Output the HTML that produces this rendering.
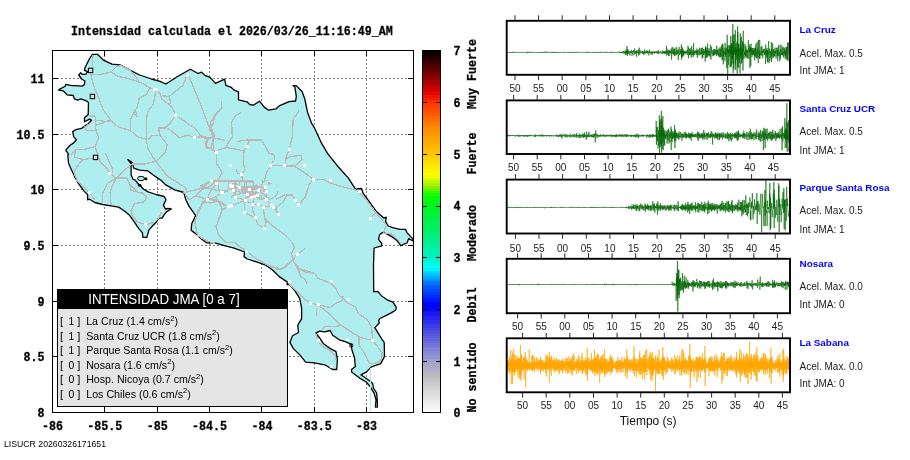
<!DOCTYPE html>
<html><head><meta charset="utf-8"><title>Intensidad</title>
<style>
html,body{margin:0;padding:0;background:#fff;}
body{width:910px;height:460px;position:relative;overflow:hidden;}
svg{display:block;will-change:transform;}
</style></head><body>
<svg width="910" height="460" viewBox="0 0 910 460" style="position:absolute;left:0;top:0">
<rect width="910" height="460" fill="#fff"/>
<g stroke="#808080" stroke-width="1" stroke-dasharray="2 2" shape-rendering="crispEdges">
<line x1="104.5" y1="51" x2="104.5" y2="412"/>
<line x1="157.5" y1="51" x2="157.5" y2="412"/>
<line x1="209.5" y1="51" x2="209.5" y2="412"/>
<line x1="261.5" y1="51" x2="261.5" y2="412"/>
<line x1="314.5" y1="51" x2="314.5" y2="412"/>
<line x1="366.5" y1="51" x2="366.5" y2="412"/>
<line x1="53" y1="78.5" x2="414" y2="78.5"/>
<line x1="53" y1="134.5" x2="414" y2="134.5"/>
<line x1="53" y1="189.5" x2="414" y2="189.5"/>
<line x1="53" y1="245.5" x2="414" y2="245.5"/>
<line x1="53" y1="301.5" x2="414" y2="301.5"/>
<line x1="53" y1="356.5" x2="414" y2="356.5"/>
</g>
<polygon points="92.5,54.3 97.5,54.3 103.4,60.1 112,64.1 119.9,64.9 130.4,70.4 139.7,75 151.5,79 160,81.4 165.9,84 177.1,76.8 190.3,69.2 198.2,73.5 201.5,72.1 204.8,75.4 210.1,77.4 215.4,83.4 224.6,79.1 225.9,85.3 231.2,87.3 233.8,89.9 238.5,91.9 238.5,99.8 247,101.8 249.7,104.5 253.6,105.1 259.6,101.2 264.2,107.1 268.6,110.2 275.8,108.9 279.8,105.6 289,101.6 295.6,101 296.3,96.4 294.9,87.1 293,85.6 296.3,85.6 302.2,91.8 304.8,99 307.5,112.2 311.4,122.8 314.5,127.9 321.8,143.7 327.7,153.6 338.2,166.8 348.2,177.9 355.5,189.1 361.4,188.5 363.4,193.7 369.3,201.6 375.9,210.9 383.8,218.1 386.2,217.2 385.6,221.6 388.4,226 392.7,227.6 399.9,229.3 405.4,229.3 407,232.6 412.5,238.6 413.4,240.8 412.5,240.8 408.7,238.6 407,243 402.6,244.7 401,245.8 397.1,240.8 393.8,238.1 390.5,235.9 386.2,233.7 382.3,232.6 379.6,234.8 378.5,239.2 381.8,243.6 381.8,245.8 374.1,248 373.5,265 373.7,291.7 378,291.7 381.3,295.7 387.8,300.2 393,302.2 396.3,307.4 395.7,310 391.7,312.6 387.8,314.6 380,318.5 378.7,320.4 379.3,323 374.8,327.6 378,332.8 382,339.3 384.2,342.4 384.5,355.6 384,357.6 380.7,363.6 371.4,366.9 366.2,372.1 360.9,374.8 369.5,380.7 372.7,383.4 373.4,388 376.7,393.2 377.4,403.1 377.4,407.1 375.4,407.1 376,399.8 374.1,393.2 370.1,386.6 366.2,382 359.6,378.1 351.6,372.1 351.6,369.5 355.6,366.2 355.2,365.5 354.5,357.6 351.9,349.7 351.2,344.4 345.9,341.8 339.3,339.8 332.7,335.2 330.1,330.5 324.8,331.9 319.6,331.2 315.6,333.2 319.6,337.8 323.5,343.7 330.1,348.4 336,351.6 337.4,359.6 336.7,369.5 332.7,369.5 324.8,364.8 314.3,362.9 305.7,362.2 299.8,354.9 293.2,348.4 289.9,342.4 292.5,335.8 298.5,332.5 297.8,325.3 298.4,324.1 301.6,318.8 301.6,308.2 299.7,298.4 295.1,291.1 289.8,284.5 287.1,284.5 287.1,281.9 279.2,276.6 272.6,270 265.7,265.2 256.5,261.9 247.3,259 244,256.6 244.6,252 234.1,248.1 223.5,245.4 214.9,242.8 206.4,242.8 201.1,238.8 196.5,234.2 191.9,230.9 191.1,230.1 191.8,223.5 195.7,215.6 189.1,206.4 185.8,199.8 183.8,192.5 174.6,189.9 165.4,184.6 160.8,180 159.5,179.4 152.9,174.8 147.6,170.8 139.7,170.2 133.7,168.2 132.4,162.9 127.8,159.6 131.1,163.6 131.1,174.8 133.1,179.4 135.1,180 138.4,184 143.6,189.2 148.2,191.9 156.2,194.5 164.1,196.5 166,199.8 163.4,205.1 165.4,209 168,208.4 171.3,209 166.7,211.6 164.1,214.9 162.1,218.2 158.8,218.2 156.2,222.2 152.2,226.2 148.9,230.1 146.9,237.4 143,237.4 142.3,232.7 139,228.8 134.4,222.2 129.8,215.6 124.5,211 118.6,207.1 110.7,205.8 102.7,204.5 94.8,202.5 89.6,199.2 87.6,199.8 87.6,194.6 83.6,190.6 78.4,183.4 74.4,176.1 70.4,167.5 68.5,162.9 67.8,155 68.5,154.1 65.8,150.1 69.8,145.5 73.7,142.9 76.4,139.6 73.7,136.9 72.7,131.6 75.7,129.7 81.6,128.4 85,125.7 88.2,123.7 91.5,120.4 89.6,119.1 84.5,121.8 84.5,117.8 88.2,114.5 88.5,102.6 86.3,100.8 81,98.8 77.7,100.1 74.4,98.8 73.1,95.5 67.1,94.8 63.2,90.9 58.6,90.2 59.9,89.1 65.2,86.2 65.8,84.3 71.8,85.6 75,85.6 82.3,86.2 84.5,84.3 84.9,81 81.6,79 78.7,75 80.6,72.8 82.3,74.4 85.6,74.4 87.6,71.7 84.5,70.4 84.9,67.8 89.6,58.5" fill="#afeeee" stroke="#000" stroke-width="1.3" stroke-linejoin="round"/>
<line x1="370.5" y1="368" x2="370.5" y2="412" stroke="#afeeee" stroke-width="1"/>
<ellipse cx="141" cy="178.5" rx="3.4" ry="2.2" fill="#afeeee" stroke="#000" stroke-width="1"/>
<ellipse cx="145.8" cy="178.8" rx="1.6" ry="1.5" fill="#000"/>
<ellipse cx="139.7" cy="185.3" rx="1.8" ry="1.2" fill="#000"/>
<ellipse cx="351.3" cy="345.5" rx="1.6" ry="1.8" fill="none" stroke="#000" stroke-width="1"/>
<g fill="none" stroke="#bcb8b8" stroke-width="1.3" stroke-linejoin="round" shape-rendering="crispEdges">
<polyline points="92.9,55.3 92.5,69.3 90.8,74.6 93.4,85.2 97.8,95.7 103.1,109.8 111,120.3 118,127 130.3,130.5 137.4,136.7 146.2,139.3 147.9,148.1 153.2,157.8 155.8,161.3 162,169.2 167.3,176.3 176,181.5 185.7,187.7 186.6,192.1 193.6,190.3 200.7,188.6 211.2,180.7 216.5,183.3"/>
<polyline points="90.8,74.6 100.4,74.6 111,72 116.3,66.7 120.7,65.8"/>
<polyline points="111,72 118,76.4 126.8,78.1 135.6,80.8 142.6,83.4 149.7,87.8 155.5,89.6"/>
<polyline points="120.7,65.8 130.3,70.2 135.6,76.4 139.1,81.6"/>
<polyline points="155.5,89.6 155,95.7 153.2,104.5 147.9,111.5 146.2,120.3 146.2,130 146.2,139.3"/>
<polyline points="149.7,87.8 147,94 139.1,98.4 137.4,106.3 133.8,113.3 130.3,120.3 130.3,130.5"/>
<polyline points="137.4,106.3 135.5,110 137,116.8 133.8,113.3"/>
<polyline points="155.5,89.6 160.2,94 162,99.2 169,104.5 172.5,108 175.5,115.4"/>
<polyline points="162,95.7 169,96.6 170.8,102.7 169,104.5"/>
<polyline points="169,96.6 183.1,85.2 187,75.1"/>
<polyline points="189.2,76.4 195.4,92.2 200.7,104.5 205.9,118.6 210.3,130 213.2,137"/>
<polyline points="175.5,115.4 170.8,122.1 165.5,128.2 158.5,127.4 160.2,135.8"/>
<polyline points="175.5,115.4 183.1,120.3 193.6,127.4 197.1,130.5 200.7,136.7"/>
<polyline points="220,109.8 214.7,116.8 213,123.8 209.5,130 209.5,125.3"/>
<polyline points="95.2,115.9 95.2,125.6 109.2,120.3"/>
<polyline points="89.9,115.9 95.2,115.9"/>
<polyline points="221.1,100.8 222,107.8 215.8,114 210.5,122.7 213.2,135 213.2,150"/>
<polyline points="241.3,112.7 235.2,115.7 231.6,122.7 232.5,136.8 227.3,144.1 226.4,147.6"/>
<polyline points="299.3,110.4 293.2,119.2 292.3,136.8 291.4,140.5 289.3,149.3 286.2,156.4 284.9,166"/>
<polyline points="247.5,146.5 249.2,140.3 261.5,140.3 265,145.6 268.6,152.9 273.8,154.6 274.7,159 270.3,165.7"/>
<polyline points="200,135 207,137.7 213.2,137.7 224.6,140.3"/>
<polyline points="147.9,139.3 151.4,135.8 160.2,135.8 167.3,144.6 165.5,151.6 158.5,159.6 155.8,161.3"/>
<polyline points="160.2,135.8 158.5,128.8 165.5,127 170.8,123.5"/>
<polyline points="165.5,127 170.8,130.5 179.6,137.6 188.4,135 194.5,137.6 200.7,136.7 207.7,139.3 205.9,146.4 211.2,149 216.5,152.5 216.5,163.4 222,172.2 219.3,177.5 217.6,182.7"/>
<polyline points="207.7,139.3 214.7,135.8 209.5,125.3"/>
<polyline points="95.2,120 96,130.5 98.7,137.6 95.2,146.4 97.8,155.2 100.4,162.2 107.5,169.2 109.8,173.3 116.3,178 121.5,172.7 128.6,166.6 132.1,164 144.4,164 155.8,161.3"/>
<polyline points="116.3,178 107.5,183.3 102.2,193.8 102.2,204"/>
<polyline points="116.3,178 112.7,185 110.1,192.1 111,205"/>
<polyline points="116.3,178 121.5,178 126.8,178 130.3,185 137.4,192.1 144.4,193.8"/>
<polyline points="105.7,153.4 108.4,160.4 111.9,167.5 112.7,172.7"/>
<polyline points="95.2,146.4 86.4,149 75.8,149.9 70.5,155.2"/>
<polyline points="75.8,149.9 74.1,156.9 82.9,159.6 95.2,157.8"/>
<polyline points="82.9,159.6 77.6,165.7 74.1,172.7 77.6,181.5 89,192.1 95,200"/>
<polyline points="96,130.5 86.4,130.5 84.6,127 89.9,123.5"/>
<polyline points="95.2,120 107.5,121.8 111,120.3"/>
<polyline points="284.9,166 286.2,158.5 291.4,156.4 301.1,155.5 302,159.9 295.8,165.2 284.9,166"/>
<polyline points="284.9,166 295.8,166.9 303.7,172.2 313.4,179.2 323.1,179.2 330.1,182.7 340.7,186.3 354.7,189.8 358.5,191.8 365.5,198.8 376,212.9 386.6,225.2 383.1,233.1 391.9,234 400.7,242.7"/>
<polyline points="376,212.9 370.8,218.1"/>
<polyline points="313.4,179.2 309,184.5 306.4,195.1 300.2,203 298.1,204.7"/>
<polyline points="284.9,166 273.8,165.2 270.3,165.7 266.8,172.2 264.2,181 259.8,188"/>
<polyline points="261.5,139.7 249.2,139.7 247.5,145.8 244,151.1 243.1,161.6 244.8,170.4 241.3,174.3"/>
<polyline points="249.2,139.7 236.9,141.4"/>
<polyline points="231.6,130 232.5,137"/>
<polyline points="226.4,147.6 236.9,149.3 244,151.1"/>
<polyline points="226.4,147.6 217.6,150.2 216.5,152.5"/>
<polyline points="213.2,137 211.4,147.6 207,148.5 205.3,142.3 208.8,138.8 200,135.3"/>
<polyline points="236,169.6 237.8,173.1 241.3,174.3 243,181"/>
<polyline points="200,186.3 210.5,181 252.7,181"/>
<polyline points="200,186.3 208.8,188 221.1,191.5 228.1,189.8 235.2,188 244,190.7 252.7,192.4 259.8,191.5 270.3,199.5 275.6,195.9 278.2,191.5"/>
<polyline points="200,196.8 207,199.5 217.6,200.3 228.1,206.5"/>
<polyline points="275.6,199.5 286.2,194.2 292.3,195.1 295.8,200.3 298.1,204.7"/>
<polyline points="217.6,182.7 219,190 221.1,191.5"/>
<polyline points="228,181 229,189.8"/>
<polyline points="235,181 235.2,188 233.4,190.3 235.2,197.2"/>
<polyline points="240,181 239,188"/>
<polyline points="246,181 247.1,194.2"/>
<polyline points="252.7,181 254,186 258.9,190.7"/>
<polyline points="233.4,190.3 247.1,194.2 254.5,196.5 266.5,199.1"/>
<polyline points="235.2,197.2 245.4,200.3 252.4,204.2 258.4,204.2 263.3,207.4 271.2,205.6 273.5,207.4"/>
<polyline points="247.1,194.2 245.4,200.3"/>
<polyline points="258.9,190.7 265.4,187.1 266.5,191.2 266.5,199.1 271.2,205.6"/>
<polyline points="254.5,196.5 252.4,204.2"/>
<polyline points="228.1,206.5 229,206.5 231.6,205.6 236.3,203.8 245.1,200.3"/>
<polyline points="216.5,183.3 210,192 207.3,199.4 202.9,202 197.6,212.6 194.9,223.1 197.6,235.4 206.4,240.7 215.2,243.4"/>
<polyline points="230.1,206.4 222.2,209.1 219.6,217.9 216,226.6 218.7,235.4 225.7,242.5 234.5,242.5 239.8,246.9 246.8,251.3 255.6,258.3 267.9,265.3 280.2,268.8"/>
<polyline points="202.9,202 210,203 218,201 222.2,209.1"/>
<polyline points="264.4,217.9 271.4,224.9 278.5,230.2 285.5,235.4 292.5,242.5 294.3,247.7 291.6,253 292.5,260.1 285.5,267.1 280.2,268.8 271.4,267.1"/>
<polyline points="292.5,260.1 296.9,254.8 304.8,248.6"/>
<polyline points="292.5,260.1 299.6,268.8 299.6,275"/>
<polyline points="299.6,268.8 306.6,270.6 314.5,273.2"/>
<polyline points="255.6,217.9 257.4,224 264.4,228.4 266.2,221.4 264.4,217.9 263.5,207.3"/>
<polyline points="255.6,217.9 252.4,210 252.4,204.1"/>
<polyline points="245.1,200.3 244.2,212.2 255.6,217.9"/>
<polyline points="263.5,207.3 271.4,205.5 273.5,207.3 278.5,214.3"/>
<polyline points="306.6,190 305.7,197 298.7,204.9 295.2,200.5 292.5,195.3 286.4,195.3 282.9,202.3 275.8,207.6 277.6,212.9"/>
<polyline points="292.5,260 296.9,267 305.7,272.3 314.5,273.2 318,278.5 330.3,282.9 335.6,288.1 339.1,295.2 347.9,303.1 354.9,306.6 358.5,313.6 367.3,319.8 371.6,326.8 372.5,337.4 372.3,340.4"/>
<polyline points="292.5,260 286.4,265.3 281.1,269.7 276,269.7"/>
<polyline points="296.9,267 300.4,275.8 305.7,280.2 306.6,283.7"/>
<polyline points="288.1,282 295.2,289.9 304,298.7 310.1,303.1 318,304.8 330.3,307.5 337.4,302.2 341.8,301.3 343,296"/>
<polyline points="318,304.8 330.3,314.5 340.9,325.1 351.4,332.1 360.2,337.4 372.3,340.4"/>
<polyline points="340.9,325.1 335.6,326.8 325.1,326.8 322.4,329.5"/>
<polyline points="316.3,307.5 316.3,316.3"/>
<polyline points="359.1,337.1 359.1,345.1 364.4,353 369.7,363.5"/>
<polyline points="372.3,340.4 377.6,346.4 382.2,353 381.5,359.6 374.9,363.5 369.7,363.5"/>
<polyline points="315.6,333.2 318.2,340.4 322.2,346.4 330.1,350.3 335.4,355.6 336,360"/>
<polyline points="129.8,184 131.1,190.5 143,193.2 146.9,197.1 144.3,201.8 134.4,203.7 131.1,210.3 132.4,215.6 137.7,222.2 145.6,224.8 154.8,222.2 158.8,218.2 162.8,210.3"/>
<polyline points="183.8,191.9 189.1,199.8 195.7,195.8 202.3,189.2 207.6,187.9 212.9,184 216.8,182.6"/>
<polyline points="195.7,195.8 207.6,199.8 215.5,197.1 222.1,192.5 228,191"/>
<polyline points="207.6,199.8 202.3,203.7 199.7,210.3 195.7,218.2 194.4,223.5"/>
<polyline points="215.5,197.1 219.5,203.7 228.7,206.4 222.1,210.3 218.1,219.6"/>
<polyline points="250.9,196.6 249.6,197.2 250.3,194.6"/>
<polyline points="267.1,191.7 264.7,190.1 267.7,189.9"/>
<polyline points="255.3,186.6 256.7,184.5 257.5,186.7"/>
<polyline points="235.4,189.9 237.1,187.3 238.6,187.9"/>
<polyline points="249.3,192.1 252.9,191.9 254.3,194.2"/>
<polyline points="245.5,181.1 244.4,182.9 244.1,185.5"/>
<polyline points="253.0,189.6 249.3,187.9 252.1,187.5"/>
<polyline points="244.7,188.3 244.7,187.6 243.8,188.1"/>
<polyline points="233.2,186.1 235.0,188.7 237.1,191.6"/>
<polyline points="247.5,188.6 251.1,191.4 253.5,191.8"/>
<polyline points="248.6,188.0 251.9,188.4 250.6,185.8"/>
<polyline points="266.6,180.2 262.4,182.0 261.9,179.9"/>
<polyline points="245.8,198.4 249.5,195.7 250.2,192.9"/>
<polyline points="248.4,187.0 252.2,189.9 252.3,192.9"/>
<polyline points="248.7,192.7 249.7,189.9 247.9,189.3"/>
<polyline points="246.0,189.3 241.4,191.5 240.3,194.3"/>
<polyline points="257.0,188.3 256.6,188.5 257.5,189.0"/>
<polyline points="238.3,188.7 242.7,188.8 242.3,190.1"/>
<polyline points="250.6,194.8 255.4,194.9 255.7,192.0"/>
<polyline points="239.8,194.0 235.0,194.7 235.8,192.1"/>
<polyline points="243.0,187.4 244.8,186.5 246.0,187.9"/>
<polyline points="253.2,191.2 254.9,194.0 253.4,193.7"/>
<polyline points="243.4,188.8 242.0,187.7 241.3,188.3"/>
<polyline points="247.3,195.2 250.0,192.3 250.4,193.7"/>
<polyline points="247.6,194.0 250.7,192.4 248.8,192.0"/>
<polyline points="248.7,189.0 246.9,188.0 248.9,187.7"/>
<polyline points="253.4,188.8 251.7,189.7 254.1,189.4"/>
<polyline points="250.7,193.3 251.0,191.4 252.9,193.4"/>
<polyline points="252.9,194.3 256.0,195.2 257.9,194.2"/>
<polyline points="255.1,193.7 258.1,192.3 257.1,191.8"/>
<polyline points="241.9,193.2 246.1,191.2 243.1,193.8"/>
<polyline points="269.3,181.9 268.7,184.6 271.2,183.0"/>
<polyline points="249.5,182.4 251.1,182.6 249.9,181.6"/>
<polyline points="250.5,192.7 251.4,191.4 253.2,188.7"/>
<polyline points="261.4,187.1 265.6,189.4 268.0,189.9"/>
<polyline points="264.8,191.6 261.6,190.4 262.5,190.6"/>
<polyline points="231.8,196.5 232.9,195.5 231.4,197.7"/>
<polyline points="234.4,192.1 233.0,190.3 233.2,192.2"/>
<polyline points="257.6,198.0 261.8,199.9 263.7,196.9"/>
<polyline points="237.6,184.5 233.1,183.1 231.7,183.3"/>
<polyline points="239,187 262,187"/>
<polyline points="242,189 258,189"/>
<polyline points="243,193 262,196"/>
</g>
<g fill="#fff" shape-rendering="crispEdges">
<rect x="154" y="88" width="3" height="3"/>
<rect x="186" y="74" width="3" height="3"/>
<rect x="174" y="114" width="3" height="3"/>
<rect x="193" y="136" width="3" height="3"/>
<rect x="215" y="151" width="3" height="3"/>
<rect x="108" y="172" width="3" height="3"/>
<rect x="88" y="191" width="3" height="3"/>
<rect x="210" y="179" width="3" height="3"/>
<rect x="215" y="182" width="3" height="3"/>
<rect x="246" y="145" width="3" height="3"/>
<rect x="288" y="148" width="3" height="3"/>
<rect x="229" y="164" width="3" height="3"/>
<rect x="269" y="164" width="3" height="3"/>
<rect x="283" y="164" width="3" height="3"/>
<rect x="303" y="164" width="3" height="3"/>
<rect x="240" y="173" width="3" height="3"/>
<rect x="312" y="178" width="3" height="3"/>
<rect x="329" y="179" width="3" height="3"/>
<rect x="210" y="179" width="3" height="3"/>
<rect x="215" y="182" width="3" height="3"/>
<rect x="229" y="184" width="3" height="3"/>
<rect x="231" y="185" width="3" height="3"/>
<rect x="238" y="186" width="3" height="3"/>
<rect x="232" y="189" width="3" height="3"/>
<rect x="220" y="191" width="3" height="3"/>
<rect x="248" y="188" width="3" height="3"/>
<rect x="246" y="193" width="3" height="3"/>
<rect x="257" y="189" width="3" height="3"/>
<rect x="264" y="186" width="3" height="3"/>
<rect x="265" y="190" width="3" height="3"/>
<rect x="234" y="196" width="3" height="3"/>
<rect x="250" y="196" width="3" height="3"/>
<rect x="253" y="195" width="3" height="3"/>
<rect x="256" y="194" width="3" height="3"/>
<rect x="265" y="198" width="3" height="3"/>
<rect x="244" y="199" width="3" height="3"/>
<rect x="206" y="198" width="3" height="3"/>
<rect x="251" y="203" width="3" height="3"/>
<rect x="257" y="203" width="3" height="3"/>
<rect x="262" y="206" width="3" height="3"/>
<rect x="270" y="204" width="3" height="3"/>
<rect x="272" y="206" width="3" height="3"/>
<rect x="228" y="205" width="3" height="3"/>
<rect x="230" y="204" width="3" height="3"/>
<rect x="294" y="199" width="3" height="3"/>
<rect x="297" y="203" width="3" height="3"/>
<rect x="358" y="190" width="3" height="3"/>
<rect x="262" y="206" width="3" height="3"/>
<rect x="277" y="213" width="3" height="3"/>
<rect x="243" y="211" width="3" height="3"/>
<rect x="254" y="216" width="3" height="3"/>
<rect x="263" y="227" width="3" height="3"/>
<rect x="245" y="250" width="3" height="3"/>
<rect x="296" y="253" width="3" height="3"/>
<rect x="369" y="217" width="3" height="3"/>
<rect x="288" y="280" width="3" height="3"/>
<rect x="330" y="280" width="3" height="3"/>
<rect x="347" y="298" width="3" height="3"/>
<rect x="309" y="302" width="3" height="3"/>
<rect x="317" y="303" width="3" height="3"/>
<rect x="317" y="339" width="3" height="3"/>
<rect x="346" y="338" width="3" height="3"/>
<rect x="371" y="339" width="3" height="3"/>
<rect x="330" y="365" width="3" height="3"/>
<rect x="144" y="223" width="3" height="3"/>
<rect x="161" y="209" width="3" height="3"/>
<rect x="206" y="198" width="3" height="3"/>
<rect x="221" y="191" width="3" height="3"/>
<rect x="227" y="205" width="3" height="3"/>
<rect x="153" y="88" width="5" height="3"/>
</g>
<rect x="88.39999999999999" y="68.2" width="4.4" height="4.4" fill="#ddd" stroke="#000" stroke-width="1"/>
<rect x="90.2" y="94.3" width="4.4" height="4.4" fill="#ddd" stroke="#000" stroke-width="1"/>
<rect x="93.3" y="155.20000000000002" width="4.4" height="4.4" fill="#ddd" stroke="#000" stroke-width="1"/>
<g stroke="#000" stroke-width="1" shape-rendering="crispEdges" fill="none">
<rect x="52.5" y="50.5" width="361" height="362"/>
<line x1="104.5" y1="51" x2="104.5" y2="56"/><line x1="104.5" y1="407" x2="104.5" y2="412"/>
<line x1="157.5" y1="51" x2="157.5" y2="56"/><line x1="157.5" y1="407" x2="157.5" y2="412"/>
<line x1="209.5" y1="51" x2="209.5" y2="56"/><line x1="209.5" y1="407" x2="209.5" y2="412"/>
<line x1="261.5" y1="51" x2="261.5" y2="56"/><line x1="261.5" y1="407" x2="261.5" y2="412"/>
<line x1="314.5" y1="51" x2="314.5" y2="56"/><line x1="314.5" y1="407" x2="314.5" y2="412"/>
<line x1="366.5" y1="51" x2="366.5" y2="56"/><line x1="366.5" y1="407" x2="366.5" y2="412"/>
<line x1="53" y1="78.5" x2="58" y2="78.5"/><line x1="408" y1="78.5" x2="413" y2="78.5"/>
<line x1="53" y1="134.5" x2="58" y2="134.5"/><line x1="408" y1="134.5" x2="413" y2="134.5"/>
<line x1="53" y1="189.5" x2="58" y2="189.5"/><line x1="408" y1="189.5" x2="413" y2="189.5"/>
<line x1="53" y1="245.5" x2="58" y2="245.5"/><line x1="408" y1="245.5" x2="413" y2="245.5"/>
<line x1="53" y1="301.5" x2="58" y2="301.5"/><line x1="408" y1="301.5" x2="413" y2="301.5"/>
<line x1="53" y1="356.5" x2="58" y2="356.5"/><line x1="408" y1="356.5" x2="413" y2="356.5"/>
</g>
<rect x="57" y="289" width="231" height="20" fill="#000"/>
<rect x="57.5" y="308.500" width="230" height="98" fill="#e5e5e5" stroke="#000" stroke-width="1" shape-rendering="crispEdges"/>
<defs><linearGradient id="cb" x1="0" y1="0" x2="0" y2="1">
<stop offset="0.00%" stop-color="rgb(0,0,0)"/>
<stop offset="7.14%" stop-color="rgb(139,0,0)"/>
<stop offset="11.43%" stop-color="rgb(225,0,0)"/>
<stop offset="14.29%" stop-color="rgb(255,50,0)"/>
<stop offset="21.43%" stop-color="rgb(255,140,0)"/>
<stop offset="28.57%" stop-color="rgb(255,200,0)"/>
<stop offset="34.29%" stop-color="rgb(255,255,0)"/>
<stop offset="37.14%" stop-color="rgb(160,240,0)"/>
<stop offset="40.00%" stop-color="rgb(0,255,0)"/>
<stop offset="42.86%" stop-color="rgb(0,245,30)"/>
<stop offset="50.00%" stop-color="rgb(0,240,110)"/>
<stop offset="57.14%" stop-color="rgb(0,240,200)"/>
<stop offset="60.00%" stop-color="rgb(0,255,255)"/>
<stop offset="64.29%" stop-color="rgb(0,110,255)"/>
<stop offset="70.00%" stop-color="rgb(0,0,255)"/>
<stop offset="71.43%" stop-color="rgb(10,10,250)"/>
<stop offset="78.57%" stop-color="rgb(90,90,225)"/>
<stop offset="85.71%" stop-color="rgb(160,160,205)"/>
<stop offset="90.00%" stop-color="rgb(190,190,190)"/>
<stop offset="100.00%" stop-color="rgb(255,255,255)"/>
</linearGradient></defs>
<g shape-rendering="crispEdges">
<rect x="422.5" y="409.91" width="18" height="3.19" fill="rgb(253,253,253)"/>
<rect x="422.5" y="407.33" width="18" height="3.19" fill="rgb(248,248,248)"/>
<rect x="422.5" y="404.74" width="18" height="3.19" fill="rgb(243,243,243)"/>
<rect x="422.5" y="402.16" width="18" height="3.19" fill="rgb(239,239,239)"/>
<rect x="422.5" y="399.57" width="18" height="3.19" fill="rgb(234,234,234)"/>
<rect x="422.5" y="396.99" width="18" height="3.19" fill="rgb(229,229,229)"/>
<rect x="422.5" y="394.40" width="18" height="3.19" fill="rgb(225,225,225)"/>
<rect x="422.5" y="391.81" width="18" height="3.19" fill="rgb(220,220,220)"/>
<rect x="422.5" y="389.23" width="18" height="3.19" fill="rgb(216,216,216)"/>
<rect x="422.5" y="386.64" width="18" height="3.19" fill="rgb(211,211,211)"/>
<rect x="422.5" y="384.06" width="18" height="3.19" fill="rgb(206,206,206)"/>
<rect x="422.5" y="381.47" width="18" height="3.19" fill="rgb(202,202,202)"/>
<rect x="422.5" y="378.89" width="18" height="3.19" fill="rgb(197,197,197)"/>
<rect x="422.5" y="376.30" width="18" height="3.19" fill="rgb(192,192,192)"/>
<rect x="422.5" y="373.71" width="18" height="3.19" fill="rgb(188,188,191)"/>
<rect x="422.5" y="371.13" width="18" height="3.19" fill="rgb(182,182,194)"/>
<rect x="422.5" y="368.54" width="18" height="3.19" fill="rgb(178,178,196)"/>
<rect x="422.5" y="365.96" width="18" height="3.19" fill="rgb(172,172,199)"/>
<rect x="422.5" y="363.37" width="18" height="3.19" fill="rgb(168,168,201)"/>
<rect x="422.5" y="360.79" width="18" height="3.19" fill="rgb(162,162,204)"/>
<rect x="422.5" y="358.20" width="18" height="3.19" fill="rgb(156,156,206)"/>
<rect x="422.5" y="355.61" width="18" height="3.19" fill="rgb(149,149,208)"/>
<rect x="422.5" y="353.03" width="18" height="3.19" fill="rgb(142,142,210)"/>
<rect x="422.5" y="350.44" width="18" height="3.19" fill="rgb(136,136,212)"/>
<rect x="422.5" y="347.86" width="18" height="3.19" fill="rgb(129,129,214)"/>
<rect x="422.5" y="345.27" width="18" height="3.19" fill="rgb(122,122,216)"/>
<rect x="422.5" y="342.69" width="18" height="3.19" fill="rgb(114,114,218)"/>
<rect x="422.5" y="340.10" width="18" height="3.19" fill="rgb(108,108,220)"/>
<rect x="422.5" y="337.51" width="18" height="3.19" fill="rgb(100,100,222)"/>
<rect x="422.5" y="334.93" width="18" height="3.19" fill="rgb(93,93,224)"/>
<rect x="422.5" y="332.34" width="18" height="3.19" fill="rgb(86,86,226)"/>
<rect x="422.5" y="329.76" width="18" height="3.19" fill="rgb(78,78,229)"/>
<rect x="422.5" y="327.17" width="18" height="3.19" fill="rgb(70,70,231)"/>
<rect x="422.5" y="324.59" width="18" height="3.19" fill="rgb(62,62,234)"/>
<rect x="422.5" y="322.00" width="18" height="3.19" fill="rgb(54,54,236)"/>
<rect x="422.5" y="319.41" width="18" height="3.19" fill="rgb(46,46,239)"/>
<rect x="422.5" y="316.83" width="18" height="3.19" fill="rgb(38,38,241)"/>
<rect x="422.5" y="314.24" width="18" height="3.19" fill="rgb(30,30,244)"/>
<rect x="422.5" y="311.66" width="18" height="3.19" fill="rgb(22,22,246)"/>
<rect x="422.5" y="309.07" width="18" height="3.19" fill="rgb(14,14,249)"/>
<rect x="422.5" y="306.49" width="18" height="3.19" fill="rgb(7,7,251)"/>
<rect x="422.5" y="303.90" width="18" height="3.19" fill="rgb(2,2,254)"/>
<rect x="422.5" y="301.31" width="18" height="3.19" fill="rgb(0,7,255)"/>
<rect x="422.5" y="298.73" width="18" height="3.19" fill="rgb(0,21,255)"/>
<rect x="422.5" y="296.14" width="18" height="3.19" fill="rgb(0,34,255)"/>
<rect x="422.5" y="293.56" width="18" height="3.19" fill="rgb(0,48,255)"/>
<rect x="422.5" y="290.97" width="18" height="3.19" fill="rgb(0,62,255)"/>
<rect x="422.5" y="288.39" width="18" height="3.19" fill="rgb(0,76,255)"/>
<rect x="422.5" y="285.80" width="18" height="3.19" fill="rgb(0,89,255)"/>
<rect x="422.5" y="283.21" width="18" height="3.19" fill="rgb(0,103,255)"/>
<rect x="422.5" y="280.63" width="18" height="3.19" fill="rgb(0,122,255)"/>
<rect x="422.5" y="278.04" width="18" height="3.19" fill="rgb(0,146,255)"/>
<rect x="422.5" y="275.46" width="18" height="3.19" fill="rgb(0,170,255)"/>
<rect x="422.5" y="272.87" width="18" height="3.19" fill="rgb(0,195,255)"/>
<rect x="422.5" y="270.29" width="18" height="3.19" fill="rgb(0,219,255)"/>
<rect x="422.5" y="267.70" width="18" height="3.19" fill="rgb(0,243,255)"/>
<rect x="422.5" y="265.11" width="18" height="3.19" fill="rgb(0,253,248)"/>
<rect x="422.5" y="262.53" width="18" height="3.19" fill="rgb(0,249,234)"/>
<rect x="422.5" y="259.94" width="18" height="3.19" fill="rgb(0,246,221)"/>
<rect x="422.5" y="257.36" width="18" height="3.19" fill="rgb(0,242,207)"/>
<rect x="422.5" y="254.77" width="18" height="3.19" fill="rgb(0,240,195)"/>
<rect x="422.5" y="252.19" width="18" height="3.19" fill="rgb(0,240,186)"/>
<rect x="422.5" y="249.60" width="18" height="3.19" fill="rgb(0,240,178)"/>
<rect x="422.5" y="247.01" width="18" height="3.19" fill="rgb(0,240,169)"/>
<rect x="422.5" y="244.43" width="18" height="3.19" fill="rgb(0,240,160)"/>
<rect x="422.5" y="241.84" width="18" height="3.19" fill="rgb(0,240,150)"/>
<rect x="422.5" y="239.26" width="18" height="3.19" fill="rgb(0,240,142)"/>
<rect x="422.5" y="236.67" width="18" height="3.19" fill="rgb(0,240,132)"/>
<rect x="422.5" y="234.09" width="18" height="3.19" fill="rgb(0,240,124)"/>
<rect x="422.5" y="231.50" width="18" height="3.19" fill="rgb(0,240,114)"/>
<rect x="422.5" y="228.91" width="18" height="3.19" fill="rgb(0,240,106)"/>
<rect x="422.5" y="226.33" width="18" height="3.19" fill="rgb(0,241,98)"/>
<rect x="422.5" y="223.74" width="18" height="3.19" fill="rgb(0,241,90)"/>
<rect x="422.5" y="221.16" width="18" height="3.19" fill="rgb(0,242,82)"/>
<rect x="422.5" y="218.57" width="18" height="3.19" fill="rgb(0,242,74)"/>
<rect x="422.5" y="215.99" width="18" height="3.19" fill="rgb(0,243,66)"/>
<rect x="422.5" y="213.40" width="18" height="3.19" fill="rgb(0,243,58)"/>
<rect x="422.5" y="210.81" width="18" height="3.19" fill="rgb(0,244,50)"/>
<rect x="422.5" y="208.23" width="18" height="3.19" fill="rgb(0,244,42)"/>
<rect x="422.5" y="205.64" width="18" height="3.19" fill="rgb(0,245,34)"/>
<rect x="422.5" y="203.06" width="18" height="3.19" fill="rgb(0,246,26)"/>
<rect x="422.5" y="200.47" width="18" height="3.19" fill="rgb(0,249,19)"/>
<rect x="422.5" y="197.89" width="18" height="3.19" fill="rgb(0,251,11)"/>
<rect x="422.5" y="195.30" width="18" height="3.19" fill="rgb(0,254,4)"/>
<rect x="422.5" y="192.71" width="18" height="3.19" fill="rgb(20,253,0)"/>
<rect x="422.5" y="190.13" width="18" height="3.19" fill="rgb(60,249,0)"/>
<rect x="422.5" y="187.54" width="18" height="3.19" fill="rgb(100,246,0)"/>
<rect x="422.5" y="184.96" width="18" height="3.19" fill="rgb(140,242,0)"/>
<rect x="422.5" y="182.37" width="18" height="3.19" fill="rgb(172,242,0)"/>
<rect x="422.5" y="179.79" width="18" height="3.19" fill="rgb(196,246,0)"/>
<rect x="422.5" y="177.20" width="18" height="3.19" fill="rgb(219,249,0)"/>
<rect x="422.5" y="174.61" width="18" height="3.19" fill="rgb(243,253,0)"/>
<rect x="422.5" y="172.03" width="18" height="3.19" fill="rgb(255,252,0)"/>
<rect x="422.5" y="169.44" width="18" height="3.19" fill="rgb(255,245,0)"/>
<rect x="422.5" y="166.86" width="18" height="3.19" fill="rgb(255,238,0)"/>
<rect x="422.5" y="164.27" width="18" height="3.19" fill="rgb(255,231,0)"/>
<rect x="422.5" y="161.69" width="18" height="3.19" fill="rgb(255,224,0)"/>
<rect x="422.5" y="159.10" width="18" height="3.19" fill="rgb(255,217,0)"/>
<rect x="422.5" y="156.51" width="18" height="3.19" fill="rgb(255,210,0)"/>
<rect x="422.5" y="153.93" width="18" height="3.19" fill="rgb(255,203,0)"/>
<rect x="422.5" y="151.34" width="18" height="3.19" fill="rgb(255,197,0)"/>
<rect x="422.5" y="148.76" width="18" height="3.19" fill="rgb(255,191,0)"/>
<rect x="422.5" y="146.17" width="18" height="3.19" fill="rgb(255,185,0)"/>
<rect x="422.5" y="143.59" width="18" height="3.19" fill="rgb(255,179,0)"/>
<rect x="422.5" y="141.00" width="18" height="3.19" fill="rgb(255,173,0)"/>
<rect x="422.5" y="138.41" width="18" height="3.19" fill="rgb(255,167,0)"/>
<rect x="422.5" y="135.83" width="18" height="3.19" fill="rgb(255,161,0)"/>
<rect x="422.5" y="133.24" width="18" height="3.19" fill="rgb(255,155,0)"/>
<rect x="422.5" y="130.66" width="18" height="3.19" fill="rgb(255,149,0)"/>
<rect x="422.5" y="128.07" width="18" height="3.19" fill="rgb(255,143,0)"/>
<rect x="422.5" y="125.49" width="18" height="3.19" fill="rgb(255,136,0)"/>
<rect x="422.5" y="122.90" width="18" height="3.19" fill="rgb(255,127,0)"/>
<rect x="422.5" y="120.31" width="18" height="3.19" fill="rgb(255,118,0)"/>
<rect x="422.5" y="117.73" width="18" height="3.19" fill="rgb(255,109,0)"/>
<rect x="422.5" y="115.14" width="18" height="3.19" fill="rgb(255,100,0)"/>
<rect x="422.5" y="112.56" width="18" height="3.19" fill="rgb(255,91,0)"/>
<rect x="422.5" y="109.97" width="18" height="3.19" fill="rgb(255,81,0)"/>
<rect x="422.5" y="107.39" width="18" height="3.19" fill="rgb(255,72,0)"/>
<rect x="422.5" y="104.80" width="18" height="3.19" fill="rgb(255,64,0)"/>
<rect x="422.5" y="102.21" width="18" height="3.19" fill="rgb(255,55,0)"/>
<rect x="422.5" y="99.63" width="18" height="3.19" fill="rgb(251,44,0)"/>
<rect x="422.5" y="97.04" width="18" height="3.19" fill="rgb(244,31,0)"/>
<rect x="422.5" y="94.46" width="18" height="3.19" fill="rgb(236,19,0)"/>
<rect x="422.5" y="91.87" width="18" height="3.19" fill="rgb(229,6,0)"/>
<rect x="422.5" y="89.29" width="18" height="3.19" fill="rgb(218,0,0)"/>
<rect x="422.5" y="86.70" width="18" height="3.19" fill="rgb(203,0,0)"/>
<rect x="422.5" y="84.11" width="18" height="3.19" fill="rgb(189,0,0)"/>
<rect x="422.5" y="81.53" width="18" height="3.19" fill="rgb(175,0,0)"/>
<rect x="422.5" y="78.94" width="18" height="3.19" fill="rgb(161,0,0)"/>
<rect x="422.5" y="76.36" width="18" height="3.19" fill="rgb(146,0,0)"/>
<rect x="422.5" y="73.77" width="18" height="3.19" fill="rgb(132,0,0)"/>
<rect x="422.5" y="71.19" width="18" height="3.19" fill="rgb(118,0,0)"/>
<rect x="422.5" y="68.60" width="18" height="3.19" fill="rgb(104,0,0)"/>
<rect x="422.5" y="66.01" width="18" height="3.19" fill="rgb(90,0,0)"/>
<rect x="422.5" y="63.43" width="18" height="3.19" fill="rgb(76,0,0)"/>
<rect x="422.5" y="60.84" width="18" height="3.19" fill="rgb(63,0,0)"/>
<rect x="422.5" y="58.26" width="18" height="3.19" fill="rgb(49,0,0)"/>
<rect x="422.5" y="55.67" width="18" height="3.19" fill="rgb(35,0,0)"/>
<rect x="422.5" y="53.09" width="18" height="3.19" fill="rgb(21,0,0)"/>
<rect x="422.5" y="50.50" width="18" height="3.19" fill="rgb(7,0,0)"/>
</g>
<rect x="422.5" y="50.5" width="18" height="362" fill="none" stroke="#000" stroke-width="1" shape-rendering="crispEdges"/>
<g stroke="#000" stroke-width="1" shape-rendering="crispEdges">
<line x1="423" y1="361.5" x2="427" y2="361.5"/><line x1="436" y1="361.5" x2="440" y2="361.5"/>
<line x1="423" y1="309.5" x2="427" y2="309.5"/><line x1="436" y1="309.5" x2="440" y2="309.5"/>
<line x1="423" y1="257.5" x2="427" y2="257.5"/><line x1="436" y1="257.5" x2="440" y2="257.5"/>
<line x1="423" y1="206.5" x2="427" y2="206.5"/><line x1="436" y1="206.5" x2="440" y2="206.5"/>
<line x1="423" y1="154.5" x2="427" y2="154.5"/><line x1="436" y1="154.5" x2="440" y2="154.5"/>
<line x1="423" y1="102.5" x2="427" y2="102.5"/><line x1="436" y1="102.5" x2="440" y2="102.5"/>
</g>
<polyline points="507.70,52.4 507.77,52.5 507.84,52.3 507.91,52.2 507.99,52.3 508.06,52.4 508.13,52.6 508.20,52.5 508.27,52.3 508.34,52.3 508.41,52.2 508.49,52.1 508.56,52.2 508.63,52.4 508.70,52.5 508.77,52.5 508.84,52.3 508.91,52.1 508.99,52.0 509.06,52.0 509.13,52.2 509.20,52.3 509.27,52.4 509.34,52.4 509.41,52.4 509.49,52.3 509.56,52.2 509.63,52.3 509.70,52.3 509.77,52.4 509.84,52.3 509.91,52.2 509.99,52.2 510.06,52.2 510.13,52.3 510.20,52.4 510.27,52.4 510.34,52.5 510.41,52.4 510.49,52.2 510.56,52.2 510.63,52.3 510.70,52.3 510.77,52.3 510.84,52.1 510.91,52.2 510.99,52.4 511.06,52.6 511.13,52.4 511.20,52.1 511.27,52.0 511.34,52.2 511.41,52.3 511.49,52.4 511.56,52.5 511.63,52.4 511.70,52.3 511.77,52.2 511.84,52.2 511.91,52.3 511.99,52.3 512.06,52.3 512.13,52.3 512.20,52.4 512.27,52.5 512.34,52.5 512.41,52.3 512.49,52.3 512.56,52.0 512.63,51.9 512.70,52.0 512.77,52.3 512.84,52.7 512.91,52.8 512.99,52.8 513.06,52.6 513.13,52.5 513.20,52.3 513.27,52.2 513.34,51.9 513.41,51.7 513.49,51.7 513.56,51.9 513.63,52.2 513.70,52.4 513.77,52.5 513.84,52.5 513.91,52.5 513.99,52.4 514.06,52.3 514.13,52.2 514.20,52.3 514.27,52.3 514.34,52.2 514.41,52.2 514.49,52.3 514.56,52.5 514.63,52.4 514.70,52.3 514.77,52.2 514.84,52.3 514.91,52.4 514.99,52.3 515.06,52.1 515.13,52.1 515.20,52.2 515.27,52.4 515.34,52.5 515.41,52.5 515.49,52.4 515.56,52.2 515.63,52.2 515.70,52.4 515.77,52.4 515.84,52.3 515.91,52.1 515.99,52.1 516.06,52.3 516.13,52.4 516.20,52.3 516.27,52.2 516.34,52.2 516.41,52.3 516.49,52.4 516.56,52.5 516.63,52.3 516.70,52.3 516.77,52.3 516.84,52.3 516.91,52.4 516.99,52.5 517.06,52.4 517.13,52.3 517.20,52.3 517.27,52.2 517.34,52.2 517.41,52.3 517.49,52.4 517.56,52.4 517.63,52.3 517.70,52.3 517.77,52.3 517.84,52.3 517.91,52.3 517.99,52.3 518.06,52.3 518.13,52.3 518.20,52.3 518.27,52.2 518.34,52.2 518.41,52.2 518.49,52.2 518.56,52.2 518.63,52.3 518.70,52.5 518.77,52.7 518.84,52.6 518.91,52.4 518.99,52.2 519.06,52.0 519.13,52.1 519.20,52.2 519.27,52.3 519.34,52.3 519.41,52.3 519.49,52.2 519.56,52.1 519.63,52.1 519.70,52.3 519.77,52.4 519.84,52.5 519.91,52.6 519.99,52.6 520.06,52.5 520.13,52.3 520.20,52.2 520.27,52.2 520.34,52.3 520.41,52.3 520.49,52.4 520.56,52.3 520.63,52.2 520.70,52.2 520.77,52.3 520.84,52.4 520.91,52.5 520.99,52.4 521.06,52.2 521.13,52.2 521.20,52.3 521.27,52.3 521.34,52.3 521.41,52.2 521.49,52.1 521.56,52.1 521.63,52.2 521.70,52.2 521.77,52.3 521.84,52.5 521.91,52.6 521.99,52.7 522.06,52.8 522.13,52.6 522.20,52.3 522.27,52.1 522.34,52.0 522.41,52.1 522.49,52.3 522.56,52.3 522.63,52.2 522.70,52.2 522.77,52.2 522.84,52.2 522.91,52.2 522.99,52.3 523.06,52.4 523.13,52.5 523.20,52.3 523.27,52.1 523.34,52.1 523.41,52.3 523.49,52.3 523.56,52.3 523.63,52.3 523.70,52.5 523.77,52.5 523.84,52.3 523.91,52.3 523.99,52.3 524.06,52.2 524.13,52.2 524.20,52.3 524.27,52.4 524.34,52.3 524.41,52.3 524.49,52.4 524.56,52.4 524.63,52.3 524.70,52.4 524.77,52.5 524.84,52.3 524.91,52.2 524.99,52.2 525.06,52.2 525.13,52.1 525.20,52.2 525.27,52.2 525.34,52.2 525.41,52.2 525.49,52.3 525.56,52.4 525.63,52.5 525.70,52.4 525.77,52.3 525.84,52.3 525.91,52.2 525.99,52.0 526.06,52.0 526.13,52.2 526.20,52.3 526.27,52.6 526.34,53.0 526.41,52.9 526.49,52.5 526.56,52.2 526.63,52.0 526.70,52.1 526.77,52.2 526.84,52.3 526.91,52.3 526.99,52.3 527.06,52.3 527.13,52.3 527.20,52.2 527.27,52.2 527.34,52.2 527.41,52.1 527.49,51.9 527.56,51.7 527.63,51.9 527.70,52.1 527.77,52.5 527.84,53.1 527.91,53.4 527.99,53.0 528.06,52.6 528.13,52.4 528.20,52.2 528.27,52.0 528.34,51.9 528.41,52.0 528.49,52.2 528.56,52.3 528.63,52.5 528.70,52.4 528.77,52.3 528.84,52.3 528.91,52.4 528.99,52.4 529.06,52.4 529.13,52.4 529.20,52.2 529.27,52.2 529.34,52.3 529.41,52.3 529.49,52.3 529.56,52.2 529.63,52.3 529.70,52.3 529.77,52.3 529.84,52.2 529.91,52.2 529.99,52.1 530.06,52.1 530.13,51.9 530.20,52.0 530.27,52.4 530.34,52.8 530.41,52.7 530.49,52.3 530.56,52.3 530.63,52.4 530.70,52.6 530.77,52.5 530.84,52.3 530.91,52.3 530.99,52.3 531.06,52.2 531.13,52.0 531.20,51.9 531.27,52.1 531.34,52.2 531.41,52.3 531.49,52.4 531.56,52.4 531.63,52.5 531.70,52.4 531.77,52.3 531.84,52.3 531.91,52.2 531.99,52.3 532.06,52.3 532.13,52.3 532.20,52.4 532.27,52.5 532.34,52.5 532.41,52.4 532.49,52.2 532.56,52.1 532.63,52.1 532.70,52.2 532.77,52.2 532.84,52.2 532.91,52.1 532.99,52.2 533.06,52.3 533.13,52.6 533.20,52.8 533.27,52.6 533.34,52.3 533.41,52.3 533.49,52.1 533.56,52.0 533.63,52.0 533.70,52.1 533.77,52.3 533.84,52.4 533.91,52.5 533.99,52.5 534.06,52.4 534.13,52.4 534.20,52.3 534.27,52.3 534.34,52.3 534.41,52.3 534.49,52.3 534.56,52.2 534.63,52.3 534.70,52.3 534.77,52.3 534.84,52.2 534.91,52.3 534.99,52.3 535.06,52.3 535.13,52.3 535.20,52.3 535.27,52.3 535.34,52.2 535.41,52.1 535.49,52.1 535.56,52.2 535.63,52.3 535.70,52.4 535.77,52.4 535.84,52.5 535.91,52.6 535.99,52.5 536.06,52.3 536.13,52.2 536.20,52.1 536.27,52.1 536.34,52.2 536.41,52.3 536.49,52.4 536.56,52.6 536.63,52.6 536.70,52.4 536.77,52.3 536.84,52.2 536.91,52.3 536.99,52.3 537.06,52.2 537.13,52.3 537.20,52.4 537.27,52.4 537.34,52.3 537.41,52.4 537.49,52.3 537.56,52.2 537.63,52.2 537.70,52.2 537.77,52.4 537.84,52.4 537.91,52.3 537.99,52.1 538.06,52.0 538.13,52.1 538.20,52.2 538.27,52.4 538.34,52.5 538.41,52.6 538.49,52.5 538.56,52.3 538.63,52.2 538.70,52.0 538.77,52.1 538.84,52.3 538.91,52.4 538.99,52.5 539.06,52.4 539.13,52.3 539.20,52.2 539.27,52.3 539.34,52.4 539.41,52.4 539.49,52.4 539.56,52.3 539.63,52.2 539.70,52.1 539.77,52.1 539.84,52.3 539.91,52.6 539.99,52.6 540.06,52.4 540.13,52.4 540.20,52.3 540.27,52.3 540.34,52.1 540.41,52.0 540.49,51.9 540.56,52.0 540.63,52.1 540.70,52.3 540.77,52.4 540.84,52.4 540.91,52.4 540.99,52.4 541.06,52.4 541.13,52.4 541.20,52.3 541.27,52.4 541.34,52.5 541.41,52.4 541.49,52.3 541.56,52.2 541.63,52.2 541.70,52.1 541.77,51.9 541.84,51.9 541.91,52.2 541.99,52.4 542.06,52.6 542.13,52.5 542.20,52.3 542.27,52.3 542.34,52.4 542.41,52.9 542.49,53.0 542.56,52.4 542.63,52.1 542.70,52.1 542.77,52.2 542.84,52.3 542.91,52.3 542.99,52.3 543.06,52.3 543.13,52.2 543.20,52.3 543.27,52.3 543.34,52.3 543.41,52.2 543.49,52.3 543.56,52.5 543.63,52.3 543.70,52.2 543.77,52.2 543.84,52.2 543.91,52.1 543.99,51.9 544.06,52.0 544.13,52.3 544.20,52.5 544.27,52.5 544.34,52.5 544.41,52.6 544.49,52.7 544.56,52.4 544.63,52.2 544.70,51.8 544.77,51.7 544.84,52.1 544.91,52.3 544.99,52.3 545.06,52.3 545.13,52.3 545.20,52.4 545.27,52.5 545.34,52.6 545.41,52.6 545.49,52.6 545.56,52.5 545.63,52.3 545.70,52.1 545.77,51.8 545.84,51.9 545.91,52.1 545.99,52.2 546.06,52.3 546.13,52.3 546.20,52.3 546.27,52.5 546.34,52.7 546.41,52.5 546.49,52.3 546.56,52.2 546.63,51.9 546.70,51.6 546.77,51.9 546.84,52.3 546.91,52.7 546.99,52.7 547.06,52.6 547.13,52.4 547.20,52.3 547.27,52.3 547.34,52.3 547.41,52.3 547.49,52.3 547.56,52.3 547.63,52.2 547.70,52.2 547.77,52.3 547.84,52.3 547.91,52.3 547.99,52.3 548.06,52.3 548.13,52.3 548.20,52.2 548.27,52.0 548.34,52.1 548.41,52.3 548.49,52.5 548.56,52.6 548.63,52.4 548.70,52.3 548.77,52.3 548.84,52.3 548.91,52.3 548.99,52.4 549.06,52.3 549.13,52.3 549.20,52.1 549.27,52.0 549.34,52.1 549.41,52.3 549.49,52.6 549.56,52.6 549.63,52.6 549.70,52.4 549.77,52.3 549.84,52.1 549.91,52.2 549.99,52.3 550.06,52.4 550.13,52.3 550.20,52.2 550.27,52.1 550.34,52.1 550.41,52.1 550.49,52.1 550.56,52.1 550.63,52.3 550.70,52.8 550.77,53.1 550.84,52.8 550.91,52.4 550.99,52.4 551.06,52.4 551.13,52.3 551.20,52.0 551.27,51.9 551.34,52.2 551.41,52.4 551.49,52.3 551.56,52.2 551.63,52.2 551.70,52.4 551.77,52.5 551.84,52.4 551.91,52.4 551.99,52.3 552.06,52.2 552.13,52.0 552.20,52.0 552.27,52.1 552.34,52.2 552.41,52.3 552.49,52.5 552.56,52.7 552.63,52.7 552.70,52.4 552.77,52.2 552.84,51.9 552.91,51.8 552.99,52.0 553.06,52.3 553.13,52.4 553.20,52.6 553.27,52.6 553.34,52.6 553.41,52.4 553.49,52.2 553.56,52.1 553.63,52.0 553.70,52.2 553.77,52.3 553.84,52.3 553.91,52.3 553.99,52.4 554.06,52.5 554.13,52.7 554.20,52.6 554.27,52.3 554.34,52.1 554.41,52.1 554.49,52.3 554.56,52.3 554.63,52.3 554.70,52.2 554.77,52.1 554.84,52.2 554.91,52.4 554.99,52.6 555.06,52.6 555.13,52.4 555.20,52.1 555.27,52.0 555.34,52.2 555.41,52.3 555.49,52.3 555.56,52.3 555.63,52.3 555.70,52.3 555.77,52.3 555.84,52.3 555.91,52.3 555.99,52.3 556.06,52.3 556.13,52.4 556.20,52.5 556.27,52.4 556.34,52.3 556.41,52.1 556.49,52.1 556.56,52.3 556.63,52.4 556.70,52.7 556.77,52.7 556.84,52.5 556.91,52.3 556.99,52.2 557.06,52.2 557.13,52.2 557.20,52.3 557.27,52.3 557.34,52.4 557.41,52.3 557.49,52.1 557.56,51.9 557.63,52.1 557.70,52.2 557.77,52.1 557.84,52.0 557.91,52.0 557.99,52.2 558.06,52.3 558.13,52.3 558.20,52.3 558.27,52.3 558.34,52.5 558.41,52.8 558.49,53.0 558.56,52.9 558.63,52.5 558.70,52.3 558.77,52.1 558.84,52.1 558.91,52.3 558.99,52.3 559.06,52.2 559.13,52.1 559.20,52.1 559.27,52.3 559.34,52.4 559.41,52.5 559.49,52.4 559.56,52.3 559.63,52.2 559.70,52.3 559.77,52.3 559.84,52.4 559.91,52.5 559.99,52.4 560.06,52.3 560.13,52.2 560.20,52.2 560.27,52.1 560.34,52.1 560.41,52.0 560.49,52.1 560.56,52.3 560.63,52.6 560.70,52.7 560.77,52.5 560.84,52.4 560.91,52.3 560.99,52.3 561.06,52.3 561.13,52.3 561.20,52.4 561.27,52.3 561.34,52.2 561.41,52.1 561.49,52.2 561.56,52.3 561.63,52.3 561.70,52.3 561.77,52.4 561.84,52.4 561.91,52.3 561.99,52.3 562.06,52.3 562.13,52.3 562.20,52.3 562.27,52.3 562.34,52.3 562.41,52.3 562.49,52.1 562.56,52.1 562.63,52.3 562.70,52.3 562.77,52.4 562.84,52.5 562.91,52.5 562.99,52.3 563.06,52.2 563.13,52.1 563.20,51.9 563.27,52.0 563.34,52.2 563.41,52.4 563.49,52.5 563.56,52.5 563.63,52.4 563.70,52.3 563.77,52.4 563.84,52.6 563.91,52.6 563.99,52.4 564.06,52.2 564.13,52.0 564.20,52.0 564.27,52.2 564.34,52.3 564.41,52.3 564.49,52.3 564.56,52.4 564.63,52.3 564.70,52.2 564.77,52.2 564.84,52.3 564.91,52.3 564.99,52.3 565.06,52.4 565.13,52.3 565.20,52.2 565.27,52.2 565.34,52.3 565.41,52.4 565.49,52.5 565.56,52.4 565.63,52.3 565.70,52.3 565.77,52.3 565.84,52.3 565.91,52.2 565.99,52.2 566.06,52.3 566.13,52.4 566.20,52.4 566.27,52.3 566.34,52.2 566.41,52.2 566.49,52.1 566.56,52.1 566.63,52.2 566.70,52.3 566.77,52.4 566.84,52.4 566.91,52.3 566.99,52.2 567.06,52.2 567.13,52.3 567.20,52.3 567.27,52.3 567.34,52.3 567.41,52.3 567.49,52.5 567.56,52.7 567.63,52.5 567.70,52.4 567.77,52.4 567.84,52.3 567.91,52.2 567.99,51.9 568.06,52.0 568.13,52.1 568.20,52.2 568.27,52.3 568.34,52.4 568.41,52.5 568.49,52.4 568.56,52.4 568.63,52.3 568.70,52.2 568.77,52.2 568.84,52.2 568.91,52.3 568.99,52.4 569.06,52.6 569.13,52.4 569.20,52.2 569.27,52.1 569.34,52.2 569.41,52.2 569.49,52.3 569.56,52.2 569.63,52.2 569.70,52.2 569.77,52.3 569.84,52.6 569.91,53.0 569.99,52.8 570.06,52.3 570.13,52.0 570.20,52.1 570.27,52.3 570.34,52.4 570.41,52.5 570.49,52.4 570.56,52.2 570.63,52.1 570.70,52.2 570.77,52.3 570.84,52.3 570.91,52.3 570.99,52.5 571.06,52.5 571.13,52.4 571.20,52.3 571.27,52.3 571.34,52.3 571.41,52.3 571.49,52.3 571.56,52.3 571.63,52.2 571.70,52.2 571.77,52.1 571.84,52.0 571.91,51.9 571.99,52.0 572.06,52.3 572.13,52.5 572.20,52.4 572.27,52.4 572.34,52.4 572.41,52.4 572.49,52.5 572.56,52.5 572.63,52.4 572.70,52.3 572.77,52.3 572.84,52.2 572.91,52.1 572.99,52.0 573.06,51.9 573.13,52.0 573.20,52.3 573.27,52.6 573.34,52.8 573.41,52.6 573.49,52.2 573.56,51.9 573.63,52.0 573.70,52.2 573.77,52.3 573.84,52.5 573.91,52.6 573.99,52.5 574.06,52.3 574.13,52.3 574.20,52.3 574.27,52.3 574.34,52.3 574.41,52.3 574.49,52.4 574.56,52.4 574.63,52.3 574.70,52.0 574.77,52.0 574.84,52.2 574.91,52.3 574.99,52.2 575.06,52.1 575.13,52.1 575.20,52.2 575.27,52.3 575.34,52.3 575.41,52.4 575.49,52.5 575.56,52.4 575.63,52.4 575.70,52.4 575.77,52.4 575.84,52.3 575.91,52.2 575.99,52.2 576.06,52.2 576.13,52.3 576.20,52.5 576.27,52.7 576.34,52.7 576.41,52.4 576.49,52.1 576.56,51.8 576.63,51.8 576.70,51.9 576.77,52.0 576.84,52.2 576.91,52.4 576.99,52.6 577.06,52.4 577.13,52.3 577.20,52.3 577.27,52.3 577.34,52.3 577.41,52.4 577.49,52.5 577.56,52.4 577.63,52.4 577.70,52.2 577.77,52.1 577.84,52.1 577.91,52.2 577.99,52.3 578.06,52.3 578.13,52.3 578.20,52.3 578.27,52.5 578.34,52.6 578.41,52.4 578.49,52.3 578.56,52.3 578.63,52.2 578.70,52.2 578.77,52.3 578.84,52.3 578.91,52.3 578.99,52.2 579.06,52.2 579.13,52.3 579.20,52.3 579.27,52.3 579.34,52.3 579.41,52.4 579.49,52.5 579.56,52.5 579.63,52.4 579.70,52.3 579.77,52.3 579.84,52.2 579.91,52.1 579.99,52.1 580.06,52.0 580.13,52.0 580.20,52.2 580.27,52.4 580.34,52.4 580.41,52.3 580.49,52.3 580.56,52.2 580.63,52.2 580.70,52.3 580.77,52.4 580.84,52.4 580.91,52.3 580.99,52.4 581.06,52.5 581.13,52.6 581.20,52.5 581.27,52.3 581.34,52.2 581.41,52.3 581.49,52.3 581.56,52.3 581.63,52.2 581.70,52.2 581.77,52.3 581.84,52.2 581.91,52.2 581.99,52.3 582.06,52.3 582.13,52.5 582.20,52.4 582.27,52.3 582.34,52.3 582.41,52.2 582.49,52.3 582.56,52.3 582.63,52.4 582.70,52.4 582.77,52.3 582.84,52.3 582.91,52.3 582.99,52.3 583.06,52.2 583.13,52.0 583.20,52.1 583.27,52.3 583.34,52.3 583.41,52.3 583.49,52.3 583.56,52.3 583.63,52.3 583.70,52.3 583.77,52.3 583.84,52.4 583.91,52.5 583.99,52.5 584.06,52.4 584.13,52.3 584.20,52.3 584.27,52.1 584.34,52.1 584.41,52.2 584.49,52.3 584.56,52.3 584.63,52.2 584.70,52.2 584.77,52.3 584.84,52.5 584.91,52.5 584.99,52.4 585.06,52.4 585.13,52.4 585.20,52.4 585.27,52.2 585.34,52.0 585.41,52.1 585.49,52.3 585.56,52.3 585.63,52.3 585.70,52.4 585.77,52.3 585.84,52.3 585.91,52.1 585.99,51.9 586.06,52.0 586.13,52.3 586.20,52.6 586.27,52.6 586.34,52.5 586.41,52.5 586.49,52.5 586.56,52.3 586.63,52.2 586.70,52.0 586.77,51.9 586.84,51.9 586.91,52.2 586.99,52.4 587.06,52.5 587.13,52.5 587.20,52.5 587.27,52.4 587.34,52.3 587.41,52.1 587.49,51.9 587.56,52.1 587.63,52.3 587.70,52.3 587.77,52.3 587.84,52.4 587.91,52.5 587.99,52.5 588.06,52.6 588.13,52.7 588.20,52.5 588.27,52.3 588.34,52.3 588.41,52.2 588.49,52.0 588.56,51.8 588.63,51.8 588.70,52.1 588.77,52.3 588.84,52.5 588.91,52.4 588.99,52.3 589.06,52.2 589.13,52.2 589.20,52.3 589.27,52.3 589.34,52.4 589.41,52.4 589.49,52.4 589.56,52.3 589.63,52.1 589.70,52.1 589.77,52.2 589.84,52.3 589.91,52.4 589.99,52.3 590.06,52.3 590.13,52.4 590.20,52.5 590.27,52.4 590.34,52.4 590.41,52.3 590.49,52.2 590.56,52.3 590.63,52.3 590.70,52.3 590.77,52.2 590.84,52.1 590.91,52.0 590.99,52.1 591.06,52.3 591.13,52.4 591.20,52.4 591.27,52.3 591.34,52.2 591.41,52.3 591.49,52.4 591.56,52.6 591.63,52.5 591.70,52.4 591.77,52.4 591.84,52.4 591.91,52.4 591.99,52.3 592.06,52.3 592.13,52.2 592.20,52.1 592.27,52.0 592.34,52.0 592.41,52.2 592.49,52.2 592.56,52.2 592.63,52.3 592.70,52.5 592.77,52.6 592.84,52.3 592.91,52.1 592.99,52.1 593.06,52.3 593.13,52.5 593.20,52.7 593.27,52.7 593.34,52.5 593.41,52.3 593.49,52.3 593.56,52.3 593.63,52.3 593.70,52.2 593.77,52.2 593.84,52.3 593.91,52.6 593.99,52.6 594.06,52.5 594.13,52.4 594.20,52.3 594.27,52.3 594.34,52.1 594.41,52.0 594.49,51.9 594.56,51.9 594.63,52.2 594.70,52.3 594.77,52.3 594.84,52.2 594.91,52.2 594.99,52.3 595.06,52.5 595.13,52.8 595.20,52.9 595.27,52.7 595.34,52.4 595.41,52.2 595.49,52.1 595.56,52.1 595.63,52.2 595.70,52.2 595.77,52.3 595.84,52.3 595.91,52.3 595.99,52.3 596.06,52.4 596.13,52.4 596.20,52.3 596.27,52.3 596.34,52.3 596.41,52.4 596.49,52.3 596.56,52.1 596.63,52.0 596.70,52.3 596.77,52.5 596.84,52.5 596.91,52.3 596.99,52.3 597.06,52.2 597.13,52.1 597.20,52.0 597.27,52.0 597.34,52.2 597.41,52.5 597.49,52.6 597.56,52.3 597.63,52.3 597.70,52.4 597.77,52.4 597.84,52.3 597.91,52.3 597.99,52.3 598.06,52.3 598.13,52.4 598.20,52.5 598.27,52.4 598.34,52.3 598.41,52.2 598.49,52.1 598.56,52.1 598.63,52.3 598.70,52.3 598.77,52.3 598.84,52.3 598.91,52.2 598.99,52.1 599.06,52.1 599.13,52.3 599.20,52.5 599.27,52.5 599.34,52.4 599.41,52.4 599.49,52.3 599.56,52.2 599.63,52.3 599.70,52.4 599.77,52.5 599.84,52.3 599.91,51.8 599.99,51.7 600.06,52.2 600.13,52.6 600.20,52.6 600.27,52.5 600.34,52.5 600.41,52.3 600.49,52.0 600.56,51.9 600.63,52.0 600.70,52.3 600.77,52.6 600.84,52.6 600.91,52.4 600.99,52.3 601.06,52.2 601.13,52.3 601.20,52.3 601.27,52.3 601.34,52.3 601.41,52.2 601.49,52.3 601.56,52.5 601.63,52.4 601.70,52.3 601.77,52.2 601.84,52.2 601.91,52.3 601.99,52.3 602.06,52.3 602.13,52.3 602.20,52.3 602.27,52.3 602.34,52.4 602.41,52.5 602.49,52.2 602.56,51.9 602.63,52.1 602.70,52.4 602.77,52.4 602.84,52.3 602.91,52.2 602.99,52.3 603.06,52.4 603.13,52.3 603.20,52.3 603.27,52.3 603.34,52.3 603.41,52.4 603.49,52.5 603.56,52.4 603.63,52.3 603.70,52.3 603.77,52.3 603.84,52.2 603.91,52.2 603.99,52.2 604.06,52.3 604.13,52.4 604.20,52.4 604.27,52.4 604.34,52.5 604.41,52.5 604.49,52.3 604.56,52.2 604.63,52.3 604.70,52.3 604.77,52.2 604.84,52.1 604.91,52.1 604.99,52.3 605.06,52.3 605.13,52.3 605.20,52.3 605.27,52.2 605.34,52.1 605.41,52.1 605.49,52.3 605.56,52.4 605.63,52.4 605.70,52.5 605.77,52.7 605.84,52.7 605.91,52.4 605.99,52.2 606.06,52.1 606.13,52.0 606.20,51.8 606.27,52.0 606.34,52.4 606.41,52.8 606.49,52.8 606.56,52.5 606.63,52.2 606.70,52.1 606.77,52.2 606.84,52.3 606.91,52.3 606.99,52.3 607.06,52.3 607.13,52.3 607.20,52.3 607.27,52.3 607.34,52.3 607.41,52.3 607.49,52.4 607.56,52.6 607.63,52.5 607.70,52.2 607.77,52.1 607.84,52.1 607.91,52.2 607.99,52.3 608.06,52.4 608.13,52.4 608.20,52.3 608.27,52.3 608.34,52.2 608.41,52.3 608.49,52.3 608.56,52.3 608.63,52.3 608.70,52.3 608.77,52.3 608.84,52.4 608.91,52.5 608.99,52.4 609.06,52.1 609.13,52.0 609.20,52.1 609.27,52.2 609.34,52.3 609.41,52.4 609.49,52.3 609.56,52.3 609.63,52.4 609.70,52.5 609.77,52.3 609.84,52.2 609.91,52.2 609.99,52.3 610.06,52.4 610.13,52.4 610.20,52.3 610.27,52.2 610.34,52.2 610.41,52.3 610.49,52.4 610.56,52.5 610.63,52.4 610.70,52.2 610.77,51.9 610.84,51.9 610.91,52.0 610.99,52.2 611.06,52.3 611.13,52.3 611.20,52.4 611.27,52.8 611.34,53.1 611.41,52.8 611.49,52.4 611.56,52.3 611.63,52.3 611.70,52.3 611.77,52.1 611.84,51.9 611.91,52.0 611.99,52.1 612.06,52.2 612.13,52.2 612.20,52.3 612.27,52.4 612.34,52.6 612.41,52.5 612.49,52.3 612.56,52.3 612.63,52.3 612.70,52.3 612.77,52.3 612.84,52.4 612.91,52.4 612.99,52.3 613.06,52.2 613.13,52.3 613.20,52.3 613.27,52.3 613.34,52.1 613.41,52.0 613.49,52.2 613.56,52.3 613.63,52.3 613.70,52.3 613.77,52.2 613.84,52.2 613.91,52.3 613.99,52.4 614.06,52.5 614.13,52.7 614.20,52.6 614.27,52.3 614.34,52.1 614.41,52.1 614.49,52.1 614.56,52.1 614.63,52.2 614.70,52.3 614.77,52.3 614.84,52.2 614.91,52.3 614.99,52.4 615.06,52.5 615.13,52.4 615.20,52.4 615.27,52.5 615.34,52.5 615.41,52.4 615.49,52.3 615.56,52.2 615.63,52.3 615.70,52.3 615.77,52.2 615.84,52.1 615.91,52.2 615.99,52.3 616.06,52.3 616.13,52.2 616.20,52.3 616.27,52.4 616.34,52.3 616.41,52.3 616.49,52.3 616.56,52.3 616.63,52.3 616.70,52.3 616.77,52.3 616.84,52.4 616.91,52.5 616.99,52.3 617.06,52.2 617.13,52.2 617.20,52.1 617.27,52.2 617.34,52.3 617.41,52.3 617.49,52.4 617.56,52.4 617.63,52.4 617.70,52.3 617.77,52.2 617.84,52.3 617.91,52.4 617.99,52.4 618.06,52.3 618.13,52.2 618.20,52.3 618.27,52.4 618.34,52.4 618.41,52.4 618.49,52.3 618.56,52.3 618.63,52.3 618.70,52.4 618.77,52.5 618.84,52.4 618.91,52.2 618.99,51.9 619.06,51.6 619.13,51.7 619.20,52.1 619.27,52.4 619.34,52.8 619.41,53.1 619.49,52.7 619.56,52.3 619.63,52.2 619.70,52.2 619.77,52.3 619.84,52.3 619.91,52.2 619.99,52.0 620.06,51.9 620.13,52.1 620.20,52.4 620.27,52.6 620.34,52.4 620.41,52.2 620.49,52.2 620.56,52.3 620.63,52.4 620.70,52.3 620.77,52.3 620.84,52.6 620.91,53.1 620.99,52.8 621.06,52.4 621.13,52.3 621.20,52.2 621.27,52.2 621.34,52.2 621.41,52.1 621.49,52.1 621.56,52.3 621.63,52.2 621.70,51.6 621.77,51.6 621.84,52.3 621.91,52.8 621.99,53.2 622.06,52.9 622.13,52.3 622.20,52.1 622.27,52.2 622.34,52.3 622.41,52.4 622.49,52.3 622.56,52.0 622.63,51.8 622.70,52.1 622.77,52.2 622.84,52.1 622.91,52.4 622.99,53.1 623.06,53.6 623.13,53.3 623.20,52.4 623.27,51.8 623.34,51.2 623.41,51.0 623.49,51.6 623.56,52.3 623.63,52.6 623.70,52.5 623.77,52.2 623.84,52.2 623.91,52.4 623.99,52.3 624.06,52.0 624.13,52.0 624.20,52.2 624.27,52.4 624.34,53.0 624.41,53.3 624.49,53.3 624.56,53.3 624.63,52.7 624.70,51.9 624.77,51.2 624.84,51.0 624.91,50.9 624.99,51.1 625.06,51.3 625.13,52.5 625.20,53.9 625.27,54.7 625.34,53.6 625.41,52.0 625.49,50.8 625.56,52.0 625.63,53.6 625.70,54.9 625.77,54.7 625.84,53.6 625.91,52.6 625.99,52.1 626.06,51.4 626.13,50.6 626.20,51.6 626.27,52.6 626.34,52.5 626.41,51.7 626.49,50.9 626.56,51.3 626.63,52.3 626.70,53.3 626.77,53.2 626.84,52.1 626.91,50.6 626.99,50.8 627.06,52.1 627.13,53.6 627.20,54.5 627.27,54.3 627.34,54.5 627.41,53.3 627.49,52.3 627.56,52.3 627.63,52.4 627.70,51.5 627.77,49.2 627.84,48.9 627.91,50.1 627.99,51.3 628.06,52.5 628.13,54.1 628.20,53.8 628.27,52.3 628.34,51.4 628.41,51.3 628.49,51.7 628.56,51.9 628.63,52.3 628.70,52.6 628.77,52.5 628.84,52.5 628.91,53.2 628.99,53.7 629.06,53.4 629.13,53.1 629.20,52.7 629.27,52.2 629.34,51.8 629.41,51.4 629.49,51.0 629.56,51.3 629.63,52.0 629.70,52.2 629.77,52.5 629.84,54.0 629.91,55.6 629.99,53.6 630.06,51.8 630.13,51.0 630.20,51.2 630.27,51.4 630.34,51.7 630.41,51.6 630.49,51.3 630.56,51.7 630.63,52.3 630.70,52.5 630.77,52.3 630.84,52.1 630.91,52.4 630.99,52.8 631.06,53.0 631.13,53.0 631.20,52.7 631.27,52.6 631.34,52.9 631.41,52.9 631.49,51.9 631.56,50.1 631.63,50.6 631.70,52.1 631.77,52.3 631.84,52.1 631.91,52.5 631.99,54.3 632.06,55.8 632.13,54.5 632.20,52.4 632.27,51.5 632.34,51.5 632.41,51.9 632.49,52.0 632.56,51.7 632.63,51.8 632.70,52.5 632.77,53.4 632.84,53.2 632.91,52.7 632.99,52.7 633.06,52.7 633.13,52.1 633.20,50.8 633.27,50.4 633.34,51.0 633.41,51.2 633.49,50.8 633.56,51.4 633.63,52.3 633.70,52.4 633.77,52.4 633.84,52.7 633.91,54.1 633.99,55.2 634.06,55.0 634.13,54.0 634.20,52.8 634.27,52.3 634.34,52.0 634.41,50.9 634.49,49.2 634.56,48.4 634.63,49.5 634.70,51.7 634.77,52.9 634.84,53.6 634.91,53.5 634.99,53.4 635.06,53.8 635.13,53.7 635.20,52.9 635.27,52.3 635.34,51.7 635.41,50.8 635.49,50.9 635.56,52.3 635.63,53.3 635.70,52.8 635.77,52.1 635.84,51.4 635.91,51.7 635.99,52.4 636.06,52.8 636.13,52.3 636.20,51.6 636.27,51.2 636.34,51.4 636.41,52.2 636.49,53.8 636.56,56.3 636.63,56.9 636.70,55.2 636.77,52.7 636.84,51.3 636.91,50.3 636.99,50.1 637.06,50.0 637.13,50.4 637.20,51.7 637.27,52.5 637.34,52.9 637.41,52.8 637.49,52.6 637.56,52.3 637.63,52.1 637.70,52.3 637.77,52.4 637.84,53.0 637.91,52.8 637.99,51.9 638.06,51.5 638.13,52.1 638.20,52.8 638.27,53.8 638.34,52.7 638.41,51.0 638.49,49.7 638.56,50.4 638.63,51.9 638.70,53.5 638.77,55.5 638.84,55.4 638.91,54.2 638.99,53.5 639.06,52.4 639.13,50.5 639.20,47.7 639.27,47.6 639.34,50.0 639.41,52.2 639.49,53.3 639.56,54.2 639.63,54.6 639.70,54.4 639.77,53.3 639.84,52.6 639.91,52.7 639.99,52.5 640.06,51.8 640.13,50.9 640.20,50.3 640.27,50.2 640.34,51.1 640.41,52.3 640.49,53.1 640.56,53.0 640.63,52.5 640.70,52.5 640.77,53.1 640.84,52.9 640.91,52.4 640.99,52.5 641.06,52.7 641.13,52.3 641.20,52.0 641.27,52.2 641.34,52.3 641.41,52.2 641.49,52.0 641.56,51.7 641.63,51.5 641.70,51.3 641.77,51.8 641.84,52.4 641.91,52.5 641.99,52.3 642.06,52.3 642.13,52.3 642.20,52.5 642.27,52.7 642.34,52.8 642.41,52.2 642.49,51.0 642.56,51.0 642.63,52.4 642.70,53.8 642.77,53.7 642.84,52.6 642.91,51.9 642.99,51.4 643.06,51.5 643.13,51.8 643.20,52.3 643.27,53.7 643.34,54.6 643.41,53.0 643.49,52.0 643.56,52.2 643.63,52.4 643.70,52.2 643.77,51.9 643.84,52.3 643.91,52.1 643.99,51.5 644.06,51.7 644.13,52.1 644.20,52.3 644.27,53.3 644.34,54.5 644.41,54.1 644.49,53.2 644.56,52.4 644.63,51.2 644.70,49.3 644.77,49.8 644.84,51.8 644.91,52.5 644.99,52.9 645.06,53.1 645.13,52.5 645.20,52.1 645.27,51.8 645.34,51.7 645.41,52.0 645.49,52.8 645.56,53.4 645.63,52.9 645.70,52.4 645.77,52.3 645.84,52.2 645.91,52.3 645.99,52.5 646.06,52.5 646.13,52.5 646.20,52.5 646.27,51.8 646.34,50.7 646.41,51.3 646.49,52.4 646.56,52.9 646.63,52.4 646.70,52.4 646.77,52.7 646.84,52.3 646.91,51.4 646.99,50.7 647.06,51.4 647.13,52.3 647.20,53.3 647.27,53.7 647.34,53.4 647.41,53.3 647.49,53.1 647.56,52.3 647.63,51.4 647.70,50.7 647.77,51.5 647.84,52.5 647.91,53.1 647.99,52.7 648.06,52.4 648.13,52.3 648.20,51.8 648.27,51.4 648.34,51.4 648.41,51.9 648.49,52.3 648.56,52.4 648.63,52.3 648.70,52.3 648.77,52.4 648.84,53.9 648.91,55.4 648.99,54.1 649.06,52.2 649.13,51.6 649.20,51.9 649.27,51.4 649.34,49.9 649.41,49.5 649.49,51.4 649.56,52.7 649.63,52.9 649.70,52.2 649.77,52.0 649.84,52.3 649.91,52.4 649.99,52.5 650.06,52.9 650.13,53.4 650.20,52.9 650.27,52.3 650.34,52.2 650.41,52.4 650.49,52.8 650.56,52.8 650.63,52.6 650.70,52.6 650.77,52.2 650.84,51.4 650.91,51.2 650.99,51.3 651.06,51.2 651.13,51.3 651.20,51.9 651.27,53.1 651.34,54.7 651.41,53.8 651.49,52.4 651.56,52.2 651.63,52.2 651.70,52.3 651.77,52.7 651.84,52.5 651.91,51.9 651.99,51.7 652.06,51.6 652.13,51.8 652.20,52.3 652.27,52.4 652.34,51.9 652.41,52.0 652.49,53.0 652.56,54.5 652.63,54.0 652.70,52.5 652.77,52.0 652.84,52.2 652.91,52.6 652.99,52.4 653.06,51.7 653.13,51.3 653.20,51.5 653.27,51.9 653.34,52.3 653.41,52.4 653.49,52.3 653.56,52.2 653.63,52.2 653.70,52.3 653.77,52.2 653.84,52.3 653.91,52.7 653.99,52.6 654.06,52.3 654.13,52.3 654.20,52.3 654.27,52.9 654.34,53.7 654.41,53.0 654.49,52.1 654.56,51.3 654.63,51.3 654.70,51.6 654.77,51.9 654.84,52.3 654.91,52.6 654.99,52.7 655.06,52.3 655.13,51.7 655.20,51.6 655.27,52.3 655.34,52.9 655.41,52.8 655.49,52.3 655.56,51.9 655.63,52.2 655.70,52.5 655.77,52.7 655.84,52.9 655.91,52.8 655.99,52.4 656.06,52.3 656.13,52.4 656.20,52.7 656.27,52.4 656.34,51.8 656.41,51.1 656.49,51.1 656.56,51.5 656.63,52.2 656.70,52.5 656.77,52.7 656.84,52.7 656.91,53.1 656.99,53.5 657.06,52.7 657.13,51.9 657.20,52.0 657.27,52.3 657.34,51.9 657.41,51.3 657.49,51.8 657.56,52.3 657.63,52.6 657.70,52.6 657.77,52.3 657.84,52.1 657.91,52.4 657.99,53.4 658.06,53.3 658.13,52.1 658.20,50.7 658.27,50.1 658.34,50.5 658.41,51.4 658.49,52.1 658.56,52.9 658.63,53.9 658.70,54.0 658.77,53.8 658.84,54.0 658.91,53.3 658.99,52.4 659.06,52.2 659.13,52.1 659.20,51.9 659.27,51.9 659.34,52.1 659.41,52.2 659.49,52.4 659.56,52.8 659.63,52.6 659.70,52.2 659.77,52.0 659.84,51.9 659.91,51.9 659.99,52.1 660.06,52.2 660.13,52.1 660.20,51.9 660.27,52.1 660.34,52.6 660.41,52.4 660.49,51.6 660.56,51.1 660.63,51.6 660.70,51.7 660.77,52.0 660.84,52.5 660.91,53.1 660.99,53.1 661.06,53.2 661.13,53.4 661.20,53.4 661.27,53.2 661.34,52.7 661.41,52.3 661.49,52.3 661.56,52.4 661.63,52.4 661.70,52.1 661.77,51.9 661.84,51.8 661.91,51.5 661.99,51.6 662.06,52.0 662.13,52.2 662.20,52.6 662.27,53.7 662.34,54.0 662.41,53.1 662.49,52.3 662.56,52.0 662.63,52.0 662.70,52.1 662.77,52.0 662.84,51.4 662.91,50.4 662.99,50.5 663.06,51.7 663.13,52.5 663.20,53.3 663.27,53.0 663.34,52.3 663.41,52.0 663.49,52.5 663.56,53.2 663.63,53.0 663.70,52.4 663.77,52.5 663.84,52.8 663.91,52.3 663.99,51.5 664.06,51.2 664.13,51.2 664.20,51.9 664.27,52.7 664.34,53.6 664.41,53.8 664.49,53.4 664.56,52.4 664.63,51.8 664.70,51.8 664.77,51.7 664.84,51.4 664.91,52.0 664.99,52.7 665.06,53.3 665.13,51.8 665.20,51.1 665.27,52.2 665.34,53.1 665.41,53.3 665.49,52.7 665.56,52.4 665.63,52.3 665.70,52.2 665.77,52.4 665.84,53.5 665.91,53.9 665.99,52.6 666.06,51.6 666.13,51.1 666.20,52.0 666.27,52.9 666.34,52.3 666.41,48.9 666.49,45.7 666.56,49.2 666.63,53.1 666.70,55.5 666.77,55.0 666.84,54.2 666.91,54.1 666.99,52.8 667.06,50.6 667.13,48.9 667.20,50.3 667.27,51.6 667.34,52.3 667.41,52.9 667.49,53.9 667.56,54.4 667.63,53.8 667.70,52.5 667.77,51.9 667.84,51.7 667.91,51.6 667.99,51.4 668.06,51.8 668.13,52.2 668.20,52.8 668.27,54.6 668.34,55.8 668.41,54.4 668.49,52.3 668.56,50.6 668.63,50.0 668.70,51.3 668.77,52.3 668.84,51.7 668.91,50.1 668.99,50.4 669.06,52.4 669.13,55.3 669.20,56.1 669.27,53.7 669.34,51.7 669.41,50.4 669.49,51.1 669.56,52.4 669.63,52.9 669.70,52.6 669.77,52.6 669.84,52.6 669.91,52.2 669.99,51.9 670.06,52.1 670.13,52.3 670.20,52.6 670.27,52.2 670.34,50.9 670.41,51.0 670.49,51.8 670.56,51.9 670.63,52.1 670.70,52.8 670.77,53.7 670.84,53.1 670.91,52.5 670.99,52.7 671.06,53.1 671.13,52.2 671.20,49.7 671.27,49.0 671.34,51.4 671.41,53.6 671.49,57.0 671.56,59.6 671.63,58.3 671.70,53.8 671.77,51.0 671.84,48.1 671.91,47.5 671.99,49.0 672.06,50.7 672.13,52.2 672.20,52.6 672.27,52.8 672.34,53.4 672.41,53.5 672.49,52.7 672.56,52.3 672.63,52.7 672.70,53.1 672.77,51.8 672.84,48.4 672.91,47.2 672.99,50.5 673.06,52.9 673.13,53.5 673.20,52.4 673.27,52.4 673.34,54.2 673.41,55.0 673.49,54.0 673.56,53.5 673.63,52.8 673.70,51.1 673.77,49.3 673.84,51.5 673.91,53.4 673.99,53.1 674.06,52.3 674.13,52.6 674.20,52.4 674.27,51.5 674.34,50.0 674.41,49.1 674.49,50.4 674.56,53.1 674.63,56.2 674.70,54.0 674.77,50.8 674.84,48.3 674.91,50.5 674.99,53.1 675.06,55.7 675.13,55.5 675.20,53.0 675.27,51.9 675.34,52.0 675.41,52.4 675.49,52.6 675.56,52.6 675.63,52.4 675.70,52.2 675.77,52.1 675.84,52.5 675.91,53.4 675.99,53.7 676.06,52.9 676.13,51.3 676.20,47.8 676.27,46.9 676.34,50.4 676.41,52.7 676.49,54.3 676.56,55.1 676.63,54.8 676.70,53.2 676.77,51.6 676.84,50.1 676.91,51.1 676.99,52.3 677.06,52.4 677.13,52.0 677.20,52.0 677.27,52.3 677.34,51.8 677.41,51.8 677.49,52.7 677.56,54.1 677.63,53.8 677.70,52.3 677.77,50.8 677.84,49.2 677.91,49.6 677.99,51.6 678.06,52.7 678.13,54.7 678.20,58.1 678.27,60.0 678.34,57.3 678.41,52.8 678.49,50.9 678.56,50.6 678.63,51.2 678.70,51.6 678.77,51.4 678.84,51.3 678.91,51.8 678.99,51.7 679.06,49.2 679.13,46.9 679.20,49.5 679.27,52.2 679.34,52.8 679.41,53.2 679.49,54.0 679.56,55.0 679.63,55.2 679.70,54.2 679.77,52.7 679.84,52.2 679.91,52.3 679.99,53.2 680.06,53.8 680.13,52.6 680.20,50.4 680.27,49.3 680.34,51.3 680.41,51.8 680.49,51.1 680.56,51.6 680.63,52.7 680.70,53.7 680.77,53.4 680.84,52.6 680.91,52.0 680.99,51.3 681.06,51.6 681.13,51.9 681.20,51.9 681.27,52.9 681.34,55.5 681.41,56.9 681.49,54.9 681.56,52.1 681.63,50.1 681.70,49.9 681.77,50.5 681.84,51.1 681.91,51.8 681.99,51.9 682.06,51.4 682.13,52.0 682.20,54.3 682.27,56.7 682.34,54.9 682.41,52.3 682.49,49.5 682.56,47.3 682.63,48.3 682.70,51.1 682.77,52.8 682.84,54.4 682.91,54.8 682.99,53.4 683.06,51.5 683.13,49.4 683.20,51.0 683.27,53.2 683.34,55.5 683.41,56.4 683.49,54.8 683.56,52.3 683.63,51.1 683.70,51.9 683.77,52.8 683.84,53.4 683.91,52.9 683.99,52.1 684.06,51.0 684.13,51.1 684.20,52.3 684.27,52.8 684.34,52.3 684.41,51.5 684.49,51.4 684.56,52.0 684.63,52.3 684.70,52.2 684.77,51.4 684.84,51.5 684.91,53.3 684.99,54.7 685.06,52.7 685.13,51.9 685.20,52.2 685.27,52.3 685.34,51.7 685.41,51.3 685.49,51.9 685.56,52.4 685.63,52.7 685.70,52.9 685.77,53.0 685.84,52.4 685.91,51.9 685.99,51.8 686.06,52.4 686.13,53.3 686.20,52.8 686.27,51.9 686.34,51.4 686.41,52.1 686.49,52.5 686.56,52.4 686.63,52.6 686.70,53.5 686.77,53.6 686.84,53.2 686.91,52.9 686.99,51.9 687.06,49.9 687.13,49.7 687.20,50.3 687.27,49.8 687.34,51.3 687.41,53.5 687.49,54.8 687.56,54.3 687.63,54.3 687.70,54.7 687.77,53.8 687.84,52.2 687.91,49.3 687.99,45.7 688.06,45.8 688.13,49.7 688.20,52.3 688.27,53.6 688.34,55.2 688.41,57.0 688.49,58.3 688.56,56.9 688.63,53.4 688.70,50.7 688.77,47.8 688.84,47.6 688.91,49.0 688.99,50.6 689.06,51.7 689.13,52.4 689.20,53.8 689.27,55.1 689.34,54.9 689.41,53.4 689.49,52.3 689.56,52.2 689.63,53.8 689.70,54.8 689.77,52.6 689.84,50.0 689.91,48.6 689.99,50.4 690.06,52.3 690.13,53.4 690.20,52.9 690.27,51.5 690.34,51.4 690.41,52.9 690.49,54.5 690.56,53.9 690.63,52.5 690.70,51.5 690.77,49.8 690.84,48.4 690.91,49.0 690.99,51.4 691.06,53.7 691.13,57.1 691.20,57.8 691.27,56.3 691.34,53.9 691.41,52.3 691.49,51.6 691.56,50.4 691.63,47.4 691.70,46.1 691.77,48.3 691.84,51.1 691.91,52.8 691.99,54.8 692.06,55.1 692.13,53.9 692.20,52.6 692.27,52.3 692.34,52.8 692.41,54.1 692.49,53.3 692.56,52.4 692.63,52.3 692.70,52.0 692.77,51.0 692.84,49.8 692.91,50.1 692.99,52.2 693.06,55.3 693.13,57.2 693.20,55.6 693.27,53.9 693.34,52.5 693.41,50.3 693.49,45.9 693.56,43.1 693.63,46.5 693.70,52.3 693.77,55.6 693.84,55.7 693.91,54.4 693.99,53.4 694.06,52.7 694.13,52.1 694.20,51.8 694.27,53.0 694.34,54.8 694.41,53.2 694.49,51.2 694.56,51.1 694.63,52.4 694.70,52.9 694.77,52.6 694.84,52.7 694.91,52.6 694.99,51.8 695.06,50.3 695.13,50.4 695.20,51.9 695.27,52.5 695.34,52.8 695.41,53.4 695.49,53.6 695.56,52.6 695.63,52.1 695.70,52.4 695.77,52.6 695.84,51.6 695.91,50.2 695.99,50.8 696.06,51.6 696.13,52.2 696.20,52.8 696.27,52.9 696.34,52.1 696.41,51.2 696.49,51.4 696.56,52.3 696.63,54.0 696.70,54.8 696.77,52.3 696.84,49.3 696.91,48.5 696.99,50.4 697.06,52.3 697.13,54.0 697.20,55.7 697.27,57.6 697.34,57.5 697.41,54.2 697.49,51.6 697.56,50.1 697.63,51.0 697.70,52.3 697.77,52.4 697.84,51.5 697.91,51.5 697.99,53.1 698.06,55.1 698.13,53.9 698.20,52.1 698.27,51.0 698.34,50.8 698.41,50.4 698.49,49.5 698.56,49.7 698.63,51.6 698.70,52.4 698.77,52.3 698.84,52.3 698.91,52.8 698.99,53.1 699.06,53.0 699.13,53.0 699.20,53.5 699.27,54.3 699.34,55.4 699.41,54.8 699.49,52.3 699.56,49.6 699.63,47.7 699.70,47.7 699.77,49.3 699.84,51.2 699.91,52.4 699.99,53.4 700.06,53.8 700.13,52.7 700.20,52.3 700.27,52.8 700.34,53.8 700.41,54.6 700.49,54.5 700.56,53.9 700.63,54.1 700.70,54.1 700.77,52.8 700.84,51.1 700.91,48.7 700.99,48.4 701.06,49.3 701.13,50.7 701.20,52.5 701.27,54.3 701.34,53.6 701.41,51.8 701.49,49.3 701.56,48.2 701.63,50.7 701.70,53.0 701.77,53.9 701.84,53.3 701.91,52.3 701.99,51.7 702.06,53.6 702.13,58.5 702.20,57.2 702.27,52.3 702.34,48.2 702.41,47.4 702.49,49.7 702.56,50.3 702.63,50.1 702.70,52.0 702.77,54.6 702.84,57.0 702.91,57.7 702.99,56.6 703.06,54.3 703.13,52.4 703.20,51.4 703.27,50.8 703.34,50.0 703.41,48.8 703.49,50.4 703.56,52.8 703.63,54.8 703.70,53.8 703.77,52.2 703.84,51.1 703.91,51.6 703.99,52.5 704.06,53.8 704.13,54.5 704.20,53.0 704.27,51.8 704.34,51.8 704.41,52.4 704.49,52.4 704.56,52.0 704.63,51.0 704.70,51.0 704.77,51.9 704.84,51.6 704.91,49.4 704.99,50.3 705.06,53.9 705.13,59.4 705.20,61.6 705.27,57.7 705.34,51.6 705.41,46.0 705.49,46.6 705.56,50.1 705.63,51.5 705.70,50.3 705.77,48.7 705.84,51.2 705.91,55.3 705.99,57.8 706.06,54.0 706.13,51.4 706.20,50.8 706.27,52.1 706.34,54.6 706.41,57.7 706.49,56.0 706.56,51.9 706.63,47.6 706.70,48.8 706.77,52.3 706.84,52.9 706.91,51.5 706.99,50.2 707.06,51.3 707.13,52.4 707.20,54.1 707.27,56.5 707.34,57.3 707.41,55.8 707.49,52.3 707.56,46.3 707.63,43.6 707.70,48.9 707.77,53.3 707.84,55.0 707.91,52.8 707.99,51.5 708.06,50.5 708.13,51.1 708.20,52.7 708.27,55.2 708.34,56.2 708.41,55.1 708.49,53.5 708.56,52.3 708.63,51.6 708.70,51.3 708.77,52.1 708.84,52.2 708.91,50.9 708.99,49.0 709.06,48.3 709.13,50.3 709.20,52.4 709.27,53.2 709.34,53.1 709.41,54.0 709.49,55.5 709.56,55.0 709.63,52.6 709.70,51.3 709.77,51.9 709.84,53.6 709.91,55.6 709.99,56.7 710.06,55.7 710.13,52.6 710.20,50.4 710.27,48.5 710.34,47.1 710.41,45.0 710.49,44.8 710.56,47.8 710.63,49.9 710.70,50.8 710.77,52.7 710.84,56.8 710.91,59.6 710.99,59.7 711.06,57.5 711.13,55.6 711.20,54.8 711.27,53.4 711.34,51.7 711.41,48.1 711.49,46.7 711.56,49.7 711.63,51.8 711.70,52.3 711.77,52.5 711.84,52.5 711.91,52.3 711.99,52.6 712.06,53.7 712.13,53.1 712.20,51.9 712.27,51.1 712.34,50.8 712.41,50.7 712.49,50.6 712.56,50.6 712.63,51.6 712.70,52.8 712.77,54.7 712.84,56.2 712.91,54.8 712.99,52.3 713.06,51.7 713.13,51.4 713.20,49.9 713.27,49.6 713.34,51.4 713.41,52.8 713.49,55.3 713.56,55.6 713.63,53.4 713.70,52.4 713.77,53.1 713.84,54.2 713.91,53.7 713.99,52.0 714.06,49.5 714.13,48.9 714.20,51.6 714.27,54.2 714.34,55.2 714.41,53.2 714.49,52.4 714.56,52.4 714.63,52.3 714.70,52.1 714.77,50.9 714.84,49.0 714.91,49.5 714.99,52.2 715.06,53.9 715.13,53.3 715.20,51.5 715.27,49.9 715.34,50.7 715.41,51.7 715.49,51.9 715.56,52.5 715.63,54.0 715.70,54.5 715.77,54.4 715.84,54.1 715.91,52.6 715.99,50.5 716.06,50.1 716.13,52.2 716.20,53.4 716.27,53.7 716.34,54.0 716.41,55.0 716.49,55.9 716.56,54.4 716.63,51.5 716.70,46.5 716.77,45.6 716.84,49.6 716.91,52.6 716.99,53.7 717.06,52.7 717.13,52.1 717.20,51.9 717.27,52.2 717.34,52.3 717.41,51.2 717.49,49.8 717.56,51.2 717.63,52.9 717.70,54.9 717.77,55.3 717.84,53.5 717.91,52.1 717.99,51.3 718.06,51.8 718.13,51.9 718.20,50.3 718.27,49.3 718.34,50.8 718.41,52.0 718.49,53.3 718.56,55.5 718.63,54.6 718.70,52.5 718.77,52.8 718.84,55.6 718.91,56.8 718.99,54.4 719.06,52.4 719.13,51.1 719.20,48.8 719.27,47.6 719.34,49.2 719.41,50.6 719.49,50.0 719.56,50.5 719.63,53.3 719.70,57.3 719.77,57.3 719.84,55.0 719.91,53.7 719.99,53.9 720.06,53.7 720.13,52.2 720.20,49.7 720.27,47.7 720.34,47.3 720.41,48.7 720.49,51.3 720.56,53.9 720.63,57.2 720.70,55.4 720.77,52.0 720.84,49.4 720.91,50.8 720.99,53.2 721.06,55.7 721.13,56.6 721.20,55.4 721.27,52.8 721.34,51.8 721.41,50.8 721.49,48.5 721.56,45.7 721.63,48.0 721.70,52.2 721.77,54.2 721.84,54.7 721.91,54.5 721.99,55.5 722.06,60.1 722.13,52.9 722.20,46.1 722.27,43.6 722.34,45.4 722.41,47.4 722.49,49.9 722.56,52.7 722.63,57.4 722.70,59.4 722.77,57.2 722.84,53.3 722.91,50.0 722.99,45.3 723.06,44.4 723.13,50.6 723.20,57.7 723.27,64.4 723.34,59.1 723.41,52.1 723.49,50.7 723.56,51.9 723.63,51.4 723.70,52.2 723.77,55.6 723.84,56.1 723.91,51.7 723.99,47.8 724.06,47.8 724.13,47.9 724.20,48.7 724.27,52.0 724.34,53.6 724.41,52.9 724.49,52.1 724.56,52.3 724.63,53.6 724.70,54.0 724.77,53.0 724.84,55.3 724.91,61.3 724.99,59.0 725.06,51.4 725.13,43.4 725.20,42.9 725.27,47.5 725.34,49.8 725.41,50.2 725.49,52.3 725.56,55.2 725.63,56.7 725.70,55.3 725.77,52.5 725.84,50.2 725.91,49.7 725.99,51.8 726.06,53.2 726.13,54.4 726.20,53.5 726.27,51.2 726.34,47.8 726.41,48.4 726.49,51.5 726.56,55.8 726.63,65.9 726.70,68.0 726.77,59.9 726.84,53.6 726.91,51.6 726.99,50.3 727.06,45.0 727.13,36.1 727.20,34.9 727.27,40.9 727.34,48.7 727.41,51.9 727.49,47.1 727.56,45.5 727.63,57.6 727.70,73.8 727.77,71.0 727.84,54.8 727.91,49.4 727.99,51.2 728.06,52.9 728.13,51.7 728.20,50.0 728.27,54.5 728.34,64.9 728.41,61.4 728.49,52.6 728.56,51.4 728.63,51.0 728.70,50.6 728.77,52.3 728.84,51.5 728.91,45.0 728.99,45.6 729.06,51.8 729.13,52.6 729.20,51.5 729.27,48.6 729.34,45.5 729.41,47.2 729.49,52.3 729.56,55.9 729.63,56.5 729.70,53.4 729.77,50.8 729.84,48.9 729.91,51.7 729.99,58.2 730.06,67.3 730.13,64.6 730.20,54.3 730.27,50.2 730.34,48.3 730.41,46.9 730.49,49.1 730.56,53.5 730.63,53.5 730.70,48.2 730.77,44.8 730.84,49.0 730.91,54.5 730.99,63.6 731.06,67.3 731.13,59.1 731.20,50.1 731.27,44.3 731.34,49.6 731.41,53.4 731.49,52.1 731.56,45.0 731.63,43.0 731.70,51.3 731.77,58.2 731.84,58.4 731.91,52.7 731.99,51.8 732.06,53.2 732.13,54.7 732.20,53.3 732.27,49.8 732.34,45.8 732.41,51.7 732.49,59.2 732.56,57.7 732.63,51.7 732.70,51.5 732.77,56.9 732.84,63.6 732.91,58.7 732.99,47.6 733.06,34.8 733.13,42.5 733.20,52.1 733.27,52.7 733.34,50.8 733.41,46.4 733.49,43.5 733.56,48.0 733.63,52.7 733.70,55.6 733.77,59.7 733.84,66.2 733.91,69.3 733.99,65.2 734.06,55.4 734.13,48.5 734.20,39.0 734.27,34.4 734.34,43.6 734.41,53.5 734.49,55.0 734.56,50.3 734.63,48.0 734.70,50.7 734.77,51.8 734.84,51.9 734.91,53.0 734.99,53.0 735.06,50.6 735.13,49.6 735.20,52.3 735.27,56.4 735.34,62.9 735.41,64.7 735.49,56.5 735.56,50.9 735.63,47.3 735.70,46.9 735.77,49.3 735.84,52.7 735.91,55.4 735.99,54.3 736.06,51.9 736.13,49.3 736.20,51.3 736.27,53.4 736.34,52.5 736.41,50.0 736.49,48.7 736.56,50.9 736.63,53.8 736.70,58.6 736.77,59.8 736.84,53.6 736.91,46.1 736.99,41.4 737.06,49.6 737.13,62.2 737.20,73.8 737.27,66.4 737.34,55.0 737.41,52.3 737.49,48.4 737.56,35.4 737.63,26.3 737.70,36.6 737.77,51.6 737.84,58.5 737.91,57.5 737.99,53.0 738.06,56.8 738.13,67.0 738.20,64.3 738.27,53.5 738.34,49.1 738.41,49.9 738.49,52.9 738.56,56.4 738.63,54.5 738.70,49.2 738.77,44.2 738.84,43.7 738.91,43.6 738.99,44.9 739.06,48.1 739.13,50.5 739.20,52.3 739.27,56.2 739.34,62.6 739.41,63.0 739.49,54.8 739.56,49.3 739.63,49.5 739.70,51.3 739.77,49.2 739.84,47.9 739.91,54.1 739.99,70.3 740.06,73.2 740.13,60.5 740.20,52.3 740.27,42.7 740.34,33.5 740.41,42.4 740.49,52.9 740.56,57.7 740.63,56.0 740.70,53.0 740.77,53.2 740.84,55.0 740.91,53.8 740.99,50.9 741.06,43.2 741.13,36.7 741.20,36.4 741.27,43.0 741.34,51.6 741.41,55.1 741.49,55.5 741.56,56.2 741.63,56.9 741.70,52.9 741.77,49.1 741.84,52.2 741.91,62.8 741.99,62.7 742.06,52.6 742.13,49.9 742.20,52.2 742.27,56.1 742.34,60.0 742.41,58.2 742.49,52.0 742.56,43.8 742.63,41.3 742.70,50.4 742.77,56.1 742.84,55.5 742.91,58.8 742.99,70.6 743.06,65.2 743.13,50.4 743.20,35.3 743.27,30.8 743.34,41.4 743.41,51.8 743.49,51.9 743.56,46.0 743.63,43.6 743.70,48.4 743.77,52.4 743.84,56.0 743.91,59.1 743.99,57.0 744.06,53.6 744.13,52.6 744.20,52.5 744.27,52.9 744.34,53.8 744.41,54.1 744.49,53.0 744.56,52.3 744.63,52.0 744.70,52.6 744.77,55.0 744.84,53.5 744.91,48.5 744.99,43.9 745.06,51.2 745.13,54.9 745.20,57.3 745.27,54.1 745.34,51.9 745.41,50.8 745.49,50.7 745.56,52.0 745.63,53.8 745.70,55.9 745.77,53.4 745.84,49.2 745.91,46.2 745.99,48.9 746.06,51.8 746.13,52.2 746.20,50.9 746.27,51.6 746.34,55.0 746.41,57.9 746.49,56.2 746.56,53.2 746.63,50.7 746.70,49.4 746.77,51.7 746.84,53.0 746.91,52.3 746.99,50.6 747.06,51.2 747.13,52.2 747.20,51.5 747.27,49.8 747.34,50.7 747.41,53.4 747.49,57.4 747.56,58.6 747.63,56.7 747.70,54.7 747.77,54.4 747.84,55.2 747.91,54.4 747.99,52.7 748.06,52.4 748.13,52.0 748.20,47.4 748.27,40.5 748.34,40.2 748.41,46.7 748.49,51.2 748.56,52.3 748.63,54.2 748.70,58.4 748.77,58.7 748.84,56.3 748.91,55.9 748.99,55.3 749.06,52.3 749.13,49.1 749.20,47.8 749.27,49.9 749.34,52.3 749.41,52.5 749.49,50.1 749.56,46.0 749.63,44.4 749.70,46.4 749.77,52.3 749.84,61.5 749.91,68.1 749.99,61.8 750.06,52.4 750.13,47.3 750.20,47.7 750.27,50.4 750.34,51.9 750.41,51.7 750.49,48.3 750.56,47.3 750.63,52.4 750.70,59.9 750.77,66.1 750.84,64.8 750.91,56.1 750.99,49.2 751.06,43.7 751.13,48.4 751.20,53.4 751.27,54.3 751.34,52.2 751.41,50.4 751.49,49.6 751.56,50.7 751.63,51.8 751.70,50.7 751.77,48.0 751.84,49.8 751.91,53.3 751.99,56.9 752.06,56.9 752.13,54.3 752.20,52.5 752.27,52.3 752.34,53.3 752.41,54.6 752.49,53.1 752.56,50.0 752.63,48.0 752.70,51.5 752.77,53.6 752.84,54.1 752.91,52.8 752.99,51.3 753.06,50.3 753.13,51.3 753.20,52.3 753.27,52.8 753.34,52.1 753.41,51.0 753.49,52.0 753.56,53.0 753.63,54.8 753.70,53.6 753.77,49.8 753.84,47.8 753.91,51.9 753.99,55.3 754.06,55.7 754.13,52.6 754.20,50.4 754.27,48.9 754.34,49.2 754.41,51.0 754.49,52.3 754.56,54.5 754.63,59.1 754.70,60.3 754.77,56.4 754.84,52.5 754.91,50.0 754.99,48.2 755.06,49.9 755.13,52.9 755.20,56.6 755.27,57.3 755.34,55.2 755.41,52.4 755.49,49.0 755.56,46.9 755.63,50.2 755.70,53.6 755.77,56.1 755.84,53.5 755.91,48.3 755.99,43.6 756.06,46.4 756.13,49.6 756.20,50.5 756.27,50.1 756.34,51.6 756.41,53.9 756.49,54.0 756.56,52.3 756.63,53.1 756.70,56.9 756.77,58.1 756.84,56.8 756.91,57.0 756.99,58.2 757.06,53.8 757.13,46.4 757.20,41.9 757.27,48.6 757.34,54.4 757.41,57.3 757.49,53.6 757.56,50.6 757.63,48.6 757.70,48.4 757.77,48.9 757.84,50.3 757.91,52.0 757.99,53.1 758.06,54.4 758.13,56.2 758.20,60.7 758.27,63.1 758.34,55.1 758.41,46.2 758.49,40.0 758.56,43.4 758.63,47.8 758.70,50.7 758.77,52.4 758.84,53.7 758.91,55.1 758.99,55.3 759.06,52.7 759.13,50.7 759.20,51.4 759.27,52.3 759.34,52.9 759.41,55.8 759.49,58.6 759.56,55.1 759.63,48.7 759.70,39.8 759.77,44.0 759.84,52.7 759.91,58.5 759.99,58.0 760.06,55.3 760.13,53.9 760.20,52.9 760.27,52.2 760.34,51.8 760.41,51.7 760.49,51.7 760.56,52.2 760.63,53.5 760.70,54.9 760.77,54.7 760.84,53.1 760.91,50.5 760.99,47.0 761.06,47.5 761.13,48.9 761.20,50.0 761.27,51.7 761.34,53.2 761.41,54.5 761.49,54.3 761.56,54.4 761.63,55.4 761.70,55.9 761.77,53.4 761.84,49.8 761.91,45.8 761.99,48.4 762.06,52.3 762.13,53.0 762.20,52.1 762.27,50.7 762.34,50.6 762.41,51.7 762.49,52.2 762.56,52.9 762.63,55.6 762.70,58.2 762.77,57.5 762.84,54.3 762.91,52.6 762.99,52.4 763.06,52.1 763.13,51.1 763.20,49.4 763.27,48.9 763.34,51.4 763.41,52.9 763.49,52.4 763.56,50.5 763.63,49.9 763.70,51.3 763.77,52.0 763.84,52.0 763.91,52.2 763.99,52.4 764.06,52.9 764.13,53.7 764.20,54.7 764.27,55.1 764.34,53.6 764.41,52.3 764.49,51.4 764.56,49.9 764.63,48.7 764.70,50.1 764.77,52.4 764.84,54.4 764.91,54.5 764.99,52.4 765.06,50.9 765.13,51.3 765.20,52.1 765.27,52.1 765.34,52.9 765.41,58.6 765.49,64.1 765.56,58.9 765.63,51.2 765.70,44.4 765.77,44.6 765.84,49.5 765.91,52.3 765.99,54.0 766.06,53.8 766.13,52.2 766.20,51.0 766.27,50.7 766.34,49.6 766.41,50.9 766.49,54.9 766.56,57.4 766.63,53.7 766.70,51.4 766.77,49.3 766.84,48.0 766.91,48.4 766.99,48.5 767.06,49.3 767.13,52.3 767.20,56.8 767.27,61.4 767.34,60.5 767.41,54.1 767.49,50.1 767.56,50.0 767.63,55.4 767.70,62.6 767.77,58.4 767.84,52.3 767.91,50.0 767.99,50.6 768.06,52.3 768.13,54.4 768.20,54.0 768.27,52.0 768.34,49.7 768.41,47.1 768.49,45.4 768.56,43.3 768.63,41.1 768.70,44.4 768.77,52.2 768.84,60.5 768.91,63.0 768.99,58.0 769.06,55.4 769.13,54.0 769.20,52.1 769.27,49.6 769.34,48.6 769.41,49.7 769.49,49.7 769.56,49.1 769.63,50.1 769.70,52.2 769.77,56.2 769.84,60.9 769.91,58.1 769.99,52.8 770.06,51.6 770.13,51.9 770.20,52.2 770.27,52.4 770.34,52.6 770.41,51.3 770.49,50.8 770.56,53.7 770.63,58.0 770.70,57.4 770.77,55.0 770.84,53.4 770.91,52.2 770.99,51.5 771.06,51.5 771.13,51.7 771.20,50.4 771.27,46.3 771.34,42.0 771.41,44.7 771.49,52.9 771.56,61.9 771.63,58.9 771.70,51.8 771.77,48.9 771.84,51.2 771.91,53.4 771.99,55.7 772.06,54.6 772.13,52.4 772.20,52.3 772.27,52.6 772.34,53.3 772.41,53.8 772.49,52.1 772.56,48.8 772.63,45.8 772.70,43.3 772.77,47.3 772.84,53.4 772.91,58.3 772.99,56.7 773.06,52.6 773.13,51.8 773.20,53.7 773.27,57.4 773.34,56.9 773.41,53.5 773.49,51.3 773.56,50.5 773.63,51.7 773.70,51.3 773.77,49.2 773.84,48.9 773.91,50.7 773.99,51.7 774.06,52.1 774.13,51.8 774.20,51.9 774.27,53.2 774.34,52.9 774.41,51.3 774.49,52.1 774.56,55.1 774.63,55.9 774.70,54.1 774.77,54.7 774.84,56.6 774.91,54.5 774.99,50.6 775.06,47.6 775.13,49.4 775.20,51.2 775.27,52.1 775.34,52.8 775.41,52.7 775.49,51.7 775.56,50.5 775.63,50.6 775.70,52.3 775.77,53.9 775.84,52.8 775.91,52.0 775.99,53.3 776.06,57.7 776.13,58.5 776.20,55.2 776.27,52.3 776.34,49.4 776.41,47.8 776.49,49.5 776.56,50.6 776.63,50.5 776.70,50.8 776.77,52.1 776.84,52.2 776.91,51.2 776.99,50.4 777.06,51.7 777.13,53.4 777.20,55.6 777.27,54.3 777.34,51.4 777.41,47.6 777.49,47.9 777.56,52.6 777.63,58.7 777.70,61.0 777.77,60.8 777.84,56.4 777.91,51.8 777.99,50.0 778.06,52.5 778.13,55.9 778.20,54.5 778.27,52.4 778.34,51.6 778.41,48.9 778.49,45.5 778.56,45.4 778.63,46.8 778.70,48.2 778.77,49.4 778.84,50.5 778.91,52.2 778.99,54.2 779.06,56.0 779.13,56.4 779.20,54.8 779.27,52.5 779.34,51.6 779.41,51.6 779.49,52.1 779.56,52.3 779.63,52.8 779.70,56.0 779.77,61.2 779.84,59.0 779.91,52.7 779.99,50.1 780.06,47.3 780.13,44.6 780.20,45.9 780.27,49.3 780.34,52.3 780.41,55.6 780.49,58.5 780.56,57.9 780.63,54.8 780.70,52.1 780.77,49.5 780.84,49.2 780.91,51.0 780.99,50.7 781.06,49.8 781.13,51.8 781.20,52.9 781.27,52.8 781.34,52.9 781.41,53.6 781.49,53.2 781.56,53.3 781.63,55.1 781.70,54.3 781.77,50.5 781.84,45.4 781.91,46.2 781.99,50.5 782.06,53.2 782.13,55.2 782.20,54.4 782.27,52.9 782.34,52.8 782.41,53.3 782.49,53.7 782.56,54.8 782.63,55.2 782.70,52.5 782.77,48.9 782.84,47.3 782.91,49.0 782.99,50.2 783.06,52.0 783.13,53.4 783.20,53.1 783.27,52.0 783.34,52.1 783.41,53.5 783.49,55.5 783.56,57.2 783.63,57.4 783.70,54.8 783.77,51.5 783.84,47.3 783.91,47.4 783.99,51.4 784.06,54.2 784.13,55.6 784.20,53.8 784.27,51.4 784.34,48.7 784.41,48.4 784.49,49.2 784.56,49.2 784.63,50.7 784.70,53.2 784.77,53.7 784.84,51.9 784.91,49.7 784.99,49.9 785.06,52.3 785.13,56.0 785.20,58.9 785.27,57.2 785.34,53.6 785.41,52.4 785.49,51.9 785.56,51.1 785.63,52.3 785.70,55.8 785.77,57.0 785.84,52.6 785.91,48.6 785.99,47.2 786.06,49.4 786.13,52.3 786.20,54.8 786.27,54.7 786.34,52.3 786.41,49.1 786.49,47.4 786.56,51.1 786.63,55.4 786.70,59.6 786.77,58.2 786.84,52.3 786.91,47.0 786.99,46.9 787.06,49.8 787.13,50.0 787.20,50.2 787.27,53.7 787.34,59.7 787.41,56.7 787.49,49.6 787.56,42.8 787.63,46.3 787.70,51.9 787.77,55.1 787.84,58.0 787.91,57.6 787.99,57.9 788.06,61.2 788.13,61.1 788.20,54.1 788.27,47.2 788.34,42.4 788.41,46.1 788.49,49.7 788.56,50.3 788.63,49.9 788.70,50.3 788.77,52.1 788.84,53.9 788.91,54.2 788.99,52.4" fill="none" stroke="#006400" stroke-width="0.6"/>
<polyline points="732.5,52.3 732.85,24 733.20,73 733.55,41.0 733.9,52.3" fill="none" stroke="#006400" stroke-width="0.6"/>
<polyline points="735.0,52.3 735.35,30 735.70,70 736.05,43.4 736.4,52.3" fill="none" stroke="#006400" stroke-width="0.6"/>
<polyline points="737.5,52.3 737.85,32 738.20,68 738.55,44.2 738.9,52.3" fill="none" stroke="#006400" stroke-width="0.6"/>
<polyline points="730.5,52.3 730.85,36 731.20,66 731.55,45.8 731.9,52.3" fill="none" stroke="#006400" stroke-width="0.6"/>
<polyline points="740.5,52.3 740.85,38 741.20,64 741.55,46.6 741.9,52.3" fill="none" stroke="#006400" stroke-width="0.6"/>
<polyline points="626.6,52.3 626.95,46 627.30,56 627.65,49.8 628.0,52.3" fill="none" stroke="#006400" stroke-width="0.6"/>
<polyline points="681.0,52.3 681.35,44.7 681.70,59.7 682.05,49.3 682.4,52.3" fill="none" stroke="#006400" stroke-width="0.6"/>
<rect x="506.7" y="20.8" width="283.3" height="54.0" fill="none" stroke="#000" stroke-width="1.9"/>
<polyline points="507.70,136.0 507.77,135.6 507.84,135.0 507.91,134.7 507.99,135.2 508.06,135.6 508.13,135.7 508.20,135.8 508.27,135.9 508.34,135.9 508.41,135.8 508.49,135.7 508.56,135.4 508.63,135.1 508.70,135.2 508.77,135.6 508.84,135.9 508.91,136.3 508.99,136.4 509.06,136.1 509.13,135.7 509.20,135.3 509.27,135.2 509.34,135.5 509.41,135.7 509.49,135.7 509.56,135.8 509.63,136.1 509.70,136.1 509.77,135.7 509.84,135.3 509.91,135.3 509.99,135.4 510.06,135.6 510.13,135.7 510.20,135.8 510.27,135.7 510.34,135.7 510.41,135.6 510.49,135.7 510.56,135.9 510.63,136.0 510.70,135.8 510.77,135.7 510.84,135.8 510.91,136.0 510.99,136.0 511.06,135.9 511.13,135.6 511.20,135.3 511.27,135.3 511.34,135.3 511.41,135.5 511.49,135.8 511.56,135.8 511.63,135.7 511.70,135.8 511.77,135.9 511.84,135.8 511.91,135.7 511.99,135.4 512.06,135.3 512.13,135.6 512.20,135.7 512.27,135.8 512.34,135.7 512.41,135.8 512.49,136.0 512.56,135.9 512.63,135.7 512.70,135.7 512.77,136.0 512.84,135.9 512.91,135.7 512.99,135.7 513.06,135.6 513.13,135.4 513.20,135.5 513.27,135.7 513.34,135.9 513.41,135.9 513.49,135.6 513.56,135.2 513.63,135.3 513.70,135.5 513.77,135.6 513.84,135.6 513.91,135.6 513.99,135.7 514.06,135.8 514.13,135.9 514.20,135.7 514.27,135.7 514.34,135.8 514.41,136.0 514.49,136.1 514.56,136.0 514.63,135.8 514.70,135.7 514.77,135.6 514.84,135.5 514.91,135.4 514.99,135.5 515.06,135.3 515.13,135.2 515.20,135.4 515.27,135.8 515.34,136.3 515.41,136.6 515.49,136.6 515.56,136.0 515.63,135.7 515.70,135.6 515.77,135.7 515.84,135.6 515.91,135.3 515.99,135.2 516.06,135.4 516.13,135.7 516.20,135.8 516.27,135.9 516.34,135.9 516.41,135.8 516.49,135.7 516.56,135.7 516.63,135.6 516.70,135.7 516.77,135.7 516.84,135.8 516.91,135.8 516.99,135.6 517.06,135.6 517.13,135.8 517.20,136.0 517.27,135.8 517.34,135.5 517.41,135.3 517.49,135.6 517.56,135.8 517.63,136.0 517.70,136.2 517.77,136.0 517.84,135.6 517.91,135.1 517.99,134.8 518.06,134.6 518.13,135.0 518.20,135.7 518.27,135.8 518.34,135.8 518.41,136.0 518.49,136.5 518.56,136.8 518.63,136.4 518.70,135.8 518.77,135.5 518.84,135.5 518.91,135.7 518.99,135.8 519.06,135.5 519.13,135.0 519.20,135.0 519.27,135.4 519.34,135.6 519.41,135.7 519.49,136.0 519.56,136.3 519.63,136.5 519.70,136.1 519.77,135.7 519.84,135.4 519.91,135.4 519.99,135.6 520.06,135.7 520.13,135.7 520.20,135.8 520.27,135.7 520.34,135.6 520.41,135.2 520.49,135.0 520.56,135.5 520.63,136.1 520.70,136.5 520.77,136.3 520.84,135.8 520.91,135.7 520.99,135.7 521.06,135.8 521.13,135.7 521.20,135.4 521.27,135.2 521.34,135.6 521.41,135.8 521.49,135.8 521.56,135.8 521.63,135.9 521.70,136.0 521.77,135.8 521.84,135.7 521.91,135.7 521.99,135.7 522.06,135.7 522.13,135.7 522.20,135.5 522.27,135.5 522.34,135.6 522.41,135.8 522.49,136.2 522.56,136.1 522.63,135.7 522.70,135.1 522.77,135.1 522.84,135.6 522.91,136.0 522.99,135.9 523.06,135.6 523.13,135.4 523.20,135.3 523.27,135.5 523.34,135.6 523.41,135.7 523.49,136.0 523.56,136.4 523.63,136.2 523.70,135.8 523.77,135.6 523.84,135.5 523.91,135.5 523.99,135.7 524.06,135.4 524.13,135.2 524.20,135.4 524.27,135.8 524.34,136.2 524.41,136.5 524.49,136.4 524.56,136.0 524.63,135.6 524.70,135.2 524.77,135.1 524.84,135.1 524.91,135.3 524.99,135.7 525.06,136.4 525.13,136.5 525.20,135.9 525.27,135.6 525.34,135.4 525.41,135.6 525.49,135.8 525.56,135.9 525.63,135.9 525.70,136.0 525.77,136.2 525.84,136.1 525.91,135.7 525.99,135.2 526.06,135.1 526.13,135.4 526.20,135.3 526.27,135.0 526.34,135.1 526.41,135.5 526.49,135.7 526.56,135.9 526.63,136.1 526.70,136.1 526.77,136.0 526.84,135.8 526.91,135.5 526.99,135.0 527.06,135.0 527.13,135.6 527.20,136.3 527.27,137.1 527.34,137.0 527.41,136.0 527.49,135.5 527.56,135.1 527.63,135.0 527.70,135.1 527.77,135.5 527.84,135.8 527.91,136.0 527.99,136.1 528.06,136.1 528.13,136.0 528.20,135.8 528.27,135.6 528.34,135.4 528.41,135.2 528.49,135.1 528.56,135.4 528.63,135.9 528.70,136.4 528.77,136.2 528.84,135.8 528.91,135.8 528.99,135.9 529.06,135.9 529.13,135.7 529.20,135.2 529.27,135.1 529.34,135.7 529.41,136.1 529.49,135.9 529.56,135.5 529.63,135.0 529.70,134.9 529.77,135.4 529.84,135.9 529.91,136.0 529.99,135.7 530.06,135.5 530.13,135.7 530.20,136.0 530.27,135.8 530.34,135.5 530.41,135.4 530.49,135.7 530.56,135.8 530.63,135.8 530.70,136.0 530.77,136.2 530.84,136.1 530.91,136.0 530.99,136.0 531.06,135.9 531.13,135.6 531.20,135.2 531.27,134.9 531.34,135.4 531.41,135.8 531.49,135.7 531.56,135.7 531.63,136.0 531.70,136.2 531.77,135.8 531.84,135.7 531.91,135.6 531.99,135.5 532.06,135.4 532.13,135.4 532.20,135.7 532.27,135.8 532.34,135.9 532.41,136.0 532.49,135.9 532.56,135.7 532.63,135.6 532.70,135.5 532.77,135.6 532.84,135.5 532.91,135.4 532.99,135.6 533.06,135.7 533.13,135.7 533.20,135.6 533.27,135.7 533.34,136.0 533.41,136.3 533.49,136.1 533.56,135.9 533.63,135.7 533.70,135.6 533.77,135.6 533.84,135.7 533.91,135.7 533.99,135.9 534.06,135.9 534.13,135.7 534.20,135.5 534.27,135.2 534.34,134.8 534.41,134.9 534.49,135.2 534.56,135.6 534.63,136.0 534.70,136.8 534.77,137.1 534.84,136.8 534.91,136.2 534.99,135.9 535.06,135.6 535.13,135.0 535.20,134.7 535.27,134.6 535.34,134.8 535.41,135.4 535.49,136.1 535.56,136.8 535.63,136.8 535.70,136.3 535.77,135.8 535.84,135.4 535.91,135.0 535.99,135.2 536.06,135.7 536.13,136.1 536.20,136.1 536.27,135.8 536.34,135.5 536.41,135.4 536.49,135.5 536.56,135.6 536.63,135.6 536.70,135.6 536.77,135.7 536.84,135.8 536.91,135.8 536.99,135.7 537.06,135.5 537.13,135.3 537.20,135.6 537.27,136.0 537.34,136.2 537.41,136.0 537.49,135.9 537.56,136.0 537.63,136.0 537.70,135.8 537.77,135.7 537.84,135.5 537.91,135.2 537.99,135.1 538.06,135.5 538.13,135.8 538.20,136.0 538.27,135.8 538.34,135.6 538.41,135.1 538.49,135.0 538.56,135.5 538.63,136.0 538.70,136.4 538.77,136.2 538.84,136.1 538.91,136.0 538.99,135.8 539.06,135.7 539.13,135.7 539.20,135.7 539.27,135.7 539.34,135.8 539.41,135.8 539.49,135.7 539.56,135.3 539.63,135.0 539.70,134.7 539.77,134.6 539.84,135.3 539.91,135.8 539.99,136.0 540.06,135.9 540.13,135.9 540.20,135.8 540.27,135.7 540.34,136.0 540.41,136.2 540.49,136.1 540.56,136.0 540.63,135.9 540.70,135.7 540.77,135.1 540.84,134.9 540.91,135.2 540.99,135.6 541.06,135.8 541.13,136.2 541.20,136.5 541.27,136.0 541.34,135.3 541.41,134.8 541.49,135.3 541.56,135.8 541.63,135.8 541.70,135.6 541.77,135.6 541.84,135.8 541.91,135.9 541.99,135.8 542.06,135.8 542.13,136.0 542.20,136.2 542.27,135.8 542.34,135.1 542.41,134.4 542.49,135.0 542.56,135.7 542.63,135.9 542.70,136.2 542.77,136.3 542.84,136.0 542.91,135.5 542.99,135.0 543.06,135.2 543.13,135.6 543.20,135.8 543.27,136.0 543.34,136.4 543.41,136.2 543.49,135.7 543.56,135.4 543.63,135.7 543.70,135.8 543.77,135.8 543.84,135.8 543.91,135.6 543.99,135.3 544.06,135.5 544.13,135.7 544.20,135.9 544.27,135.8 544.34,135.5 544.41,135.2 544.49,135.6 544.56,136.2 544.63,136.3 544.70,135.7 544.77,135.2 544.84,135.3 544.91,135.8 544.99,136.1 545.06,136.1 545.13,136.0 545.20,136.0 545.27,135.7 545.34,135.5 545.41,135.4 545.49,135.5 545.56,135.6 545.63,135.7 545.70,135.7 545.77,135.7 545.84,135.7 545.91,135.8 545.99,135.7 546.06,135.5 546.13,135.2 546.20,135.1 546.27,135.2 546.34,135.5 546.41,135.7 546.49,136.2 546.56,136.3 546.63,136.1 546.70,135.8 546.77,135.6 546.84,135.5 546.91,135.7 546.99,136.1 547.06,136.2 547.13,136.1 547.20,136.1 547.27,136.0 547.34,135.7 547.41,135.2 547.49,135.0 547.56,135.1 547.63,135.6 547.70,135.8 547.77,135.8 547.84,135.8 547.91,135.7 547.99,135.5 548.06,135.4 548.13,135.6 548.20,135.7 548.27,135.6 548.34,135.6 548.41,135.8 548.49,136.1 548.56,136.1 548.63,135.9 548.70,135.8 548.77,135.8 548.84,135.8 548.91,135.9 548.99,135.7 549.06,135.4 549.13,135.1 549.20,135.1 549.27,135.3 549.34,135.5 549.41,135.7 549.49,136.0 549.56,136.4 549.63,136.7 549.70,136.3 549.77,135.7 549.84,135.3 549.91,135.2 549.99,135.7 550.06,136.0 550.13,136.0 550.20,135.8 550.27,135.7 550.34,135.8 550.41,135.7 550.49,135.6 550.56,135.4 550.63,135.2 550.70,135.2 550.77,135.5 550.84,135.7 550.91,135.6 550.99,135.6 551.06,135.7 551.13,136.0 551.20,136.3 551.27,136.4 551.34,136.0 551.41,135.6 551.49,135.4 551.56,135.5 551.63,135.7 551.70,135.7 551.77,135.7 551.84,135.7 551.91,135.7 551.99,135.5 552.06,135.5 552.13,135.7 552.20,135.9 552.27,136.0 552.34,136.1 552.41,135.9 552.49,135.7 552.56,135.6 552.63,135.5 552.70,135.2 552.77,135.3 552.84,135.6 552.91,135.7 552.99,135.7 553.06,135.6 553.13,135.6 553.20,135.5 553.27,135.5 553.34,135.6 553.41,135.7 553.49,136.1 553.56,136.5 553.63,136.3 553.70,135.8 553.77,135.6 553.84,135.7 553.91,135.7 553.99,135.8 554.06,135.9 554.13,135.8 554.20,135.6 554.27,135.5 554.34,135.7 554.41,135.7 554.49,135.6 554.56,135.5 554.63,135.5 554.70,135.6 554.77,135.7 554.84,136.1 554.91,136.1 554.99,135.8 555.06,135.7 555.13,135.8 555.20,135.8 555.27,135.7 555.34,135.6 555.41,135.4 555.49,135.3 555.56,135.4 555.63,135.6 555.70,135.7 555.77,135.7 555.84,135.7 555.91,135.7 555.99,135.7 556.06,135.7 556.13,136.2 556.20,136.7 556.27,136.2 556.34,135.5 556.41,134.8 556.49,134.6 556.56,135.0 556.63,135.5 556.70,135.7 556.77,135.9 556.84,135.8 556.91,135.8 556.99,135.8 557.06,135.9 557.13,135.9 557.20,135.9 557.27,136.1 557.34,136.2 557.41,135.8 557.49,135.4 557.56,134.9 557.63,134.8 557.70,135.0 557.77,135.6 557.84,136.4 557.91,136.9 557.99,136.3 558.06,135.7 558.13,135.2 558.20,134.9 558.27,135.1 558.34,135.6 558.41,135.7 558.49,135.7 558.56,135.6 558.63,135.7 558.70,135.7 558.77,136.1 558.84,136.8 558.91,136.7 558.99,136.0 559.06,135.6 559.13,135.6 559.20,135.6 559.27,135.5 559.34,135.2 559.41,135.3 559.49,135.7 559.56,136.0 559.63,135.7 559.70,135.3 559.77,135.5 559.84,136.1 559.91,136.2 559.99,135.6 560.06,134.2 560.13,134.5 560.20,135.7 560.27,136.6 560.34,136.3 560.41,135.7 560.49,135.3 560.56,135.6 560.63,135.7 560.70,135.5 560.77,135.4 560.84,135.9 560.91,136.6 560.99,136.8 561.06,136.6 561.13,136.1 561.20,135.7 561.27,135.4 561.34,135.3 561.41,134.9 561.49,134.5 561.56,134.9 561.63,135.2 561.70,135.0 561.77,135.5 561.84,136.8 561.91,138.4 561.99,137.2 562.06,135.5 562.13,134.4 562.20,134.7 562.27,135.6 562.34,135.9 562.41,136.0 562.49,136.3 562.56,136.4 562.63,136.1 562.70,135.8 562.77,135.5 562.84,135.0 562.91,134.8 562.99,135.5 563.06,136.1 563.13,136.3 563.20,136.1 563.27,135.9 563.34,135.6 563.41,135.0 563.49,135.0 563.56,135.4 563.63,135.6 563.70,135.7 563.77,135.7 563.84,135.8 563.91,135.9 563.99,135.9 564.06,135.9 564.13,135.9 564.20,135.9 564.27,135.9 564.34,136.0 564.41,136.2 564.49,135.9 564.56,135.4 564.63,134.6 564.70,133.9 564.77,134.0 564.84,135.2 564.91,136.0 564.99,136.1 565.06,135.8 565.13,135.8 565.20,136.2 565.27,136.8 565.34,137.4 565.41,137.4 565.49,136.1 565.56,135.4 565.63,135.5 565.70,135.7 565.77,135.4 565.84,134.8 565.91,134.6 565.99,134.2 566.06,134.2 566.13,135.4 566.20,136.3 566.27,136.8 566.34,136.3 566.41,135.7 566.49,135.5 566.56,135.6 566.63,135.4 566.70,135.3 566.77,135.7 566.84,136.1 566.91,135.9 566.99,135.5 567.06,135.6 567.13,136.2 567.20,137.2 567.27,137.4 567.34,136.6 567.41,135.8 567.49,135.7 567.56,135.5 567.63,135.0 567.70,134.8 567.77,134.6 567.84,134.7 567.91,135.4 567.99,135.8 568.06,136.1 568.13,136.3 568.20,136.2 568.27,135.8 568.34,135.6 568.41,135.6 568.49,135.4 568.56,135.1 568.63,135.2 568.70,135.4 568.77,135.3 568.84,135.6 568.91,136.1 568.99,136.8 569.06,136.8 569.13,136.3 569.20,135.8 569.27,135.6 569.34,135.5 569.41,135.3 569.49,135.3 569.56,135.6 569.63,136.0 569.70,136.6 569.77,136.7 569.84,136.5 569.91,136.3 569.99,135.8 570.06,134.7 570.13,133.7 570.20,134.1 570.27,134.4 570.34,134.4 570.41,135.0 570.49,135.7 570.56,135.7 570.63,135.6 570.70,136.2 570.77,137.5 570.84,137.6 570.91,136.4 570.99,135.8 571.06,135.9 571.13,136.1 571.20,135.8 571.27,135.5 571.34,135.3 571.41,135.3 571.49,135.1 571.56,135.1 571.63,135.7 571.70,136.1 571.77,135.9 571.84,135.9 571.91,136.2 571.99,136.5 572.06,136.5 572.13,136.1 572.20,135.6 572.27,135.3 572.34,134.9 572.41,134.4 572.49,134.5 572.56,135.0 572.63,135.1 572.70,135.2 572.77,135.7 572.84,136.4 572.91,136.8 572.99,136.2 573.06,135.6 573.13,135.0 573.20,135.4 573.27,135.9 573.34,136.0 573.41,135.7 573.49,135.8 573.56,136.4 573.63,137.1 573.70,136.9 573.77,136.0 573.84,135.4 573.91,135.3 573.99,135.4 574.06,135.0 574.13,134.0 574.20,133.8 574.27,135.2 574.34,136.1 574.41,136.8 574.49,136.9 574.56,136.9 574.63,137.0 574.70,137.1 574.77,136.9 574.84,135.8 574.91,134.7 574.99,134.5 575.06,134.7 575.13,134.8 575.20,135.1 575.27,135.3 575.34,135.2 575.41,135.2 575.49,135.4 575.56,135.7 575.63,135.8 575.70,135.8 575.77,135.8 575.84,135.9 575.91,136.3 575.99,137.0 576.06,137.7 576.13,136.9 576.20,135.5 576.27,134.6 576.34,135.0 576.41,135.7 576.49,136.1 576.56,136.0 576.63,135.3 576.70,133.9 576.77,133.2 576.84,134.3 576.91,135.8 576.99,137.5 577.06,137.5 577.13,136.2 577.20,135.6 577.27,135.1 577.34,135.1 577.41,135.5 577.49,135.8 577.56,136.0 577.63,136.0 577.70,135.9 577.77,135.7 577.84,135.6 577.91,135.6 577.99,135.5 578.06,135.6 578.13,135.8 578.20,136.0 578.27,135.8 578.34,135.5 578.41,135.3 578.49,135.8 578.56,137.0 578.63,137.6 578.70,136.7 578.77,135.7 578.84,135.2 578.91,135.2 578.99,135.7 579.06,135.8 579.13,135.7 579.20,135.2 579.27,134.8 579.34,134.3 579.41,133.6 579.49,133.9 579.56,135.1 579.63,136.4 579.70,138.0 579.77,137.7 579.84,136.0 579.91,135.2 579.99,135.4 580.06,135.9 580.13,135.8 580.20,135.6 580.27,135.7 580.34,136.1 580.41,135.9 580.49,135.4 580.56,134.7 580.63,134.8 580.70,135.8 580.77,137.5 580.84,137.9 580.91,136.5 580.99,135.4 581.06,134.7 581.13,135.1 581.20,135.6 581.27,135.6 581.34,135.0 581.41,135.2 581.49,135.9 581.56,135.8 581.63,135.4 581.70,135.7 581.77,136.7 581.84,137.1 581.91,136.6 581.99,136.4 582.06,136.1 582.13,136.1 582.20,136.4 582.27,135.9 582.34,135.0 582.41,133.8 582.49,133.5 582.56,133.5 582.63,133.9 582.70,135.2 582.77,135.9 582.84,136.7 582.91,137.2 582.99,137.3 583.06,136.5 583.13,135.7 583.20,135.1 583.27,134.9 583.34,135.7 583.41,136.9 583.49,137.5 583.56,136.3 583.63,135.3 583.70,134.2 583.77,133.9 583.84,134.4 583.91,135.5 583.99,136.4 584.06,137.1 584.13,137.0 584.20,136.8 584.27,136.0 584.34,135.0 584.41,133.0 584.49,132.4 584.56,134.4 584.63,136.4 584.70,137.2 584.77,136.1 584.84,135.6 584.91,135.6 584.99,136.1 585.06,136.4 585.13,135.8 585.20,135.3 585.27,134.7 585.34,135.0 585.41,135.6 585.49,135.6 585.56,135.1 585.63,135.1 585.70,135.8 585.77,136.8 585.84,137.1 585.91,136.9 585.99,136.5 586.06,136.3 586.13,137.5 586.20,139.8 586.27,139.2 586.34,136.0 586.41,133.6 586.49,132.0 586.56,131.7 586.63,131.5 586.70,131.8 586.77,133.6 586.84,135.7 586.91,137.3 586.99,137.8 587.06,137.3 587.13,136.2 587.20,135.5 587.27,135.0 587.34,135.5 587.41,136.0 587.49,136.4 587.56,136.3 587.63,135.8 587.70,135.7 587.77,136.0 587.84,136.6 587.91,136.7 587.99,136.5 588.06,136.1 588.13,135.3 588.20,133.6 588.27,133.6 588.34,134.8 588.41,135.3 588.49,135.7 588.56,136.3 588.63,136.6 588.70,136.8 588.77,137.0 588.84,135.9 588.91,133.5 588.99,131.8 589.06,133.8 589.13,135.8 589.20,136.8 589.27,136.8 589.34,136.5 589.41,136.5 589.49,136.6 589.56,136.0 589.63,135.4 589.70,135.3 589.77,135.6 589.84,135.6 589.91,135.3 589.99,135.4 590.06,135.7 590.13,136.0 590.20,136.4 590.27,136.2 590.34,135.7 590.41,135.6 590.49,135.6 590.56,135.2 590.63,134.9 590.70,135.6 590.77,136.4 590.84,136.5 590.91,135.8 590.99,135.1 591.06,135.3 591.13,135.8 591.20,135.8 591.27,135.3 591.34,134.7 591.41,134.7 591.49,135.1 591.56,135.7 591.63,136.6 591.70,137.3 591.77,136.9 591.84,136.1 591.91,135.6 591.99,135.0 592.06,134.6 592.13,135.0 592.20,135.7 592.27,136.7 592.34,136.8 592.41,136.2 592.49,136.1 592.56,136.6 592.63,136.8 592.70,136.0 592.77,135.4 592.84,134.8 592.91,134.7 592.99,134.9 593.06,135.0 593.13,135.2 593.20,134.8 593.27,134.3 593.34,135.0 593.41,135.7 593.49,136.1 593.56,137.2 593.63,137.9 593.70,136.9 593.77,136.0 593.84,136.2 593.91,137.0 593.99,136.8 594.06,135.3 594.13,133.9 594.20,134.6 594.27,134.7 594.34,134.2 594.41,135.2 594.49,136.3 594.56,136.2 594.63,135.7 594.70,135.6 594.77,135.1 594.84,134.0 594.91,133.4 594.99,133.5 595.06,134.9 595.13,137.1 595.20,141.0 595.27,142.4 595.34,140.5 595.41,137.7 595.49,136.6 595.56,136.2 595.63,135.3 595.70,132.3 595.77,130.4 595.84,132.2 595.91,134.6 595.99,135.6 596.06,135.8 596.13,136.0 596.20,136.2 596.27,136.4 596.34,136.3 596.41,136.0 596.49,135.8 596.56,135.7 596.63,135.2 596.70,134.1 596.77,133.9 596.84,134.5 596.91,135.7 596.99,137.2 597.06,138.2 597.13,138.2 597.20,137.7 597.27,136.6 597.34,135.8 597.41,135.5 597.49,134.7 597.56,134.5 597.63,135.4 597.70,135.7 597.77,135.4 597.84,135.0 597.91,135.2 597.99,135.6 598.06,135.6 598.13,135.6 598.20,135.7 598.27,135.9 598.34,135.7 598.41,135.6 598.49,135.9 598.56,136.7 598.63,137.1 598.70,136.6 598.77,135.7 598.84,134.8 598.91,135.0 598.99,135.6 599.06,135.5 599.13,135.2 599.20,135.6 599.27,135.7 599.34,135.4 599.41,135.7 599.49,136.6 599.56,136.3 599.63,135.7 599.70,135.7 599.77,135.9 599.84,135.8 599.91,135.6 599.99,135.2 600.06,135.5 600.13,135.9 600.20,136.3 600.27,136.0 600.34,135.5 600.41,134.7 600.49,134.4 600.56,135.5 600.63,136.3 600.70,136.5 600.77,136.1 600.84,135.8 600.91,135.6 600.99,135.4 601.06,135.3 601.13,135.5 601.20,135.7 601.27,135.9 601.34,135.8 601.41,135.5 601.49,135.6 601.56,136.0 601.63,136.1 601.70,135.7 601.77,135.6 601.84,135.8 601.91,136.3 601.99,136.4 602.06,135.8 602.13,135.4 602.20,135.6 602.27,136.0 602.34,135.7 602.41,134.8 602.49,134.6 602.56,135.4 602.63,135.6 602.70,135.6 602.77,135.6 602.84,135.7 602.91,135.9 602.99,136.3 603.06,136.7 603.13,136.6 603.20,136.2 603.27,135.7 603.34,135.4 603.41,135.4 603.49,135.6 603.56,135.8 603.63,136.0 603.70,135.7 603.77,134.7 603.84,134.2 603.91,134.7 603.99,135.4 604.06,135.8 604.13,136.0 604.20,136.0 604.27,136.0 604.34,135.8 604.41,135.6 604.49,135.4 604.56,135.4 604.63,135.7 604.70,136.2 604.77,136.6 604.84,136.0 604.91,135.3 604.99,135.0 605.06,135.4 605.13,135.7 605.20,136.3 605.27,136.9 605.34,136.8 605.41,136.1 605.49,135.5 605.56,135.4 605.63,135.9 605.70,136.2 605.77,135.8 605.84,135.7 605.91,135.7 605.99,135.5 606.06,135.0 606.13,135.2 606.20,135.6 606.27,135.7 606.34,135.5 606.41,135.2 606.49,134.8 606.56,135.0 606.63,135.6 606.70,136.0 606.77,136.2 606.84,136.0 606.91,135.8 606.99,135.5 607.06,135.3 607.13,135.6 607.20,136.1 607.27,136.4 607.34,136.2 607.41,136.1 607.49,136.0 607.56,135.5 607.63,134.8 607.70,134.9 607.77,135.6 607.84,135.8 607.91,136.1 607.99,136.3 608.06,136.1 608.13,135.8 608.20,135.7 608.27,135.8 608.34,135.9 608.41,135.9 608.49,135.7 608.56,135.4 608.63,134.9 608.70,135.0 608.77,135.2 608.84,135.4 608.91,135.7 608.99,136.1 609.06,136.5 609.13,136.2 609.20,135.6 609.27,134.8 609.34,134.7 609.41,135.6 609.49,136.0 609.56,135.9 609.63,135.7 609.70,135.6 609.77,135.7 609.84,136.0 609.91,135.9 609.99,135.6 610.06,135.4 610.13,135.6 610.20,135.9 610.27,136.1 610.34,135.9 610.41,135.8 610.49,135.8 610.56,135.8 610.63,135.8 610.70,135.5 610.77,134.8 610.84,134.7 610.91,135.2 610.99,135.7 611.06,136.6 611.13,137.2 611.20,136.8 611.27,136.1 611.34,136.0 611.41,135.9 611.49,135.4 611.56,134.7 611.63,134.9 611.70,135.4 611.77,135.6 611.84,135.4 611.91,135.1 611.99,135.3 612.06,135.7 612.13,136.2 612.20,135.9 612.27,135.6 612.34,135.7 612.41,136.3 612.49,136.5 612.56,136.0 612.63,135.6 612.70,135.1 612.77,135.0 612.84,135.6 612.91,136.0 612.99,136.5 613.06,136.4 613.13,135.8 613.20,135.1 613.27,135.3 613.34,135.9 613.41,136.1 613.49,135.7 613.56,135.4 613.63,135.2 613.70,135.0 613.77,135.3 613.84,135.7 613.91,135.8 613.99,135.7 614.06,135.8 614.13,136.4 614.20,136.8 614.27,136.2 614.34,135.6 614.41,135.2 614.49,135.2 614.56,135.6 614.63,135.6 614.70,135.4 614.77,135.1 614.84,135.1 614.91,135.7 614.99,136.2 615.06,136.6 615.13,136.4 615.20,136.1 615.27,135.7 615.34,134.9 615.41,134.9 615.49,135.7 615.56,136.3 615.63,135.8 615.70,135.3 615.77,135.2 615.84,135.8 615.91,136.8 615.99,137.4 616.06,136.8 616.13,135.7 616.20,134.3 616.27,133.9 616.34,134.8 616.41,135.7 616.49,136.4 616.56,136.6 616.63,136.3 616.70,135.9 616.77,135.7 616.84,135.5 616.91,135.4 616.99,135.4 617.06,135.6 617.13,135.8 617.20,135.8 617.27,135.6 617.34,135.1 617.41,134.9 617.49,135.2 617.56,135.6 617.63,135.9 617.70,136.1 617.77,135.8 617.84,135.7 617.91,135.8 617.99,136.4 618.06,136.7 618.13,136.2 618.20,135.8 618.27,135.7 618.34,135.3 618.41,134.7 618.49,134.8 618.56,135.3 618.63,135.7 618.70,136.1 618.77,136.3 618.84,136.4 618.91,136.1 618.99,135.6 619.06,135.1 619.13,135.3 619.20,135.5 619.27,135.6 619.34,135.8 619.41,135.9 619.49,135.8 619.56,135.6 619.63,134.7 619.70,134.0 619.77,134.8 619.84,135.9 619.91,136.7 619.99,136.5 620.06,136.2 620.13,136.2 620.20,136.2 620.27,136.2 620.34,135.9 620.41,135.6 620.49,134.9 620.56,134.9 620.63,135.6 620.70,136.2 620.77,136.1 620.84,135.6 620.91,135.1 620.99,135.0 621.06,135.3 621.13,135.6 621.20,135.8 621.27,136.1 621.34,136.3 621.41,136.2 621.49,135.9 621.56,135.5 621.63,135.5 621.70,136.1 621.77,136.8 621.84,136.0 621.91,134.9 621.99,134.0 622.06,134.7 622.13,135.7 622.20,136.2 622.27,136.2 622.34,135.7 622.41,135.7 622.49,136.0 622.56,136.0 622.63,135.7 622.70,135.5 622.77,135.3 622.84,135.4 622.91,135.7 622.99,135.8 623.06,135.8 623.13,135.5 623.20,135.3 623.27,135.2 623.34,135.3 623.41,135.8 623.49,136.6 623.56,136.9 623.63,136.6 623.70,136.0 623.77,135.5 623.84,134.9 623.91,134.6 623.99,134.7 624.06,135.3 624.13,135.9 624.20,136.5 624.27,136.7 624.34,136.7 624.41,136.5 624.49,136.0 624.56,135.4 624.63,134.5 624.70,134.6 624.77,135.5 624.84,135.9 624.91,136.0 624.99,135.7 625.06,135.5 625.13,135.6 625.20,135.8 625.27,135.7 625.34,135.7 625.41,136.0 625.49,136.0 625.56,135.7 625.63,135.4 625.70,135.4 625.77,135.7 625.84,136.3 625.91,136.8 625.99,136.6 626.06,136.0 626.13,135.4 626.20,134.4 626.27,134.0 626.34,134.6 626.41,135.3 626.49,135.7 626.56,136.2 626.63,137.0 626.70,136.8 626.77,136.0 626.84,135.6 626.91,135.5 626.99,135.7 627.06,135.8 627.13,135.5 627.20,134.7 627.27,134.3 627.34,134.8 627.41,135.6 627.49,136.0 627.56,135.8 627.63,135.5 627.70,135.8 627.77,136.8 627.84,136.7 627.91,135.9 627.99,135.7 628.06,135.7 628.13,135.8 628.20,135.8 628.27,135.7 628.34,135.5 628.41,135.3 628.49,135.3 628.56,135.6 628.63,135.9 628.70,136.2 628.77,136.0 628.84,135.7 628.91,135.6 628.99,135.6 629.06,135.7 629.13,135.7 629.20,135.6 629.27,135.5 629.34,135.6 629.41,135.8 629.49,135.7 629.56,135.6 629.63,135.7 629.70,135.9 629.77,136.0 629.84,135.9 629.91,135.6 629.99,135.1 630.06,135.0 630.13,135.5 630.20,135.8 630.27,136.3 630.34,136.5 630.41,136.1 630.49,135.6 630.56,135.0 630.63,134.9 630.70,135.3 630.77,136.0 630.84,136.9 630.91,137.0 630.99,136.4 631.06,135.9 631.13,135.8 631.20,135.5 631.27,135.1 631.34,135.1 631.41,135.5 631.49,135.5 631.56,134.9 631.63,134.9 631.70,135.4 631.77,135.8 631.84,136.5 631.91,136.7 631.99,136.0 632.06,135.5 632.13,135.3 632.20,135.6 632.27,135.9 632.34,135.9 632.41,135.8 632.49,135.7 632.56,135.7 632.63,135.8 632.70,135.7 632.77,135.5 632.84,135.1 632.91,135.4 632.99,135.8 633.06,136.2 633.13,136.1 633.20,135.6 633.27,135.0 633.34,135.1 633.41,135.7 633.49,136.2 633.56,135.8 633.63,135.6 633.70,135.6 633.77,135.9 633.84,136.5 633.91,136.7 633.99,136.2 634.06,135.6 634.13,134.9 634.20,134.7 634.27,135.3 634.34,135.7 634.41,135.7 634.49,135.6 634.56,135.4 634.63,135.4 634.70,135.5 634.77,135.6 634.84,135.7 634.91,136.2 634.99,137.0 635.06,136.4 635.13,135.6 635.20,135.0 635.27,135.1 635.34,135.7 635.41,136.5 635.49,137.0 635.56,136.2 635.63,135.4 635.70,135.1 635.77,135.7 635.84,136.7 635.91,136.7 635.99,135.9 636.06,135.7 636.13,135.1 636.20,133.8 636.27,133.6 636.34,134.3 636.41,135.0 636.49,135.5 636.56,135.6 636.63,135.8 636.70,136.2 636.77,136.8 636.84,137.4 636.91,137.5 636.99,136.8 637.06,136.1 637.13,135.6 637.20,134.8 637.27,134.6 637.34,135.1 637.41,135.5 637.49,136.1 637.56,136.5 637.63,136.0 637.70,135.7 637.77,135.7 637.84,135.6 637.91,135.0 637.99,134.2 638.06,134.1 638.13,134.6 638.20,135.6 638.27,136.8 638.34,138.0 638.41,137.6 638.49,136.2 638.56,135.5 638.63,135.0 638.70,134.8 638.77,135.2 638.84,135.5 638.91,135.2 638.99,135.0 639.06,135.4 639.13,136.1 639.20,136.8 639.27,136.3 639.34,135.8 639.41,135.6 639.49,135.5 639.56,135.6 639.63,135.7 639.70,135.8 639.77,135.9 639.84,135.9 639.91,135.8 639.99,135.6 640.06,135.7 640.13,135.6 640.20,135.2 640.27,135.3 640.34,135.8 640.41,136.5 640.49,136.2 640.56,135.7 640.63,135.8 640.70,135.8 640.77,135.7 640.84,135.7 640.91,135.8 640.99,135.7 641.06,135.7 641.13,135.7 641.20,135.8 641.27,135.8 641.34,135.7 641.41,135.8 641.49,135.7 641.56,135.3 641.63,134.8 641.70,135.4 641.77,136.1 641.84,136.6 641.91,136.2 641.99,135.5 642.06,134.7 642.13,134.7 642.20,135.3 642.27,135.9 642.34,136.2 642.41,135.8 642.49,135.4 642.56,135.5 642.63,135.7 642.70,135.7 642.77,135.7 642.84,135.8 642.91,136.0 642.99,135.7 643.06,135.0 643.13,135.0 643.20,135.7 643.27,136.4 643.34,136.7 643.41,136.4 643.49,136.0 643.56,135.7 643.63,135.4 643.70,135.4 643.77,135.7 643.84,135.9 643.91,136.0 643.99,135.7 644.06,135.6 644.13,135.6 644.20,135.4 644.27,134.8 644.34,134.8 644.41,135.3 644.49,135.7 644.56,135.9 644.63,136.0 644.70,135.9 644.77,135.7 644.84,135.6 644.91,135.6 644.99,135.7 645.06,135.8 645.13,135.9 645.20,136.1 645.27,136.2 645.34,136.1 645.41,135.8 645.49,135.7 645.56,135.6 645.63,135.6 645.70,135.5 645.77,135.4 645.84,135.2 645.91,135.3 645.99,135.4 646.06,135.6 646.13,135.7 646.20,135.8 646.27,136.2 646.34,136.4 646.41,135.7 646.49,135.0 646.56,135.1 646.63,135.6 646.70,136.1 646.77,137.1 646.84,137.6 646.91,137.0 646.99,136.0 647.06,135.4 647.13,134.5 647.20,134.4 647.27,135.0 647.34,135.4 647.41,135.8 647.49,136.1 647.56,135.8 647.63,135.2 647.70,135.0 647.77,135.4 647.84,135.7 647.91,135.7 647.99,135.8 648.06,136.0 648.13,136.0 648.20,135.8 648.27,135.7 648.34,135.7 648.41,135.4 648.49,135.3 648.56,135.6 648.63,135.6 648.70,135.6 648.77,136.4 648.84,137.6 648.91,137.1 648.99,135.9 649.06,135.4 649.13,135.1 649.20,135.6 649.27,135.7 649.34,135.5 649.41,135.0 649.49,135.4 649.56,136.3 649.63,137.0 649.70,136.2 649.77,135.4 649.84,134.7 649.91,134.9 649.99,135.3 650.06,134.8 650.13,134.3 650.20,134.9 650.27,136.1 650.34,137.5 650.41,137.1 650.49,136.1 650.56,136.1 650.63,136.2 650.70,135.7 650.77,135.4 650.84,135.5 650.91,135.6 650.99,135.6 651.06,135.7 651.13,136.3 651.20,136.8 651.27,135.8 651.34,135.5 651.41,135.8 651.49,136.0 651.56,135.7 651.63,135.5 651.70,135.4 651.77,135.5 651.84,135.3 651.91,135.0 651.99,135.5 652.06,136.1 652.13,136.6 652.20,136.2 652.27,135.4 652.34,134.1 652.41,134.2 652.49,135.4 652.56,136.4 652.63,137.5 652.70,136.9 652.77,135.6 652.84,135.2 652.91,135.8 652.99,136.2 653.06,135.8 653.13,135.3 653.20,134.4 653.27,134.5 653.34,135.4 653.41,135.8 653.49,136.2 653.56,136.1 653.63,135.6 653.70,134.8 653.77,135.0 653.84,135.8 653.91,136.6 653.99,136.8 654.06,136.4 654.13,135.7 654.20,135.4 654.27,135.9 654.34,136.2 654.41,135.6 654.49,135.3 654.56,135.7 654.63,135.7 654.70,135.5 654.77,135.7 654.84,136.2 654.91,136.2 654.99,136.0 655.06,135.7 655.13,135.3 655.20,135.2 655.27,135.4 655.34,135.5 655.41,135.5 655.49,135.6 655.56,135.8 655.63,136.5 655.70,136.8 655.77,136.0 655.84,135.7 655.91,135.8 655.99,136.0 656.06,136.1 656.13,129.6 656.20,120.8 656.27,125.5 656.34,136.3 656.41,144.8 656.49,138.7 656.56,129.6 656.63,127.7 656.70,135.2 656.77,137.5 656.84,136.0 656.91,134.9 656.99,134.7 657.06,135.9 657.13,139.9 657.20,141.3 657.27,137.2 657.34,136.7 657.41,139.7 657.49,139.6 657.56,135.5 657.63,128.7 657.70,126.7 657.77,130.8 657.84,130.7 657.91,130.2 657.99,136.0 658.06,145.8 658.13,148.5 658.20,141.6 658.27,136.3 658.34,136.0 658.41,135.9 658.49,134.3 658.56,131.5 658.63,130.6 658.70,134.5 658.77,140.1 658.84,145.4 658.91,140.9 658.99,136.2 659.06,136.0 659.13,135.8 659.20,130.6 659.27,119.8 659.34,115.4 659.41,125.5 659.49,137.2 659.56,148.3 659.63,153.0 659.70,151.1 659.77,141.3 659.84,131.3 659.91,120.1 659.99,123.1 660.06,132.7 660.13,137.3 660.20,137.8 660.27,135.2 660.34,134.6 660.41,135.7 660.49,135.4 660.56,135.4 660.63,138.8 660.70,143.8 660.77,142.4 660.84,138.1 660.91,137.1 660.99,136.3 661.06,130.3 661.13,118.4 661.20,123.9 661.27,136.8 661.34,144.5 661.41,142.3 661.49,141.1 661.56,142.2 661.63,138.7 661.70,133.3 661.77,123.5 661.84,119.6 661.91,127.9 661.99,137.2 662.06,147.5 662.13,148.9 662.20,139.8 662.27,135.7 662.34,136.2 662.41,135.8 662.49,134.4 662.56,135.1 662.63,134.7 662.70,132.8 662.77,131.9 662.84,130.5 662.91,129.9 662.99,134.3 663.06,139.3 663.13,141.6 663.20,138.2 663.27,135.5 663.34,135.4 663.41,137.6 663.49,137.0 663.56,133.9 663.63,131.9 663.70,133.4 663.77,132.7 663.84,132.8 663.91,137.9 663.99,145.6 664.06,143.5 664.13,135.7 664.20,129.9 664.27,131.3 664.34,134.9 664.41,135.3 664.49,134.1 664.56,133.7 664.63,136.8 664.70,145.4 664.77,144.2 664.84,135.7 664.91,135.0 664.99,138.0 665.06,135.4 665.13,130.8 665.20,131.6 665.27,135.8 665.34,137.7 665.41,137.6 665.49,137.2 665.56,136.5 665.63,136.3 665.70,136.1 665.77,135.9 665.84,137.7 665.91,139.2 665.99,136.1 666.06,134.1 666.13,135.1 666.20,135.7 666.27,135.3 666.34,135.1 666.41,135.3 666.49,135.1 666.56,133.4 666.63,131.4 666.70,131.5 666.77,132.3 666.84,134.3 666.91,136.7 666.99,140.3 667.06,143.6 667.13,143.2 667.20,136.9 667.27,131.6 667.34,130.0 667.41,135.0 667.49,137.9 667.56,136.9 667.63,134.8 667.70,133.4 667.77,134.2 667.84,136.1 667.91,139.4 667.99,140.6 668.06,138.7 668.13,137.3 668.20,136.8 668.27,135.8 668.34,134.1 668.41,131.1 668.49,128.7 668.56,130.1 668.63,132.9 668.70,132.6 668.77,129.7 668.84,131.0 668.91,136.2 668.99,142.7 669.06,143.6 669.13,140.0 669.20,137.0 669.27,135.8 669.34,135.8 669.41,135.8 669.49,135.9 669.56,135.9 669.63,134.5 669.70,132.4 669.77,135.8 669.84,142.1 669.91,142.0 669.99,136.4 670.06,134.3 670.13,135.5 670.20,138.0 670.27,137.7 670.34,136.1 670.41,135.8 670.49,135.3 670.56,134.2 670.63,133.3 670.70,132.8 670.77,134.1 670.84,135.6 670.91,133.5 670.99,126.5 671.06,127.1 671.13,136.1 671.20,147.1 671.27,150.0 671.34,142.4 671.41,135.7 671.49,131.1 671.56,129.4 671.63,132.0 671.70,134.4 671.77,135.3 671.84,135.1 671.91,135.3 671.99,137.3 672.06,141.4 672.13,142.3 672.20,138.3 672.27,134.7 672.34,132.0 672.41,131.4 672.49,132.9 672.56,135.6 672.63,138.1 672.70,138.8 672.77,136.8 672.84,136.7 672.91,138.3 672.99,136.6 673.06,134.0 673.13,133.1 673.20,134.6 673.27,135.3 673.34,135.8 673.41,137.8 673.49,138.3 673.56,135.6 673.63,133.6 673.70,134.8 673.77,135.5 673.84,133.9 673.91,131.4 673.99,132.2 674.06,135.2 674.13,137.3 674.20,137.1 674.27,135.5 674.34,135.2 674.41,136.1 674.49,136.3 674.56,136.2 674.63,138.1 674.70,141.4 674.77,141.1 674.84,136.5 674.91,133.3 674.99,133.4 675.06,135.6 675.13,136.7 675.20,136.9 675.27,136.1 675.34,135.1 675.41,132.3 675.49,129.5 675.56,130.4 675.63,134.3 675.70,137.9 675.77,141.1 675.84,139.0 675.91,136.1 675.99,135.3 676.06,135.1 676.13,135.5 676.20,136.1 676.27,136.6 676.34,135.7 676.41,134.0 676.49,132.9 676.56,134.4 676.63,136.3 676.70,138.1 676.77,137.7 676.84,136.2 676.91,134.5 676.99,132.6 677.06,133.9 677.13,135.8 677.20,136.4 677.27,135.9 677.34,135.7 677.41,135.8 677.49,136.6 677.56,137.6 677.63,137.2 677.70,135.8 677.77,134.8 677.84,134.6 677.91,135.1 677.99,135.4 678.06,136.4 678.13,138.9 678.20,138.7 678.27,136.0 678.34,134.0 678.41,133.0 678.49,133.2 678.56,133.9 678.63,135.3 678.70,136.7 678.77,138.8 678.84,139.9 678.91,138.3 678.99,135.7 679.06,133.0 679.13,131.4 679.20,132.1 679.27,133.1 679.34,134.8 679.41,135.8 679.49,136.5 679.56,137.1 679.63,136.7 679.70,136.1 679.77,135.9 679.84,135.7 679.91,135.7 679.99,136.5 680.06,137.4 680.13,137.9 680.20,137.2 680.27,135.7 680.34,134.7 680.41,134.6 680.49,134.2 680.56,132.3 680.63,132.0 680.70,134.4 680.77,136.1 680.84,136.9 680.91,136.8 680.99,137.1 681.06,137.0 681.13,136.3 681.20,135.3 681.27,134.2 681.34,134.9 681.41,135.8 681.49,135.8 681.56,135.4 681.63,135.4 681.70,136.0 681.77,138.4 681.84,140.8 681.91,139.7 681.99,136.8 682.06,135.4 682.13,134.2 682.20,133.3 682.27,133.3 682.34,134.2 682.41,134.7 682.49,135.2 682.56,136.0 682.63,137.5 682.70,137.8 682.77,136.1 682.84,134.6 682.91,134.2 682.99,135.1 683.06,135.6 683.13,135.2 683.20,134.0 683.27,134.6 683.34,136.1 683.41,137.0 683.49,136.0 683.56,135.6 683.63,135.7 683.70,136.0 683.77,137.2 683.84,137.9 683.91,137.5 683.99,136.8 684.06,135.4 684.13,132.9 684.20,132.2 684.27,134.0 684.34,135.7 684.41,136.2 684.49,135.9 684.56,135.8 684.63,136.0 684.70,136.3 684.77,136.8 684.84,136.2 684.91,135.2 684.99,134.4 685.06,135.3 685.13,135.8 685.20,136.2 685.27,136.9 685.34,137.4 685.41,136.9 685.49,135.2 685.56,132.1 685.63,131.8 685.70,133.5 685.77,134.9 685.84,136.4 685.91,138.5 685.99,137.9 686.06,136.3 686.13,135.5 686.20,134.1 686.27,133.3 686.34,134.9 686.41,136.2 686.49,137.1 686.56,137.5 686.63,137.9 686.70,137.5 686.77,135.9 686.84,134.6 686.91,133.9 686.99,135.6 687.06,137.4 687.13,137.0 687.20,135.6 687.27,134.7 687.34,135.0 687.41,134.9 687.49,134.3 687.56,134.9 687.63,135.8 687.70,136.0 687.77,136.0 687.84,136.6 687.91,136.8 687.99,136.0 688.06,135.2 688.13,135.3 688.20,136.3 688.27,137.0 688.34,135.9 688.41,134.4 688.49,132.8 688.56,132.6 688.63,134.4 688.70,136.2 688.77,137.5 688.84,136.8 688.91,135.7 688.99,134.6 689.06,134.9 689.13,136.1 689.20,138.1 689.27,138.1 689.34,136.4 689.41,135.7 689.49,135.6 689.56,135.2 689.63,133.8 689.70,133.8 689.77,135.9 689.84,138.6 689.91,137.8 689.99,135.1 690.06,133.1 690.13,134.7 690.20,136.6 690.27,137.9 690.34,136.8 690.41,135.2 690.49,134.3 690.56,135.3 690.63,135.6 690.70,134.7 690.77,133.8 690.84,134.7 690.91,135.4 690.99,135.7 691.06,136.6 691.13,139.1 691.20,140.6 691.27,138.4 691.34,135.7 691.41,135.1 691.49,135.9 691.56,136.1 691.63,135.0 691.70,133.7 691.77,135.4 691.84,136.8 691.91,135.7 691.99,132.4 692.06,132.0 692.13,135.3 692.20,136.9 692.27,136.4 692.34,135.3 692.41,134.5 692.49,134.9 692.56,135.3 692.63,135.7 692.70,136.4 692.77,136.8 692.84,136.7 692.91,137.1 692.99,136.6 693.06,135.6 693.13,134.3 693.20,134.0 693.27,135.6 693.34,136.7 693.41,136.1 693.49,135.4 693.56,135.5 693.63,135.7 693.70,136.1 693.77,136.5 693.84,136.3 693.91,135.6 693.99,134.8 694.06,134.8 694.13,135.5 694.20,136.1 694.27,136.6 694.34,136.6 694.41,136.2 694.49,135.7 694.56,134.6 694.63,134.2 694.70,134.9 694.77,135.5 694.84,136.1 694.91,136.9 694.99,136.7 695.06,136.1 695.13,136.1 695.20,136.5 695.27,136.4 695.34,135.9 695.41,135.5 695.49,134.2 695.56,133.7 695.63,134.2 695.70,134.7 695.77,135.4 695.84,136.3 695.91,137.3 695.99,136.2 696.06,134.7 696.13,134.2 696.20,134.8 696.27,135.7 696.34,136.2 696.41,136.1 696.49,136.0 696.56,136.3 696.63,136.5 696.70,136.5 696.77,136.1 696.84,136.0 696.91,136.2 696.99,135.7 697.06,134.4 697.13,133.2 697.20,134.3 697.27,136.3 697.34,138.8 697.41,138.7 697.49,136.9 697.56,135.5 697.63,133.3 697.70,131.6 697.77,131.6 697.84,133.3 697.91,135.5 697.99,136.9 698.06,139.0 698.13,140.9 698.20,141.1 698.27,138.4 698.34,135.3 698.41,132.3 698.49,133.0 698.56,135.3 698.63,135.9 698.70,135.7 698.77,135.6 698.84,135.4 698.91,134.7 698.99,135.2 699.06,136.5 699.13,138.1 699.20,138.3 699.27,136.7 699.34,134.9 699.41,134.1 699.49,135.4 699.56,135.5 699.63,134.1 699.70,133.3 699.77,133.9 699.84,135.0 699.91,135.5 699.99,135.6 700.06,136.8 700.13,138.3 700.20,137.4 700.27,135.9 700.34,135.2 700.41,135.3 700.49,136.0 700.56,137.5 700.63,137.3 700.70,135.7 700.77,134.9 700.84,135.5 700.91,135.8 700.99,135.9 701.06,135.9 701.13,135.6 701.20,134.0 701.27,133.4 701.34,135.6 701.41,137.6 701.49,136.9 701.56,135.3 701.63,134.2 701.70,134.8 701.77,135.4 701.84,135.7 701.91,136.2 701.99,136.2 702.06,136.7 702.13,137.2 702.20,135.9 702.27,134.1 702.34,133.1 702.41,135.3 702.49,138.0 702.56,139.4 702.63,137.2 702.70,135.0 702.77,134.1 702.84,135.2 702.91,135.3 702.99,135.2 703.06,135.7 703.13,136.0 703.20,135.7 703.27,135.8 703.34,137.0 703.41,137.9 703.49,136.5 703.56,134.5 703.63,131.3 703.70,130.0 703.77,131.9 703.84,134.9 703.91,136.1 703.99,137.2 704.06,138.9 704.13,139.8 704.20,138.7 704.27,136.7 704.34,135.0 704.41,134.3 704.49,135.7 704.56,137.1 704.63,136.7 704.70,134.8 704.77,132.4 704.84,132.6 704.91,133.7 704.99,134.5 705.06,135.0 705.13,135.7 705.20,136.5 705.27,136.6 705.34,136.6 705.41,136.0 705.49,135.3 705.56,135.4 705.63,135.8 705.70,136.3 705.77,137.4 705.84,138.6 705.91,138.8 705.99,138.1 706.06,136.5 706.13,135.2 706.20,133.8 706.27,133.3 706.34,134.0 706.41,135.4 706.49,136.0 706.56,136.0 706.63,135.3 706.70,134.5 706.77,134.8 706.84,134.0 706.91,133.4 706.99,135.5 707.06,137.9 707.13,139.8 707.20,139.5 707.27,137.1 707.34,135.5 707.41,134.1 707.49,133.1 707.56,134.4 707.63,135.9 707.70,136.1 707.77,135.8 707.84,136.0 707.91,136.3 707.99,136.0 708.06,136.2 708.13,136.7 708.20,135.4 708.27,132.2 708.34,132.2 708.41,134.4 708.49,135.3 708.56,136.3 708.63,138.1 708.70,137.9 708.77,136.6 708.84,135.8 708.91,135.8 708.99,135.9 709.06,135.5 709.13,134.1 709.20,133.9 709.27,135.0 709.34,135.5 709.41,135.4 709.49,135.7 709.56,136.7 709.63,137.0 709.70,136.6 709.77,137.1 709.84,137.6 709.91,136.4 709.99,135.2 710.06,134.3 710.13,134.5 710.20,134.7 710.27,135.6 710.34,136.9 710.41,137.3 710.49,136.6 710.56,137.0 710.63,138.1 710.70,136.9 710.77,134.9 710.84,133.2 710.91,134.1 710.99,136.0 711.06,136.3 711.13,133.8 711.20,131.1 711.27,133.1 711.34,135.4 711.41,135.9 711.49,136.2 711.56,136.7 711.63,136.3 711.70,135.9 711.77,136.4 711.84,136.6 711.91,135.7 711.99,134.4 712.06,133.6 712.13,132.8 712.20,132.5 712.27,133.9 712.34,135.5 712.41,137.0 712.49,140.5 712.56,144.5 712.63,142.0 712.70,136.0 712.77,134.0 712.84,134.4 712.91,135.1 712.99,134.9 713.06,135.0 713.13,135.8 713.20,136.8 713.27,136.6 713.34,135.8 713.41,135.2 713.49,134.9 713.56,135.4 713.63,135.5 713.70,134.2 713.77,133.8 713.84,135.7 713.91,137.3 713.99,136.6 714.06,135.6 714.13,135.6 714.20,135.7 714.27,135.5 714.34,135.1 714.41,135.3 714.49,135.1 714.56,135.2 714.63,136.0 714.70,137.6 714.77,138.4 714.84,138.2 714.91,137.3 714.99,136.1 715.06,135.1 715.13,133.1 715.20,132.5 715.27,134.7 715.34,136.0 715.41,135.8 715.49,134.1 715.56,132.9 715.63,135.1 715.70,137.4 715.77,138.5 715.84,137.0 715.91,135.8 715.99,135.6 716.06,135.6 716.13,134.7 716.20,133.3 716.27,134.7 716.34,136.7 716.41,137.9 716.49,137.0 716.56,135.7 716.63,135.0 716.70,135.7 716.77,136.9 716.84,137.4 716.91,136.3 716.99,135.7 717.06,136.0 717.13,136.0 717.20,135.1 717.27,134.4 717.34,134.2 717.41,134.1 717.49,135.5 717.56,137.9 717.63,139.9 717.70,138.3 717.77,135.9 717.84,133.9 717.91,132.5 717.99,133.7 718.06,135.3 718.13,135.4 718.20,134.4 718.27,134.5 718.34,135.7 718.41,136.5 718.49,136.7 718.56,136.3 718.63,135.7 718.70,135.3 718.77,134.6 718.84,134.2 718.91,135.0 718.99,135.7 719.06,137.4 719.13,140.3 719.20,138.9 719.27,135.6 719.34,133.4 719.41,133.3 719.49,134.6 719.56,135.9 719.63,138.1 719.70,139.2 719.77,137.5 719.84,135.6 719.91,134.0 719.99,133.3 720.06,134.7 720.13,135.9 720.20,136.0 720.27,135.7 720.34,136.1 720.41,137.0 720.49,136.5 720.56,135.6 720.63,135.1 720.70,135.5 720.77,135.4 720.84,134.0 720.91,133.4 720.99,135.3 721.06,137.0 721.13,137.8 721.20,136.4 721.27,135.7 721.34,135.8 721.41,136.1 721.49,136.4 721.56,136.5 721.63,135.6 721.70,133.5 721.77,132.7 721.84,134.4 721.91,135.9 721.99,136.8 722.06,136.1 722.13,135.1 722.20,134.3 722.27,134.5 722.34,135.4 722.41,136.6 722.49,138.5 722.56,139.4 722.63,138.7 722.70,136.4 722.77,135.4 722.84,135.1 722.91,134.7 722.99,134.8 723.06,135.5 723.13,134.8 723.20,132.5 723.27,132.4 723.34,134.3 723.41,135.5 723.49,136.2 723.56,136.5 723.63,135.9 723.70,135.7 723.77,135.7 723.84,136.6 723.91,137.2 723.99,136.2 724.06,136.0 724.13,137.0 724.20,137.5 724.27,137.0 724.34,136.5 724.41,136.0 724.49,135.6 724.56,135.4 724.63,135.3 724.70,134.6 724.77,133.4 724.84,133.6 724.91,135.4 724.99,135.8 725.06,135.7 725.13,135.6 725.20,135.7 725.27,135.8 725.34,136.5 725.41,138.1 725.49,138.4 725.56,136.6 725.63,135.2 725.70,133.9 725.77,133.5 725.84,133.5 725.91,134.3 725.99,136.1 726.06,138.3 726.13,138.1 726.20,136.4 726.27,135.3 726.34,134.7 726.41,135.2 726.49,135.0 726.56,135.0 726.63,135.5 726.70,135.6 726.77,135.6 726.84,135.9 726.91,136.7 726.99,138.0 727.06,138.8 727.13,137.6 727.20,135.7 727.27,134.0 727.34,132.4 727.41,132.0 727.49,133.1 727.56,134.8 727.63,136.0 727.70,137.7 727.77,138.8 727.84,138.1 727.91,136.5 727.99,135.2 728.06,133.3 728.13,132.9 728.20,134.0 728.27,135.4 728.34,136.2 728.41,136.2 728.49,135.5 728.56,134.5 728.63,134.7 728.70,135.9 728.77,139.4 728.84,141.2 728.91,138.4 728.99,135.9 729.06,135.4 729.13,134.8 729.20,134.4 729.27,134.7 729.34,134.7 729.41,134.9 729.49,135.9 729.56,137.8 729.63,138.2 729.70,136.2 729.77,134.3 729.84,133.7 729.91,134.4 729.99,134.5 730.06,134.6 730.13,135.7 730.20,138.1 730.27,139.4 730.34,137.7 730.41,135.9 730.49,135.5 730.56,135.0 730.63,134.2 730.70,133.8 730.77,133.2 730.84,132.6 730.91,133.2 730.99,135.2 731.06,137.2 731.13,140.0 731.20,141.5 731.27,139.7 731.34,135.9 731.41,134.9 731.49,135.7 731.56,136.0 731.63,135.4 731.70,135.0 731.77,134.8 731.84,134.7 731.91,134.7 731.99,135.3 732.06,136.9 732.13,139.5 732.20,137.7 732.27,134.7 732.34,133.3 732.41,135.3 732.49,135.7 732.56,135.2 732.63,135.5 732.70,136.1 732.77,135.9 732.84,135.2 732.91,135.3 732.99,135.5 733.06,135.6 733.13,135.9 733.20,135.8 733.27,135.3 733.34,135.3 733.41,135.7 733.49,135.9 733.56,135.8 733.63,135.3 733.70,134.3 733.77,135.4 733.84,137.0 733.91,137.7 733.99,136.4 734.06,135.5 734.13,135.0 734.20,135.5 734.27,136.4 734.34,136.7 734.41,135.7 734.49,134.5 734.56,133.2 734.63,134.9 734.70,137.5 734.77,138.3 734.84,136.0 734.91,134.6 734.99,134.1 735.06,134.9 735.13,135.8 735.20,137.0 735.27,137.5 735.34,136.2 735.41,134.7 735.49,132.6 735.56,133.8 735.63,136.0 735.70,136.6 735.77,135.6 735.84,135.3 735.91,136.0 735.99,136.8 736.06,136.1 736.13,135.7 736.20,136.2 736.27,138.5 736.34,139.4 736.41,136.3 736.49,133.9 736.56,134.1 736.63,135.9 736.70,136.7 736.77,135.5 736.84,132.8 736.91,131.4 736.99,134.0 737.06,136.0 737.13,135.9 737.20,135.1 737.27,135.2 737.34,135.7 737.41,136.9 737.49,140.1 737.56,141.1 737.63,136.4 737.70,132.5 737.77,132.2 737.84,135.4 737.91,136.8 737.99,137.0 738.06,137.0 738.13,136.4 738.20,135.5 738.27,134.4 738.34,132.7 738.41,130.5 738.49,132.2 738.56,136.1 738.63,139.6 738.70,139.2 738.77,137.0 738.84,136.4 738.91,136.6 738.99,136.5 739.06,135.4 739.13,132.8 739.20,132.8 739.27,135.5 739.34,136.5 739.41,136.1 739.49,135.9 739.56,136.3 739.63,136.0 739.70,135.7 739.77,135.4 739.84,134.9 739.91,134.3 739.99,135.1 740.06,136.2 740.13,137.4 740.20,136.6 740.27,135.5 740.34,134.8 740.41,135.5 740.49,136.4 740.56,136.6 740.63,135.8 740.70,135.6 740.77,135.7 740.84,135.3 740.91,135.0 740.99,135.8 741.06,136.7 741.13,136.2 741.20,135.4 741.27,135.4 741.34,136.0 741.41,136.3 741.49,135.7 741.56,134.8 741.63,134.3 741.70,135.3 741.77,135.9 741.84,136.0 741.91,135.7 741.99,135.0 742.06,134.7 742.13,135.4 742.20,135.7 742.27,135.8 742.34,135.8 742.41,135.6 742.49,135.5 742.56,136.1 742.63,137.3 742.70,138.0 742.77,137.7 742.84,135.6 742.91,133.0 742.99,133.6 743.06,135.7 743.13,137.5 743.20,138.2 743.27,136.3 743.34,135.2 743.41,135.5 743.49,136.4 743.56,136.3 743.63,135.5 743.70,133.2 743.77,130.8 743.84,132.5 743.91,135.5 743.99,136.1 744.06,135.4 744.13,134.0 744.20,135.3 744.27,137.5 744.34,138.8 744.41,138.5 744.49,138.9 744.56,138.7 744.63,136.6 744.70,135.1 744.77,133.5 744.84,133.0 744.91,133.7 744.99,135.1 745.06,136.2 745.13,137.2 745.20,137.1 745.27,136.6 745.34,135.8 745.41,135.4 745.49,134.8 745.56,134.2 745.63,134.0 745.70,134.0 745.77,134.9 745.84,135.7 745.91,136.2 745.99,136.4 746.06,136.6 746.13,137.3 746.20,138.5 746.27,139.5 746.34,139.4 746.41,137.7 746.49,135.7 746.56,134.1 746.63,133.3 746.70,133.5 746.77,133.8 746.84,132.9 746.91,131.7 746.99,133.4 747.06,135.8 747.13,136.5 747.20,135.7 747.27,135.1 747.34,135.4 747.41,135.7 747.49,135.9 747.56,135.9 747.63,135.7 747.70,135.3 747.77,135.7 747.84,137.8 747.91,140.3 747.99,139.5 748.06,136.4 748.13,135.5 748.20,134.6 748.27,133.0 748.34,133.9 748.41,135.7 748.49,136.3 748.56,136.2 748.63,136.2 748.70,136.2 748.77,136.0 748.84,135.7 748.91,135.8 748.99,136.4 749.06,136.2 749.13,134.7 749.20,131.7 749.27,131.5 749.34,133.9 749.41,136.0 749.49,138.4 749.56,139.3 749.63,138.7 749.70,137.5 749.77,136.2 749.84,135.6 749.91,135.7 749.99,136.2 750.06,137.2 750.13,136.3 750.20,133.0 750.27,128.6 750.34,129.1 750.41,132.5 750.49,134.8 750.56,135.5 750.63,136.4 750.70,138.3 750.77,139.6 750.84,139.1 750.91,137.8 750.99,136.7 751.06,135.7 751.13,134.3 751.20,132.4 751.27,131.8 751.34,133.5 751.41,136.1 751.49,139.1 751.56,139.1 751.63,136.8 751.70,135.3 751.77,133.9 751.84,134.5 751.91,135.5 751.99,135.7 752.06,135.9 752.13,135.6 752.20,134.1 752.27,134.4 752.34,135.9 752.41,137.7 752.49,138.8 752.56,138.8 752.63,137.0 752.70,135.3 752.77,133.9 752.84,134.9 752.91,136.3 752.99,136.9 753.06,135.7 753.13,134.4 753.20,133.3 753.27,132.7 753.34,133.9 753.41,135.5 753.49,135.9 753.56,135.6 753.63,135.3 753.70,136.1 753.77,137.9 753.84,139.7 753.91,140.2 753.99,138.3 754.06,136.7 754.13,135.8 754.20,134.7 754.27,133.6 754.34,133.7 754.41,134.5 754.49,135.5 754.56,136.0 754.63,136.0 754.70,135.7 754.77,135.8 754.84,136.1 754.91,135.2 754.99,132.9 755.06,131.9 755.13,133.8 755.20,135.8 755.27,137.4 755.34,137.6 755.41,137.2 755.49,138.3 755.56,138.9 755.63,136.6 755.70,135.0 755.77,134.4 755.84,134.4 755.91,134.2 755.99,134.8 756.06,135.4 756.13,135.8 756.20,136.8 756.27,138.2 756.34,139.3 756.41,138.0 756.49,135.5 756.56,132.1 756.63,129.5 756.70,130.6 756.77,134.5 756.84,136.3 756.91,136.6 756.99,136.4 757.06,136.1 757.13,135.7 757.20,136.0 757.27,136.5 757.34,136.3 757.41,136.0 757.49,136.1 757.56,136.2 757.63,136.0 757.70,136.3 757.77,136.8 757.84,136.2 757.91,135.4 757.99,134.9 758.06,134.5 758.13,133.6 758.20,133.0 758.27,133.3 758.34,134.7 758.41,136.2 758.49,138.6 758.56,139.8 758.63,138.3 758.70,135.7 758.77,133.4 758.84,131.5 758.91,131.9 758.99,134.6 759.06,137.1 759.13,140.3 759.20,139.5 759.27,136.3 759.34,134.3 759.41,133.4 759.49,135.5 759.56,137.2 759.63,136.9 759.70,135.7 759.77,135.5 759.84,135.3 759.91,134.4 759.99,134.3 760.06,135.7 760.13,136.7 760.20,136.8 760.27,138.3 760.34,141.4 760.41,141.8 760.49,136.4 760.56,131.1 760.63,130.0 760.70,133.0 760.77,134.3 760.84,135.1 760.91,136.0 760.99,135.7 761.06,134.1 761.13,134.5 761.20,135.6 761.27,136.0 761.34,137.1 761.41,138.1 761.49,136.6 761.56,135.4 761.63,135.2 761.70,135.7 761.77,135.7 761.84,136.9 761.91,140.9 761.99,141.0 762.06,136.1 762.13,132.3 762.20,131.2 762.27,133.8 762.34,134.8 762.41,133.9 762.49,133.5 762.56,134.6 762.63,135.5 762.70,135.4 762.77,135.7 762.84,137.2 762.91,137.5 762.99,135.8 763.06,133.2 763.13,131.1 763.20,133.1 763.27,137.0 763.34,144.7 763.41,150.2 763.49,146.8 763.56,137.7 763.63,132.3 763.70,128.3 763.77,127.8 763.84,130.2 763.91,134.6 763.99,138.1 764.06,139.9 764.13,137.0 764.20,134.7 764.27,132.9 764.34,135.0 764.41,138.0 764.49,139.9 764.56,137.4 764.63,134.8 764.70,132.3 764.77,130.0 764.84,128.5 764.91,130.3 764.99,134.6 765.06,139.9 765.13,148.1 765.20,147.8 765.27,139.4 765.34,134.5 765.41,132.5 765.49,134.2 765.56,135.6 765.63,136.0 765.70,136.0 765.77,135.3 765.84,132.3 765.91,129.3 765.99,130.8 766.06,135.2 766.13,137.5 766.20,137.6 766.27,136.4 766.34,137.1 766.41,138.8 766.49,138.2 766.56,135.9 766.63,134.3 766.70,135.4 766.77,138.1 766.84,139.3 766.91,137.3 766.99,135.3 767.06,131.1 767.13,128.5 767.20,131.4 767.27,134.7 767.34,135.7 767.41,135.9 767.49,136.4 767.56,138.4 767.63,140.3 767.70,140.9 767.77,139.3 767.84,135.9 767.91,134.1 767.99,133.9 768.06,134.0 768.13,134.7 768.20,135.7 768.27,136.0 768.34,135.8 768.41,134.8 768.49,132.9 768.56,133.5 768.63,135.7 768.70,137.5 768.77,138.2 768.84,138.8 768.91,137.8 768.99,135.6 769.06,133.5 769.13,132.4 769.20,133.5 769.27,135.7 769.34,137.9 769.41,138.5 769.49,137.6 769.56,137.1 769.63,136.3 769.70,135.4 769.77,134.3 769.84,133.0 769.91,131.9 769.99,131.6 770.06,132.6 770.13,134.7 770.20,136.2 770.27,138.0 770.34,139.0 770.41,139.5 770.49,138.2 770.56,136.2 770.63,135.6 770.70,135.0 770.77,133.8 770.84,131.9 770.91,132.0 770.99,135.4 771.06,137.7 771.13,137.0 771.20,135.1 771.27,134.2 771.34,135.9 771.41,138.9 771.49,140.7 771.56,138.9 771.63,136.2 771.70,135.7 771.77,135.4 771.84,133.6 771.91,132.0 771.99,131.6 772.06,133.1 772.13,135.1 772.20,135.9 772.27,137.2 772.34,139.3 772.41,139.9 772.49,138.7 772.56,137.1 772.63,135.3 772.70,131.3 772.77,129.7 772.84,133.5 772.91,136.6 772.99,138.7 773.06,138.6 773.13,137.4 773.20,135.7 773.27,134.5 773.34,135.5 773.41,136.3 773.49,135.9 773.56,135.3 773.63,134.7 773.70,134.2 773.77,133.9 773.84,133.6 773.91,134.7 773.99,136.8 774.06,139.0 774.13,137.7 774.20,136.2 774.27,136.8 774.34,137.7 774.41,136.3 774.49,135.4 774.56,135.9 774.63,137.6 774.70,136.8 774.77,135.4 774.84,134.9 774.91,135.5 774.99,135.2 775.06,132.4 775.13,130.9 775.20,133.3 775.27,135.1 775.34,134.0 775.41,132.8 775.49,134.5 775.56,135.6 775.63,135.6 775.70,136.5 775.77,139.8 775.84,140.9 775.91,137.9 775.99,135.8 776.06,135.7 776.13,135.7 776.20,135.6 776.27,134.7 776.34,133.1 776.41,134.3 776.49,136.8 776.56,138.9 776.63,137.5 776.70,136.0 776.77,135.6 776.84,135.7 776.91,136.9 776.99,137.9 777.06,135.8 777.13,133.5 777.20,134.4 777.27,136.5 777.34,137.6 777.41,136.3 777.49,134.6 777.56,132.9 777.63,133.8 777.70,135.4 777.77,135.7 777.84,135.6 777.91,135.7 777.99,135.8 778.06,135.8 778.13,135.3 778.20,135.0 778.27,136.0 778.34,137.9 778.41,136.5 778.49,133.5 778.56,131.9 778.63,133.9 778.70,135.7 778.77,136.8 778.84,137.3 778.91,136.4 778.99,135.6 779.06,135.8 779.13,137.0 779.20,137.8 779.27,138.5 779.34,137.1 779.41,135.1 779.49,134.6 779.56,135.8 779.63,137.6 779.70,138.5 779.77,137.0 779.84,135.7 779.91,134.2 779.99,130.4 780.06,129.0 780.13,133.0 780.20,135.9 780.27,136.9 780.34,135.8 780.41,134.4 780.49,134.6 780.56,135.9 780.63,136.1 780.70,135.0 780.77,134.8 780.84,135.9 780.91,136.5 780.99,136.5 781.06,137.5 781.13,137.6 781.20,136.4 781.27,135.8 781.34,136.4 781.41,139.0 781.49,138.4 781.56,134.5 781.63,130.2 781.70,128.5 781.77,127.7 781.84,130.2 781.91,135.5 781.99,142.8 782.06,150.2 782.13,145.6 782.20,136.5 782.27,134.6 782.34,135.7 782.41,134.8 782.49,129.9 782.56,126.3 782.63,128.8 782.70,134.1 782.77,136.8 782.84,139.5 782.91,141.5 782.99,141.4 783.06,138.3 783.13,136.1 783.20,136.0 783.27,135.4 783.34,133.8 783.41,134.7 783.49,135.0 783.56,133.4 783.63,133.0 783.70,134.9 783.77,136.1 783.84,136.4 783.91,136.7 783.99,138.3 784.06,138.2 784.13,135.8 784.20,133.9 784.27,134.5 784.34,137.0 784.41,138.2 784.49,137.0 784.56,138.1 784.63,137.9 784.70,135.5 784.77,135.5 784.84,137.5 784.91,136.1 784.99,132.3 785.06,131.1 785.13,133.3 785.20,135.2 785.27,135.7 785.34,132.7 785.41,129.8 785.49,135.5 785.56,140.1 785.63,138.3 785.70,135.6 785.77,135.0 785.84,135.7 785.91,137.2 785.99,140.0 786.06,139.0 786.13,135.3 786.20,129.0 786.27,121.6 786.34,122.2 786.41,132.9 786.49,139.2 786.56,144.5 786.63,147.7 786.70,143.4 786.77,135.8 786.84,130.0 786.91,129.9 786.99,135.7 787.06,139.7 787.13,137.3 787.20,135.7 787.27,137.0 787.34,138.3 787.41,135.6 787.49,131.7 787.56,130.4 787.63,131.9 787.70,134.8 787.77,136.7 787.84,138.8 787.91,139.4 787.99,137.1 788.06,135.3 788.13,136.3 788.20,142.4 788.27,142.3 788.34,135.7 788.41,130.2 788.49,124.0 788.56,120.4 788.63,127.2 788.70,136.0 788.77,144.7 788.84,151.0 788.91,151.4 788.99,146.9" fill="none" stroke="#006400" stroke-width="0.6"/>
<polyline points="661.0,135.7 661.35,110.9 661.70,152.6 662.05,125.8 662.4,135.7" fill="none" stroke="#006400" stroke-width="0.6"/>
<polyline points="662.5,135.7 662.85,116 663.20,150 663.55,127.8 663.9,135.7" fill="none" stroke="#006400" stroke-width="0.6"/>
<polyline points="659.5,135.7 659.85,122 660.20,147 660.55,130.2 660.9,135.7" fill="none" stroke="#006400" stroke-width="0.6"/>
<polyline points="674.2,135.7 674.55,125 674.90,148 675.25,131.4 675.6,135.7" fill="none" stroke="#006400" stroke-width="0.6"/>
<polyline points="786.5,135.7 786.85,103.3 787.20,151.7 787.55,122.7 787.9,135.7" fill="none" stroke="#006400" stroke-width="0.6"/>
<polyline points="784.5,135.7 784.85,118 785.20,148 785.55,128.6 785.9,135.7" fill="none" stroke="#006400" stroke-width="0.6"/>
<rect x="506.7" y="100.4" width="283.3" height="53.599999999999994" fill="none" stroke="#000" stroke-width="1.9"/>
<polyline points="507.70,207.7 507.77,207.6 507.84,207.4 507.91,207.4 507.99,207.4 508.06,207.2 508.13,207.1 508.20,207.2 508.27,207.4 508.34,207.4 508.41,207.4 508.49,207.5 508.56,207.9 508.63,208.0 508.70,207.5 508.77,207.2 508.84,207.1 508.91,207.3 508.99,207.4 509.06,207.4 509.13,207.3 509.20,207.2 509.27,207.3 509.34,207.4 509.41,207.6 509.49,207.7 509.56,207.5 509.63,207.4 509.70,207.4 509.77,207.5 509.84,207.5 509.91,207.3 509.99,207.2 510.06,207.3 510.13,207.4 510.20,207.4 510.27,207.4 510.34,207.4 510.41,207.5 510.49,207.6 510.56,207.6 510.63,207.5 510.70,207.3 510.77,206.9 510.84,206.8 510.91,207.0 510.99,207.3 511.06,207.4 511.13,207.4 511.20,207.5 511.27,207.7 511.34,207.8 511.41,207.5 511.49,207.4 511.56,207.4 511.63,207.3 511.70,207.2 511.77,207.2 511.84,207.4 511.91,207.4 511.99,207.4 512.06,207.4 512.13,207.4 512.20,207.3 512.27,207.4 512.34,207.6 512.41,207.7 512.49,207.5 512.56,207.3 512.63,207.3 512.70,207.3 512.77,207.4 512.84,207.6 512.91,207.6 512.99,207.4 513.06,207.3 513.13,207.3 513.20,207.3 513.27,207.3 513.34,207.3 513.41,207.4 513.49,207.5 513.56,207.7 513.63,207.7 513.70,207.5 513.77,207.5 513.84,207.6 513.91,207.4 513.99,207.1 514.06,207.1 514.13,207.3 514.20,207.4 514.27,207.3 514.34,207.1 514.41,207.2 514.49,207.4 514.56,207.6 514.63,207.5 514.70,207.4 514.77,207.3 514.84,207.3 514.91,207.4 514.99,207.4 515.06,207.4 515.13,207.5 515.20,207.6 515.27,207.5 515.34,207.5 515.41,207.4 515.49,207.4 515.56,207.5 515.63,207.7 515.70,207.7 515.77,207.4 515.84,207.2 515.91,207.1 515.99,207.3 516.06,207.4 516.13,207.5 516.20,207.5 516.27,207.2 516.34,206.9 516.41,206.9 516.49,207.1 516.56,207.1 516.63,207.4 516.70,207.6 516.77,207.9 516.84,208.1 516.91,208.0 516.99,207.6 517.06,207.4 517.13,207.4 517.20,207.3 517.27,207.1 517.34,207.2 517.41,207.3 517.49,207.5 517.56,207.6 517.63,207.5 517.70,207.4 517.77,207.1 517.84,207.2 517.91,207.4 517.99,207.5 518.06,207.5 518.13,207.4 518.20,207.4 518.27,207.5 518.34,207.4 518.41,207.4 518.49,207.3 518.56,207.2 518.63,206.9 518.70,206.9 518.77,207.2 518.84,207.4 518.91,207.5 518.99,207.6 519.06,207.6 519.13,207.7 519.20,207.7 519.27,207.4 519.34,207.2 519.41,207.3 519.49,207.5 519.56,207.6 519.63,207.6 519.70,207.7 519.77,207.6 519.84,207.5 519.91,207.5 519.99,207.4 520.06,207.4 520.13,207.1 520.20,206.8 520.27,206.8 520.34,207.2 520.41,207.4 520.49,207.5 520.56,207.5 520.63,207.4 520.70,207.4 520.77,207.4 520.84,207.4 520.91,207.4 520.99,207.4 521.06,207.3 521.13,207.3 521.20,207.2 521.27,207.3 521.34,207.6 521.41,207.8 521.49,207.5 521.56,207.4 521.63,207.4 521.70,207.4 521.77,207.4 521.84,207.3 521.91,207.3 521.99,207.5 522.06,207.5 522.13,207.4 522.20,207.4 522.27,207.3 522.34,207.3 522.41,207.4 522.49,207.6 522.56,207.5 522.63,207.3 522.70,207.1 522.77,207.3 522.84,207.4 522.91,207.5 522.99,207.4 523.06,207.3 523.13,207.3 523.20,207.4 523.27,207.4 523.34,207.5 523.41,207.6 523.49,207.4 523.56,207.3 523.63,207.2 523.70,207.3 523.77,207.5 523.84,207.6 523.91,207.5 523.99,207.5 524.06,207.5 524.13,207.4 524.20,207.4 524.27,207.4 524.34,207.3 524.41,207.2 524.49,207.1 524.56,207.1 524.63,207.2 524.70,207.3 524.77,207.4 524.84,207.5 524.91,207.6 524.99,207.7 525.06,207.7 525.13,207.6 525.20,207.4 525.27,207.2 525.34,207.1 525.41,207.3 525.49,207.4 525.56,207.4 525.63,207.5 525.70,207.5 525.77,207.5 525.84,207.4 525.91,207.1 525.99,207.1 526.06,207.1 526.13,207.3 526.20,207.4 526.27,207.6 526.34,207.8 526.41,207.7 526.49,207.4 526.56,207.3 526.63,207.3 526.70,207.3 526.77,207.2 526.84,207.1 526.91,207.4 526.99,207.5 527.06,207.4 527.13,207.3 527.20,207.4 527.27,207.6 527.34,207.8 527.41,207.8 527.49,207.6 527.56,207.4 527.63,207.2 527.70,207.2 527.77,207.4 527.84,207.4 527.91,207.4 527.99,207.5 528.06,207.4 528.13,207.4 528.20,207.4 528.27,207.3 528.34,207.4 528.41,207.4 528.49,207.3 528.56,207.3 528.63,207.4 528.70,207.4 528.77,207.5 528.84,207.4 528.91,207.4 528.99,207.3 529.06,207.2 529.13,207.3 529.20,207.5 529.27,207.9 529.34,207.9 529.41,207.7 529.49,207.5 529.56,207.4 529.63,207.2 529.70,207.1 529.77,207.2 529.84,207.4 529.91,207.5 529.99,207.5 530.06,207.4 530.13,207.3 530.20,207.3 530.27,207.4 530.34,207.5 530.41,207.6 530.49,207.5 530.56,207.3 530.63,207.2 530.70,207.2 530.77,207.3 530.84,207.3 530.91,207.4 530.99,207.3 531.06,207.3 531.13,207.4 531.20,207.5 531.27,207.6 531.34,207.7 531.41,207.7 531.49,207.5 531.56,207.4 531.63,207.4 531.70,207.4 531.77,207.4 531.84,207.4 531.91,207.3 531.99,207.3 532.06,207.2 532.13,207.4 532.20,207.5 532.27,207.6 532.34,207.5 532.41,207.5 532.49,207.5 532.56,207.6 532.63,207.4 532.70,207.2 532.77,207.1 532.84,207.3 532.91,207.4 532.99,207.5 533.06,207.4 533.13,207.3 533.20,207.4 533.27,207.4 533.34,207.4 533.41,207.5 533.49,207.6 533.56,207.6 533.63,207.4 533.70,207.4 533.77,207.4 533.84,207.6 533.91,207.5 533.99,207.3 534.06,207.0 534.13,206.9 534.20,207.1 534.27,207.3 534.34,207.5 534.41,207.9 534.49,208.0 534.56,207.5 534.63,207.2 534.70,207.0 534.77,207.0 534.84,207.1 534.91,207.4 534.99,207.5 535.06,207.7 535.13,207.7 535.20,207.5 535.27,207.4 535.34,207.4 535.41,207.4 535.49,207.4 535.56,207.5 535.63,207.4 535.70,207.3 535.77,207.3 535.84,207.3 535.91,207.3 535.99,207.3 536.06,207.4 536.13,207.4 536.20,207.4 536.27,207.5 536.34,207.5 536.41,207.4 536.49,207.4 536.56,207.4 536.63,207.6 536.70,207.5 536.77,207.3 536.84,207.2 536.91,207.2 536.99,207.3 537.06,207.3 537.13,207.4 537.20,207.4 537.27,207.5 537.34,207.7 537.41,207.6 537.49,207.3 537.56,207.1 537.63,207.3 537.70,207.5 537.77,207.5 537.84,207.4 537.91,207.4 537.99,207.4 538.06,207.4 538.13,207.3 538.20,207.4 538.27,207.5 538.34,207.5 538.41,207.5 538.49,207.4 538.56,207.4 538.63,207.3 538.70,207.2 538.77,207.2 538.84,207.3 538.91,207.5 538.99,207.6 539.06,207.5 539.13,207.4 539.20,207.4 539.27,207.5 539.34,207.8 539.41,207.8 539.49,207.5 539.56,207.3 539.63,207.1 539.70,207.2 539.77,207.4 539.84,207.4 539.91,207.3 539.99,207.3 540.06,207.4 540.13,207.5 540.20,207.5 540.27,207.4 540.34,207.3 540.41,207.4 540.49,207.5 540.56,207.5 540.63,207.4 540.70,207.3 540.77,207.3 540.84,207.4 540.91,207.4 540.99,207.3 541.06,207.4 541.13,207.4 541.20,207.4 541.27,207.4 541.34,207.4 541.41,207.5 541.49,207.8 541.56,207.8 541.63,207.5 541.70,207.3 541.77,207.2 541.84,207.4 541.91,207.4 541.99,207.4 542.06,207.4 542.13,207.3 542.20,207.3 542.27,207.3 542.34,207.2 542.41,207.2 542.49,207.3 542.56,207.4 542.63,207.6 542.70,207.7 542.77,207.8 542.84,207.6 542.91,207.5 542.99,207.4 543.06,207.3 543.13,207.2 543.20,207.3 543.27,207.5 543.34,207.7 543.41,207.8 543.49,207.7 543.56,207.5 543.63,207.3 543.70,207.2 543.77,207.2 543.84,207.1 543.91,207.0 543.99,207.0 544.06,207.0 544.13,206.9 544.20,207.0 544.27,207.3 544.34,207.5 544.41,207.7 544.49,208.0 544.56,208.3 544.63,208.1 544.70,207.9 544.77,207.7 544.84,207.5 544.91,207.4 544.99,207.4 545.06,207.2 545.13,207.1 545.20,207.2 545.27,207.2 545.34,207.2 545.41,207.4 545.49,207.5 545.56,207.4 545.63,207.3 545.70,207.4 545.77,207.3 545.84,207.1 545.91,207.1 545.99,207.4 546.06,207.6 546.13,207.6 546.20,207.5 546.27,207.4 546.34,207.4 546.41,207.5 546.49,207.5 546.56,207.4 546.63,207.3 546.70,207.2 546.77,207.2 546.84,207.3 546.91,207.3 546.99,207.4 547.06,207.6 547.13,207.6 547.20,207.4 547.27,207.5 547.34,207.6 547.41,207.5 547.49,207.5 547.56,207.5 547.63,207.5 547.70,207.4 547.77,207.4 547.84,207.3 547.91,207.3 547.99,207.3 548.06,207.4 548.13,207.3 548.20,207.3 548.27,207.2 548.34,207.2 548.41,207.3 548.49,207.5 548.56,207.6 548.63,207.6 548.70,207.4 548.77,207.3 548.84,207.3 548.91,207.4 548.99,207.5 549.06,207.5 549.13,207.5 549.20,207.5 549.27,207.4 549.34,207.3 549.41,207.1 549.49,207.1 549.56,207.3 549.63,207.3 549.70,207.3 549.77,207.3 549.84,207.4 549.91,207.6 549.99,207.7 550.06,207.6 550.13,207.5 550.20,207.5 550.27,207.5 550.34,207.4 550.41,207.3 550.49,207.1 550.56,207.3 550.63,207.4 550.70,207.4 550.77,207.4 550.84,207.3 550.91,207.4 550.99,207.5 551.06,207.5 551.13,207.3 551.20,206.9 551.27,207.1 551.34,207.4 551.41,207.8 551.49,207.9 551.56,207.5 551.63,207.2 551.70,207.0 551.77,207.2 551.84,207.3 551.91,207.4 551.99,207.6 552.06,207.7 552.13,207.6 552.20,207.5 552.27,207.5 552.34,207.6 552.41,207.5 552.49,207.4 552.56,207.3 552.63,207.2 552.70,207.3 552.77,207.3 552.84,207.2 552.91,207.3 552.99,207.4 553.06,207.7 553.13,207.7 553.20,207.5 553.27,207.3 553.34,207.4 553.41,207.5 553.49,207.4 553.56,207.4 553.63,207.3 553.70,207.3 553.77,207.4 553.84,207.3 553.91,207.1 553.99,207.2 554.06,207.4 554.13,207.8 554.20,207.7 554.27,207.4 554.34,207.3 554.41,207.3 554.49,207.4 554.56,207.4 554.63,207.5 554.70,207.5 554.77,207.3 554.84,207.3 554.91,207.4 554.99,207.5 555.06,207.4 555.13,207.3 555.20,207.3 555.27,207.3 555.34,207.4 555.41,207.4 555.49,207.2 555.56,207.2 555.63,207.4 555.70,207.5 555.77,207.6 555.84,207.7 555.91,207.5 555.99,207.4 556.06,207.3 556.13,207.2 556.20,207.3 556.27,207.4 556.34,207.4 556.41,207.4 556.49,207.4 556.56,207.4 556.63,207.4 556.70,207.4 556.77,207.4 556.84,207.4 556.91,207.6 556.99,207.6 557.06,207.4 557.13,207.3 557.20,207.3 557.27,207.3 557.34,207.2 557.41,207.2 557.49,207.3 557.56,207.4 557.63,207.6 557.70,207.7 557.77,207.6 557.84,207.5 557.91,207.4 557.99,207.4 558.06,207.4 558.13,207.3 558.20,207.3 558.27,207.3 558.34,207.4 558.41,207.4 558.49,207.4 558.56,207.3 558.63,207.3 558.70,207.4 558.77,207.5 558.84,207.5 558.91,207.4 558.99,207.4 559.06,207.5 559.13,207.5 559.20,207.4 559.27,207.4 559.34,207.4 559.41,207.4 559.49,207.4 559.56,207.4 559.63,207.4 559.70,207.2 559.77,207.3 559.84,207.5 559.91,207.7 559.99,207.6 560.06,207.4 560.13,207.2 560.20,207.1 560.27,207.2 560.34,207.4 560.41,207.7 560.49,207.7 560.56,207.4 560.63,207.4 560.70,207.3 560.77,207.3 560.84,207.4 560.91,207.7 560.99,207.9 561.06,207.7 561.13,207.5 561.20,207.4 561.27,207.4 561.34,207.2 561.41,207.2 561.49,207.4 561.56,207.4 561.63,207.4 561.70,207.3 561.77,207.1 561.84,207.1 561.91,207.2 561.99,207.4 562.06,207.4 562.13,207.4 562.20,207.3 562.27,207.3 562.34,207.5 562.41,207.7 562.49,207.7 562.56,207.6 562.63,207.5 562.70,207.5 562.77,207.5 562.84,207.5 562.91,207.5 562.99,207.5 563.06,207.4 563.13,207.2 563.20,206.9 563.27,206.8 563.34,206.9 563.41,207.1 563.49,207.3 563.56,207.5 563.63,207.6 563.70,207.7 563.77,207.8 563.84,207.7 563.91,207.4 563.99,207.4 564.06,207.3 564.13,207.3 564.20,207.4 564.27,207.3 564.34,207.4 564.41,207.4 564.49,207.4 564.56,207.3 564.63,207.3 564.70,207.4 564.77,207.4 564.84,207.3 564.91,207.3 564.99,207.4 565.06,207.4 565.13,207.4 565.20,207.5 565.27,207.6 565.34,207.5 565.41,207.4 565.49,207.4 565.56,207.4 565.63,207.5 565.70,207.5 565.77,207.5 565.84,207.5 565.91,207.4 565.99,207.4 566.06,207.4 566.13,207.3 566.20,207.2 566.27,207.3 566.34,207.4 566.41,207.3 566.49,207.2 566.56,207.2 566.63,207.3 566.70,207.4 566.77,207.4 566.84,207.4 566.91,207.4 566.99,207.4 567.06,207.5 567.13,207.6 567.20,207.6 567.27,207.6 567.34,207.6 567.41,207.4 567.49,207.3 567.56,207.3 567.63,207.3 567.70,207.2 567.77,207.3 567.84,207.4 567.91,207.4 567.99,207.5 568.06,207.5 568.13,207.4 568.20,207.3 568.27,207.3 568.34,207.4 568.41,207.4 568.49,207.4 568.56,207.4 568.63,207.5 568.70,207.6 568.77,207.6 568.84,207.5 568.91,207.4 568.99,207.3 569.06,207.3 569.13,207.2 569.20,207.0 569.27,207.1 569.34,207.3 569.41,207.5 569.49,207.6 569.56,207.6 569.63,207.7 569.70,207.6 569.77,207.5 569.84,207.4 569.91,207.4 569.99,207.4 570.06,207.3 570.13,207.2 570.20,207.0 570.27,206.9 570.34,207.0 570.41,207.2 570.49,207.4 570.56,207.7 570.63,207.9 570.70,207.7 570.77,207.5 570.84,207.4 570.91,207.4 570.99,207.5 571.06,207.6 571.13,207.6 571.20,207.6 571.27,207.4 571.34,207.3 571.41,207.1 571.49,206.9 571.56,207.0 571.63,207.4 571.70,207.6 571.77,207.6 571.84,207.5 571.91,207.4 571.99,207.4 572.06,207.3 572.13,207.3 572.20,207.4 572.27,207.6 572.34,207.7 572.41,207.7 572.49,207.7 572.56,207.4 572.63,207.2 572.70,207.0 572.77,207.1 572.84,207.4 572.91,207.5 572.99,207.4 573.06,207.4 573.13,207.4 573.20,207.4 573.27,207.4 573.34,207.4 573.41,207.3 573.49,207.1 573.56,207.0 573.63,207.3 573.70,207.6 573.77,207.6 573.84,207.5 573.91,207.5 573.99,207.5 574.06,207.5 574.13,207.4 574.20,207.4 574.27,207.4 574.34,207.4 574.41,207.4 574.49,207.4 574.56,207.4 574.63,207.4 574.70,207.4 574.77,207.4 574.84,207.3 574.91,207.3 574.99,207.4 575.06,207.4 575.13,207.4 575.20,207.4 575.27,207.4 575.34,207.4 575.41,207.3 575.49,207.1 575.56,207.2 575.63,207.4 575.70,207.8 575.77,207.9 575.84,207.7 575.91,207.5 575.99,207.4 576.06,207.4 576.13,207.4 576.20,207.3 576.27,207.2 576.34,207.2 576.41,207.3 576.49,207.4 576.56,207.5 576.63,207.5 576.70,207.4 576.77,207.3 576.84,207.2 576.91,207.2 576.99,207.2 577.06,207.4 577.13,207.5 577.20,207.5 577.27,207.4 577.34,207.3 577.41,207.3 577.49,207.4 577.56,207.4 577.63,207.6 577.70,207.7 577.77,207.6 577.84,207.6 577.91,207.5 577.99,207.4 578.06,207.2 578.13,207.0 578.20,207.1 578.27,207.3 578.34,207.5 578.41,207.6 578.49,207.5 578.56,207.4 578.63,207.3 578.70,207.2 578.77,207.1 578.84,207.4 578.91,207.6 578.99,207.7 579.06,207.4 579.13,207.3 579.20,207.1 579.27,207.2 579.34,207.3 579.41,207.4 579.49,207.6 579.56,207.8 579.63,207.7 579.70,207.5 579.77,207.5 579.84,207.5 579.91,207.4 579.99,207.2 580.06,207.2 580.13,207.3 580.20,207.3 580.27,207.4 580.34,207.3 580.41,207.3 580.49,207.3 580.56,207.4 580.63,207.5 580.70,207.5 580.77,207.4 580.84,207.3 580.91,207.3 580.99,207.5 581.06,207.7 581.13,207.7 581.20,207.6 581.27,207.5 581.34,207.4 581.41,207.4 581.49,207.4 581.56,207.4 581.63,207.2 581.70,207.2 581.77,207.2 581.84,207.3 581.91,207.5 581.99,207.6 582.06,207.5 582.13,207.4 582.20,207.4 582.27,207.4 582.34,207.4 582.41,207.3 582.49,207.2 582.56,207.2 582.63,207.4 582.70,207.5 582.77,207.5 582.84,207.5 582.91,207.5 582.99,207.5 583.06,207.5 583.13,207.5 583.20,207.5 583.27,207.4 583.34,207.4 583.41,207.4 583.49,207.4 583.56,207.2 583.63,206.9 583.70,206.9 583.77,207.2 583.84,207.5 583.91,207.7 583.99,207.6 584.06,207.5 584.13,207.4 584.20,207.4 584.27,207.4 584.34,207.4 584.41,207.4 584.49,207.5 584.56,207.6 584.63,207.4 584.70,207.2 584.77,207.1 584.84,207.3 584.91,207.5 584.99,207.6 585.06,207.5 585.13,207.5 585.20,207.5 585.27,207.4 585.34,207.3 585.41,207.4 585.49,207.4 585.56,207.3 585.63,207.1 585.70,207.3 585.77,207.5 585.84,207.5 585.91,207.4 585.99,207.3 586.06,207.4 586.13,207.4 586.20,207.4 586.27,207.5 586.34,207.8 586.41,207.7 586.49,207.5 586.56,207.4 586.63,207.4 586.70,207.3 586.77,207.2 586.84,207.1 586.91,207.1 586.99,207.3 587.06,207.4 587.13,207.4 587.20,207.4 587.27,207.4 587.34,207.4 587.41,207.4 587.49,207.4 587.56,207.4 587.63,207.4 587.70,207.5 587.77,207.5 587.84,207.4 587.91,207.5 587.99,207.5 588.06,207.4 588.13,207.4 588.20,207.4 588.27,207.5 588.34,207.5 588.41,207.4 588.49,207.3 588.56,207.3 588.63,207.4 588.70,207.4 588.77,207.5 588.84,207.4 588.91,207.5 588.99,207.5 589.06,207.4 589.13,207.4 589.20,207.4 589.27,207.2 589.34,207.2 589.41,207.3 589.49,207.4 589.56,207.3 589.63,207.3 589.70,207.3 589.77,207.3 589.84,207.2 589.91,207.3 589.99,207.4 590.06,207.6 590.13,207.7 590.20,207.7 590.27,207.6 590.34,207.4 590.41,207.2 590.49,207.1 590.56,207.3 590.63,207.5 590.70,207.7 590.77,207.7 590.84,207.6 590.91,207.6 590.99,207.4 591.06,207.1 591.13,207.0 591.20,207.3 591.27,207.7 591.34,207.9 591.41,207.6 591.49,207.4 591.56,207.3 591.63,207.4 591.70,207.4 591.77,207.1 591.84,206.9 591.91,207.1 591.99,207.4 592.06,207.5 592.13,207.5 592.20,207.4 592.27,207.4 592.34,207.3 592.41,207.4 592.49,207.4 592.56,207.6 592.63,207.7 592.70,207.7 592.77,207.6 592.84,207.4 592.91,207.5 592.99,207.4 593.06,207.3 593.13,207.1 593.20,206.9 593.27,207.1 593.34,207.4 593.41,207.8 593.49,207.9 593.56,207.6 593.63,207.4 593.70,207.2 593.77,207.0 593.84,207.1 593.91,207.3 593.99,207.4 594.06,207.4 594.13,207.5 594.20,207.5 594.27,207.4 594.34,207.4 594.41,207.5 594.49,207.7 594.56,207.6 594.63,207.4 594.70,207.2 594.77,207.0 594.84,207.1 594.91,207.4 594.99,207.5 595.06,207.5 595.13,207.7 595.20,207.7 595.27,207.5 595.34,207.3 595.41,207.2 595.49,207.2 595.56,207.2 595.63,207.4 595.70,207.5 595.77,207.6 595.84,207.5 595.91,207.3 595.99,207.1 596.06,207.2 596.13,207.4 596.20,207.6 596.27,207.5 596.34,207.5 596.41,207.5 596.49,207.4 596.56,207.1 596.63,207.1 596.70,207.3 596.77,207.4 596.84,207.6 596.91,207.6 596.99,207.4 597.06,207.3 597.13,207.1 597.20,207.4 597.27,207.6 597.34,207.6 597.41,207.5 597.49,207.5 597.56,207.5 597.63,207.3 597.70,207.2 597.77,207.2 597.84,207.3 597.91,207.4 597.99,207.5 598.06,207.5 598.13,207.5 598.20,207.5 598.27,207.4 598.34,207.4 598.41,207.4 598.49,207.4 598.56,207.4 598.63,207.4 598.70,207.5 598.77,207.6 598.84,207.4 598.91,207.3 598.99,207.3 599.06,207.3 599.13,207.1 599.20,207.1 599.27,207.4 599.34,207.5 599.41,207.5 599.49,207.5 599.56,207.5 599.63,207.4 599.70,207.2 599.77,207.0 599.84,207.1 599.91,207.4 599.99,207.6 600.06,207.6 600.13,207.5 600.20,207.5 600.27,207.5 600.34,207.4 600.41,207.4 600.49,207.4 600.56,207.4 600.63,207.4 600.70,207.4 600.77,207.4 600.84,207.4 600.91,207.5 600.99,207.4 601.06,207.3 601.13,207.4 601.20,207.6 601.27,207.4 601.34,207.1 601.41,207.1 601.49,207.3 601.56,207.4 601.63,207.4 601.70,207.4 601.77,207.6 601.84,207.7 601.91,207.6 601.99,207.5 602.06,207.4 602.13,207.4 602.20,207.4 602.27,207.2 602.34,207.2 602.41,207.4 602.49,207.4 602.56,207.4 602.63,207.4 602.70,207.3 602.77,207.2 602.84,207.3 602.91,207.4 602.99,207.5 603.06,207.5 603.13,207.4 603.20,207.3 603.27,207.4 603.34,207.8 603.41,207.9 603.49,207.5 603.56,207.1 603.63,206.9 603.70,207.0 603.77,207.2 603.84,207.4 603.91,207.6 603.99,207.7 604.06,207.6 604.13,207.5 604.20,207.4 604.27,207.4 604.34,207.3 604.41,207.4 604.49,207.4 604.56,207.3 604.63,207.3 604.70,207.3 604.77,207.4 604.84,207.5 604.91,207.5 604.99,207.5 605.06,207.4 605.13,207.4 605.20,207.3 605.27,207.4 605.34,207.4 605.41,207.4 605.49,207.4 605.56,207.5 605.63,207.6 605.70,207.6 605.77,207.4 605.84,207.3 605.91,206.9 605.99,206.7 606.06,206.9 606.13,207.3 606.20,207.5 606.27,207.7 606.34,207.7 606.41,207.5 606.49,207.5 606.56,207.7 606.63,207.7 606.70,207.7 606.77,207.5 606.84,207.4 606.91,207.2 606.99,207.1 607.06,207.1 607.13,207.1 607.20,207.2 607.27,207.4 607.34,207.4 607.41,207.4 607.49,207.4 607.56,207.4 607.63,207.4 607.70,207.5 607.77,207.5 607.84,207.6 607.91,207.6 607.99,207.5 608.06,207.4 608.13,207.3 608.20,207.3 608.27,207.4 608.34,207.4 608.41,207.4 608.49,207.4 608.56,207.4 608.63,207.4 608.70,207.4 608.77,207.4 608.84,207.4 608.91,207.4 608.99,207.3 609.06,207.4 609.13,207.6 609.20,207.8 609.27,207.6 609.34,207.4 609.41,207.4 609.49,207.5 609.56,207.7 609.63,207.7 609.70,207.4 609.77,207.1 609.84,207.0 609.91,207.3 609.99,207.4 610.06,207.3 610.13,207.2 610.20,207.3 610.27,207.5 610.34,207.5 610.41,207.3 610.49,207.0 610.56,207.2 610.63,207.3 610.70,207.3 610.77,207.5 610.84,207.7 610.91,207.6 610.99,207.5 611.06,207.5 611.13,207.4 611.20,207.3 611.27,207.4 611.34,207.6 611.41,207.5 611.49,207.4 611.56,207.3 611.63,207.2 611.70,207.2 611.77,207.3 611.84,207.3 611.91,207.4 611.99,207.6 612.06,207.9 612.13,207.8 612.20,207.6 612.27,207.4 612.34,207.1 612.41,206.8 612.49,206.8 612.56,207.3 612.63,207.6 612.70,207.7 612.77,207.6 612.84,207.5 612.91,207.5 612.99,207.5 613.06,207.5 613.13,207.4 613.20,207.2 613.27,207.0 613.34,207.1 613.41,207.3 613.49,207.4 613.56,207.4 613.63,207.5 613.70,207.8 613.77,207.7 613.84,207.5 613.91,207.4 613.99,207.4 614.06,207.4 614.13,207.4 614.20,207.4 614.27,207.3 614.34,207.3 614.41,207.4 614.49,207.4 614.56,207.5 614.63,207.4 614.70,207.4 614.77,207.5 614.84,207.5 614.91,207.4 614.99,207.2 615.06,207.2 615.13,207.2 615.20,207.3 615.27,207.3 615.34,207.5 615.41,207.6 615.49,207.6 615.56,207.4 615.63,207.3 615.70,207.4 615.77,207.4 615.84,207.4 615.91,207.4 615.99,207.4 616.06,207.3 616.13,207.3 616.20,207.6 616.27,207.8 616.34,207.5 616.41,207.4 616.49,207.3 616.56,207.2 616.63,207.3 616.70,207.4 616.77,207.4 616.84,207.4 616.91,207.4 616.99,207.4 617.06,207.4 617.13,207.2 617.20,207.3 617.27,207.4 617.34,207.4 617.41,207.4 617.49,207.5 617.56,207.5 617.63,207.5 617.70,207.5 617.77,207.4 617.84,207.3 617.91,207.3 617.99,207.4 618.06,207.5 618.13,207.6 618.20,207.6 618.27,207.5 618.34,207.3 618.41,207.3 618.49,207.5 618.56,207.5 618.63,207.4 618.70,207.3 618.77,207.3 618.84,207.4 618.91,207.4 618.99,207.4 619.06,207.3 619.13,207.3 619.20,207.4 619.27,207.4 619.34,207.4 619.41,207.4 619.49,207.4 619.56,207.3 619.63,207.4 619.70,207.4 619.77,207.4 619.84,207.5 619.91,207.5 619.99,207.5 620.06,207.5 620.13,207.5 620.20,207.4 620.27,207.3 620.34,207.2 620.41,207.2 620.49,207.2 620.56,207.3 620.63,207.4 620.70,207.3 620.77,207.3 620.84,207.4 620.91,207.5 620.99,207.4 621.06,207.4 621.13,207.4 621.20,207.6 621.27,208.0 621.34,208.1 621.41,207.7 621.49,207.3 621.56,207.1 621.63,207.1 621.70,207.1 621.77,207.0 621.84,207.0 621.91,207.2 621.99,207.3 622.06,207.4 622.13,207.6 622.20,207.7 622.27,207.7 622.34,207.5 622.41,207.4 622.49,207.4 622.56,207.5 622.63,207.5 622.70,207.5 622.77,207.4 622.84,207.4 622.91,207.3 622.99,207.2 623.06,207.3 623.13,207.4 623.20,207.4 623.27,207.3 623.34,207.1 623.41,207.2 623.49,207.4 623.56,207.5 623.63,207.5 623.70,207.5 623.77,207.5 623.84,207.6 623.91,207.7 623.99,207.7 624.06,207.5 624.13,207.4 624.20,207.5 624.27,207.4 624.34,207.2 624.41,207.0 624.49,207.2 624.56,207.3 624.63,207.4 624.70,207.4 624.77,207.4 624.84,207.4 624.91,207.4 624.99,207.4 625.06,207.5 625.13,207.4 625.20,207.4 625.27,207.5 625.34,207.6 625.41,207.6 625.49,207.4 625.56,207.0 625.63,207.0 625.70,207.3 625.77,207.4 625.84,207.4 625.91,207.3 625.99,207.3 626.06,207.5 626.13,208.0 626.20,208.3 626.27,208.1 626.34,207.5 626.41,207.1 626.49,206.8 626.56,207.3 626.63,207.5 626.70,207.5 626.77,207.3 626.84,207.2 626.91,207.1 626.99,207.2 627.06,207.3 627.13,207.3 627.20,207.4 627.27,207.7 627.34,207.8 627.41,207.5 627.49,207.3 627.56,207.2 627.63,207.2 627.70,207.3 627.77,207.3 627.84,207.5 627.91,207.7 627.99,207.7 628.06,207.8 628.13,207.9 628.20,207.6 628.27,207.3 628.34,206.9 628.41,206.6 628.49,206.4 628.56,206.6 628.63,207.3 628.70,208.2 628.77,209.1 628.84,208.7 628.91,207.6 628.99,206.7 629.06,206.0 629.13,206.5 629.20,207.3 629.27,208.1 629.34,208.7 629.41,208.9 629.49,208.5 629.56,207.6 629.63,207.0 629.70,206.9 629.77,207.1 629.84,207.0 629.91,206.7 629.99,206.8 630.06,207.2 630.13,207.3 630.20,207.3 630.27,207.5 630.34,207.5 630.41,207.5 630.49,207.9 630.56,208.0 630.63,207.4 630.70,206.6 630.77,206.1 630.84,206.6 630.91,206.9 630.99,207.0 631.06,207.4 631.13,208.2 631.20,208.9 631.27,208.1 631.34,207.4 631.41,207.3 631.49,207.6 631.56,208.7 631.63,209.7 631.70,209.2 631.77,207.6 631.84,206.4 631.91,205.0 631.99,204.5 632.06,205.4 632.13,206.8 632.20,207.4 632.27,207.8 632.34,208.1 632.41,207.8 632.49,207.1 632.56,206.7 632.63,207.4 632.70,208.3 632.77,208.8 632.84,208.8 632.91,207.7 632.99,206.9 633.06,206.8 633.13,207.2 633.20,207.4 633.27,207.9 633.34,207.8 633.41,207.5 633.49,207.4 633.56,206.3 633.63,205.0 633.70,206.6 633.77,208.6 633.84,208.8 633.91,206.4 633.99,204.4 634.06,206.3 634.13,208.0 634.20,208.9 634.27,209.1 634.34,209.1 634.41,208.5 634.49,207.7 634.56,207.6 634.63,207.5 634.70,207.1 634.77,206.6 634.84,207.0 634.91,207.3 634.99,207.4 635.06,207.4 635.13,207.2 635.20,207.3 635.27,207.6 635.34,207.8 635.41,207.8 635.49,207.6 635.56,207.1 635.63,205.8 635.70,204.8 635.77,205.9 635.84,207.9 635.91,210.5 635.99,210.4 636.06,207.8 636.13,206.5 636.20,206.4 636.27,207.3 636.34,207.3 636.41,206.3 636.49,206.1 636.56,207.5 636.63,209.5 636.70,210.7 636.77,210.3 636.84,208.2 636.91,206.0 636.99,204.2 637.06,205.0 637.13,206.7 637.20,207.5 637.27,207.5 637.34,206.6 637.41,206.1 637.49,207.5 637.56,208.5 637.63,207.7 637.70,206.9 637.77,206.2 637.84,206.7 637.91,207.6 637.99,208.1 638.06,208.0 638.13,208.4 638.20,208.9 638.27,208.4 638.34,207.7 638.41,207.4 638.49,207.2 638.56,206.8 638.63,206.4 638.70,206.7 638.77,207.5 638.84,209.5 638.91,211.2 638.99,209.0 639.06,206.8 639.13,205.9 639.20,206.2 639.27,205.6 639.34,204.9 639.41,205.0 639.49,205.6 639.56,206.9 639.63,208.0 639.70,209.9 639.77,210.8 639.84,209.4 639.91,207.9 639.99,207.7 640.06,207.8 640.13,207.6 640.20,207.5 640.27,207.0 640.34,205.4 640.41,203.7 640.49,204.7 640.56,206.9 640.63,207.6 640.70,208.0 640.77,208.2 640.84,208.1 640.91,207.6 640.99,207.2 641.06,207.4 641.13,208.1 641.20,208.5 641.27,209.0 641.34,208.9 641.41,208.1 641.49,207.9 641.56,208.4 641.63,207.4 641.70,205.3 641.77,204.4 641.84,205.5 641.91,206.7 641.99,206.1 642.06,205.0 642.13,205.9 642.20,207.4 642.27,208.4 642.34,209.5 642.41,209.7 642.49,208.8 642.56,207.7 642.63,206.8 642.70,206.1 642.77,206.8 642.84,207.4 642.91,207.8 642.99,207.5 643.06,206.7 643.13,206.3 643.20,207.0 643.27,207.5 643.34,207.9 643.41,207.4 643.49,207.3 643.56,208.2 643.63,210.2 643.70,210.5 643.77,209.1 643.84,208.1 643.91,207.6 643.99,207.3 644.06,206.8 644.13,206.6 644.20,206.4 644.27,205.8 644.34,205.7 644.41,205.9 644.49,206.6 644.56,207.3 644.63,207.5 644.70,207.6 644.77,208.3 644.84,209.7 644.91,208.6 644.99,205.7 645.06,203.4 645.13,205.8 645.20,208.4 645.27,211.2 645.34,211.7 645.41,210.1 645.49,208.0 645.56,206.7 645.63,205.3 645.70,205.0 645.77,205.3 645.84,206.5 645.91,207.5 645.99,207.8 646.06,207.8 646.13,208.4 646.20,208.7 646.27,207.6 646.34,206.3 646.41,205.8 646.49,207.4 646.56,208.6 646.63,209.1 646.70,209.0 646.77,207.9 646.84,207.1 646.91,207.0 646.99,207.3 647.06,207.3 647.13,207.2 647.20,206.4 647.27,205.6 647.34,207.2 647.41,209.1 647.49,208.7 647.56,206.4 647.63,203.8 647.70,204.4 647.77,206.8 647.84,208.3 647.91,209.5 647.99,209.8 648.06,208.6 648.13,207.1 648.20,205.8 648.27,206.6 648.34,207.6 648.41,207.8 648.49,208.5 648.56,210.3 648.63,209.5 648.70,206.9 648.77,205.2 648.84,206.7 648.91,207.4 648.99,206.7 649.06,206.5 649.13,207.0 649.20,206.8 649.27,206.9 649.34,207.3 649.41,207.6 649.49,207.4 649.56,207.2 649.63,207.5 649.70,208.3 649.77,208.6 649.84,207.8 649.91,206.6 649.99,206.2 650.06,207.2 650.13,207.4 650.20,208.1 650.27,210.7 650.34,210.9 650.41,207.7 650.49,205.8 650.56,205.6 650.63,207.0 650.70,207.3 650.77,205.9 650.84,205.8 650.91,207.5 650.99,209.3 651.06,210.5 651.13,210.6 651.20,208.6 651.27,206.6 651.34,205.3 651.41,205.5 651.49,205.6 651.56,205.7 651.63,205.7 651.70,206.9 651.77,208.7 651.84,210.2 651.91,209.5 651.99,208.3 652.06,207.4 652.13,207.3 652.20,207.7 652.27,207.8 652.34,207.4 652.41,207.2 652.49,207.3 652.56,207.1 652.63,206.3 652.70,203.7 652.77,201.2 652.84,202.9 652.91,206.9 652.99,208.9 653.06,209.7 653.13,209.4 653.20,209.2 653.27,208.9 653.34,208.8 653.41,208.9 653.49,207.6 653.56,205.6 653.63,204.4 653.70,206.5 653.77,208.5 653.84,209.9 653.91,210.3 653.99,210.8 654.06,209.4 654.13,207.3 654.20,205.1 654.27,203.4 654.34,204.6 654.41,207.1 654.49,207.7 654.56,207.3 654.63,205.6 654.70,205.9 654.77,208.1 654.84,211.5 654.91,212.6 654.99,209.1 655.06,206.3 655.13,205.9 655.20,207.4 655.27,207.9 655.34,207.1 655.41,206.2 655.49,206.7 655.56,207.4 655.63,207.4 655.70,207.4 655.77,207.3 655.84,207.3 655.91,207.5 655.99,207.5 656.06,207.6 656.13,207.9 656.20,207.7 656.27,207.4 656.34,207.3 656.41,207.4 656.49,207.8 656.56,207.9 656.63,206.4 656.70,204.3 656.77,205.4 656.84,207.5 656.91,209.6 656.99,208.6 657.06,206.6 657.13,204.6 657.20,203.4 657.27,205.4 657.34,209.8 657.41,214.8 657.49,213.4 657.56,210.1 657.63,207.9 657.70,206.8 657.77,204.2 657.84,201.4 657.91,203.1 657.99,206.9 658.06,207.8 658.13,207.7 658.20,208.0 658.27,207.7 658.34,206.9 658.41,207.1 658.49,208.4 658.56,209.9 658.63,210.6 658.70,210.0 658.77,207.7 658.84,205.6 658.91,205.1 658.99,206.1 659.06,206.6 659.13,206.7 659.20,207.6 659.27,208.9 659.34,208.8 659.41,208.0 659.49,207.3 659.56,207.1 659.63,207.4 659.70,207.5 659.77,206.6 659.84,205.0 659.91,205.8 659.99,207.3 660.06,207.6 660.13,208.4 660.20,210.4 660.27,210.8 660.34,208.2 660.41,206.3 660.49,204.2 660.56,203.2 660.63,205.0 660.70,207.3 660.77,208.7 660.84,209.6 660.91,208.8 660.99,207.7 661.06,207.7 661.13,208.3 661.20,208.6 661.27,208.1 661.34,207.2 661.41,206.1 661.49,206.1 661.56,206.0 661.63,205.6 661.70,206.2 661.77,207.5 661.84,207.9 661.91,207.3 661.99,207.2 662.06,208.0 662.13,207.9 662.20,206.5 662.27,205.5 662.34,207.2 662.41,209.2 662.49,210.0 662.56,208.2 662.63,207.1 662.70,207.0 662.77,207.0 662.84,206.4 662.91,206.5 662.99,206.9 663.06,207.0 663.13,207.6 663.20,209.0 663.27,209.5 663.34,209.0 663.41,208.1 663.49,207.1 663.56,205.6 663.63,206.3 663.70,207.8 663.77,209.2 663.84,208.7 663.91,207.8 663.99,207.5 664.06,207.4 664.13,207.2 664.20,206.4 664.27,206.1 664.34,206.7 664.41,207.3 664.49,208.0 664.56,208.6 664.63,207.7 664.70,206.8 664.77,205.6 664.84,205.1 664.91,205.8 664.99,206.7 665.06,207.7 665.13,209.4 665.20,210.5 665.27,210.3 665.34,208.7 665.41,207.3 665.49,206.7 665.56,206.8 665.63,207.2 665.70,207.3 665.77,206.7 665.84,206.3 665.91,206.6 665.99,206.8 666.06,206.6 666.13,206.5 666.20,206.7 666.27,207.4 666.34,209.0 666.41,210.2 666.49,208.9 666.56,207.7 666.63,207.7 666.70,207.6 666.77,207.4 666.84,207.5 666.91,208.4 666.99,208.8 667.06,207.5 667.13,206.0 667.20,205.0 667.27,205.7 667.34,207.0 667.41,207.9 667.49,208.6 667.56,207.9 667.63,207.4 667.70,207.7 667.77,207.9 667.84,207.3 667.91,205.9 667.99,205.3 668.06,205.6 668.13,205.8 668.20,207.0 668.27,208.8 668.34,210.6 668.41,209.4 668.49,207.4 668.56,206.2 668.63,206.1 668.70,206.4 668.77,207.3 668.84,208.4 668.91,208.2 668.99,207.1 669.06,206.9 669.13,207.7 669.20,208.6 669.27,208.1 669.34,207.2 669.41,206.7 669.49,207.3 669.56,208.6 669.63,210.4 669.70,209.5 669.77,207.0 669.84,204.9 669.91,205.3 669.99,206.1 670.06,206.7 670.13,207.8 670.20,209.5 670.27,209.4 670.34,208.5 670.41,208.0 670.49,207.4 670.56,206.4 670.63,205.3 670.70,204.9 670.77,205.4 670.84,207.4 670.91,209.9 670.99,210.8 671.06,208.4 671.13,206.2 671.20,205.0 671.27,206.6 671.34,207.3 671.41,206.7 671.49,207.1 671.56,207.6 671.63,207.4 671.70,207.2 671.77,207.5 671.84,208.3 671.91,208.5 671.99,208.2 672.06,207.9 672.13,207.5 672.20,207.1 672.27,207.1 672.34,207.1 672.41,207.1 672.49,207.5 672.56,208.1 672.63,208.0 672.70,207.7 672.77,207.8 672.84,208.2 672.91,208.0 672.99,207.2 673.06,205.8 673.13,205.2 673.20,205.3 673.27,205.5 673.34,206.0 673.41,206.2 673.49,206.7 673.56,207.8 673.63,209.3 673.70,209.4 673.77,208.5 673.84,208.3 673.91,208.8 673.99,208.8 674.06,208.1 674.13,207.5 674.20,207.4 674.27,206.9 674.34,205.5 674.41,204.5 674.49,205.6 674.56,207.3 674.63,209.1 674.70,211.3 674.77,210.7 674.84,208.3 674.91,207.3 674.99,206.8 675.06,206.3 675.13,205.9 675.20,206.3 675.27,207.0 675.34,207.1 675.41,206.8 675.49,206.7 675.56,207.1 675.63,207.8 675.70,208.7 675.77,208.7 675.84,208.9 675.91,208.9 675.99,207.6 676.06,206.0 676.13,204.8 676.20,205.1 676.27,206.2 676.34,207.3 676.41,207.7 676.49,207.7 676.56,208.0 676.63,209.2 676.70,209.7 676.77,208.9 676.84,208.0 676.91,207.3 676.99,206.4 677.06,205.7 677.13,205.3 677.20,205.6 677.27,206.0 677.34,206.7 677.41,207.4 677.49,207.7 677.56,208.3 677.63,209.6 677.70,210.6 677.77,209.6 677.84,208.3 677.91,208.2 677.99,207.4 678.06,204.2 678.13,201.2 678.20,203.1 678.27,206.6 678.34,208.5 678.41,210.9 678.49,211.1 678.56,208.8 678.63,207.3 678.70,206.9 678.77,206.9 678.84,207.3 678.91,208.0 678.99,207.9 679.06,207.1 679.13,207.1 679.20,207.7 679.27,207.9 679.34,207.3 679.41,206.9 679.49,206.9 679.56,207.0 679.63,207.2 679.70,207.4 679.77,207.4 679.84,207.3 679.91,207.4 679.99,207.7 680.06,207.8 680.13,207.6 680.20,207.1 680.27,206.4 680.34,206.0 680.41,206.0 680.49,207.3 680.56,208.4 680.63,208.4 680.70,207.4 680.77,207.1 680.84,207.3 680.91,208.0 680.99,209.1 681.06,209.4 681.13,208.3 681.20,207.4 681.27,207.0 681.34,206.4 681.41,206.4 681.49,207.7 681.56,209.5 681.63,209.1 681.70,207.4 681.77,205.5 681.84,204.8 681.91,206.3 681.99,207.6 682.06,208.9 682.13,209.1 682.20,208.8 682.27,208.0 682.34,206.4 682.41,204.2 682.49,204.0 682.56,204.4 682.63,206.3 682.70,208.5 682.77,210.5 682.84,209.3 682.91,207.5 682.99,206.2 683.06,205.0 683.13,206.2 683.20,208.1 683.27,209.7 683.34,208.7 683.41,207.1 683.49,206.1 683.56,207.1 683.63,208.2 683.70,208.1 683.77,207.3 683.84,207.0 683.91,207.6 683.99,209.0 684.06,208.7 684.13,207.1 684.20,205.2 684.27,205.4 684.34,207.4 684.41,209.5 684.49,209.7 684.56,208.2 684.63,207.4 684.70,207.2 684.77,207.1 684.84,206.5 684.91,205.4 684.99,205.8 685.06,207.4 685.13,208.6 685.20,207.5 685.27,207.4 685.34,210.0 685.41,211.3 685.49,208.1 685.56,204.5 685.63,202.8 685.70,206.7 685.77,208.6 685.84,207.8 685.91,207.3 685.99,207.6 686.06,208.9 686.13,209.0 686.20,207.4 686.27,205.7 686.34,205.1 686.41,206.1 686.49,207.6 686.56,209.8 686.63,209.6 686.70,208.3 686.77,207.8 686.84,207.4 686.91,207.2 686.99,207.4 687.06,207.1 687.13,206.5 687.20,205.4 687.27,204.3 687.34,205.4 687.41,207.3 687.49,208.6 687.56,209.7 687.63,210.8 687.70,212.6 687.77,210.7 687.84,206.5 687.91,201.7 687.99,202.4 688.06,207.1 688.13,209.2 688.20,207.7 688.27,206.6 688.34,207.3 688.41,209.4 688.49,210.9 688.56,208.7 688.63,206.9 688.70,206.0 688.77,205.6 688.84,204.5 688.91,205.0 688.99,207.3 689.06,209.2 689.13,209.0 689.20,207.4 689.27,206.5 689.34,205.4 689.41,204.9 689.49,206.0 689.56,207.5 689.63,211.3 689.70,213.9 689.77,211.6 689.84,209.2 689.91,207.8 689.99,206.5 690.06,205.3 690.13,204.6 690.20,203.9 690.27,205.3 690.34,207.5 690.41,209.1 690.49,208.2 690.56,206.8 690.63,206.1 690.70,207.4 690.77,209.6 690.84,209.7 690.91,208.3 690.99,207.5 691.06,206.2 691.13,203.5 691.20,204.2 691.27,207.2 691.34,209.3 691.41,211.0 691.49,210.8 691.56,209.4 691.63,207.7 691.70,207.4 691.77,208.0 691.84,207.4 691.91,205.3 691.99,203.0 692.06,202.6 692.13,205.2 692.20,207.8 692.27,209.6 692.34,208.3 692.41,207.3 692.49,207.4 692.56,207.3 692.63,206.3 692.70,206.7 692.77,208.3 692.84,210.5 692.91,210.6 692.99,209.0 693.06,207.5 693.13,206.5 693.20,204.9 693.27,205.1 693.34,207.2 693.41,207.7 693.49,207.2 693.56,206.5 693.63,206.1 693.70,206.7 693.77,207.6 693.84,208.3 693.91,207.7 693.99,206.7 694.06,206.8 694.13,207.8 694.20,209.1 694.27,209.1 694.34,209.2 694.41,209.4 694.49,208.7 694.56,207.8 694.63,207.0 694.70,205.5 694.77,205.9 694.84,207.2 694.91,207.3 694.99,206.8 695.06,207.6 695.13,210.3 695.20,210.0 695.27,206.9 695.34,203.3 695.41,202.1 695.49,202.6 695.56,205.5 695.63,208.9 695.70,212.3 695.77,212.3 695.84,210.7 695.91,208.3 695.99,206.3 696.06,205.2 696.13,206.4 696.20,207.4 696.27,207.6 696.34,207.3 696.41,206.7 696.49,206.3 696.56,206.8 696.63,207.6 696.70,208.9 696.77,208.4 696.84,207.0 696.91,206.9 696.99,208.0 697.06,208.5 697.13,207.4 697.20,207.3 697.27,207.8 697.34,208.4 697.41,207.6 697.49,206.4 697.56,204.9 697.63,203.8 697.70,203.5 697.77,205.9 697.84,208.6 697.91,212.1 697.99,211.8 698.06,209.2 698.13,208.1 698.20,207.7 698.27,206.2 698.34,202.9 698.41,202.9 698.49,205.2 698.56,206.3 698.63,207.0 698.70,208.3 698.77,211.0 698.84,212.5 698.91,211.2 698.99,209.2 699.06,208.4 699.13,207.6 699.20,205.9 699.27,203.7 699.34,205.3 699.41,207.8 699.49,208.7 699.56,207.6 699.63,207.4 699.70,207.9 699.77,207.7 699.84,206.5 699.91,204.3 699.99,204.6 700.06,207.4 700.13,209.8 700.20,210.4 700.27,208.7 700.34,207.4 700.41,207.1 700.49,206.9 700.56,205.8 700.63,204.8 700.70,204.3 700.77,205.0 700.84,206.8 700.91,207.3 700.99,207.6 701.06,209.1 701.13,209.7 701.20,209.1 701.27,209.3 701.34,209.3 701.41,209.9 701.49,210.7 701.56,209.2 701.63,207.4 701.70,205.0 701.77,201.8 701.84,201.8 701.91,204.6 701.99,207.1 702.06,208.4 702.13,208.5 702.20,208.2 702.27,208.8 702.34,207.9 702.41,206.0 702.49,205.2 702.56,206.8 702.63,208.5 702.70,211.4 702.77,211.4 702.84,208.2 702.91,207.3 702.99,208.1 703.06,208.7 703.13,207.3 703.20,205.5 703.27,206.5 703.34,207.3 703.41,206.5 703.49,204.8 703.56,203.9 703.63,204.2 703.70,206.0 703.77,208.1 703.84,210.8 703.91,210.1 703.99,207.3 704.06,205.6 704.13,206.8 704.20,208.2 704.27,208.6 704.34,208.8 704.41,210.9 704.49,212.3 704.56,210.0 704.63,207.2 704.70,204.1 704.77,201.8 704.84,204.0 704.91,207.8 704.99,210.6 705.06,209.4 705.13,207.8 705.20,207.6 705.27,206.6 705.34,204.0 705.41,204.0 705.49,205.5 705.56,206.4 705.63,207.2 705.70,208.1 705.77,208.1 705.84,207.3 705.91,207.4 705.99,208.4 706.06,209.4 706.13,209.0 706.20,208.1 706.27,208.0 706.34,208.2 706.41,207.8 706.49,207.2 706.56,207.5 706.63,208.1 706.70,207.4 706.77,205.8 706.84,204.0 706.91,203.4 706.99,203.7 707.06,203.2 707.13,203.5 707.20,206.8 707.27,210.4 707.34,213.1 707.41,214.2 707.49,214.3 707.56,211.3 707.63,207.8 707.70,207.2 707.77,208.4 707.84,209.7 707.91,208.1 707.99,207.1 708.06,205.7 708.13,202.7 708.20,200.8 708.27,204.0 708.34,207.5 708.41,209.6 708.49,208.5 708.56,206.0 708.63,203.6 708.70,204.9 708.77,206.4 708.84,207.7 708.91,211.0 708.99,213.4 709.06,210.8 709.13,207.3 709.20,204.9 709.27,204.8 709.34,206.6 709.41,207.4 709.49,207.7 709.56,208.2 709.63,209.3 709.70,209.6 709.77,208.6 709.84,206.7 709.91,203.8 709.99,203.7 710.06,205.7 710.13,207.4 710.20,208.7 710.27,209.6 710.34,209.5 710.41,208.9 710.49,207.4 710.56,205.0 710.63,204.6 710.70,207.2 710.77,209.0 710.84,209.5 710.91,208.8 710.99,207.6 711.06,205.8 711.13,203.2 711.20,205.1 711.27,208.6 711.34,211.6 711.41,210.1 711.49,207.5 711.56,206.7 711.63,206.5 711.70,206.2 711.77,207.2 711.84,209.7 711.91,210.8 711.99,207.7 712.06,205.3 712.13,204.7 712.20,204.5 712.27,205.1 712.34,207.4 712.41,209.4 712.49,209.6 712.56,209.2 712.63,208.1 712.70,205.9 712.77,203.1 712.84,205.1 712.91,208.0 712.99,208.9 713.06,207.4 713.13,206.9 713.20,208.5 713.27,209.0 713.34,207.2 713.41,205.7 713.49,206.3 713.56,207.5 713.63,209.4 713.70,210.1 713.77,208.6 713.84,206.8 713.91,205.7 713.99,206.5 714.06,207.2 714.13,207.7 714.20,207.7 714.27,206.3 714.34,204.2 714.41,206.0 714.49,208.6 714.56,210.9 714.63,209.1 714.70,207.1 714.77,207.1 714.84,208.1 714.91,208.3 714.99,207.8 715.06,207.6 715.13,206.8 715.20,205.0 715.27,204.2 715.34,205.5 715.41,207.5 715.49,209.1 715.56,209.1 715.63,208.2 715.70,207.7 715.77,208.0 715.84,209.4 715.91,210.0 715.99,208.5 716.06,207.0 716.13,205.1 716.20,205.2 716.27,206.3 716.34,206.4 716.41,206.7 716.49,207.5 716.56,208.2 716.63,207.5 716.70,207.0 716.77,206.8 716.84,205.5 716.91,203.8 716.99,204.5 717.06,206.8 717.13,209.6 717.20,213.6 717.27,213.0 717.34,210.2 717.41,208.7 717.49,207.9 717.56,207.7 717.63,208.8 717.70,208.8 717.77,207.2 717.84,205.8 717.91,206.4 717.99,206.9 718.06,206.1 718.13,205.1 718.20,206.3 718.27,207.5 718.34,207.2 718.41,205.9 718.49,206.8 718.56,207.9 718.63,207.4 718.70,206.1 718.77,206.8 718.84,208.5 718.91,209.2 718.99,207.4 719.06,205.7 719.13,207.2 719.20,208.9 719.27,208.9 719.34,207.8 719.41,207.2 719.49,207.3 719.56,207.9 719.63,207.5 719.70,205.8 719.77,204.7 719.84,205.5 719.91,207.1 719.99,207.9 720.06,208.6 720.13,210.0 720.20,211.4 720.27,209.3 720.34,206.8 720.41,204.8 720.49,203.9 720.56,205.0 720.63,207.1 720.70,207.9 720.77,208.2 720.84,208.9 720.91,210.0 720.99,209.9 721.06,208.5 721.13,207.7 721.20,207.5 721.27,206.1 721.34,203.4 721.41,205.5 721.49,207.8 721.56,208.6 721.63,207.6 721.70,207.0 721.77,207.8 721.84,210.5 721.91,208.8 721.99,204.7 722.06,200.8 722.13,202.6 722.20,206.6 722.27,208.6 722.34,209.0 722.41,208.0 722.49,207.7 722.56,207.7 722.63,207.7 722.70,208.6 722.77,209.3 722.84,208.5 722.91,208.3 722.99,208.4 723.06,207.1 723.13,203.4 723.20,202.5 723.27,207.0 723.34,210.2 723.41,209.3 723.49,206.8 723.56,205.6 723.63,205.8 723.70,206.4 723.77,207.5 723.84,209.5 723.91,211.4 723.99,210.4 724.06,207.6 724.13,205.7 724.20,205.0 724.27,205.9 724.34,207.3 724.41,208.0 724.49,207.8 724.56,208.1 724.63,209.1 724.70,209.3 724.77,208.4 724.84,207.1 724.91,204.9 724.99,204.2 725.06,204.2 725.13,203.3 725.20,204.8 725.27,207.9 725.34,210.8 725.41,211.5 725.49,212.5 725.56,212.1 725.63,208.0 725.70,205.0 725.77,203.2 725.84,203.8 725.91,205.4 725.99,207.0 726.06,207.6 726.13,207.9 726.20,208.3 726.27,208.1 726.34,207.3 726.41,207.1 726.49,207.6 726.56,208.8 726.63,210.4 726.70,209.7 726.77,207.2 726.84,203.2 726.91,201.4 726.99,203.7 727.06,206.1 727.13,207.4 727.20,208.6 727.27,209.5 727.34,210.2 727.41,210.8 727.49,209.7 727.56,207.9 727.63,207.5 727.70,207.8 727.77,207.6 727.84,207.1 727.91,206.3 727.99,203.6 728.06,201.7 728.13,205.5 728.20,209.1 728.27,211.9 728.34,212.3 728.41,210.3 728.49,207.1 728.56,202.7 728.63,200.9 728.70,204.3 728.77,207.4 728.84,209.4 728.91,209.8 728.99,208.5 729.06,207.7 729.13,208.4 729.20,208.1 729.27,206.1 729.34,204.1 729.41,204.8 729.49,206.5 729.56,207.6 729.63,207.9 729.70,207.8 729.77,209.2 729.84,211.8 729.91,211.8 729.99,207.8 730.06,204.9 730.13,204.4 730.20,206.2 730.27,206.9 730.34,206.1 730.41,206.3 730.49,208.2 730.56,210.0 730.63,208.3 730.70,207.2 730.77,207.4 730.84,208.7 730.91,209.4 730.99,208.4 731.06,207.5 731.13,207.7 731.20,208.1 731.27,206.9 731.34,203.1 731.41,202.0 731.49,204.0 731.56,206.0 731.63,207.5 731.70,208.7 731.77,209.8 731.84,211.4 731.91,211.0 731.99,207.4 732.06,202.5 732.13,199.9 732.20,202.7 732.27,207.0 732.34,209.9 732.41,213.2 732.49,213.1 732.56,210.0 732.63,207.5 732.70,206.1 732.77,206.3 732.84,207.9 732.91,210.8 732.99,210.6 733.06,207.4 733.13,204.9 733.20,205.5 733.27,206.9 733.34,207.2 733.41,206.8 733.49,206.5 733.56,206.6 733.63,206.3 733.70,205.3 733.77,205.2 733.84,206.6 733.91,207.6 733.99,209.0 734.06,210.9 734.13,211.3 734.20,209.4 734.27,207.3 734.34,206.0 734.41,205.5 734.49,206.0 734.56,207.1 734.63,207.4 734.70,207.4 734.77,207.4 734.84,207.2 734.91,206.6 734.99,207.2 735.06,208.4 735.13,210.0 735.20,210.1 735.27,208.2 735.34,207.2 735.41,207.5 735.49,208.9 735.56,208.6 735.63,207.0 735.70,204.4 735.77,204.0 735.84,206.9 735.91,208.8 735.99,208.6 736.06,207.4 736.13,207.7 736.20,208.9 736.27,207.5 736.34,205.0 736.41,204.9 736.49,206.6 736.56,207.0 736.63,206.4 736.70,205.6 736.77,206.4 736.84,207.5 736.91,208.2 736.99,209.3 737.06,210.6 737.13,210.6 737.20,209.2 737.27,207.6 737.34,207.1 737.41,207.3 737.49,207.0 737.56,204.4 737.63,202.4 737.70,205.1 737.77,208.9 737.84,211.6 737.91,209.1 737.99,207.5 738.06,207.2 738.13,206.8 738.20,207.4 738.27,208.1 738.34,207.7 738.41,207.6 738.49,208.3 738.56,209.3 738.63,209.5 738.70,207.4 738.77,203.6 738.84,199.7 738.91,199.7 738.99,204.6 739.06,208.2 739.13,210.4 739.20,209.9 739.27,208.0 739.34,207.2 739.41,207.4 739.49,208.2 739.56,209.3 739.63,209.8 739.70,208.4 739.77,207.3 739.84,207.2 739.91,207.2 739.99,207.4 740.06,208.6 740.13,208.8 740.20,206.4 740.27,202.5 740.34,202.1 740.41,203.7 740.49,206.7 740.56,209.5 740.63,210.8 740.70,208.9 740.77,207.9 740.84,209.0 740.91,209.6 740.99,208.2 741.06,207.5 741.13,207.6 741.20,206.1 741.27,201.9 741.34,203.0 741.41,207.3 741.49,208.5 741.56,207.3 741.63,206.9 741.70,210.7 741.77,216.4 741.84,212.6 741.91,207.2 741.99,203.1 742.06,202.0 742.13,206.3 742.20,210.3 742.27,211.8 742.34,208.3 742.41,206.6 742.49,206.2 742.56,205.1 742.63,203.9 742.70,203.0 742.77,200.6 742.84,199.9 742.91,205.2 742.99,210.3 743.06,214.6 743.13,213.7 743.20,210.1 743.27,207.8 743.34,207.4 743.41,206.8 743.49,205.7 743.56,205.7 743.63,206.9 743.70,208.3 743.77,210.3 743.84,212.7 743.91,213.0 743.99,210.1 744.06,208.2 744.13,207.3 744.20,203.6 744.27,200.1 744.34,201.9 744.41,204.8 744.49,207.1 744.56,208.8 744.63,208.8 744.70,207.0 744.77,205.0 744.84,205.4 744.91,207.4 744.99,209.3 745.06,210.3 745.13,209.3 745.20,209.7 745.27,212.3 745.34,211.8 745.41,209.2 745.49,209.6 745.56,211.6 745.63,208.5 745.70,202.7 745.77,195.4 745.84,195.5 745.91,200.7 745.99,203.9 746.06,207.1 746.13,211.5 746.20,215.2 746.27,213.8 746.34,208.5 746.41,204.9 746.49,203.8 746.56,205.7 746.63,207.2 746.70,207.7 746.77,207.4 746.84,206.5 746.91,205.9 746.99,205.2 747.06,205.0 747.13,206.8 747.20,207.7 747.27,207.0 747.34,204.8 747.41,206.5 747.49,211.3 747.56,216.4 747.63,214.7 747.70,212.5 747.77,214.0 747.84,213.6 747.91,209.2 747.99,205.4 748.06,202.5 748.13,206.3 748.20,211.1 748.27,212.9 748.34,209.9 748.41,207.6 748.49,206.6 748.56,206.9 748.63,207.4 748.70,206.6 748.77,204.6 748.84,204.0 748.91,203.3 748.99,203.1 749.06,205.4 749.13,207.0 749.20,206.7 749.27,206.4 749.34,206.6 749.41,206.2 749.49,205.8 749.56,205.9 749.63,205.7 749.70,204.8 749.77,201.9 749.84,198.4 749.91,197.4 749.99,199.7 750.06,203.8 750.13,207.4 750.20,211.6 750.27,217.2 750.34,219.4 750.41,216.1 750.49,211.8 750.56,210.8 750.63,213.6 750.70,217.8 750.77,219.9 750.84,220.3 750.91,219.4 750.99,214.9 751.06,209.0 751.13,205.9 751.20,203.4 751.27,203.7 751.34,205.8 751.41,207.4 751.49,208.1 751.56,207.0 751.63,203.0 751.70,201.7 751.77,206.0 751.84,208.2 751.91,207.7 751.99,206.7 752.06,205.8 752.13,203.5 752.20,198.8 752.27,194.6 752.34,193.1 752.41,194.3 752.49,197.0 752.56,200.2 752.63,203.2 752.70,206.1 752.77,207.5 752.84,209.0 752.91,212.0 752.99,216.5 753.06,219.2 753.13,217.1 753.20,213.3 753.27,211.8 753.34,211.5 753.41,210.2 753.49,207.9 753.56,206.4 753.63,205.7 753.70,207.4 753.77,210.2 753.84,212.8 753.91,213.9 753.99,214.1 754.06,213.4 754.13,211.6 754.20,209.9 754.27,208.2 754.34,206.4 754.41,202.7 754.49,199.7 754.56,199.2 754.63,201.0 754.70,203.1 754.77,204.3 754.84,204.7 754.91,204.7 754.99,205.5 755.06,207.2 755.13,208.7 755.20,210.4 755.27,210.4 755.34,208.6 755.41,207.3 755.49,206.5 755.56,207.0 755.63,208.0 755.70,209.2 755.77,209.2 755.84,208.2 755.91,207.4 755.99,207.0 756.06,206.5 756.13,205.2 756.20,203.7 756.27,203.6 756.34,204.8 756.41,206.3 756.49,207.3 756.56,207.7 756.63,208.4 756.70,209.6 756.77,210.0 756.84,209.2 756.91,208.5 756.99,208.8 757.06,209.5 757.13,209.9 757.20,210.3 757.27,210.3 757.34,209.5 757.41,208.4 757.49,207.5 757.56,207.2 757.63,207.3 757.70,207.1 757.77,205.5 757.84,203.2 757.91,201.5 757.99,200.9 758.06,202.0 758.13,204.7 758.20,207.2 758.27,208.6 758.34,210.4 758.41,211.7 758.49,211.8 758.56,211.8 758.63,211.8 758.70,211.0 758.77,209.2 758.84,207.5 758.91,205.8 758.99,204.0 759.06,203.9 759.13,204.7 759.20,205.6 759.27,206.6 759.34,207.1 759.41,207.1 759.49,207.2 759.56,207.9 759.63,209.2 759.70,210.6 759.77,212.4 759.84,214.4 759.91,214.8 759.99,213.2 760.06,210.3 760.13,207.4 760.20,205.3 760.27,202.9 760.34,200.0 760.41,197.9 760.49,197.1 760.56,196.4 760.63,195.9 760.70,195.5 760.77,194.4 760.84,193.7 760.91,195.4 760.99,198.9 761.06,203.0 761.13,206.9 761.20,209.5 761.27,212.3 761.34,214.2 761.41,216.9 761.49,222.3 761.56,228.9 761.63,232.0 761.70,229.1 761.77,222.2 761.84,214.0 761.91,208.2 761.99,206.3 762.06,205.7 762.13,205.1 762.20,203.5 762.27,201.1 762.34,198.2 762.41,196.1 762.49,194.8 762.56,193.9 762.63,194.6 762.70,197.4 762.77,200.8 762.84,203.4 762.91,205.1 762.99,206.3 763.06,207.3 763.13,207.7 763.20,207.3 763.27,206.7 763.34,207.3 763.41,208.2 763.49,209.8 763.56,213.8 763.63,219.2 763.70,222.6 763.77,224.4 763.84,226.1 763.91,226.2 763.99,222.1 764.06,216.3 764.13,211.4 764.20,208.0 764.27,206.7 764.34,205.7 764.41,204.3 764.49,202.5 764.56,202.5 764.63,204.7 764.70,207.3 764.77,210.1 764.84,213.0 764.91,214.0 764.99,215.2 765.06,216.0 765.13,214.8 765.20,213.0 765.27,211.4 765.34,209.5 765.41,207.6 765.49,205.7 765.56,202.1 765.63,197.6 765.70,191.2 765.77,183.1 765.84,180.6 765.91,180.6 765.99,180.6 766.06,182.8 766.13,190.9 766.20,200.0 766.27,206.5 766.34,208.4 766.41,209.2 766.49,210.0 766.56,211.9 766.63,213.1 766.70,212.1 766.77,211.4 766.84,212.8 766.91,215.8 766.99,220.3 767.06,224.7 767.13,225.9 767.20,223.2 767.27,217.3 767.34,210.2 767.41,206.2 767.49,202.6 767.56,200.9 767.63,200.6 767.70,201.6 767.77,204.5 767.84,207.3 767.91,208.5 767.99,209.0 768.06,208.8 768.13,208.2 768.20,207.9 768.27,208.3 768.34,208.4 768.41,207.7 768.49,207.2 768.56,207.0 768.63,207.2 768.70,207.4 768.77,208.0 768.84,209.8 768.91,212.2 768.99,213.3 769.06,212.6 769.13,211.2 769.20,209.5 769.27,207.4 769.34,205.0 769.41,203.1 769.49,202.1 769.56,199.8 769.63,195.9 769.70,193.5 769.77,194.9 769.84,198.5 769.91,201.2 769.99,202.1 770.06,203.2 770.13,204.9 770.20,204.4 770.27,201.7 770.34,201.6 770.41,205.4 770.49,208.5 770.56,214.5 770.63,222.2 770.70,227.2 770.77,228.2 770.84,227.0 770.91,223.4 770.99,216.0 771.06,209.6 771.13,207.4 771.20,207.0 771.27,207.4 771.34,208.0 771.41,207.8 771.49,206.1 771.56,203.3 771.63,203.1 771.70,205.9 771.77,207.9 771.84,209.0 771.91,209.0 771.99,210.2 772.06,212.4 772.13,214.6 772.20,216.3 772.27,216.9 772.34,217.1 772.41,217.0 772.49,215.4 772.56,212.7 772.63,210.7 772.70,209.5 772.77,208.3 772.84,207.5 772.91,207.3 772.99,206.7 773.06,204.6 773.13,200.5 773.20,195.7 773.27,193.2 773.34,194.4 773.41,197.3 773.49,200.6 773.56,204.6 773.63,207.4 773.70,208.7 773.77,208.1 773.84,206.8 773.91,204.7 773.99,202.6 774.06,199.2 774.13,194.3 774.20,190.3 774.27,189.7 774.34,191.5 774.41,193.7 774.49,197.4 774.56,202.1 774.63,205.4 774.70,206.8 774.77,207.3 774.84,207.7 774.91,208.8 774.99,209.7 775.06,210.6 775.13,213.2 775.20,216.9 775.27,217.9 775.34,216.2 775.41,214.2 775.49,213.7 775.56,213.7 775.63,211.5 775.70,208.0 775.77,206.8 775.84,206.9 775.91,207.4 775.99,208.2 776.06,210.2 776.13,212.3 776.20,213.9 776.27,215.1 776.34,213.9 776.41,210.5 776.49,208.0 776.56,207.3 776.63,206.1 776.70,202.9 776.77,199.7 776.84,200.5 776.91,203.4 776.99,204.9 777.06,205.0 777.13,204.9 777.20,204.9 777.27,205.8 777.34,207.3 777.41,208.2 777.49,209.8 777.56,212.6 777.63,215.7 777.70,219.0 777.77,221.6 777.84,221.1 777.91,218.0 777.99,215.0 778.06,213.1 778.13,211.5 778.20,208.8 778.27,206.4 778.34,202.5 778.41,197.9 778.49,193.7 778.56,189.9 778.63,186.1 778.70,183.3 778.77,184.3 778.84,189.4 778.91,194.7 778.99,198.4 779.06,201.5 779.13,203.4 779.20,203.9 779.27,204.4 779.34,205.7 779.41,206.8 779.49,207.4 779.56,208.5 779.63,210.6 779.70,212.2 779.77,212.6 779.84,213.5 779.91,214.7 779.99,214.8 780.06,213.6 780.13,211.8 780.20,211.1 780.27,211.1 780.34,210.5 780.41,209.7 780.49,208.5 780.56,207.4 780.63,206.4 780.70,205.1 780.77,204.0 780.84,204.3 780.91,207.0 780.99,211.5 781.06,218.8 781.13,222.3 781.20,221.7 781.27,219.8 781.34,217.8 781.41,215.0 781.49,212.7 781.56,212.3 781.63,213.1 781.70,213.3 781.77,211.9 781.84,210.1 781.91,208.4 781.99,206.6 782.06,202.1 782.13,198.5 782.20,198.9 782.27,201.3 782.34,204.3 782.41,206.8 782.49,207.6 782.56,208.3 782.63,208.1 782.70,206.7 782.77,202.5 782.84,197.3 782.91,193.4 782.99,191.9 783.06,192.0 783.13,192.8 783.20,194.8 783.27,197.4 783.34,200.4 783.41,204.0 783.49,207.3 783.56,210.3 783.63,212.8 783.70,213.1 783.77,212.7 783.84,211.2 783.91,208.9 783.99,208.1 784.06,209.0 784.13,210.9 784.20,211.6 784.27,209.7 784.34,207.4 784.41,206.0 784.49,204.6 784.56,202.6 784.63,200.0 784.70,200.0 784.77,202.6 784.84,204.6 784.91,206.5 784.99,209.3 785.06,216.6 785.13,224.6 785.20,229.2 785.27,230.3 785.34,227.4 785.41,220.1 785.49,211.3 785.56,206.2 785.63,201.2 785.70,199.2 785.77,200.4 785.84,202.2 785.91,204.6 785.99,207.4 786.06,210.3 786.13,214.3 786.20,218.4 786.27,220.9 786.34,218.1 786.41,210.8 786.49,205.5 786.56,197.9 786.63,190.1 786.70,186.7 786.77,191.2 786.84,198.5 786.91,203.2 786.99,205.0 787.06,205.4 787.13,204.1 787.20,200.8 787.27,198.5 787.34,200.8 787.41,204.5 787.49,206.0 787.56,205.9 787.63,204.8 787.70,204.0 787.77,205.6 787.84,208.2 787.91,211.2 787.99,211.6 788.06,211.1 788.13,211.8 788.20,214.2 788.27,216.6 788.34,216.3 788.41,214.7 788.49,213.9 788.56,213.8 788.63,214.1 788.70,214.1 788.77,213.7 788.84,213.8 788.91,214.1 788.99,214.4" fill="none" stroke="#006400" stroke-width="0.6"/>
<polyline points="769.5,207.4 769.85,183 770.20,230 770.55,197.6 770.9,207.4" fill="none" stroke="#006400" stroke-width="0.6"/>
<polyline points="773.5,207.4 773.85,182 774.20,228 774.55,197.2 774.9,207.4" fill="none" stroke="#006400" stroke-width="0.6"/>
<polyline points="778.5,207.4 778.85,186 779.20,232 779.55,198.8 779.9,207.4" fill="none" stroke="#006400" stroke-width="0.6"/>
<polyline points="764.5,207.4 764.85,190 765.20,226 765.55,200.4 765.9,207.4" fill="none" stroke="#006400" stroke-width="0.6"/>
<polyline points="783.5,207.4 783.85,188 784.20,229 784.55,199.6 784.9,207.4" fill="none" stroke="#006400" stroke-width="0.6"/>
<polyline points="756.5,207.4 756.85,193 757.20,224 757.55,201.6 757.9,207.4" fill="none" stroke="#006400" stroke-width="0.6"/>
<rect x="506.7" y="179.6" width="283.3" height="53.900000000000006" fill="none" stroke="#000" stroke-width="1.9"/>
<polyline points="507.70,284.6 507.77,284.5 507.84,284.6 507.91,284.7 507.99,284.5 508.06,284.4 508.13,284.4 508.20,284.5 508.27,284.5 508.34,284.5 508.41,284.4 508.49,284.4 508.56,284.3 508.63,284.3 508.70,284.4 508.77,284.5 508.84,284.4 508.91,284.5 508.99,284.5 509.06,284.6 509.13,284.8 509.20,285.0 509.27,284.8 509.34,284.6 509.41,284.5 509.49,284.5 509.56,284.7 509.63,284.7 509.70,284.5 509.77,284.2 509.84,284.2 509.91,284.2 509.99,284.2 510.06,284.3 510.13,284.5 510.20,284.6 510.27,284.6 510.34,284.5 510.41,284.5 510.49,284.5 510.56,284.5 510.63,284.4 510.70,284.3 510.77,284.4 510.84,284.6 510.91,284.8 510.99,284.8 511.06,284.7 511.13,284.6 511.20,284.5 511.27,284.5 511.34,284.5 511.41,284.5 511.49,284.5 511.56,284.6 511.63,284.7 511.70,284.6 511.77,284.4 511.84,284.3 511.91,284.4 511.99,284.4 512.06,284.5 512.13,284.5 512.20,284.5 512.27,284.6 512.34,284.6 512.41,284.5 512.49,284.3 512.56,284.4 512.63,284.5 512.70,284.6 512.77,284.5 512.84,284.4 512.91,284.3 512.99,284.3 513.06,284.5 513.13,284.7 513.20,284.8 513.27,285.0 513.34,284.8 513.41,284.5 513.49,284.3 513.56,284.3 513.63,284.5 513.70,284.5 513.77,284.4 513.84,284.2 513.91,284.3 513.99,284.5 514.06,284.9 514.13,284.9 514.20,284.6 514.27,284.4 514.34,284.4 514.41,284.5 514.49,284.6 514.56,284.6 514.63,284.5 514.70,284.4 514.77,284.3 514.84,284.3 514.91,284.3 514.99,284.4 515.06,284.5 515.13,284.6 515.20,284.7 515.27,284.6 515.34,284.5 515.41,284.5 515.49,284.4 515.56,284.5 515.63,284.7 515.70,284.6 515.77,284.4 515.84,284.3 515.91,284.4 515.99,284.4 516.06,284.4 516.13,284.5 516.20,284.7 516.27,285.0 516.34,284.9 516.41,284.5 516.49,284.4 516.56,284.2 516.63,284.1 516.70,284.2 516.77,284.4 516.84,284.5 516.91,284.5 516.99,284.6 517.06,284.7 517.13,284.6 517.20,284.5 517.27,284.4 517.34,284.5 517.41,284.5 517.49,284.5 517.56,284.5 517.63,284.6 517.70,284.6 517.77,284.5 517.84,284.5 517.91,284.5 517.99,284.5 518.06,284.5 518.13,284.4 518.20,284.5 518.27,284.5 518.34,284.5 518.41,284.3 518.49,284.1 518.56,284.1 518.63,284.2 518.70,284.4 518.77,284.7 518.84,285.0 518.91,285.2 518.99,285.0 519.06,284.6 519.13,284.3 519.20,284.2 519.27,284.5 519.34,284.9 519.41,285.1 519.49,284.7 519.56,284.4 519.63,284.3 519.70,284.3 519.77,284.3 519.84,284.1 519.91,284.2 519.99,284.3 520.06,284.5 520.13,284.5 520.20,284.5 520.27,284.5 520.34,284.5 520.41,284.6 520.49,284.5 520.56,284.5 520.63,284.5 520.70,284.5 520.77,284.5 520.84,284.5 520.91,284.5 520.99,284.5 521.06,284.6 521.13,284.6 521.20,284.6 521.27,284.5 521.34,284.3 521.41,284.1 521.49,284.3 521.56,284.5 521.63,284.5 521.70,284.6 521.77,284.6 521.84,284.4 521.91,284.4 521.99,284.5 522.06,284.6 522.13,284.5 522.20,284.5 522.27,284.5 522.34,284.6 522.41,284.8 522.49,284.8 522.56,284.7 522.63,284.5 522.70,284.4 522.77,284.3 522.84,284.4 522.91,284.3 522.99,284.3 523.06,284.4 523.13,284.5 523.20,284.5 523.27,284.5 523.34,284.4 523.41,284.5 523.49,284.7 523.56,284.7 523.63,284.6 523.70,284.5 523.77,284.4 523.84,284.4 523.91,284.5 523.99,284.5 524.06,284.5 524.13,284.6 524.20,284.6 524.27,284.5 524.34,284.4 524.41,284.4 524.49,284.4 524.56,284.5 524.63,284.6 524.70,284.6 524.77,284.6 524.84,284.6 524.91,284.7 524.99,284.6 525.06,284.5 525.13,284.6 525.20,284.5 525.27,284.3 525.34,284.1 525.41,284.1 525.49,284.3 525.56,284.5 525.63,284.6 525.70,284.7 525.77,284.7 525.84,284.7 525.91,284.7 525.99,284.7 526.06,284.5 526.13,284.4 526.20,284.2 526.27,284.2 526.34,284.4 526.41,284.5 526.49,284.5 526.56,284.4 526.63,284.4 526.70,284.5 526.77,284.7 526.84,284.8 526.91,284.7 526.99,284.6 527.06,284.5 527.13,284.5 527.20,284.5 527.27,284.6 527.34,284.5 527.41,284.4 527.49,284.4 527.56,284.5 527.63,284.5 527.70,284.5 527.77,284.5 527.84,284.4 527.91,284.4 527.99,284.4 528.06,284.5 528.13,284.6 528.20,284.6 528.27,284.5 528.34,284.4 528.41,284.4 528.49,284.5 528.56,284.6 528.63,284.7 528.70,284.6 528.77,284.6 528.84,284.5 528.91,284.5 528.99,284.4 529.06,284.5 529.13,284.4 529.20,284.3 529.27,284.5 529.34,284.5 529.41,284.5 529.49,284.5 529.56,284.5 529.63,284.5 529.70,284.5 529.77,284.5 529.84,284.5 529.91,284.5 529.99,284.5 530.06,284.5 530.13,284.5 530.20,284.6 530.27,284.6 530.34,284.5 530.41,284.5 530.49,284.5 530.56,284.5 530.63,284.5 530.70,284.5 530.77,284.5 530.84,284.5 530.91,284.5 530.99,284.6 531.06,284.6 531.13,284.4 531.20,284.2 531.27,284.1 531.34,284.2 531.41,284.2 531.49,284.3 531.56,284.4 531.63,284.6 531.70,285.0 531.77,285.0 531.84,284.7 531.91,284.6 531.99,284.6 532.06,284.6 532.13,284.5 532.20,284.4 532.27,284.2 532.34,284.2 532.41,284.5 532.49,284.7 532.56,284.8 532.63,284.5 532.70,284.3 532.77,284.3 532.84,284.5 532.91,284.6 532.99,284.6 533.06,284.7 533.13,284.6 533.20,284.5 533.27,284.4 533.34,284.3 533.41,284.3 533.49,284.4 533.56,284.5 533.63,284.6 533.70,284.7 533.77,284.5 533.84,284.5 533.91,284.5 533.99,284.5 534.06,284.5 534.13,284.5 534.20,284.5 534.27,284.5 534.34,284.5 534.41,284.5 534.49,284.5 534.56,284.5 534.63,284.5 534.70,284.5 534.77,284.4 534.84,284.5 534.91,284.5 534.99,284.4 535.06,284.4 535.13,284.4 535.20,284.5 535.27,284.5 535.34,284.7 535.41,284.7 535.49,284.6 535.56,284.5 535.63,284.6 535.70,284.6 535.77,284.5 535.84,284.5 535.91,284.5 535.99,284.5 536.06,284.3 536.13,284.2 536.20,284.5 536.27,284.7 536.34,284.7 536.41,284.5 536.49,284.4 536.56,284.3 536.63,284.5 536.70,284.6 536.77,284.6 536.84,284.5 536.91,284.5 536.99,284.3 537.06,284.4 537.13,284.6 537.20,284.8 537.27,284.7 537.34,284.5 537.41,284.4 537.49,284.5 537.56,284.5 537.63,284.3 537.70,284.2 537.77,284.2 537.84,284.5 537.91,284.9 537.99,285.0 538.06,284.8 538.13,284.6 538.20,284.5 538.27,284.4 538.34,284.0 538.41,283.8 538.49,284.1 538.56,284.5 538.63,284.8 538.70,285.1 538.77,285.1 538.84,284.6 538.91,284.2 538.99,284.1 539.06,284.3 539.13,284.5 539.20,284.6 539.27,284.7 539.34,284.7 539.41,284.6 539.49,284.5 539.56,284.4 539.63,284.4 539.70,284.5 539.77,284.6 539.84,284.5 539.91,284.4 539.99,284.5 540.06,284.6 540.13,284.6 540.20,284.6 540.27,284.5 540.34,284.5 540.41,284.4 540.49,284.3 540.56,284.2 540.63,284.3 540.70,284.5 540.77,284.6 540.84,284.6 540.91,284.5 540.99,284.4 541.06,284.4 541.13,284.5 541.20,284.5 541.27,284.7 541.34,284.9 541.41,284.8 541.49,284.5 541.56,284.4 541.63,284.4 541.70,284.5 541.77,284.7 541.84,284.6 541.91,284.5 541.99,284.5 542.06,284.5 542.13,284.5 542.20,284.4 542.27,284.1 542.34,284.1 542.41,284.4 542.49,284.5 542.56,284.5 542.63,284.4 542.70,284.5 542.77,284.6 542.84,284.6 542.91,284.6 542.99,284.6 543.06,284.5 543.13,284.3 543.20,284.3 543.27,284.4 543.34,284.6 543.41,284.8 543.49,284.9 543.56,284.7 543.63,284.5 543.70,284.5 543.77,284.5 543.84,284.5 543.91,284.4 543.99,284.3 544.06,284.3 544.13,284.4 544.20,284.6 544.27,284.6 544.34,284.5 544.41,284.4 544.49,284.3 544.56,284.4 544.63,284.5 544.70,284.6 544.77,284.8 544.84,284.7 544.91,284.5 544.99,284.4 545.06,284.5 545.13,284.6 545.20,284.7 545.27,284.6 545.34,284.7 545.41,284.7 545.49,284.5 545.56,284.3 545.63,284.2 545.70,284.2 545.77,284.2 545.84,284.2 545.91,284.4 545.99,284.7 546.06,284.9 546.13,284.7 546.20,284.6 546.27,284.5 546.34,284.5 546.41,284.4 546.49,284.4 546.56,284.5 546.63,284.5 546.70,284.5 546.77,284.6 546.84,284.7 546.91,284.6 546.99,284.5 547.06,284.4 547.13,284.4 547.20,284.5 547.27,284.5 547.34,284.5 547.41,284.5 547.49,284.5 547.56,284.5 547.63,284.5 547.70,284.6 547.77,284.5 547.84,284.5 547.91,284.6 547.99,284.5 548.06,284.4 548.13,284.2 548.20,284.1 548.27,284.0 548.34,284.1 548.41,284.4 548.49,284.7 548.56,285.0 548.63,285.0 548.70,284.8 548.77,284.5 548.84,284.3 548.91,284.4 548.99,284.5 549.06,284.6 549.13,284.7 549.20,284.7 549.27,284.7 549.34,284.5 549.41,284.5 549.49,284.4 549.56,284.4 549.63,284.4 549.70,284.3 549.77,284.2 549.84,284.4 549.91,284.5 549.99,284.6 550.06,284.7 550.13,284.7 550.20,284.5 550.27,284.5 550.34,284.5 550.41,284.6 550.49,284.5 550.56,284.5 550.63,284.3 550.70,284.2 550.77,284.2 550.84,284.3 550.91,284.4 550.99,284.4 551.06,284.5 551.13,284.8 551.20,285.0 551.27,285.0 551.34,284.7 551.41,284.6 551.49,284.5 551.56,284.4 551.63,284.0 551.70,283.9 551.77,284.1 551.84,284.4 551.91,284.6 551.99,284.8 552.06,284.7 552.13,284.6 552.20,284.5 552.27,284.4 552.34,284.4 552.41,284.5 552.49,284.8 552.56,284.9 552.63,284.7 552.70,284.5 552.77,284.3 552.84,284.3 552.91,284.3 552.99,284.4 553.06,284.4 553.13,284.4 553.20,284.4 553.27,284.6 553.34,284.7 553.41,284.6 553.49,284.6 553.56,284.5 553.63,284.5 553.70,284.5 553.77,284.4 553.84,284.3 553.91,284.5 553.99,284.6 554.06,284.6 554.13,284.5 554.20,284.6 554.27,284.8 554.34,284.5 554.41,284.4 554.49,284.4 554.56,284.5 554.63,284.5 554.70,284.5 554.77,284.5 554.84,284.5 554.91,284.5 554.99,284.5 555.06,284.4 555.13,284.4 555.20,284.4 555.27,284.5 555.34,284.7 555.41,284.8 555.49,284.7 555.56,284.5 555.63,284.2 555.70,284.2 555.77,284.4 555.84,284.5 555.91,284.6 555.99,284.5 556.06,284.4 556.13,284.2 556.20,284.2 556.27,284.4 556.34,284.6 556.41,284.8 556.49,284.8 556.56,284.7 556.63,284.6 556.70,284.5 556.77,284.5 556.84,284.6 556.91,284.6 556.99,284.6 557.06,284.6 557.13,284.5 557.20,284.3 557.27,284.2 557.34,284.3 557.41,284.5 557.49,284.5 557.56,284.5 557.63,284.7 557.70,284.8 557.77,284.7 557.84,284.5 557.91,284.3 557.99,284.3 558.06,284.4 558.13,284.5 558.20,284.5 558.27,284.4 558.34,284.4 558.41,284.5 558.49,284.6 558.56,284.6 558.63,284.7 558.70,284.7 558.77,284.7 558.84,284.5 558.91,284.3 558.99,284.4 559.06,284.5 559.13,284.6 559.20,284.7 559.27,284.6 559.34,284.4 559.41,284.1 559.49,284.0 559.56,284.3 559.63,284.5 559.70,284.5 559.77,284.5 559.84,284.6 559.91,284.7 559.99,284.8 560.06,284.6 560.13,284.5 560.20,284.5 560.27,284.5 560.34,284.5 560.41,284.5 560.49,284.5 560.56,284.5 560.63,284.5 560.70,284.5 560.77,284.5 560.84,284.5 560.91,284.6 560.99,284.6 561.06,284.5 561.13,284.4 561.20,284.4 561.27,284.4 561.34,284.5 561.41,284.7 561.49,284.8 561.56,284.8 561.63,284.5 561.70,284.3 561.77,283.9 561.84,283.9 561.91,284.3 561.99,284.5 562.06,284.5 562.13,284.5 562.20,284.5 562.27,284.5 562.34,284.6 562.41,284.6 562.49,284.7 562.56,284.7 562.63,284.6 562.70,284.7 562.77,284.7 562.84,284.6 562.91,284.5 562.99,284.5 563.06,284.5 563.13,284.4 563.20,284.5 563.27,284.5 563.34,284.6 563.41,284.6 563.49,284.7 563.56,284.6 563.63,284.3 563.70,283.9 563.77,283.9 563.84,284.2 563.91,284.4 563.99,284.5 564.06,284.6 564.13,284.6 564.20,284.5 564.27,284.5 564.34,284.5 564.41,284.6 564.49,284.7 564.56,284.7 564.63,284.6 564.70,284.6 564.77,284.5 564.84,284.3 564.91,284.5 564.99,284.7 565.06,284.7 565.13,284.5 565.20,284.4 565.27,284.4 565.34,284.5 565.41,284.6 565.49,284.5 565.56,284.4 565.63,284.2 565.70,284.3 565.77,284.5 565.84,284.6 565.91,284.6 565.99,284.5 566.06,284.5 566.13,284.4 566.20,284.4 566.27,284.5 566.34,284.6 566.41,284.6 566.49,284.6 566.56,284.6 566.63,284.5 566.70,284.5 566.77,284.5 566.84,284.4 566.91,284.3 566.99,284.4 567.06,284.5 567.13,284.4 567.20,284.3 567.27,284.4 567.34,284.5 567.41,284.6 567.49,284.6 567.56,284.6 567.63,284.5 567.70,284.5 567.77,284.5 567.84,284.6 567.91,284.6 567.99,284.6 568.06,284.6 568.13,284.6 568.20,284.7 568.27,284.5 568.34,284.1 568.41,284.2 568.49,284.5 568.56,284.6 568.63,284.5 568.70,284.5 568.77,284.5 568.84,284.6 568.91,284.5 568.99,284.4 569.06,284.5 569.13,284.6 569.20,284.6 569.27,284.6 569.34,284.5 569.41,284.4 569.49,284.4 569.56,284.4 569.63,284.4 569.70,284.5 569.77,284.5 569.84,284.5 569.91,284.3 569.99,284.4 570.06,284.5 570.13,284.6 570.20,284.7 570.27,284.7 570.34,284.6 570.41,284.5 570.49,284.4 570.56,284.4 570.63,284.4 570.70,284.5 570.77,284.5 570.84,284.5 570.91,284.4 570.99,284.4 571.06,284.6 571.13,284.8 571.20,284.8 571.27,284.6 571.34,284.3 571.41,284.2 571.49,284.3 571.56,284.4 571.63,284.5 571.70,284.5 571.77,284.6 571.84,284.7 571.91,284.7 571.99,284.7 572.06,284.6 572.13,284.4 572.20,284.4 572.27,284.5 572.34,284.5 572.41,284.5 572.49,284.5 572.56,284.5 572.63,284.5 572.70,284.5 572.77,284.5 572.84,284.6 572.91,284.5 572.99,284.4 573.06,284.3 573.13,284.3 573.20,284.4 573.27,284.4 573.34,284.4 573.41,284.5 573.49,284.6 573.56,284.6 573.63,284.7 573.70,284.7 573.77,284.6 573.84,284.6 573.91,284.8 573.99,284.6 574.06,284.4 574.13,284.0 574.20,283.9 574.27,284.0 574.34,284.3 574.41,284.6 574.49,284.8 574.56,284.8 574.63,284.7 574.70,284.7 574.77,284.6 574.84,284.5 574.91,284.4 574.99,284.4 575.06,284.3 575.13,284.2 575.20,284.2 575.27,284.5 575.34,284.7 575.41,284.9 575.49,284.7 575.56,284.5 575.63,284.5 575.70,284.5 575.77,284.6 575.84,284.5 575.91,284.5 575.99,284.5 576.06,284.5 576.13,284.5 576.20,284.5 576.27,284.4 576.34,284.3 576.41,284.4 576.49,284.5 576.56,284.5 576.63,284.5 576.70,284.6 576.77,284.6 576.84,284.6 576.91,284.6 576.99,284.5 577.06,284.5 577.13,284.6 577.20,284.6 577.27,284.4 577.34,284.4 577.41,284.5 577.49,284.6 577.56,284.6 577.63,284.5 577.70,284.4 577.77,284.4 577.84,284.4 577.91,284.4 577.99,284.3 578.06,284.4 578.13,284.5 578.20,284.7 578.27,284.6 578.34,284.5 578.41,284.4 578.49,284.4 578.56,284.4 578.63,284.6 578.70,284.9 578.77,284.8 578.84,284.5 578.91,284.4 578.99,284.4 579.06,284.5 579.13,284.5 579.20,284.5 579.27,284.5 579.34,284.5 579.41,284.6 579.49,284.5 579.56,284.4 579.63,284.3 579.70,284.5 579.77,284.6 579.84,284.6 579.91,284.6 579.99,284.5 580.06,284.4 580.13,284.4 580.20,284.5 580.27,284.5 580.34,284.5 580.41,284.5 580.49,284.4 580.56,284.3 580.63,284.4 580.70,284.5 580.77,284.5 580.84,284.5 580.91,284.6 580.99,284.7 581.06,284.6 581.13,284.5 581.20,284.4 581.27,284.4 581.34,284.5 581.41,284.5 581.49,284.6 581.56,284.6 581.63,284.5 581.70,284.4 581.77,284.4 581.84,284.4 581.91,284.5 581.99,284.5 582.06,284.6 582.13,284.6 582.20,284.5 582.27,284.4 582.34,284.3 582.41,284.4 582.49,284.5 582.56,284.6 582.63,284.7 582.70,284.7 582.77,284.5 582.84,284.4 582.91,284.4 582.99,284.5 583.06,284.6 583.13,284.7 583.20,284.6 583.27,284.5 583.34,284.5 583.41,284.5 583.49,284.5 583.56,284.4 583.63,284.3 583.70,284.3 583.77,284.4 583.84,284.5 583.91,284.5 583.99,284.6 584.06,284.6 584.13,284.6 584.20,284.5 584.27,284.6 584.34,284.6 584.41,284.5 584.49,284.4 584.56,284.3 584.63,284.3 584.70,284.4 584.77,284.5 584.84,284.7 584.91,284.6 584.99,284.6 585.06,284.6 585.13,284.6 585.20,284.6 585.27,284.5 585.34,284.5 585.41,284.5 585.49,284.5 585.56,284.5 585.63,284.4 585.70,284.3 585.77,284.3 585.84,284.4 585.91,284.5 585.99,285.0 586.06,285.0 586.13,284.5 586.20,284.1 586.27,284.0 586.34,284.3 586.41,284.5 586.49,284.6 586.56,284.6 586.63,284.5 586.70,284.5 586.77,284.5 586.84,284.4 586.91,284.5 586.99,284.6 587.06,284.8 587.13,284.8 587.20,284.8 587.27,284.7 587.34,284.5 587.41,284.4 587.49,284.4 587.56,284.3 587.63,284.1 587.70,284.2 587.77,284.5 587.84,284.5 587.91,284.4 587.99,284.3 588.06,284.5 588.13,284.6 588.20,284.8 588.27,284.9 588.34,284.6 588.41,284.5 588.49,284.3 588.56,284.3 588.63,284.4 588.70,284.5 588.77,284.6 588.84,284.6 588.91,284.6 588.99,284.5 589.06,284.5 589.13,284.5 589.20,284.5 589.27,284.4 589.34,284.5 589.41,284.5 589.49,284.6 589.56,284.5 589.63,284.5 589.70,284.5 589.77,284.5 589.84,284.5 589.91,284.5 589.99,284.4 590.06,284.4 590.13,284.5 590.20,284.5 590.27,284.5 590.34,284.5 590.41,284.5 590.49,284.5 590.56,284.6 590.63,284.9 590.70,285.0 590.77,284.7 590.84,284.4 590.91,284.2 590.99,284.1 591.06,284.1 591.13,284.2 591.20,284.3 591.27,284.5 591.34,284.7 591.41,284.7 591.49,284.6 591.56,284.5 591.63,284.5 591.70,284.5 591.77,284.4 591.84,284.3 591.91,284.4 591.99,284.6 592.06,284.7 592.13,284.7 592.20,284.6 592.27,284.6 592.34,284.6 592.41,284.5 592.49,284.4 592.56,284.5 592.63,284.5 592.70,284.5 592.77,284.3 592.84,284.0 592.91,284.1 592.99,284.4 593.06,284.5 593.13,284.5 593.20,284.5 593.27,284.7 593.34,285.0 593.41,284.8 593.49,284.6 593.56,284.5 593.63,284.6 593.70,284.6 593.77,284.5 593.84,284.4 593.91,284.0 593.99,283.9 594.06,284.3 594.13,284.6 594.20,284.7 594.27,284.5 594.34,284.5 594.41,284.5 594.49,284.7 594.56,284.7 594.63,284.6 594.70,284.6 594.77,284.6 594.84,284.5 594.91,284.5 594.99,284.5 595.06,284.4 595.13,284.2 595.20,284.2 595.27,284.4 595.34,284.3 595.41,284.4 595.49,284.5 595.56,284.6 595.63,284.7 595.70,284.6 595.77,284.5 595.84,284.4 595.91,284.3 595.99,284.6 596.06,284.9 596.13,284.9 596.20,284.7 596.27,284.5 596.34,284.5 596.41,284.7 596.49,284.7 596.56,284.5 596.63,284.5 596.70,284.5 596.77,284.5 596.84,284.4 596.91,284.2 596.99,284.1 597.06,284.1 597.13,284.3 597.20,284.4 597.27,284.4 597.34,284.5 597.41,284.6 597.49,284.9 597.56,285.0 597.63,284.7 597.70,284.5 597.77,284.4 597.84,284.5 597.91,284.7 597.99,284.7 598.06,284.5 598.13,284.5 598.20,284.5 598.27,284.4 598.34,284.3 598.41,284.2 598.49,284.2 598.56,284.4 598.63,284.5 598.70,284.7 598.77,284.8 598.84,284.8 598.91,284.6 598.99,284.5 599.06,284.5 599.13,284.5 599.20,284.4 599.27,284.4 599.34,284.5 599.41,284.5 599.49,284.5 599.56,284.5 599.63,284.5 599.70,284.4 599.77,284.5 599.84,284.6 599.91,284.6 599.99,284.5 600.06,284.4 600.13,284.5 600.20,284.6 600.27,284.7 600.34,284.6 600.41,284.5 600.49,284.3 600.56,284.3 600.63,284.5 600.70,284.7 600.77,284.7 600.84,284.5 600.91,284.2 600.99,284.1 601.06,284.3 601.13,284.5 601.20,284.6 601.27,284.7 601.34,284.7 601.41,284.5 601.49,284.5 601.56,284.5 601.63,284.6 601.70,284.5 601.77,284.4 601.84,284.3 601.91,284.4 601.99,284.5 602.06,284.6 602.13,284.7 602.20,284.6 602.27,284.5 602.34,284.4 602.41,284.4 602.49,284.4 602.56,284.4 602.63,284.6 602.70,284.8 602.77,284.9 602.84,284.7 602.91,284.5 602.99,284.3 603.06,284.3 603.13,284.3 603.20,284.5 603.27,284.6 603.34,284.6 603.41,284.5 603.49,284.5 603.56,284.5 603.63,284.5 603.70,284.4 603.77,284.3 603.84,284.3 603.91,284.4 603.99,284.4 604.06,284.5 604.13,284.6 604.20,284.9 604.27,285.3 604.34,285.3 604.41,284.8 604.49,284.3 604.56,283.9 604.63,283.8 604.70,283.9 604.77,284.3 604.84,284.7 604.91,285.0 604.99,284.9 605.06,284.7 605.13,284.4 605.20,284.2 605.27,284.3 605.34,284.4 605.41,284.4 605.49,284.4 605.56,284.5 605.63,284.7 605.70,284.8 605.77,284.7 605.84,284.5 605.91,284.4 605.99,284.5 606.06,284.5 606.13,284.5 606.20,284.2 606.27,283.9 606.34,283.9 606.41,284.2 606.49,284.6 606.56,285.0 606.63,285.0 606.70,284.8 606.77,284.8 606.84,284.9 606.91,284.8 606.99,284.5 607.06,284.3 607.13,284.1 607.20,284.3 607.27,284.4 607.34,284.3 607.41,284.3 607.49,284.3 607.56,284.4 607.63,284.4 607.70,284.6 607.77,284.9 607.84,285.0 607.91,284.8 607.99,284.8 608.06,284.7 608.13,284.6 608.20,284.5 608.27,284.2 608.34,284.0 608.41,284.1 608.49,284.2 608.56,284.4 608.63,284.4 608.70,284.5 608.77,284.6 608.84,284.8 608.91,284.8 608.99,284.6 609.06,284.4 609.13,284.2 609.20,284.4 609.27,284.7 609.34,284.8 609.41,284.7 609.49,284.5 609.56,284.4 609.63,284.4 609.70,284.5 609.77,284.7 609.84,284.7 609.91,284.6 609.99,284.5 610.06,284.4 610.13,284.4 610.20,284.3 610.27,284.2 610.34,284.3 610.41,284.2 610.49,284.2 610.56,284.5 610.63,284.8 610.70,285.0 610.77,284.9 610.84,284.8 610.91,284.7 610.99,284.6 611.06,284.6 611.13,284.6 611.20,284.6 611.27,284.4 611.34,284.1 611.41,283.9 611.49,284.2 611.56,284.5 611.63,284.6 611.70,284.6 611.77,284.5 611.84,284.6 611.91,284.7 611.99,284.7 612.06,284.5 612.13,284.4 612.20,284.2 612.27,284.1 612.34,284.3 612.41,284.6 612.49,284.8 612.56,284.7 612.63,284.5 612.70,284.3 612.77,284.4 612.84,284.5 612.91,284.5 612.99,284.4 613.06,284.5 613.13,284.9 613.20,285.1 613.27,285.2 613.34,285.1 613.41,284.8 613.49,284.4 613.56,284.0 613.63,283.8 613.70,283.9 613.77,284.0 613.84,284.0 613.91,284.2 613.99,284.5 614.06,284.9 614.13,285.1 614.20,284.8 614.27,284.5 614.34,284.3 614.41,284.2 614.49,284.3 614.56,284.4 614.63,284.5 614.70,284.6 614.77,284.5 614.84,284.6 614.91,284.8 614.99,284.8 615.06,284.6 615.13,284.4 615.20,284.3 615.27,284.4 615.34,284.6 615.41,284.8 615.49,284.7 615.56,284.6 615.63,284.5 615.70,284.5 615.77,284.5 615.84,284.5 615.91,284.5 615.99,284.4 616.06,284.2 616.13,284.0 616.20,284.2 616.27,284.5 616.34,284.5 616.41,284.5 616.49,284.6 616.56,284.8 616.63,284.6 616.70,284.4 616.77,284.4 616.84,284.5 616.91,284.5 616.99,284.6 617.06,284.6 617.13,284.5 617.20,284.5 617.27,284.5 617.34,284.5 617.41,284.5 617.49,284.4 617.56,284.4 617.63,284.5 617.70,284.7 617.77,284.7 617.84,284.6 617.91,284.6 617.99,284.5 618.06,284.5 618.13,284.4 618.20,284.2 618.27,284.1 618.34,284.2 618.41,284.5 618.49,284.8 618.56,284.8 618.63,284.7 618.70,284.6 618.77,284.5 618.84,284.5 618.91,284.5 618.99,284.5 619.06,284.5 619.13,284.4 619.20,284.3 619.27,284.2 619.34,284.1 619.41,284.3 619.49,284.6 619.56,284.8 619.63,284.6 619.70,284.5 619.77,284.5 619.84,284.6 619.91,284.6 619.99,284.6 620.06,284.5 620.13,284.4 620.20,284.4 620.27,284.5 620.34,284.7 620.41,284.5 620.49,284.3 620.56,284.3 620.63,284.5 620.70,284.6 620.77,284.6 620.84,284.5 620.91,284.4 620.99,284.3 621.06,284.5 621.13,284.6 621.20,284.6 621.27,284.4 621.34,284.4 621.41,284.5 621.49,284.6 621.56,284.7 621.63,284.7 621.70,284.6 621.77,284.5 621.84,284.4 621.91,284.3 621.99,284.3 622.06,284.4 622.13,284.4 622.20,284.5 622.27,284.5 622.34,284.6 622.41,284.7 622.49,284.6 622.56,284.5 622.63,284.5 622.70,284.5 622.77,284.5 622.84,284.5 622.91,284.4 622.99,284.3 623.06,284.3 623.13,284.4 623.20,284.5 623.27,284.6 623.34,284.5 623.41,284.6 623.49,284.6 623.56,284.6 623.63,284.5 623.70,284.3 623.77,284.1 623.84,284.3 623.91,284.5 623.99,284.7 624.06,284.8 624.13,284.8 624.20,284.9 624.27,284.8 624.34,284.5 624.41,284.3 624.49,284.1 624.56,284.1 624.63,284.1 624.70,284.2 624.77,284.3 624.84,284.3 624.91,284.5 624.99,284.5 625.06,284.7 625.13,284.8 625.20,284.9 625.27,284.8 625.34,284.7 625.41,284.6 625.49,284.6 625.56,284.6 625.63,284.5 625.70,284.4 625.77,284.3 625.84,284.1 625.91,284.0 625.99,284.2 626.06,284.5 626.13,284.6 626.20,284.6 626.27,284.6 626.34,284.5 626.41,284.5 626.49,284.5 626.56,284.5 626.63,284.6 626.70,284.5 626.77,284.5 626.84,284.4 626.91,284.5 626.99,284.5 627.06,284.6 627.13,284.7 627.20,284.6 627.27,284.5 627.34,284.3 627.41,284.4 627.49,284.5 627.56,284.6 627.63,284.5 627.70,284.5 627.77,284.2 627.84,284.2 627.91,284.5 627.99,284.7 628.06,284.7 628.13,284.5 628.20,284.4 628.27,284.3 628.34,284.5 628.41,284.5 628.49,284.5 628.56,284.6 628.63,284.9 628.70,285.0 628.77,284.7 628.84,284.4 628.91,284.2 628.99,284.3 629.06,284.4 629.13,284.5 629.20,284.4 629.27,284.3 629.34,284.2 629.41,284.3 629.49,284.5 629.56,284.6 629.63,284.8 629.70,284.9 629.77,284.9 629.84,284.6 629.91,284.5 629.99,284.3 630.06,284.3 630.13,284.4 630.20,284.5 630.27,284.5 630.34,284.5 630.41,284.4 630.49,284.3 630.56,284.5 630.63,284.8 630.70,285.2 630.77,285.0 630.84,284.6 630.91,284.5 630.99,284.5 631.06,284.5 631.13,284.5 631.20,284.5 631.27,284.5 631.34,284.5 631.41,284.4 631.49,284.3 631.56,284.4 631.63,284.5 631.70,284.6 631.77,284.6 631.84,284.4 631.91,284.2 631.99,284.3 632.06,284.5 632.13,284.5 632.20,284.5 632.27,284.4 632.34,284.5 632.41,284.6 632.49,284.7 632.56,284.7 632.63,284.5 632.70,284.3 632.77,284.4 632.84,284.5 632.91,284.6 632.99,284.6 633.06,284.6 633.13,284.5 633.20,284.5 633.27,284.6 633.34,284.7 633.41,284.5 633.49,284.4 633.56,284.4 633.63,284.5 633.70,284.4 633.77,284.3 633.84,284.2 633.91,284.4 633.99,284.5 634.06,284.5 634.13,284.6 634.20,284.7 634.27,284.8 634.34,284.7 634.41,284.5 634.49,284.3 634.56,284.3 634.63,284.5 634.70,284.7 634.77,284.8 634.84,284.7 634.91,284.5 634.99,284.5 635.06,284.4 635.13,284.3 635.20,284.3 635.27,284.3 635.34,284.3 635.41,284.2 635.49,284.5 635.56,284.7 635.63,284.7 635.70,284.5 635.77,284.5 635.84,284.7 635.91,285.1 635.99,285.0 636.06,284.5 636.13,284.2 636.20,284.0 636.27,284.3 636.34,284.4 636.41,284.4 636.49,284.4 636.56,284.5 636.63,284.5 636.70,284.5 636.77,284.5 636.84,284.6 636.91,284.8 636.99,284.9 637.06,284.8 637.13,284.5 637.20,284.4 637.27,284.3 637.34,284.1 637.41,284.0 637.49,284.4 637.56,284.6 637.63,284.8 637.70,284.9 637.77,284.7 637.84,284.5 637.91,284.5 637.99,284.5 638.06,284.3 638.13,284.2 638.20,284.2 638.27,284.3 638.34,284.5 638.41,284.6 638.49,284.6 638.56,284.5 638.63,284.5 638.70,284.6 638.77,284.5 638.84,284.5 638.91,284.6 638.99,284.5 639.06,284.4 639.13,284.3 639.20,284.4 639.27,284.6 639.34,284.7 639.41,284.7 639.49,284.7 639.56,284.6 639.63,284.5 639.70,284.5 639.77,284.5 639.84,284.4 639.91,284.3 639.99,284.2 640.06,284.3 640.13,284.4 640.20,284.5 640.27,284.4 640.34,284.4 640.41,284.3 640.49,284.3 640.56,284.5 640.63,284.5 640.70,284.7 640.77,285.0 640.84,285.0 640.91,284.9 640.99,284.8 641.06,284.6 641.13,284.5 641.20,284.3 641.27,284.2 641.34,284.2 641.41,284.3 641.49,284.5 641.56,284.5 641.63,284.5 641.70,284.5 641.77,284.6 641.84,284.7 641.91,284.6 641.99,284.5 642.06,284.4 642.13,284.4 642.20,284.5 642.27,284.6 642.34,284.5 642.41,284.4 642.49,284.4 642.56,284.4 642.63,284.5 642.70,284.5 642.77,284.6 642.84,284.5 642.91,284.4 642.99,284.5 643.06,284.6 643.13,284.8 643.20,284.6 643.27,284.3 643.34,284.2 643.41,284.4 643.49,284.5 643.56,284.5 643.63,284.5 643.70,284.4 643.77,284.4 643.84,284.5 643.91,284.6 643.99,284.7 644.06,284.7 644.13,284.6 644.20,284.5 644.27,284.5 644.34,284.4 644.41,284.4 644.49,284.5 644.56,284.6 644.63,284.7 644.70,284.5 644.77,284.4 644.84,284.4 644.91,284.5 644.99,284.5 645.06,284.5 645.13,284.5 645.20,284.5 645.27,284.5 645.34,284.4 645.41,284.4 645.49,284.5 645.56,284.6 645.63,284.7 645.70,284.6 645.77,284.4 645.84,284.2 645.91,284.2 645.99,284.5 646.06,284.6 646.13,284.7 646.20,284.8 646.27,284.6 646.34,284.5 646.41,284.4 646.49,284.3 646.56,284.3 646.63,284.4 646.70,284.5 646.77,284.5 646.84,284.5 646.91,284.5 646.99,284.6 647.06,284.7 647.13,284.8 647.20,284.6 647.27,284.4 647.34,284.2 647.41,284.4 647.49,284.5 647.56,284.6 647.63,284.5 647.70,284.4 647.77,284.2 647.84,284.4 647.91,284.5 647.99,284.6 648.06,284.6 648.13,284.7 648.20,284.7 648.27,284.5 648.34,284.3 648.41,284.4 648.49,284.6 648.56,284.7 648.63,284.6 648.70,284.4 648.77,284.3 648.84,284.4 648.91,284.5 648.99,284.6 649.06,284.5 649.13,284.5 649.20,284.5 649.27,284.5 649.34,284.6 649.41,284.6 649.49,284.6 649.56,284.5 649.63,284.5 649.70,284.5 649.77,284.5 649.84,284.5 649.91,284.4 649.99,284.5 650.06,284.6 650.13,284.6 650.20,284.4 650.27,284.3 650.34,284.4 650.41,284.5 650.49,284.5 650.56,284.6 650.63,284.6 650.70,284.5 650.77,284.4 650.84,284.5 650.91,284.5 650.99,284.4 651.06,284.3 651.13,284.4 651.20,284.5 651.27,284.6 651.34,284.7 651.41,284.7 651.49,284.6 651.56,284.6 651.63,284.7 651.70,284.7 651.77,284.6 651.84,284.5 651.91,284.4 651.99,284.2 652.06,284.2 652.13,284.4 652.20,284.5 652.27,284.6 652.34,284.6 652.41,284.6 652.49,284.6 652.56,284.7 652.63,284.6 652.70,284.4 652.77,284.4 652.84,284.5 652.91,284.5 652.99,284.4 653.06,284.0 653.13,284.0 653.20,284.4 653.27,284.6 653.34,284.7 653.41,284.7 653.49,284.6 653.56,284.6 653.63,284.7 653.70,284.5 653.77,284.4 653.84,284.4 653.91,284.5 653.99,284.6 654.06,284.6 654.13,284.5 654.20,284.5 654.27,284.6 654.34,284.5 654.41,284.4 654.49,284.4 654.56,284.4 654.63,284.4 654.70,284.5 654.77,284.5 654.84,284.6 654.91,284.6 654.99,284.7 655.06,284.5 655.13,284.5 655.20,284.6 655.27,284.6 655.34,284.6 655.41,284.5 655.49,284.5 655.56,284.4 655.63,284.2 655.70,284.1 655.77,284.4 655.84,284.6 655.91,284.7 655.99,284.6 656.06,284.5 656.13,284.5 656.20,284.5 656.27,284.5 656.34,284.5 656.41,284.5 656.49,284.2 656.56,284.1 656.63,284.5 656.70,284.7 656.77,284.8 656.84,284.7 656.91,284.6 656.99,284.5 657.06,284.5 657.13,284.5 657.20,284.5 657.27,284.4 657.34,284.2 657.41,284.2 657.49,284.3 657.56,284.5 657.63,284.7 657.70,284.6 657.77,284.6 657.84,284.5 657.91,284.5 657.99,284.5 658.06,284.5 658.13,284.5 658.20,284.5 658.27,284.5 658.34,284.5 658.41,284.4 658.49,284.3 658.56,284.3 658.63,284.5 658.70,284.7 658.77,284.6 658.84,284.5 658.91,284.6 658.99,284.8 659.06,284.8 659.13,284.6 659.20,284.5 659.27,284.4 659.34,284.4 659.41,284.4 659.49,284.4 659.56,284.5 659.63,284.6 659.70,284.5 659.77,284.4 659.84,284.3 659.91,284.3 659.99,284.3 660.06,284.4 660.13,284.4 660.20,284.4 660.27,284.4 660.34,284.5 660.41,284.5 660.49,284.6 660.56,284.6 660.63,284.5 660.70,284.5 660.77,284.7 660.84,284.7 660.91,284.7 660.99,284.8 661.06,284.6 661.13,284.4 661.20,284.3 661.27,284.4 661.34,284.4 661.41,284.4 661.49,284.3 661.56,284.3 661.63,284.4 661.70,284.6 661.77,284.7 661.84,284.7 661.91,284.6 661.99,284.4 662.06,284.4 662.13,284.6 662.20,285.0 662.27,284.8 662.34,284.5 662.41,284.3 662.49,284.4 662.56,284.5 662.63,284.5 662.70,284.4 662.77,284.4 662.84,284.5 662.91,284.5 662.99,284.5 663.06,284.5 663.13,284.6 663.20,284.6 663.27,284.5 663.34,284.5 663.41,284.4 663.49,284.2 663.56,284.2 663.63,284.3 663.70,284.5 663.77,284.5 663.84,284.6 663.91,284.6 663.99,284.6 664.06,284.6 664.13,284.6 664.20,284.7 664.27,284.6 664.34,284.5 664.41,284.5 664.49,284.4 664.56,284.4 664.63,284.4 664.70,284.5 664.77,284.6 664.84,284.6 664.91,284.5 664.99,284.4 665.06,284.2 665.13,284.2 665.20,284.5 665.27,284.6 665.34,284.8 665.41,284.9 665.49,284.8 665.56,284.6 665.63,284.5 665.70,284.5 665.77,284.4 665.84,284.4 665.91,284.4 665.99,284.4 666.06,284.4 666.13,284.6 666.20,284.9 666.27,284.6 666.34,284.3 666.41,284.2 666.49,284.3 666.56,284.5 666.63,284.6 666.70,284.8 666.77,284.9 666.84,284.7 666.91,284.4 666.99,284.2 667.06,284.3 667.13,284.4 667.20,284.5 667.27,284.6 667.34,284.7 667.41,284.6 667.49,284.5 667.56,284.3 667.63,284.2 667.70,284.3 667.77,284.4 667.84,284.5 667.91,284.6 667.99,284.7 668.06,284.7 668.13,284.7 668.20,284.7 668.27,284.5 668.34,284.4 668.41,284.4 668.49,284.4 668.56,284.5 668.63,284.5 668.70,284.5 668.77,284.5 668.84,284.6 668.91,284.7 668.99,284.6 669.06,284.4 669.13,284.1 669.20,284.1 669.27,284.3 669.34,284.4 669.41,284.5 669.49,284.6 669.56,284.7 669.63,284.7 669.70,284.6 669.77,284.5 669.84,284.5 669.91,284.5 669.99,284.7 670.06,284.8 670.13,284.6 670.20,284.4 670.27,284.3 670.34,284.2 670.41,284.1 670.49,284.4 670.56,284.7 670.63,284.9 670.70,284.7 670.77,284.6 670.84,284.5 670.91,284.5 670.99,284.4 671.06,284.2 671.13,284.2 671.20,284.2 671.27,284.4 671.34,284.5 671.41,284.6 671.49,284.6 671.56,284.7 671.63,284.8 671.70,284.9 671.77,284.8 671.84,284.6 671.91,284.5 671.99,284.4 672.06,283.8 672.13,282.7 672.20,281.6 672.27,282.4 672.34,283.8 672.41,284.2 672.49,284.5 672.56,284.6 672.63,284.6 672.70,284.8 672.77,285.4 672.84,285.4 672.91,284.9 672.99,285.2 673.06,285.1 673.13,284.4 673.20,283.9 673.27,284.3 673.34,284.7 673.41,284.7 673.49,284.1 673.56,283.3 673.63,283.2 673.70,284.0 673.77,284.9 673.84,285.9 673.91,285.8 673.99,285.3 674.06,285.2 674.13,284.9 674.20,284.3 674.27,284.0 674.34,283.8 674.41,283.1 674.49,282.9 674.56,283.9 674.63,284.7 674.70,285.3 674.77,285.3 674.84,285.0 674.91,284.8 674.99,284.7 675.06,284.6 675.13,284.5 675.20,284.9 675.27,285.2 675.34,284.7 675.41,284.1 675.49,283.7 675.56,283.8 675.63,284.1 675.70,284.3 675.77,284.2 675.84,284.1 675.91,284.1 675.99,284.4 676.06,291.5 676.13,300.9 676.20,295.2 676.27,284.7 676.34,278.3 676.41,277.8 676.49,284.3 676.56,286.3 676.63,281.1 676.70,273.0 676.77,278.4 676.84,284.4 676.91,284.5 676.99,282.5 677.06,283.7 677.13,288.0 677.20,295.3 677.27,299.0 677.34,295.4 677.41,286.8 677.49,282.3 677.56,279.1 677.63,277.4 677.70,279.8 677.77,284.4 677.84,291.5 677.91,295.7 677.99,288.0 678.06,283.7 678.13,284.4 678.20,283.8 678.27,275.5 678.34,269.3 678.41,278.2 678.49,286.4 678.56,288.2 678.63,284.4 678.70,282.4 678.77,281.2 678.84,280.3 678.91,284.5 678.99,294.6 679.06,291.3 679.13,287.8 679.20,286.0 679.27,286.1 679.34,285.3 679.41,284.4 679.49,282.9 679.56,281.0 679.63,280.5 679.70,282.7 679.77,284.6 679.84,283.2 679.91,279.3 679.99,281.8 680.06,285.3 680.13,288.4 680.20,290.1 680.27,290.6 680.34,288.0 680.41,284.5 680.49,282.9 680.56,281.3 680.63,278.6 680.70,277.6 680.77,280.2 680.84,284.5 680.91,289.4 680.99,290.8 681.06,289.0 681.13,287.1 681.20,285.1 681.27,283.8 681.34,282.6 681.41,282.0 681.49,281.6 681.56,282.3 681.63,284.9 681.70,288.5 681.77,286.9 681.84,284.5 681.91,284.8 681.99,287.3 682.06,289.7 682.13,289.9 682.20,286.9 682.27,284.4 682.34,281.2 682.41,275.7 682.49,273.2 682.56,278.4 682.63,283.6 682.70,284.5 682.77,284.1 682.84,283.1 682.91,284.3 682.99,287.7 683.06,290.2 683.13,286.3 683.20,283.3 683.27,281.5 683.34,282.9 683.41,285.3 683.49,290.2 683.56,292.7 683.63,289.0 683.70,284.9 683.77,284.1 683.84,284.3 683.91,284.6 683.99,285.4 684.06,285.2 684.13,283.0 684.20,277.2 684.27,275.7 684.34,280.4 684.41,284.3 684.49,286.5 684.56,287.2 684.63,284.2 684.70,280.6 684.77,282.0 684.84,284.8 684.91,286.9 684.99,287.8 685.06,286.6 685.13,285.9 685.20,288.1 685.27,289.0 685.34,284.7 685.41,281.9 685.49,282.9 685.56,284.7 685.63,285.3 685.70,284.5 685.77,284.2 685.84,284.4 685.91,283.2 685.99,279.3 686.06,277.4 686.13,280.3 686.20,284.4 686.27,287.6 686.34,286.9 686.41,284.1 686.49,283.9 686.56,286.4 686.63,287.7 686.70,285.2 686.77,284.4 686.84,284.9 686.91,286.3 686.99,287.1 687.06,285.5 687.13,283.6 687.20,282.6 687.27,283.5 687.34,284.6 687.41,285.1 687.49,284.5 687.56,283.1 687.63,282.2 687.70,281.8 687.77,280.2 687.84,279.7 687.91,283.2 687.99,286.2 688.06,288.4 688.13,289.0 688.20,289.0 688.27,287.2 688.34,284.6 688.41,282.9 688.49,283.1 688.56,285.2 688.63,287.3 688.70,285.2 688.77,282.7 688.84,282.5 688.91,284.5 688.99,285.9 689.06,286.3 689.13,284.7 689.20,282.5 689.27,283.3 689.34,285.5 689.41,285.7 689.49,284.5 689.56,284.2 689.63,284.1 689.70,284.1 689.77,284.4 689.84,284.1 689.91,283.5 689.99,283.6 690.06,284.4 690.13,284.6 690.20,284.1 690.27,283.2 690.34,284.2 690.41,285.5 690.49,286.0 690.56,285.5 690.63,285.7 690.70,286.2 690.77,285.6 690.84,284.6 690.91,284.2 690.99,284.5 691.06,285.1 691.13,284.6 691.20,283.7 691.27,283.4 691.34,283.6 691.41,282.6 691.49,282.6 691.56,284.7 691.63,286.8 691.70,286.0 691.77,284.9 691.84,284.8 691.91,284.6 691.99,284.5 692.06,284.6 692.13,284.5 692.20,283.3 692.27,281.8 692.34,281.5 692.41,282.9 692.49,284.5 692.56,285.4 692.63,284.7 692.70,283.7 692.77,283.6 692.84,285.7 692.91,290.9 692.99,291.5 693.06,285.2 693.13,280.7 693.20,280.3 693.27,283.3 693.34,284.5 693.41,284.9 693.49,285.2 693.56,284.3 693.63,283.3 693.70,284.5 693.77,286.3 693.84,286.0 693.91,283.9 693.99,280.9 694.06,281.1 694.13,284.4 694.20,286.7 694.27,287.3 694.34,286.9 694.41,285.8 694.49,284.6 694.56,283.4 694.63,282.4 694.70,283.1 694.77,284.5 694.84,285.2 694.91,285.1 694.99,285.2 695.06,286.0 695.13,285.8 695.20,285.1 695.27,284.9 695.34,284.4 695.41,283.1 695.49,283.3 695.56,284.7 695.63,286.6 695.70,286.1 695.77,284.3 695.84,282.6 695.91,282.0 695.99,283.1 696.06,284.4 696.13,285.0 696.20,284.8 696.27,284.5 696.34,284.9 696.41,284.9 696.49,284.7 696.56,284.8 696.63,284.2 696.70,281.7 696.77,279.3 696.84,278.9 696.91,281.3 696.99,284.1 697.06,285.1 697.13,285.9 697.20,287.0 697.27,288.1 697.34,287.9 697.41,287.9 697.49,287.7 697.56,285.1 697.63,283.4 697.70,282.8 697.77,283.5 697.84,284.5 697.91,285.8 697.99,286.5 698.06,285.5 698.13,284.0 698.20,282.4 698.27,282.3 698.34,283.1 698.41,283.3 698.49,283.4 698.56,284.5 698.63,285.3 698.70,284.9 698.77,284.7 698.84,284.5 698.91,284.4 698.99,284.8 699.06,286.0 699.13,287.5 699.20,288.5 699.27,286.6 699.34,283.8 699.41,281.0 699.49,280.6 699.56,280.5 699.63,281.5 699.70,283.9 699.77,285.3 699.84,286.5 699.91,287.0 699.99,286.7 700.06,285.9 700.13,285.2 700.20,284.5 700.27,283.3 700.34,281.4 700.41,280.9 700.49,283.2 700.56,284.7 700.63,284.8 700.70,284.6 700.77,285.6 700.84,287.5 700.91,288.6 700.99,287.3 701.06,284.4 701.13,281.5 701.20,281.1 701.27,282.8 701.34,283.4 701.41,282.8 701.49,283.1 701.56,284.5 701.63,286.0 701.70,285.7 701.77,285.2 701.84,286.5 701.91,286.5 701.99,284.3 702.06,281.9 702.13,282.8 702.20,284.4 702.27,284.8 702.34,284.9 702.41,284.5 702.49,283.9 702.56,284.1 702.63,284.6 702.70,285.3 702.77,285.2 702.84,284.6 702.91,284.6 702.99,284.9 703.06,285.0 703.13,284.6 703.20,284.2 703.27,284.5 703.34,285.5 703.41,286.4 703.49,286.0 703.56,284.6 703.63,283.1 703.70,281.6 703.77,282.0 703.84,283.7 703.91,284.5 703.99,284.2 704.06,283.8 704.13,284.5 704.20,286.3 704.27,286.5 704.34,284.2 704.41,281.7 704.49,282.2 704.56,284.2 704.63,285.6 704.70,287.8 704.77,289.0 704.84,286.2 704.91,283.7 704.99,282.6 705.06,283.3 705.13,283.4 705.20,283.3 705.27,283.8 705.34,284.4 705.41,284.6 705.49,285.0 705.56,286.2 705.63,287.8 705.70,287.0 705.77,284.5 705.84,282.3 705.91,282.6 705.99,284.6 706.06,285.7 706.13,284.7 706.20,283.0 706.27,282.7 706.34,284.4 706.41,285.6 706.49,286.4 706.56,286.2 706.63,284.9 706.70,283.7 706.77,282.5 706.84,282.4 706.91,283.8 706.99,284.7 707.06,284.6 707.13,284.5 707.20,284.9 707.27,284.6 707.34,282.7 707.41,281.2 707.49,283.1 707.56,284.7 707.63,285.8 707.70,286.3 707.77,285.9 707.84,285.1 707.91,284.6 707.99,284.6 708.06,285.1 708.13,285.9 708.20,287.3 708.27,287.2 708.34,285.2 708.41,283.9 708.49,283.6 708.56,283.4 708.63,281.7 708.70,280.9 708.77,283.8 708.84,285.6 708.91,285.9 708.99,285.2 709.06,284.8 709.13,284.4 709.20,283.1 709.27,281.5 709.34,281.2 709.41,282.6 709.49,284.9 709.56,287.7 709.63,286.3 709.70,284.3 709.77,284.0 709.84,284.5 709.91,284.4 709.99,284.3 710.06,284.5 710.13,284.4 710.20,284.7 710.27,286.0 710.34,286.4 710.41,285.2 710.49,284.5 710.56,284.5 710.63,284.6 710.70,284.7 710.77,284.9 710.84,284.5 710.91,284.5 710.99,284.7 711.06,284.5 711.13,283.7 711.20,283.1 711.27,283.3 711.34,283.9 711.41,284.3 711.49,284.5 711.56,284.7 711.63,285.0 711.70,284.9 711.77,285.6 711.84,287.8 711.91,287.5 711.99,284.9 712.06,284.1 712.13,284.0 712.20,282.8 712.27,280.7 712.34,280.4 712.41,282.4 712.49,285.2 712.56,289.5 712.63,290.1 712.70,286.4 712.77,284.0 712.84,282.8 712.91,283.9 712.99,285.1 713.06,285.7 713.13,285.9 713.20,286.1 713.27,284.5 713.34,280.5 713.41,278.3 713.49,279.0 713.56,279.7 713.63,282.3 713.70,284.9 713.77,287.3 713.84,288.7 713.91,288.3 713.99,287.4 714.06,286.3 714.13,284.6 714.20,283.0 714.27,282.2 714.34,283.2 714.41,284.2 714.49,284.0 714.56,283.0 714.63,283.5 714.70,284.9 714.77,286.4 714.84,286.5 714.91,285.8 714.99,284.9 715.06,283.7 715.13,282.5 715.20,284.3 715.27,286.6 715.34,287.1 715.41,285.5 715.49,284.6 715.56,284.5 715.63,284.7 715.70,284.5 715.77,283.5 715.84,282.9 715.91,283.2 715.99,283.4 716.06,283.1 716.13,283.2 716.20,283.5 716.27,284.0 716.34,284.6 716.41,285.3 716.49,286.0 716.56,287.0 716.63,287.1 716.70,285.9 716.77,284.5 716.84,283.0 716.91,282.0 716.99,283.3 717.06,285.1 717.13,286.9 717.20,286.7 717.27,284.8 717.34,283.3 717.41,282.5 717.49,282.3 717.56,282.7 717.63,284.5 717.70,287.9 717.77,291.3 717.84,289.5 717.91,284.5 717.99,281.1 718.06,281.6 718.13,282.7 718.20,282.5 718.27,283.4 718.34,284.6 718.41,285.6 718.49,286.4 718.56,285.5 718.63,284.5 718.70,284.5 718.77,284.6 718.84,284.4 718.91,283.2 718.99,282.1 719.06,282.1 719.13,283.8 719.20,285.5 719.27,286.5 719.34,285.4 719.41,284.6 719.49,284.3 719.56,283.3 719.63,282.9 719.70,283.6 719.77,284.5 719.84,285.2 719.91,286.6 719.99,287.7 720.06,286.4 720.13,284.9 720.20,284.0 720.27,283.6 720.34,284.1 720.41,284.5 720.49,285.8 720.56,287.9 720.63,287.4 720.70,285.0 720.77,284.1 720.84,283.2 720.91,281.7 720.99,281.0 721.06,282.1 721.13,282.9 721.20,282.5 721.27,282.9 721.34,284.7 721.41,287.6 721.49,288.4 721.56,285.9 721.63,284.4 721.70,283.8 721.77,284.0 721.84,284.3 721.91,284.5 721.99,284.5 722.06,284.4 722.13,283.8 722.20,282.6 722.27,282.3 722.34,284.2 722.41,286.5 722.49,287.8 722.56,285.8 722.63,284.6 722.70,284.8 722.77,285.7 722.84,286.2 722.91,286.0 722.99,285.1 723.06,284.2 723.13,283.0 723.20,282.6 723.27,282.6 723.34,282.2 723.41,282.8 723.49,284.5 723.56,285.7 723.63,286.5 723.70,286.5 723.77,285.1 723.84,284.5 723.91,284.8 723.99,285.4 724.06,284.7 724.13,283.9 724.20,283.0 724.27,283.3 724.34,284.5 724.41,285.4 724.49,285.1 724.56,284.5 724.63,284.5 724.70,285.0 724.77,285.4 724.84,285.0 724.91,283.8 724.99,281.7 725.06,281.8 725.13,283.0 725.20,283.3 725.27,284.1 725.34,285.6 725.41,287.6 725.49,286.8 725.56,284.4 725.63,281.7 725.70,281.1 725.77,283.1 725.84,284.7 725.91,287.1 725.99,288.8 726.06,288.0 726.13,285.7 726.20,284.2 726.27,282.4 726.34,281.2 726.41,282.5 726.49,284.1 726.56,284.4 726.63,284.4 726.70,285.2 726.77,287.3 726.84,287.8 726.91,285.6 726.99,284.3 727.06,283.7 727.13,283.1 727.20,283.0 727.27,284.4 727.34,285.7 727.41,285.6 727.49,284.1 727.56,282.3 727.63,283.4 727.70,284.8 727.77,284.8 727.84,284.1 727.91,284.4 727.99,285.2 728.06,285.7 728.13,285.8 728.20,285.4 728.27,284.4 728.34,283.4 728.41,283.4 728.49,283.7 728.56,283.6 728.63,284.1 728.70,285.3 728.77,286.7 728.84,286.2 728.91,284.7 728.99,283.7 729.06,283.2 729.13,283.6 729.20,284.1 729.27,284.3 729.34,284.3 729.41,284.6 729.49,284.9 729.56,284.9 729.63,284.8 729.70,285.0 729.77,285.6 729.84,285.4 729.91,284.5 729.99,283.5 730.06,283.3 730.13,284.3 730.20,285.1 730.27,285.7 730.34,285.9 730.41,285.6 730.49,284.5 730.56,283.8 730.63,283.1 730.70,282.5 730.77,283.1 730.84,284.0 730.91,284.0 730.99,283.8 731.06,284.2 731.13,284.8 731.20,285.4 731.27,285.8 731.34,286.2 731.41,286.1 731.49,285.3 731.56,284.5 731.63,283.5 731.70,282.2 731.77,282.7 731.84,284.3 731.91,285.0 731.99,285.0 732.06,284.7 732.13,284.8 732.20,285.0 732.27,285.0 732.34,285.3 732.41,285.3 732.49,284.4 732.56,283.0 732.63,282.7 732.70,283.1 732.77,283.8 732.84,284.8 732.91,286.6 732.99,287.0 733.06,285.4 733.13,283.9 733.20,282.8 733.27,283.3 733.34,283.9 733.41,283.4 733.49,282.2 733.56,282.0 733.63,283.6 733.70,285.2 733.77,287.0 733.84,287.6 733.91,287.0 733.99,286.2 734.06,285.2 734.13,284.5 734.20,284.2 734.27,283.8 734.34,283.4 734.41,283.9 734.49,284.5 734.56,285.4 734.63,286.3 734.70,285.9 734.77,284.9 734.84,284.1 734.91,281.8 734.99,280.6 735.06,283.2 735.13,285.9 735.20,288.1 735.27,286.2 735.34,284.2 735.41,283.7 735.49,284.3 735.56,284.4 735.63,283.9 735.70,284.1 735.77,284.7 735.84,284.9 735.91,284.7 735.99,284.9 736.06,285.0 736.13,284.4 736.20,282.6 736.27,281.6 736.34,283.7 736.41,285.4 736.49,285.9 736.56,284.5 736.63,283.4 736.70,283.6 736.77,284.5 736.84,285.3 736.91,285.7 736.99,285.6 737.06,285.8 737.13,285.4 737.20,284.5 737.27,284.3 737.34,284.4 737.41,284.4 737.49,283.6 737.56,283.6 737.63,284.7 737.70,285.6 737.77,285.2 737.84,284.6 737.91,284.4 737.99,283.5 738.06,282.0 738.13,282.1 738.20,284.0 738.27,284.9 738.34,285.0 738.41,284.5 738.49,284.4 738.56,284.5 738.63,285.1 738.70,285.3 738.77,284.8 738.84,284.5 738.91,284.4 738.99,284.2 739.06,284.2 739.13,284.5 739.20,284.7 739.27,284.5 739.34,284.3 739.41,284.4 739.49,285.1 739.56,286.2 739.63,286.5 739.70,285.5 739.77,284.3 739.84,283.4 739.91,283.0 739.99,282.9 740.06,283.9 740.13,284.9 740.20,285.7 740.27,285.9 740.34,286.2 740.41,286.3 740.49,285.3 740.56,284.0 740.63,282.8 740.70,283.3 740.77,284.3 740.84,284.8 740.91,285.2 740.99,284.9 741.06,284.1 741.13,282.6 741.20,282.0 741.27,282.0 741.34,282.3 741.41,283.5 741.49,284.5 741.56,285.3 741.63,286.3 741.70,286.6 741.77,286.1 741.84,285.2 741.91,284.6 741.99,284.4 742.06,284.2 742.13,283.9 742.20,284.1 742.27,284.5 742.34,284.6 742.41,284.4 742.49,284.0 742.56,284.1 742.63,284.5 742.70,284.9 742.77,285.2 742.84,285.8 742.91,286.2 742.99,284.8 743.06,284.1 743.13,283.7 743.20,283.1 743.27,283.0 743.34,283.5 743.41,283.9 743.49,284.0 743.56,284.2 743.63,284.8 743.70,285.9 743.77,285.6 743.84,285.1 743.91,285.5 743.99,286.1 744.06,285.2 744.13,284.4 744.20,284.7 744.27,285.2 744.34,284.5 744.41,283.6 744.49,284.0 744.56,283.8 744.63,282.3 744.70,282.4 744.77,284.3 744.84,285.4 744.91,285.6 744.99,285.0 745.06,284.6 745.13,284.3 745.20,284.3 745.27,284.5 745.34,284.5 745.41,284.4 745.49,284.5 745.56,284.8 745.63,285.2 745.70,285.1 745.77,285.1 745.84,285.8 745.91,285.6 745.99,284.4 746.06,283.2 746.13,282.4 746.20,282.6 746.27,283.7 746.34,284.4 746.41,284.6 746.49,284.9 746.56,284.7 746.63,284.7 746.70,285.0 746.77,284.8 746.84,283.3 746.91,280.8 746.99,282.3 747.06,285.2 747.13,288.5 747.20,288.3 747.27,285.1 747.34,284.0 747.41,284.0 747.49,283.6 747.56,282.8 747.63,283.0 747.70,283.7 747.77,284.5 747.84,285.8 747.91,287.6 747.99,288.6 748.06,287.2 748.13,284.6 748.20,283.4 748.27,283.3 748.34,284.1 748.41,284.6 748.49,284.6 748.56,284.4 748.63,284.0 748.70,283.9 748.77,283.6 748.84,283.5 748.91,284.3 748.99,285.0 749.06,285.1 749.13,284.7 749.20,284.6 749.27,284.9 749.34,284.9 749.41,284.5 749.49,284.5 749.56,284.5 749.63,284.3 749.70,283.2 749.77,282.5 749.84,283.5 749.91,284.5 749.99,285.4 750.06,286.0 750.13,285.5 750.20,284.5 750.27,284.4 750.34,284.6 750.41,284.6 750.49,284.9 750.56,285.8 750.63,285.8 750.70,284.8 750.77,284.1 750.84,283.8 750.91,284.0 750.99,284.2 751.06,283.9 751.13,283.3 751.20,283.3 751.27,283.4 751.34,283.8 751.41,284.9 751.49,287.0 751.56,287.2 751.63,285.3 751.70,284.4 751.77,284.3 751.84,284.9 751.91,285.5 751.99,284.2 752.06,281.1 752.13,280.2 752.20,281.9 752.27,283.3 752.34,283.9 752.41,284.1 752.49,284.3 752.56,285.3 752.63,288.1 752.70,289.4 752.77,287.6 752.84,285.1 752.91,284.3 752.99,284.0 753.06,284.1 753.13,284.5 753.20,284.9 753.27,284.9 753.34,285.1 753.41,285.2 753.49,284.7 753.56,284.1 753.63,283.5 753.70,283.3 753.77,283.5 753.84,283.9 753.91,284.3 753.99,284.7 754.06,285.5 754.13,285.1 754.20,283.8 754.27,282.9 754.34,284.0 754.41,284.5 754.49,284.4 754.56,284.2 754.63,284.4 754.70,284.7 754.77,284.7 754.84,284.7 754.91,284.9 754.99,285.0 755.06,284.7 755.13,284.6 755.20,284.7 755.27,284.6 755.34,284.1 755.41,283.8 755.49,283.9 755.56,284.2 755.63,284.8 755.70,285.8 755.77,285.5 755.84,284.5 755.91,283.5 755.99,282.9 756.06,283.3 756.13,284.4 756.20,285.3 756.27,285.7 756.34,285.3 756.41,284.9 756.49,284.6 756.56,284.1 756.63,283.4 756.70,283.9 756.77,284.5 756.84,284.5 756.91,284.5 756.99,284.6 757.06,284.6 757.13,284.5 757.20,285.1 757.27,286.5 757.34,287.8 757.41,287.7 757.49,286.0 757.56,284.5 757.63,282.5 757.70,279.5 757.77,279.5 757.84,282.4 757.91,284.4 757.99,285.0 758.06,285.0 758.13,284.8 758.20,284.6 758.27,284.4 758.34,284.4 758.41,284.9 758.49,285.4 758.56,285.2 758.63,284.8 758.70,285.1 758.77,285.2 758.84,284.5 758.91,284.1 758.99,283.7 759.06,283.0 759.13,281.8 759.20,281.9 759.27,283.9 759.34,284.9 759.41,285.0 759.49,284.9 759.56,284.8 759.63,284.8 759.70,285.3 759.77,287.3 759.84,289.6 759.91,289.6 759.99,287.6 760.06,285.2 760.13,282.7 760.20,278.4 760.27,276.7 760.34,279.8 760.41,283.8 760.49,285.0 760.56,284.9 760.63,284.5 760.70,284.7 760.77,285.1 760.84,284.6 760.91,284.2 760.99,284.2 761.06,284.4 761.13,284.7 761.20,285.3 761.27,285.1 761.34,284.5 761.41,284.3 761.49,283.9 761.56,283.3 761.63,284.3 761.70,285.7 761.77,287.0 761.84,286.4 761.91,285.1 761.99,285.1 762.06,285.2 762.13,284.3 762.20,283.2 762.27,283.3 762.34,282.9 762.41,282.1 762.49,282.8 762.56,284.4 762.63,285.7 762.70,286.2 762.77,284.9 762.84,284.0 762.91,284.2 762.99,285.3 763.06,287.2 763.13,287.1 763.20,285.3 763.27,284.4 763.34,284.1 763.41,283.9 763.49,283.5 763.56,283.9 763.63,284.1 763.70,283.8 763.77,284.3 763.84,284.8 763.91,284.9 763.99,284.6 764.06,284.3 764.13,284.0 764.20,283.6 764.27,283.0 764.34,283.6 764.41,284.5 764.49,285.0 764.56,284.9 764.63,285.3 764.70,285.9 764.77,286.0 764.84,285.6 764.91,285.6 764.99,285.7 765.06,285.1 765.13,284.0 765.20,283.0 765.27,283.1 765.34,283.2 765.41,283.5 765.49,284.3 765.56,284.3 765.63,283.9 765.70,284.3 765.77,285.0 765.84,285.2 765.91,284.4 765.99,283.2 766.06,283.4 766.13,284.6 766.20,286.2 766.27,286.5 766.34,285.2 766.41,284.1 766.49,283.1 766.56,284.1 766.63,285.4 766.70,286.2 766.77,286.2 766.84,286.3 766.91,285.6 766.99,284.3 767.06,282.8 767.13,282.0 767.20,282.0 767.27,283.0 767.34,284.0 767.41,284.6 767.49,285.1 767.56,284.9 767.63,284.7 767.70,284.9 767.77,285.4 767.84,286.1 767.91,286.6 767.99,285.5 768.06,283.9 768.13,281.7 768.20,281.0 768.27,282.4 768.34,284.2 768.41,284.7 768.49,284.5 768.56,284.4 768.63,284.5 768.70,285.0 768.77,285.9 768.84,286.9 768.91,286.7 768.99,285.3 769.06,283.7 769.13,281.9 769.20,282.7 769.27,283.9 769.34,284.3 769.41,284.2 769.49,284.4 769.56,285.1 769.63,285.5 769.70,284.4 769.77,283.1 769.84,284.0 769.91,285.3 769.99,285.3 770.06,284.5 770.13,284.3 770.20,284.6 770.27,285.0 770.34,284.9 770.41,284.5 770.49,283.9 770.56,284.0 770.63,284.4 770.70,284.7 770.77,285.1 770.84,285.2 770.91,285.0 770.99,284.6 771.06,284.0 771.13,283.6 771.20,283.9 771.27,284.4 771.34,284.5 771.41,284.4 771.49,284.6 771.56,285.2 771.63,285.2 771.70,284.6 771.77,284.4 771.84,284.3 771.91,284.3 771.99,284.4 772.06,284.6 772.13,284.9 772.20,284.5 772.27,283.7 772.34,283.8 772.41,285.6 772.49,287.8 772.56,285.7 772.63,282.5 772.70,279.8 772.77,281.6 772.84,284.6 772.91,286.7 772.99,286.9 773.06,286.6 773.13,285.7 773.20,284.6 773.27,284.1 773.34,283.2 773.41,282.5 773.49,282.7 773.56,283.4 773.63,284.3 773.70,285.0 773.77,286.5 773.84,287.8 773.91,286.9 773.99,284.8 774.06,283.8 774.13,282.5 774.20,281.6 774.27,283.2 774.34,285.0 774.41,285.9 774.49,284.6 774.56,282.5 774.63,280.5 774.70,282.5 774.77,285.5 774.84,287.5 774.91,286.6 774.99,285.3 775.06,284.4 775.13,283.2 775.20,283.4 775.27,284.5 775.34,285.3 775.41,286.0 775.49,286.9 775.56,286.5 775.63,284.9 775.70,283.9 775.77,284.0 775.84,284.6 775.91,284.8 775.99,284.5 776.06,284.5 776.13,284.3 776.20,283.7 776.27,283.8 776.34,284.5 776.41,284.8 776.49,284.4 776.56,283.9 776.63,284.0 776.70,283.6 776.77,282.1 776.84,282.3 776.91,284.2 776.99,285.0 777.06,285.3 777.13,285.4 777.20,285.7 777.27,286.1 777.34,286.4 777.41,286.2 777.49,285.3 777.56,284.5 777.63,284.1 777.70,283.4 777.77,283.0 777.84,283.4 777.91,283.8 777.99,283.9 778.06,283.7 778.13,284.2 778.20,285.0 778.27,285.8 778.34,285.7 778.41,285.3 778.49,285.1 778.56,285.6 778.63,285.7 778.70,284.6 778.77,283.6 778.84,283.1 778.91,282.9 778.99,282.6 779.06,282.5 779.13,283.2 779.20,284.5 779.27,285.7 779.34,285.9 779.41,284.9 779.49,284.5 779.56,284.7 779.63,285.5 779.70,285.9 779.77,285.3 779.84,284.3 779.91,283.1 779.99,283.5 780.06,284.6 780.13,285.5 780.20,285.1 780.27,284.6 780.34,284.6 780.41,284.7 780.49,284.5 780.56,284.0 780.63,283.3 780.70,283.1 780.77,283.7 780.84,283.9 780.91,283.6 780.99,284.1 781.06,285.2 781.13,286.8 781.20,287.2 781.27,286.6 781.34,284.8 781.41,283.0 781.49,281.1 781.56,281.5 781.63,284.0 781.70,285.5 781.77,286.1 781.84,286.0 781.91,286.3 781.99,286.7 782.06,286.7 782.13,284.8 782.20,283.7 782.27,282.8 782.34,282.8 782.41,283.6 782.49,283.4 782.56,282.1 782.63,282.2 782.70,283.9 782.77,284.5 782.84,284.3 782.91,284.6 782.99,286.7 783.06,288.2 783.13,287.2 783.20,284.6 783.27,282.5 783.34,282.0 783.41,283.1 783.49,283.7 783.56,284.0 783.63,284.1 783.70,284.3 783.77,284.9 783.84,285.9 783.91,285.3 783.99,284.3 784.06,283.8 784.13,284.5 784.20,285.7 784.27,286.1 784.34,284.8 784.41,284.4 784.49,284.0 784.56,283.3 784.63,283.9 784.70,285.0 784.77,285.8 784.84,286.0 784.91,284.8 784.99,283.1 785.06,282.5 785.13,284.2 785.20,286.0 785.27,289.1 785.34,289.7 785.41,285.8 785.49,282.6 785.56,282.0 785.63,284.2 785.70,284.5 785.77,282.5 785.84,280.7 785.91,282.7 785.99,284.4 786.06,284.7 786.13,285.0 786.20,285.1 786.27,284.5 786.34,283.8 786.41,283.3 786.49,282.5 786.56,282.4 786.63,284.3 786.70,285.8 786.77,286.2 786.84,286.5 786.91,288.0 786.99,289.6 787.06,289.3 787.13,286.5 787.20,284.0 787.27,283.0 787.34,283.6 787.41,283.0 787.49,281.9 787.56,283.2 787.63,284.7 787.70,285.4 787.77,284.7 787.84,283.3 787.91,282.1 787.99,283.3 788.06,284.6 788.13,285.6 788.20,284.5 788.27,281.9 788.34,281.7 788.41,284.2 788.49,286.1 788.56,287.3 788.63,285.9 788.70,284.5 788.77,284.1 788.84,283.9 788.91,283.6 788.99,284.2" fill="none" stroke="#006400" stroke-width="0.6"/>
<polyline points="677.1,284.5 677.45,261 677.80,311.5 678.15,275.1 678.5,284.5" fill="none" stroke="#006400" stroke-width="0.6"/>
<polyline points="678.5,284.5 678.85,270 679.20,298 679.55,278.7 679.9,284.5" fill="none" stroke="#006400" stroke-width="0.6"/>
<rect x="506.7" y="258.8" width="283.3" height="54.39999999999998" fill="none" stroke="#000" stroke-width="1.9"/>
<polyline points="507.70,370.9 507.75,370.2 507.80,362.1 507.85,361.0 507.90,361.9 507.95,360.5 508.00,360.4 508.05,365.2 508.10,371.5 508.15,371.2 508.20,365.1 508.25,365.3 508.30,370.5 508.35,368.0 508.40,363.2 508.45,363.8 508.50,366.8 508.55,365.7 508.60,361.7 508.65,363.9 508.70,367.3 508.75,365.1 508.80,364.2 508.85,365.3 508.90,365.2 508.95,364.0 509.00,364.7 509.05,365.2 509.10,365.3 509.15,364.9 509.20,360.7 509.25,366.9 509.30,373.8 509.35,366.4 509.40,356.3 509.45,359.9 509.50,366.1 509.55,370.4 509.60,367.6 509.65,365.2 509.70,364.4 509.75,365.4 509.80,364.8 509.85,359.2 509.90,363.4 509.95,366.8 510.00,365.0 510.05,367.7 510.10,372.4 510.15,367.4 510.20,364.9 510.25,365.8 510.30,365.1 510.35,363.2 510.40,361.3 510.45,362.1 510.50,365.2 510.55,365.7 510.60,365.9 510.65,366.0 510.70,365.7 510.75,365.1 510.80,366.2 510.85,364.9 510.90,365.4 510.95,365.2 511.00,364.1 511.05,365.0 511.10,365.3 511.15,363.5 511.20,365.0 511.25,370.1 511.30,368.2 511.35,364.8 511.40,359.0 511.45,361.7 511.50,365.3 511.55,366.1 511.60,369.6 511.65,365.8 511.70,362.4 511.75,365.2 511.80,362.3 511.85,355.2 511.90,365.7 511.95,373.4 512.00,370.0 512.05,365.3 512.10,363.3 512.15,364.8 512.20,365.5 512.25,367.4 512.30,365.8 512.35,364.8 512.40,363.9 512.45,362.5 512.50,367.8 512.55,383.9 512.60,367.6 512.65,352.6 512.70,357.1 512.75,366.4 512.80,366.2 512.85,364.9 512.90,363.1 512.95,359.3 513.00,361.9 513.05,370.2 513.10,369.6 513.15,366.0 513.20,372.3 513.25,370.7 513.30,359.1 513.35,349.1 513.40,357.6 513.45,365.4 513.50,372.2 513.55,370.4 513.60,367.2 513.65,368.8 513.70,367.7 513.75,363.0 513.80,361.9 513.85,363.8 513.90,360.9 513.95,362.4 514.00,367.4 514.05,371.8 514.10,366.2 514.15,363.5 514.20,365.3 514.25,365.6 514.30,361.3 514.35,365.7 514.40,375.5 514.45,366.5 514.50,361.0 514.55,354.3 514.60,363.7 514.65,374.3 514.70,368.0 514.75,364.1 514.80,362.4 514.85,363.1 514.90,367.2 514.95,365.5 515.00,361.9 515.05,359.6 515.10,361.4 515.15,364.4 515.20,369.0 515.25,369.2 515.30,367.2 515.35,366.9 515.40,365.6 515.45,365.0 515.50,365.2 515.55,366.0 515.60,372.0 515.65,371.7 515.70,364.9 515.75,355.6 515.80,359.6 515.85,364.3 515.90,363.2 515.95,366.1 516.00,368.4 516.05,363.1 516.10,360.7 516.15,365.5 516.20,365.3 516.25,364.1 516.30,363.9 516.35,369.9 516.40,369.6 516.45,366.1 516.50,368.3 516.55,366.4 516.60,367.7 516.65,365.4 516.70,359.3 516.75,362.2 516.80,363.6 516.85,362.5 516.90,365.1 516.95,368.9 517.00,366.7 517.05,362.4 517.10,361.3 517.15,365.4 517.20,365.4 517.25,366.0 517.30,369.9 517.35,370.4 517.40,366.4 517.45,363.9 517.50,356.4 517.55,356.3 517.60,366.1 517.65,371.9 517.70,369.3 517.75,365.3 517.80,364.7 517.85,362.1 517.90,358.7 517.95,367.1 518.00,377.1 518.05,365.4 518.10,363.7 518.15,365.7 518.20,365.3 518.25,363.1 518.30,365.1 518.35,365.1 518.40,358.6 518.45,361.0 518.50,368.6 518.55,369.0 518.60,367.2 518.65,366.1 518.70,363.0 518.75,358.4 518.80,363.4 518.85,368.2 518.90,365.6 518.95,364.8 519.00,369.0 519.05,363.3 519.10,359.5 519.15,365.1 519.20,370.2 519.25,378.8 519.30,370.9 519.35,365.1 519.40,359.4 519.45,361.7 519.50,361.5 519.55,358.9 519.60,362.4 519.65,366.3 519.70,375.0 519.75,373.5 519.80,365.9 519.85,364.0 519.90,366.3 519.95,367.9 520.00,362.4 520.05,357.9 520.10,357.1 520.15,365.7 520.20,370.0 520.25,370.4 520.30,366.7 520.35,365.2 520.40,364.2 520.45,363.8 520.50,365.6 520.55,366.0 520.60,359.5 520.65,362.5 520.70,367.1 520.75,366.1 520.80,362.4 520.85,363.4 520.90,364.1 520.95,370.3 521.00,380.6 521.05,365.1 521.10,354.6 521.15,364.0 521.20,365.3 521.25,364.8 521.30,364.7 521.35,358.7 521.40,363.5 521.45,373.0 521.50,370.2 521.55,370.7 521.60,373.3 521.65,368.3 521.70,357.1 521.75,354.9 521.80,363.0 521.85,365.4 521.90,368.4 521.95,367.1 522.00,363.5 522.05,360.3 522.10,365.6 522.15,370.3 522.20,366.1 522.25,360.7 522.30,364.3 522.35,366.5 522.40,362.7 522.45,365.1 522.50,369.3 522.55,365.2 522.60,362.3 522.65,364.9 522.70,364.4 522.75,363.1 522.80,364.9 522.85,367.1 522.90,365.7 522.95,368.3 523.00,366.8 523.05,365.0 523.10,364.0 523.15,363.9 523.20,364.2 523.25,365.2 523.30,365.3 523.35,368.3 523.40,367.9 523.45,365.5 523.50,366.2 523.55,368.4 523.60,365.6 523.65,362.5 523.70,357.3 523.75,364.1 523.80,365.0 523.85,364.5 523.90,370.7 523.95,366.8 524.00,361.0 524.05,357.9 524.10,361.6 524.15,372.8 524.20,379.3 524.25,365.7 524.30,357.5 524.35,361.6 524.40,366.3 524.45,366.8 524.50,366.9 524.55,366.6 524.60,363.0 524.65,364.1 524.70,364.8 524.75,362.9 524.80,364.5 524.85,366.0 524.90,365.9 524.95,366.5 525.00,366.4 525.05,365.2 525.10,365.4 525.15,367.7 525.20,364.7 525.25,362.5 525.30,365.1 525.35,364.4 525.40,360.0 525.45,365.0 525.50,369.3 525.55,368.4 525.60,365.1 525.65,365.5 525.70,366.4 525.75,365.1 525.80,365.5 525.85,359.9 525.90,356.7 525.95,366.1 526.00,366.6 526.05,369.0 526.10,368.2 526.15,365.5 526.20,369.1 526.25,365.4 526.30,359.5 526.35,361.7 526.40,365.0 526.45,365.1 526.50,365.1 526.55,362.6 526.60,361.7 526.65,367.1 526.70,369.1 526.75,370.2 526.80,365.9 526.85,363.2 526.90,365.4 526.95,367.2 527.00,365.0 527.05,365.0 527.10,365.8 527.15,365.3 527.20,361.0 527.25,359.9 527.30,364.7 527.35,365.3 527.40,365.2 527.45,363.5 527.50,365.8 527.55,369.7 527.60,371.5 527.65,368.3 527.70,365.3 527.75,362.3 527.80,362.2 527.85,365.8 527.90,364.8 527.95,361.9 528.00,366.8 528.05,368.3 528.10,363.9 528.15,363.0 528.20,364.4 528.25,365.8 528.30,365.5 528.35,368.6 528.40,366.9 528.45,364.4 528.50,363.3 528.55,364.3 528.60,362.3 528.65,363.3 528.70,364.8 528.75,367.3 528.80,367.9 528.85,365.0 528.90,366.3 528.95,366.9 529.00,365.7 529.05,365.2 529.10,366.5 529.15,370.1 529.20,362.5 529.25,349.3 529.30,362.2 529.35,366.8 529.40,366.7 529.45,365.0 529.50,365.5 529.55,365.3 529.60,367.8 529.65,367.3 529.70,362.0 529.75,364.0 529.80,369.7 529.85,369.9 529.90,364.4 529.95,364.2 530.00,365.3 530.05,362.9 530.10,363.5 530.15,365.5 530.20,366.0 530.25,365.6 530.30,364.3 530.35,365.0 530.40,366.2 530.45,364.7 530.50,364.3 530.55,364.7 530.60,363.6 530.65,363.4 530.70,364.6 530.75,365.7 530.80,365.1 530.85,365.9 530.90,369.9 530.95,370.5 531.00,366.0 531.05,367.0 531.10,366.5 531.15,364.0 531.20,363.4 531.25,362.0 531.30,361.0 531.35,363.7 531.40,369.5 531.45,368.5 531.50,367.0 531.55,366.2 531.60,366.0 531.65,362.4 531.70,355.8 531.75,355.7 531.80,365.1 531.85,369.9 531.90,367.1 531.95,364.6 532.00,364.3 532.05,367.1 532.10,369.7 532.15,367.3 532.20,367.3 532.25,367.6 532.30,362.8 532.35,355.2 532.40,360.9 532.45,365.1 532.50,365.2 532.55,367.5 532.60,371.2 532.65,365.3 532.70,365.2 532.75,366.3 532.80,364.4 532.85,359.8 532.90,354.8 532.95,363.3 533.00,367.2 533.05,369.7 533.10,368.6 533.15,365.8 533.20,365.6 533.25,365.2 533.30,366.4 533.35,365.2 533.40,366.1 533.45,369.3 533.50,365.0 533.55,363.1 533.60,363.8 533.65,363.1 533.70,363.2 533.75,363.2 533.80,365.2 533.85,365.2 533.90,366.9 533.95,367.8 534.00,366.7 534.05,367.8 534.10,365.4 534.15,356.9 534.20,360.4 534.25,367.2 534.30,369.8 534.35,366.0 534.40,372.4 534.45,366.0 534.50,358.8 534.55,359.7 534.60,362.2 534.65,362.5 534.70,363.0 534.75,365.8 534.80,367.6 534.85,369.2 534.90,365.5 534.95,363.9 535.00,364.4 535.05,366.4 535.10,368.4 535.15,365.2 535.20,361.8 535.25,365.5 535.30,365.6 535.35,365.2 535.40,365.3 535.45,366.2 535.50,365.6 535.55,364.8 535.60,361.7 535.65,364.0 535.70,365.5 535.75,367.1 535.80,366.2 535.85,364.9 535.90,365.0 535.95,365.4 536.00,366.6 536.05,366.6 536.10,368.2 536.15,368.0 536.20,361.9 536.25,357.2 536.30,359.3 536.35,365.2 536.40,368.7 536.45,365.8 536.50,363.4 536.55,364.1 536.60,365.3 536.65,366.6 536.70,365.9 536.75,362.7 536.80,364.1 536.85,367.1 536.90,367.5 536.95,365.2 537.00,364.9 537.05,367.6 537.10,369.0 537.15,365.9 537.20,364.9 537.25,364.5 537.30,358.2 537.35,359.9 537.40,366.5 537.45,366.9 537.50,366.0 537.55,365.3 537.60,367.0 537.65,363.8 537.70,359.6 537.75,366.4 537.80,371.4 537.85,366.5 537.90,364.9 537.95,364.1 538.00,363.4 538.05,363.1 538.10,364.3 538.15,365.8 538.20,367.0 538.25,364.9 538.30,361.9 538.35,365.0 538.40,367.8 538.45,368.3 538.50,367.8 538.55,365.6 538.60,364.0 538.65,361.9 538.70,361.6 538.75,363.8 538.80,365.2 538.85,365.2 538.90,368.5 538.95,367.1 539.00,366.2 539.05,364.6 539.10,365.2 539.15,365.8 539.20,366.6 539.25,366.2 539.30,360.2 539.35,360.8 539.40,366.8 539.45,365.6 539.50,365.9 539.55,366.9 539.60,368.8 539.65,365.2 539.70,359.8 539.75,361.8 539.80,364.2 539.85,365.1 539.90,363.3 539.95,365.2 540.00,370.8 540.05,368.4 540.10,365.7 540.15,366.1 540.20,366.1 540.25,364.5 540.30,358.6 540.35,362.6 540.40,365.3 540.45,365.8 540.50,374.3 540.55,371.3 540.60,357.1 540.65,359.7 540.70,363.7 540.75,362.6 540.80,366.2 540.85,369.9 540.90,368.6 540.95,362.5 541.00,359.7 541.05,367.2 541.10,371.6 541.15,365.6 541.20,364.5 541.25,363.2 541.30,365.1 541.35,366.7 541.40,364.8 541.45,360.3 541.50,364.4 541.55,367.6 541.60,366.0 541.65,365.5 541.70,365.1 541.75,365.3 541.80,367.5 541.85,364.0 541.90,365.4 541.95,369.2 542.00,360.7 542.05,360.6 542.10,363.0 542.15,364.2 542.20,365.4 542.25,367.2 542.30,370.2 542.35,369.0 542.40,366.3 542.45,364.8 542.50,360.6 542.55,359.9 542.60,364.0 542.65,366.0 542.70,368.4 542.75,367.4 542.80,365.5 542.85,364.8 542.90,363.3 542.95,365.2 543.00,367.2 543.05,365.2 543.10,364.9 543.15,364.3 543.20,364.5 543.25,366.5 543.30,368.4 543.35,364.9 543.40,362.8 543.45,365.6 543.50,371.3 543.55,368.0 543.60,364.2 543.65,361.6 543.70,360.9 543.75,362.0 543.80,364.7 543.85,364.9 543.90,365.3 543.95,367.8 544.00,368.0 544.05,367.5 544.10,364.8 544.15,363.8 544.20,362.2 544.25,363.5 544.30,366.5 544.35,364.0 544.40,363.5 544.45,367.0 544.50,366.2 544.55,369.5 544.60,366.4 544.65,362.6 544.70,364.4 544.75,366.2 544.80,366.7 544.85,367.2 544.90,364.7 544.95,362.1 545.00,362.6 545.05,363.8 545.10,365.6 545.15,367.2 545.20,366.0 545.25,369.5 545.30,365.4 545.35,360.9 545.40,362.9 545.45,364.7 545.50,365.2 545.55,367.8 545.60,368.1 545.65,365.2 545.70,362.0 545.75,366.5 545.80,373.2 545.85,364.6 545.90,354.5 545.95,360.4 546.00,365.2 546.05,363.4 546.10,366.3 546.15,364.8 546.20,365.1 546.25,375.0 546.30,376.4 546.35,365.4 546.40,356.8 546.45,361.6 546.50,365.9 546.55,365.6 546.60,364.1 546.65,363.2 546.70,365.4 546.75,366.6 546.80,368.6 546.85,364.5 546.90,361.7 546.95,367.2 547.00,365.9 547.05,364.9 547.10,366.9 547.15,368.5 547.20,368.0 547.25,365.8 547.30,363.4 547.35,363.1 547.40,355.2 547.45,360.3 547.50,364.6 547.55,365.4 547.60,368.1 547.65,369.9 547.70,369.1 547.75,365.2 547.80,364.3 547.85,369.2 547.90,364.6 547.95,359.9 548.00,357.7 548.05,360.1 548.10,365.2 548.15,366.9 548.20,367.7 548.25,365.6 548.30,365.8 548.35,368.7 548.40,365.2 548.45,365.4 548.50,368.9 548.55,364.1 548.60,363.7 548.65,367.1 548.70,367.1 548.75,363.1 548.80,359.6 548.85,364.9 548.90,368.2 548.95,366.7 549.00,364.8 549.05,366.1 549.10,365.6 549.15,362.1 549.20,352.3 549.25,354.3 549.30,363.2 549.35,371.4 549.40,382.6 549.45,375.4 549.50,365.6 549.55,364.7 549.60,366.6 549.65,366.1 549.70,360.1 549.75,356.4 549.80,363.2 549.85,364.7 549.90,366.8 549.95,367.2 550.00,369.1 550.05,369.3 550.10,365.6 550.15,364.3 550.20,359.3 550.25,357.4 550.30,364.8 550.35,365.3 550.40,370.9 550.45,371.5 550.50,364.9 550.55,366.6 550.60,367.2 550.65,365.7 550.70,362.7 550.75,358.9 550.80,360.0 550.85,365.5 550.90,366.8 550.95,365.2 551.00,364.0 551.05,359.9 551.10,363.4 551.15,366.2 551.20,367.0 551.25,366.6 551.30,370.0 551.35,375.7 551.40,372.2 551.45,364.6 551.50,360.1 551.55,355.9 551.60,361.6 551.65,365.3 551.70,363.7 551.75,363.4 551.80,365.4 551.85,368.3 551.90,366.2 551.95,365.1 552.00,364.9 552.05,364.1 552.10,366.8 552.15,367.6 552.20,365.3 552.25,364.2 552.30,366.4 552.35,367.5 552.40,365.4 552.45,365.2 552.50,365.5 552.55,365.1 552.60,362.2 552.65,363.4 552.70,367.9 552.75,368.5 552.80,365.2 552.85,360.2 552.90,363.3 552.95,363.6 553.00,365.4 553.05,368.8 553.10,365.1 553.15,359.8 553.20,362.6 553.25,370.5 553.30,370.3 553.35,364.1 553.40,361.7 553.45,364.5 553.50,368.0 553.55,366.6 553.60,366.1 553.65,366.4 553.70,367.3 553.75,367.5 553.80,365.3 553.85,362.6 553.90,357.5 553.95,360.2 554.00,366.2 554.05,367.9 554.10,365.7 554.15,364.6 554.20,361.3 554.25,360.0 554.30,369.7 554.35,371.0 554.40,366.2 554.45,365.2 554.50,365.3 554.55,364.8 554.60,364.1 554.65,363.9 554.70,364.2 554.75,368.7 554.80,372.5 554.85,366.5 554.90,364.3 554.95,359.6 555.00,361.1 555.05,361.9 555.10,365.1 555.15,368.1 555.20,364.4 555.25,365.1 555.30,368.5 555.35,365.6 555.40,364.9 555.45,364.9 555.50,362.8 555.55,366.8 555.60,369.0 555.65,365.2 555.70,365.2 555.75,369.4 555.80,369.0 555.85,361.1 555.90,362.7 555.95,365.1 556.00,361.3 556.05,362.7 556.10,364.5 556.15,368.9 556.20,370.8 556.25,367.6 556.30,366.9 556.35,361.4 556.40,357.2 556.45,361.0 556.50,363.6 556.55,366.0 556.60,369.4 556.65,370.6 556.70,365.6 556.75,363.8 556.80,365.8 556.85,365.4 556.90,361.1 556.95,361.6 557.00,365.2 557.05,367.6 557.10,370.7 557.15,365.2 557.20,359.8 557.25,363.7 557.30,364.8 557.35,366.6 557.40,370.3 557.45,365.2 557.50,363.2 557.55,363.5 557.60,366.0 557.65,367.3 557.70,365.2 557.75,364.7 557.80,364.4 557.85,365.3 557.90,368.5 557.95,365.1 558.00,363.2 558.05,365.2 558.10,367.9 558.15,365.1 558.20,359.0 558.25,361.4 558.30,365.8 558.35,367.6 558.40,368.4 558.45,368.6 558.50,365.8 558.55,363.2 558.60,364.8 558.65,364.3 558.70,364.5 558.75,365.8 558.80,363.0 558.85,359.6 558.90,365.2 558.95,372.0 559.00,374.4 559.05,366.9 559.10,362.2 559.15,360.8 559.20,364.9 559.25,365.3 559.30,364.2 559.35,363.0 559.40,365.2 559.45,367.5 559.50,364.7 559.55,361.5 559.60,365.8 559.65,372.5 559.70,370.2 559.75,363.4 559.80,364.6 559.85,368.2 559.90,364.1 559.95,364.2 560.00,363.5 560.05,366.5 560.10,365.2 560.15,360.6 560.20,365.7 560.25,368.9 560.30,365.7 560.35,365.1 560.40,364.9 560.45,364.7 560.50,365.0 560.55,364.9 560.60,362.4 560.65,361.5 560.70,364.8 560.75,365.1 560.80,365.2 560.85,369.7 560.90,370.5 560.95,365.1 561.00,364.2 561.05,365.1 561.10,368.0 561.15,366.2 561.20,360.9 561.25,360.0 561.30,365.8 561.35,369.4 561.40,366.4 561.45,364.7 561.50,363.5 561.55,364.2 561.60,366.7 561.65,370.1 561.70,370.8 561.75,366.7 561.80,362.4 561.85,361.2 561.90,363.7 561.95,364.5 562.00,364.6 562.05,362.5 562.10,366.0 562.15,370.2 562.20,363.4 562.25,361.1 562.30,365.4 562.35,366.8 562.40,365.6 562.45,366.3 562.50,370.0 562.55,366.0 562.60,362.4 562.65,358.5 562.70,360.7 562.75,368.4 562.80,373.3 562.85,366.2 562.90,360.6 562.95,360.7 563.00,364.6 563.05,366.9 563.10,366.2 563.15,365.2 563.20,366.1 563.25,368.0 563.30,365.2 563.35,365.2 563.40,366.8 563.45,364.7 563.50,361.2 563.55,363.7 563.60,365.4 563.65,364.6 563.70,363.7 563.75,363.8 563.80,370.6 563.85,368.7 563.90,365.3 563.95,365.3 564.00,365.1 564.05,365.5 564.10,364.3 564.15,361.9 564.20,362.8 564.25,365.3 564.30,364.7 564.35,365.2 564.40,367.7 564.45,366.0 564.50,365.6 564.55,366.3 564.60,368.8 564.65,366.9 564.70,364.5 564.75,363.7 564.80,363.4 564.85,363.2 564.90,365.4 564.95,367.7 565.00,365.1 565.05,358.0 565.10,360.2 565.15,365.2 565.20,363.9 565.25,365.5 565.30,369.0 565.35,372.3 565.40,368.6 565.45,365.1 565.50,362.3 565.55,364.7 565.60,366.3 565.65,365.0 565.70,360.9 565.75,363.3 565.80,369.5 565.85,369.7 565.90,365.2 565.95,364.7 566.00,364.0 566.05,362.9 566.10,365.3 566.15,367.3 566.20,365.3 566.25,365.9 566.30,365.9 566.35,364.2 566.40,365.4 566.45,363.6 566.50,362.0 566.55,368.2 566.60,370.8 566.65,365.4 566.70,364.6 566.75,358.8 566.80,362.6 566.85,368.4 566.90,367.2 566.95,367.6 567.00,365.7 567.05,364.1 567.10,365.2 567.15,363.7 567.20,357.9 567.25,360.9 567.30,366.4 567.35,366.1 567.40,368.6 567.45,373.7 567.50,369.1 567.55,364.8 567.60,362.9 567.65,361.9 567.70,362.9 567.75,365.1 567.80,365.6 567.85,365.8 567.90,365.2 567.95,365.2 568.00,363.0 568.05,362.5 568.10,363.3 568.15,365.7 568.20,367.5 568.25,373.0 568.30,370.0 568.35,362.8 568.40,363.4 568.45,361.3 568.50,365.4 568.55,367.9 568.60,365.6 568.65,364.9 568.70,366.7 568.75,365.4 568.80,360.4 568.85,356.4 568.90,364.6 568.95,368.4 569.00,369.4 569.05,372.6 569.10,369.6 569.15,362.5 569.20,362.7 569.25,365.2 569.30,362.2 569.35,362.9 569.40,367.2 569.45,366.1 569.50,365.2 569.55,365.1 569.60,363.9 569.65,365.6 569.70,366.2 569.75,365.5 569.80,366.2 569.85,364.9 569.90,361.7 569.95,364.1 570.00,367.3 570.05,365.2 570.10,361.4 570.15,366.3 570.20,369.5 570.25,365.0 570.30,359.0 570.35,363.3 570.40,367.2 570.45,370.0 570.50,366.7 570.55,365.2 570.60,364.0 570.65,365.5 570.70,368.0 570.75,367.0 570.80,365.0 570.85,360.7 570.90,361.6 570.95,363.4 571.00,364.8 571.05,369.0 571.10,374.3 571.15,366.3 571.20,358.1 571.25,357.4 571.30,359.7 571.35,368.5 571.40,371.2 571.45,364.4 571.50,363.1 571.55,367.2 571.60,371.0 571.65,371.8 571.70,364.9 571.75,360.3 571.80,362.0 571.85,366.0 571.90,366.2 571.95,362.9 572.00,359.7 572.05,363.8 572.10,364.7 572.15,363.4 572.20,367.8 572.25,375.5 572.30,370.3 572.35,365.5 572.40,365.8 572.45,364.8 572.50,365.1 572.55,366.4 572.60,362.8 572.65,355.9 572.70,359.9 572.75,364.3 572.80,365.3 572.85,367.3 572.90,369.4 572.95,366.4 573.00,365.4 573.05,367.7 573.10,369.0 573.15,365.7 573.20,365.4 573.25,361.3 573.30,353.5 573.35,361.1 573.40,367.3 573.45,370.8 573.50,365.6 573.55,364.4 573.60,364.3 573.65,364.7 573.70,363.8 573.75,365.4 573.80,366.2 573.85,364.9 573.90,367.4 573.95,367.2 574.00,366.3 574.05,364.2 574.10,366.9 574.15,370.0 574.20,362.8 574.25,356.1 574.30,363.3 574.35,365.2 574.40,365.0 574.45,365.0 574.50,367.5 574.55,368.6 574.60,365.0 574.65,362.3 574.70,362.8 574.75,362.7 574.80,364.8 574.85,367.5 574.90,371.4 574.95,371.1 575.00,366.2 575.05,365.7 575.10,365.2 575.15,365.1 575.20,364.3 575.25,362.9 575.30,362.5 575.35,361.8 575.40,362.0 575.45,364.2 575.50,365.8 575.55,366.7 575.60,366.6 575.65,365.4 575.70,365.1 575.75,367.9 575.80,368.5 575.85,365.3 575.90,365.3 575.95,366.9 576.00,365.2 576.05,360.8 576.10,361.9 576.15,365.2 576.20,366.1 576.25,365.1 576.30,363.4 576.35,365.9 576.40,365.1 576.45,364.9 576.50,362.0 576.55,361.1 576.60,369.0 576.65,373.9 576.70,371.9 576.75,364.9 576.80,361.1 576.85,358.8 576.90,365.1 576.95,368.4 577.00,367.3 577.05,368.8 577.10,365.3 577.15,361.4 577.20,363.1 577.25,364.8 577.30,366.3 577.35,365.4 577.40,364.7 577.45,367.0 577.50,367.8 577.55,362.2 577.60,363.1 577.65,367.2 577.70,368.0 577.75,363.4 577.80,359.4 577.85,362.5 577.90,362.7 577.95,368.2 578.00,370.1 578.05,365.2 578.10,364.5 578.15,366.0 578.20,365.4 578.25,365.1 578.30,365.7 578.35,364.4 578.40,364.6 578.45,365.5 578.50,369.1 578.55,372.8 578.60,367.1 578.65,357.7 578.70,355.0 578.75,365.2 578.80,370.5 578.85,368.8 578.90,363.6 578.95,357.4 579.00,363.0 579.05,365.4 579.10,365.5 579.15,365.6 579.20,368.2 579.25,366.7 579.30,365.1 579.35,364.5 579.40,360.0 579.45,364.4 579.50,368.3 579.55,365.4 579.60,363.8 579.65,365.5 579.70,368.0 579.75,370.1 579.80,365.9 579.85,364.9 579.90,365.2 579.95,364.5 580.00,362.4 580.05,362.8 580.10,363.6 580.15,366.2 580.20,367.2 580.25,365.2 580.30,364.3 580.35,364.2 580.40,362.9 580.45,364.3 580.50,369.5 580.55,371.1 580.60,366.5 580.65,364.7 580.70,365.6 580.75,365.2 580.80,364.5 580.85,360.8 580.90,364.5 580.95,365.2 581.00,365.2 581.05,367.9 581.10,368.7 581.15,365.5 581.20,365.2 581.25,365.3 581.30,363.5 581.35,356.1 581.40,359.1 581.45,367.3 581.50,369.3 581.55,369.6 581.60,368.1 581.65,364.9 581.70,364.7 581.75,361.1 581.80,360.6 581.85,367.3 581.90,370.0 581.95,367.2 582.00,360.6 582.05,353.1 582.10,364.2 582.15,373.8 582.20,371.7 582.25,362.6 582.30,362.3 582.35,367.6 582.40,373.8 582.45,365.9 582.50,362.0 582.55,362.4 582.60,364.9 582.65,369.2 582.70,372.8 582.75,365.5 582.80,360.7 582.85,359.6 582.90,363.6 582.95,366.1 583.00,365.2 583.05,363.2 583.10,365.1 583.15,364.7 583.20,365.2 583.25,370.3 583.30,368.1 583.35,363.4 583.40,361.7 583.45,365.6 583.50,363.7 583.55,365.2 583.60,370.7 583.65,368.5 583.70,365.7 583.75,362.5 583.80,364.2 583.85,366.2 583.90,365.2 583.95,363.7 584.00,360.8 584.05,362.9 584.10,365.3 584.15,366.4 584.20,365.8 584.25,365.1 584.30,360.4 584.35,365.3 584.40,368.3 584.45,366.8 584.50,365.9 584.55,365.4 584.60,366.3 584.65,367.6 584.70,367.6 584.75,364.3 584.80,361.8 584.85,363.9 584.90,362.6 584.95,364.1 585.00,369.8 585.05,372.2 585.10,365.2 585.15,361.1 585.20,361.2 585.25,357.6 585.30,362.9 585.35,366.0 585.40,372.1 585.45,373.9 585.50,365.7 585.55,364.5 585.60,364.9 585.65,366.1 585.70,365.1 585.75,361.7 585.80,360.5 585.85,365.5 585.90,366.5 585.95,368.3 586.00,367.1 586.05,369.1 586.10,368.7 586.15,363.7 586.20,361.2 586.25,360.6 586.30,363.5 586.35,364.8 586.40,360.3 586.45,360.1 586.50,365.7 586.55,375.1 586.60,366.4 586.65,364.0 586.70,365.5 586.75,367.9 586.80,366.6 586.85,366.7 586.90,365.1 586.95,365.7 587.00,363.2 587.05,361.4 587.10,365.2 587.15,364.8 587.20,364.9 587.25,364.6 587.30,365.1 587.35,366.3 587.40,365.5 587.45,364.3 587.50,367.1 587.55,374.5 587.60,368.2 587.65,363.4 587.70,362.1 587.75,365.4 587.80,364.0 587.85,357.7 587.90,362.1 587.95,365.7 588.00,365.0 588.05,365.1 588.10,366.4 588.15,366.2 588.20,369.5 588.25,369.4 588.30,364.3 588.35,363.3 588.40,363.1 588.45,365.2 588.50,368.5 588.55,366.8 588.60,364.1 588.65,364.4 588.70,365.4 588.75,367.8 588.80,367.5 588.85,363.2 588.90,357.9 588.95,359.1 589.00,364.6 589.05,369.5 589.10,368.7 589.15,361.3 589.20,362.8 589.25,368.6 589.30,367.7 589.35,366.2 589.40,365.4 589.45,363.9 589.50,365.1 589.55,365.1 589.60,366.2 589.65,365.0 589.70,365.6 589.75,365.2 589.80,365.3 589.85,364.0 589.90,361.9 589.95,364.4 590.00,365.1 590.05,365.1 590.10,365.4 590.15,370.0 590.20,370.7 590.25,367.1 590.30,364.8 590.35,359.8 590.40,364.2 590.45,365.0 590.50,367.3 590.55,369.6 590.60,365.4 590.65,362.8 590.70,360.5 590.75,361.9 590.80,365.2 590.85,363.5 590.90,362.3 590.95,365.1 591.00,368.2 591.05,368.2 591.10,366.0 591.15,369.4 591.20,367.9 591.25,365.4 591.30,366.3 591.35,370.1 591.40,365.1 591.45,355.8 591.50,352.9 591.55,360.9 591.60,366.9 591.65,365.6 591.70,365.2 591.75,368.6 591.80,370.5 591.85,365.0 591.90,362.0 591.95,364.7 592.00,366.2 592.05,363.8 592.10,360.9 592.15,371.4 592.20,371.5 592.25,363.7 592.30,361.6 592.35,361.7 592.40,364.0 592.45,366.9 592.50,373.6 592.55,371.5 592.60,365.2 592.65,359.2 592.70,362.7 592.75,365.4 592.80,367.1 592.85,364.1 592.90,362.6 592.95,365.0 593.00,368.1 593.05,369.0 593.10,365.2 593.15,362.9 593.20,360.2 593.25,362.5 593.30,369.1 593.35,371.8 593.40,363.6 593.45,359.4 593.50,364.7 593.55,366.3 593.60,366.9 593.65,365.3 593.70,367.2 593.75,366.3 593.80,359.5 593.85,358.0 593.90,363.8 593.95,369.5 594.00,371.4 594.05,365.3 594.10,364.8 594.15,366.0 594.20,366.7 594.25,368.2 594.30,369.8 594.35,364.9 594.40,361.4 594.45,362.2 594.50,360.1 594.55,364.2 594.60,365.3 594.65,365.1 594.70,360.4 594.75,365.4 594.80,373.0 594.85,364.5 594.90,362.9 594.95,365.0 595.00,371.2 595.05,365.8 595.10,362.8 595.15,366.3 595.20,367.2 595.25,367.2 595.30,365.7 595.35,363.8 595.40,362.8 595.45,363.6 595.50,366.3 595.55,367.6 595.60,362.9 595.65,357.7 595.70,365.0 595.75,366.3 595.80,366.6 595.85,372.7 595.90,369.6 595.95,365.1 596.00,355.8 596.05,359.9 596.10,366.4 596.15,369.4 596.20,368.4 596.25,364.5 596.30,363.5 596.35,361.5 596.40,363.8 596.45,367.9 596.50,369.4 596.55,365.1 596.60,364.7 596.65,364.5 596.70,365.3 596.75,360.3 596.80,356.8 596.85,366.1 596.90,373.5 596.95,374.4 597.00,366.2 597.05,365.0 597.10,357.4 597.15,356.3 597.20,362.2 597.25,368.0 597.30,373.2 597.35,371.7 597.40,364.5 597.45,362.4 597.50,363.1 597.55,365.1 597.60,369.7 597.65,369.3 597.70,367.8 597.75,364.5 597.80,359.6 597.85,353.3 597.90,361.8 597.95,364.7 598.00,367.0 598.05,371.1 598.10,374.7 598.15,369.8 598.20,367.8 598.25,366.3 598.30,362.8 598.35,354.6 598.40,358.8 598.45,365.0 598.50,365.3 598.55,366.7 598.60,366.4 598.65,363.6 598.70,361.4 598.75,363.1 598.80,366.2 598.85,367.1 598.90,371.6 598.95,370.4 599.00,368.1 599.05,365.2 599.10,360.4 599.15,358.6 599.20,365.8 599.25,366.7 599.30,365.6 599.35,364.7 599.40,360.2 599.45,362.6 599.50,364.0 599.55,360.3 599.60,367.3 599.65,382.9 599.70,370.3 599.75,364.5 599.80,361.9 599.85,364.1 599.90,363.3 599.95,366.8 600.00,366.1 600.05,365.3 600.10,365.0 600.15,365.4 600.20,365.3 600.25,360.1 600.30,363.0 600.35,365.0 600.40,366.3 600.45,368.2 600.50,367.2 600.55,366.9 600.60,368.9 600.65,364.5 600.70,357.2 600.75,356.7 600.80,368.8 600.85,373.9 600.90,367.5 600.95,364.4 601.00,358.5 601.05,363.3 601.10,364.7 601.15,366.2 601.20,370.2 601.25,365.4 601.30,365.1 601.35,364.8 601.40,365.0 601.45,368.2 601.50,370.4 601.55,365.9 601.60,356.9 601.65,359.3 601.70,365.0 601.75,372.4 601.80,366.2 601.85,365.6 601.90,361.6 601.95,354.8 602.00,358.5 602.05,367.1 602.10,367.9 602.15,363.5 602.20,364.6 602.25,367.5 602.30,371.0 602.35,371.2 602.40,368.0 602.45,364.7 602.50,360.9 602.55,361.5 602.60,360.8 602.65,365.2 602.70,372.9 602.75,371.8 602.80,365.9 602.85,365.9 602.90,359.1 602.95,357.0 603.00,354.4 603.05,363.8 603.10,369.3 603.15,368.1 603.20,365.8 603.25,368.1 603.30,366.9 603.35,362.5 603.40,365.4 603.45,370.5 603.50,367.5 603.55,362.9 603.60,362.6 603.65,364.6 603.70,367.3 603.75,366.4 603.80,365.6 603.85,365.0 603.90,358.2 603.95,359.0 604.00,365.6 604.05,374.1 604.10,365.8 604.15,364.2 604.20,366.4 604.25,366.2 604.30,366.0 604.35,364.0 604.40,364.1 604.45,365.3 604.50,365.3 604.55,362.5 604.60,359.9 604.65,363.0 604.70,368.0 604.75,373.8 604.80,369.1 604.85,365.1 604.90,364.5 604.95,364.7 605.00,365.0 605.05,365.8 605.10,363.8 605.15,359.2 605.20,365.0 605.25,374.5 605.30,368.7 605.35,363.9 605.40,364.5 605.45,358.8 605.50,360.7 605.55,368.7 605.60,369.5 605.65,364.8 605.70,362.8 605.75,366.2 605.80,366.6 605.85,365.2 605.90,366.0 605.95,366.0 606.00,363.3 606.05,362.9 606.10,365.9 606.15,365.4 606.20,365.4 606.25,363.4 606.30,365.5 606.35,371.0 606.40,364.8 606.45,360.2 606.50,360.9 606.55,361.7 606.60,364.7 606.65,370.4 606.70,372.5 606.75,373.0 606.80,366.5 606.85,365.5 606.90,366.3 606.95,363.6 607.00,358.6 607.05,358.6 607.10,363.3 607.15,365.9 607.20,365.3 607.25,369.2 607.30,373.4 607.35,364.8 607.40,362.1 607.45,362.7 607.50,363.6 607.55,362.8 607.60,362.9 607.65,364.9 607.70,370.5 607.75,368.0 607.80,364.8 607.85,364.2 607.90,364.8 607.95,365.0 608.00,363.8 608.05,365.6 608.10,369.3 608.15,372.1 608.20,365.6 608.25,361.6 608.30,361.5 608.35,364.4 608.40,365.2 608.45,363.8 608.50,365.3 608.55,371.3 608.60,368.6 608.65,362.6 608.70,361.4 608.75,365.1 608.80,368.8 608.85,366.0 608.90,365.3 608.95,365.3 609.00,363.8 609.05,363.2 609.10,364.6 609.15,365.6 609.20,366.8 609.25,368.2 609.30,368.7 609.35,365.0 609.40,360.9 609.45,363.3 609.50,365.2 609.55,365.7 609.60,365.1 609.65,357.6 609.70,360.1 609.75,371.9 609.80,370.2 609.85,368.9 609.90,370.7 609.95,364.8 610.00,359.2 610.05,357.2 610.10,362.4 610.15,365.9 610.20,366.2 610.25,365.2 610.30,366.5 610.35,365.3 610.40,364.7 610.45,366.9 610.50,370.4 610.55,366.8 610.60,363.3 610.65,354.7 610.70,359.3 610.75,368.8 610.80,374.6 610.85,367.9 610.90,365.7 610.95,365.5 611.00,364.6 611.05,364.6 611.10,360.4 611.15,356.4 611.20,363.2 611.25,366.6 611.30,372.0 611.35,371.1 611.40,363.6 611.45,360.8 611.50,367.3 611.55,366.0 611.60,362.7 611.65,365.9 611.70,366.3 611.75,367.3 611.80,364.9 611.85,357.9 611.90,358.1 611.95,365.2 612.00,370.8 612.05,367.7 612.10,364.9 612.15,362.9 612.20,365.2 612.25,364.2 612.30,365.0 612.35,368.2 612.40,372.5 612.45,371.7 612.50,368.5 612.55,366.3 612.60,360.3 612.65,364.3 612.70,364.5 612.75,360.0 612.80,358.1 612.85,363.2 612.90,365.8 612.95,368.3 613.00,363.5 613.05,364.0 613.10,367.5 613.15,368.4 613.20,365.2 613.25,364.8 613.30,365.4 613.35,365.8 613.40,364.1 613.45,362.2 613.50,365.6 613.55,367.3 613.60,365.8 613.65,365.4 613.70,367.4 613.75,366.8 613.80,366.0 613.85,360.9 613.90,360.8 613.95,365.3 614.00,368.2 614.05,365.3 614.10,364.4 614.15,365.2 614.20,364.0 614.25,364.2 614.30,365.5 614.35,365.2 614.40,365.2 614.45,366.1 614.50,365.9 614.55,366.6 614.60,365.6 614.65,364.4 614.70,364.4 614.75,365.2 614.80,364.0 614.85,365.4 614.90,367.8 614.95,365.4 615.00,363.9 615.05,365.6 615.10,365.2 615.15,365.3 615.20,365.2 615.25,363.1 615.30,361.8 615.35,366.1 615.40,369.1 615.45,363.7 615.50,365.1 615.55,367.1 615.60,365.5 615.65,362.6 615.70,364.7 615.75,365.2 615.80,362.8 615.85,362.4 615.90,365.8 615.95,369.0 616.00,370.1 616.05,366.2 616.10,365.4 616.15,365.9 616.20,365.3 616.25,365.0 616.30,362.9 616.35,361.2 616.40,363.5 616.45,360.8 616.50,361.7 616.55,368.7 616.60,368.9 616.65,365.4 616.70,368.2 616.75,372.7 616.80,368.3 616.85,362.6 616.90,361.6 616.95,362.5 617.00,364.0 617.05,364.6 617.10,364.5 617.15,365.2 617.20,366.5 617.25,365.1 617.30,365.9 617.35,369.2 617.40,365.2 617.45,365.4 617.50,364.6 617.55,364.5 617.60,367.7 617.65,367.8 617.70,364.8 617.75,357.4 617.80,360.5 617.85,367.7 617.90,373.1 617.95,366.4 618.00,364.4 618.05,361.5 618.10,360.2 618.15,363.4 618.20,364.6 618.25,365.8 618.30,368.2 618.35,366.1 618.40,365.4 618.45,365.4 618.50,366.7 618.55,370.4 618.60,365.5 618.65,365.2 618.70,362.4 618.75,360.5 618.80,361.8 618.85,364.5 618.90,365.2 618.95,364.2 619.00,364.7 619.05,365.6 619.10,367.7 619.15,368.4 619.20,368.7 619.25,368.1 619.30,368.5 619.35,365.8 619.40,361.8 619.45,361.7 619.50,363.4 619.55,365.0 619.60,365.3 619.65,365.7 619.70,364.1 619.75,364.8 619.80,359.3 619.85,362.1 619.90,366.0 619.95,372.4 620.00,372.2 620.05,366.2 620.10,364.9 620.15,361.5 620.20,360.2 620.25,365.1 620.30,366.4 620.35,365.5 620.40,365.9 620.45,362.1 620.50,363.3 620.55,365.0 620.60,366.7 620.65,371.0 620.70,367.4 620.75,365.4 620.80,368.1 620.85,366.3 620.90,362.7 620.95,361.1 621.00,364.2 621.05,365.7 621.10,366.0 621.15,364.1 621.20,361.6 621.25,365.5 621.30,368.6 621.35,365.3 621.40,363.7 621.45,361.2 621.50,363.2 621.55,366.1 621.60,372.5 621.65,369.7 621.70,367.3 621.75,366.5 621.80,363.9 621.85,357.1 621.90,359.5 621.95,365.8 622.00,365.2 622.05,365.3 622.10,366.2 622.15,366.3 622.20,365.5 622.25,362.6 622.30,363.3 622.35,365.1 622.40,367.5 622.45,367.4 622.50,368.3 622.55,366.5 622.60,364.4 622.65,365.2 622.70,365.7 622.75,361.6 622.80,364.0 622.85,365.6 622.90,364.6 622.95,364.0 623.00,363.8 623.05,362.8 623.10,364.3 623.15,366.9 623.20,372.5 623.25,371.3 623.30,365.6 623.35,362.8 623.40,364.0 623.45,362.5 623.50,363.6 623.55,365.9 623.60,365.4 623.65,364.0 623.70,364.1 623.75,365.2 623.80,367.0 623.85,365.5 623.90,365.5 623.95,368.9 624.00,368.8 624.05,367.4 624.10,365.3 624.15,359.4 624.20,357.1 624.25,363.5 624.30,366.9 624.35,366.2 624.40,365.4 624.45,365.3 624.50,367.1 624.55,365.5 624.60,359.6 624.65,364.9 624.70,367.0 624.75,365.4 624.80,366.0 624.85,364.7 624.90,362.8 624.95,365.2 625.00,365.4 625.05,365.6 625.10,366.1 625.15,361.7 625.20,359.8 625.25,366.8 625.30,376.2 625.35,370.3 625.40,364.7 625.45,363.5 625.50,364.1 625.55,363.3 625.60,359.4 625.65,362.8 625.70,368.2 625.75,368.3 625.80,366.8 625.85,365.2 625.90,365.5 625.95,366.1 626.00,366.3 626.05,365.1 626.10,364.1 626.15,364.5 626.20,361.9 626.25,364.3 626.30,367.6 626.35,371.6 626.40,365.5 626.45,359.4 626.50,361.8 626.55,365.4 626.60,370.3 626.65,368.9 626.70,361.8 626.75,362.4 626.80,366.0 626.85,367.9 626.90,364.3 626.95,362.5 627.00,361.0 627.05,365.2 627.10,366.7 627.15,370.8 627.20,372.4 627.25,366.7 627.30,364.2 627.35,361.5 627.40,356.3 627.45,362.0 627.50,365.9 627.55,368.5 627.60,368.3 627.65,364.5 627.70,363.1 627.75,365.1 627.80,365.8 627.85,367.6 627.90,362.9 627.95,363.4 628.00,364.2 628.05,365.2 628.10,367.3 628.15,368.2 628.20,368.2 628.25,363.1 628.30,359.4 628.35,365.6 628.40,369.4 628.45,365.9 628.50,365.9 628.55,366.1 628.60,362.1 628.65,363.9 628.70,366.7 628.75,366.0 628.80,364.4 628.85,363.1 628.90,361.6 628.95,364.7 629.00,365.6 629.05,368.6 629.10,367.2 629.15,366.2 629.20,366.6 629.25,365.4 629.30,362.1 629.35,363.1 629.40,365.1 629.45,366.6 629.50,365.1 629.55,359.3 629.60,362.9 629.65,365.5 629.70,370.1 629.75,369.5 629.80,365.6 629.85,364.3 629.90,367.2 629.95,366.3 630.00,368.1 630.05,364.8 630.10,360.1 630.15,363.6 630.20,365.2 630.25,363.3 630.30,362.6 630.35,363.1 630.40,364.8 630.45,365.3 630.50,365.7 630.55,365.1 630.60,368.9 630.65,371.7 630.70,364.9 630.75,363.4 630.80,365.3 630.85,367.3 630.90,366.2 630.95,364.9 631.00,362.3 631.05,365.2 631.10,366.6 631.15,365.2 631.20,364.7 631.25,364.5 631.30,365.5 631.35,365.2 631.40,359.5 631.45,360.5 631.50,366.1 631.55,368.8 631.60,366.1 631.65,362.4 631.70,365.7 631.75,369.1 631.80,369.0 631.85,365.0 631.90,362.8 631.95,366.1 632.00,367.1 632.05,363.7 632.10,363.9 632.15,367.0 632.20,367.1 632.25,365.1 632.30,362.1 632.35,360.7 632.40,370.5 632.45,367.5 632.50,360.7 632.55,362.0 632.60,364.3 632.65,364.9 632.70,366.9 632.75,365.7 632.80,362.2 632.85,363.0 632.90,368.2 632.95,371.1 633.00,365.1 633.05,365.2 633.10,370.7 633.15,366.9 633.20,361.7 633.25,357.6 633.30,364.5 633.35,365.7 633.40,365.2 633.45,363.3 633.50,365.3 633.55,367.5 633.60,367.6 633.65,364.4 633.70,362.3 633.75,365.3 633.80,373.4 633.85,372.0 633.90,364.9 633.95,362.0 634.00,361.9 634.05,366.0 634.10,365.2 634.15,356.7 634.20,363.2 634.25,370.1 634.30,368.1 634.35,365.8 634.40,365.2 634.45,365.7 634.50,366.3 634.55,366.6 634.60,361.7 634.65,359.4 634.70,363.0 634.75,365.2 634.80,365.8 634.85,365.2 634.90,364.4 634.95,367.1 635.00,367.0 635.05,365.4 635.10,365.5 635.15,365.3 635.20,363.4 635.25,364.9 635.30,365.0 635.35,364.0 635.40,363.2 635.45,366.1 635.50,368.9 635.55,366.3 635.60,365.4 635.65,364.5 635.70,364.4 635.75,370.0 635.80,371.4 635.85,364.3 635.90,362.6 635.95,363.4 636.00,364.3 636.05,365.5 636.10,367.1 636.15,364.8 636.20,358.9 636.25,361.3 636.30,365.5 636.35,377.7 636.40,371.5 636.45,365.4 636.50,363.4 636.55,363.0 636.60,365.3 636.65,362.7 636.70,360.5 636.75,361.3 636.80,364.9 636.85,365.2 636.90,363.5 636.95,366.0 637.00,368.0 637.05,370.5 637.10,370.6 637.15,365.9 637.20,364.2 637.25,365.1 637.30,371.3 637.35,368.6 637.40,361.9 637.45,359.3 637.50,362.3 637.55,362.8 637.60,364.5 637.65,364.4 637.70,365.1 637.75,365.4 637.80,366.8 637.85,366.7 637.90,365.3 637.95,365.3 638.00,367.6 638.05,366.6 638.10,365.4 638.15,361.4 638.20,360.4 638.25,359.4 638.30,364.2 638.35,368.9 638.40,372.5 638.45,373.2 638.50,368.0 638.55,363.7 638.60,366.1 638.65,364.8 638.70,363.1 638.75,361.9 638.80,362.6 638.85,363.1 638.90,365.5 638.95,365.6 639.00,365.7 639.05,367.0 639.10,367.5 639.15,367.6 639.20,365.0 639.25,363.1 639.30,365.2 639.35,365.0 639.40,365.3 639.45,361.6 639.50,354.8 639.55,367.8 639.60,374.6 639.65,368.2 639.70,363.2 639.75,350.9 639.80,357.8 639.85,370.2 639.90,371.0 639.95,365.9 640.00,367.4 640.05,369.4 640.10,369.6 640.15,365.9 640.20,363.1 640.25,360.7 640.30,362.7 640.35,365.0 640.40,362.8 640.45,358.0 640.50,362.9 640.55,371.0 640.60,373.6 640.65,367.5 640.70,364.8 640.75,357.1 640.80,362.2 640.85,369.8 640.90,375.2 640.95,369.3 641.00,363.5 641.05,361.9 641.10,364.4 641.15,367.8 641.20,370.7 641.25,364.5 641.30,360.9 641.35,360.3 641.40,362.9 641.45,366.2 641.50,364.8 641.55,363.4 641.60,365.7 641.65,365.2 641.70,364.7 641.75,371.7 641.80,372.7 641.85,361.2 641.90,357.9 641.95,362.1 642.00,365.7 642.05,363.9 642.10,359.1 642.15,365.1 642.20,371.3 642.25,371.6 642.30,379.2 642.35,371.2 642.40,359.0 642.45,358.3 642.50,364.3 642.55,366.8 642.60,366.4 642.65,366.2 642.70,366.2 642.75,365.3 642.80,365.2 642.85,364.7 642.90,361.0 642.95,359.8 643.00,361.8 643.05,362.7 643.10,365.3 643.15,366.8 643.20,371.4 643.25,370.9 643.30,365.5 643.35,365.1 643.40,354.7 643.45,358.1 643.50,366.6 643.55,368.0 643.60,372.6 643.65,373.5 643.70,364.2 643.75,357.3 643.80,364.8 643.85,364.5 643.90,361.5 643.95,365.2 644.00,368.4 644.05,364.5 644.10,364.9 644.15,370.7 644.20,367.2 644.25,372.2 644.30,366.9 644.35,358.5 644.40,354.8 644.45,356.1 644.50,366.0 644.55,365.9 644.60,364.9 644.65,373.0 644.70,379.5 644.75,363.3 644.80,359.4 644.85,365.1 644.90,363.1 644.95,362.3 645.00,366.0 645.05,366.2 645.10,365.0 645.15,365.2 645.20,365.5 645.25,364.8 645.30,367.3 645.35,371.7 645.40,372.1 645.45,364.0 645.50,350.9 645.55,359.4 645.60,365.3 645.65,364.8 645.70,364.1 645.75,366.9 645.80,371.6 645.85,368.3 645.90,360.1 645.95,362.7 646.00,371.9 646.05,369.7 646.10,364.7 646.15,363.8 646.20,364.1 646.25,366.5 646.30,365.3 646.35,363.6 646.40,364.8 646.45,365.7 646.50,361.7 646.55,365.3 646.60,371.8 646.65,369.4 646.70,364.2 646.75,349.1 646.80,355.5 646.85,366.3 646.90,372.0 646.95,375.3 647.00,367.7 647.05,367.6 647.10,364.9 647.15,364.2 647.20,363.2 647.25,359.0 647.30,363.4 647.35,363.8 647.40,364.4 647.45,365.0 647.50,365.4 647.55,365.8 647.60,366.8 647.65,367.5 647.70,365.6 647.75,365.7 647.80,365.2 647.85,365.1 647.90,366.6 647.95,368.3 648.00,365.4 648.05,360.2 648.10,361.8 648.15,361.5 648.20,365.2 648.25,368.7 648.30,365.1 648.35,364.8 648.40,367.8 648.45,365.2 648.50,357.6 648.55,364.0 648.60,366.8 648.65,369.1 648.70,365.1 648.75,365.1 648.80,364.4 648.85,366.2 648.90,368.3 648.95,365.5 649.00,363.6 649.05,363.9 649.10,368.6 649.15,369.3 649.20,366.0 649.25,370.2 649.30,364.6 649.35,361.2 649.40,358.5 649.45,356.5 649.50,366.2 649.55,367.6 649.60,365.0 649.65,365.5 649.70,373.5 649.75,369.1 649.80,363.0 649.85,353.2 649.90,357.6 649.95,365.7 650.00,369.3 650.05,365.7 650.10,363.2 650.15,369.1 650.20,366.8 650.25,361.2 650.30,364.0 650.35,368.1 650.40,368.0 650.45,361.9 650.50,366.5 650.55,366.9 650.60,360.2 650.65,355.9 650.70,363.5 650.75,371.7 650.80,379.8 650.85,378.9 650.90,365.0 650.95,351.7 651.00,355.8 651.05,363.7 651.10,365.7 651.15,370.2 651.20,372.1 651.25,367.1 651.30,363.5 651.35,360.3 651.40,355.5 651.45,359.9 651.50,373.3 651.55,376.2 651.60,369.0 651.65,361.6 651.70,358.9 651.75,362.7 651.80,363.6 651.85,362.2 651.90,367.4 651.95,381.3 652.00,376.9 652.05,366.7 652.10,360.2 652.15,357.8 652.20,359.3 652.25,364.9 652.30,366.8 652.35,362.1 652.40,358.3 652.45,366.7 652.50,368.6 652.55,369.6 652.60,374.4 652.65,370.6 652.70,365.3 652.75,364.5 652.80,355.0 652.85,352.3 652.90,358.3 652.95,367.7 653.00,372.3 653.05,375.5 653.10,368.5 653.15,365.3 653.20,361.8 653.25,364.9 653.30,363.4 653.35,363.0 653.40,365.2 653.45,360.4 653.50,358.2 653.55,368.9 653.60,371.5 653.65,365.3 653.70,363.7 653.75,368.2 653.80,370.6 653.85,366.9 653.90,365.2 653.95,362.3 654.00,360.9 654.05,363.7 654.10,365.2 654.15,366.9 654.20,365.2 654.25,365.2 654.30,365.1 654.35,362.4 654.40,363.1 654.45,365.3 654.50,366.4 654.55,367.6 654.60,368.9 654.65,366.9 654.70,365.7 654.75,363.7 654.80,359.6 654.85,361.8 654.90,367.3 654.95,365.6 655.00,366.0 655.05,368.3 655.10,367.0 655.15,369.3 655.20,364.1 655.25,359.2 655.30,357.2 655.35,358.8 655.40,358.7 655.45,363.7 655.50,383.4 655.55,391.3 655.60,370.8 655.65,365.1 655.70,364.6 655.75,357.7 655.80,360.9 655.85,358.4 655.90,355.0 655.95,362.9 656.00,366.2 656.05,371.9 656.10,369.1 656.15,363.4 656.20,365.6 656.25,366.5 656.30,362.8 656.35,365.0 656.40,366.2 656.45,365.7 656.50,364.1 656.55,364.5 656.60,371.2 656.65,366.3 656.70,362.0 656.75,365.2 656.80,368.1 656.85,365.1 656.90,364.2 656.95,364.8 657.00,363.4 657.05,362.3 657.10,362.5 657.15,369.4 657.20,374.4 657.25,367.1 657.30,363.8 657.35,358.9 657.40,363.9 657.45,369.7 657.50,366.8 657.55,357.6 657.60,358.2 657.65,365.0 657.70,370.9 657.75,372.6 657.80,367.4 657.85,357.2 657.90,360.3 657.95,374.3 658.00,373.8 658.05,361.4 658.10,362.3 658.15,369.9 658.20,365.4 658.25,363.1 658.30,362.2 658.35,363.1 658.40,366.3 658.45,373.7 658.50,366.8 658.55,363.0 658.60,361.2 658.65,362.5 658.70,364.9 658.75,365.8 658.80,368.9 658.85,370.0 658.90,361.8 658.95,350.1 659.00,356.0 659.05,369.0 659.10,373.2 659.15,366.2 659.20,364.1 659.25,365.5 659.30,368.5 659.35,367.5 659.40,364.5 659.45,367.6 659.50,366.8 659.55,365.0 659.60,364.1 659.65,364.3 659.70,363.1 659.75,365.1 659.80,365.6 659.85,360.6 659.90,361.1 659.95,365.2 660.00,365.0 660.05,364.9 660.10,365.5 660.15,372.2 660.20,374.3 660.25,366.7 660.30,364.3 660.35,363.1 660.40,361.4 660.45,363.9 660.50,367.3 660.55,365.8 660.60,363.6 660.65,365.3 660.70,365.7 660.75,365.2 660.80,366.9 660.85,366.3 660.90,365.2 660.95,363.5 661.00,361.2 661.05,365.3 661.10,367.9 661.15,368.6 661.20,363.8 661.25,358.8 661.30,362.0 661.35,365.3 661.40,370.1 661.45,365.3 661.50,363.0 661.55,368.4 661.60,366.8 661.65,363.4 661.70,361.6 661.75,365.3 661.80,373.8 661.85,369.3 661.90,364.3 661.95,363.0 662.00,364.9 662.05,365.7 662.10,364.4 662.15,364.1 662.20,367.4 662.25,365.6 662.30,357.2 662.35,365.0 662.40,376.1 662.45,366.5 662.50,359.8 662.55,359.0 662.60,366.5 662.65,369.3 662.70,361.4 662.75,355.0 662.80,359.0 662.85,371.2 662.90,376.4 662.95,369.1 663.00,364.6 663.05,365.5 663.10,369.2 663.15,364.9 663.20,358.4 663.25,364.5 663.30,362.6 663.35,364.9 663.40,368.1 663.45,366.1 663.50,364.7 663.55,365.2 663.60,363.7 663.65,365.0 663.70,366.4 663.75,365.2 663.80,365.9 663.85,368.8 663.90,370.1 663.95,364.6 664.00,357.3 664.05,362.8 664.10,370.6 664.15,367.3 664.20,360.7 664.25,359.8 664.30,363.4 664.35,366.2 664.40,369.9 664.45,370.9 664.50,370.3 664.55,365.0 664.60,357.6 664.65,364.2 664.70,365.8 664.75,366.4 664.80,366.7 664.85,365.2 664.90,361.7 664.95,361.1 665.00,366.6 665.05,366.1 665.10,364.1 665.15,363.1 665.20,361.4 665.25,365.0 665.30,367.7 665.35,368.9 665.40,366.2 665.45,362.4 665.50,363.7 665.55,364.9 665.60,364.4 665.65,369.3 665.70,374.6 665.75,369.3 665.80,365.2 665.85,363.8 665.90,360.4 665.95,363.1 666.00,364.8 666.05,364.2 666.10,365.2 666.15,364.5 666.20,363.1 666.25,369.0 666.30,372.5 666.35,365.2 666.40,363.7 666.45,366.0 666.50,365.3 666.55,362.5 666.60,361.3 666.65,366.7 666.70,365.2 666.75,365.1 666.80,364.5 666.85,362.3 666.90,364.4 666.95,367.1 667.00,370.2 667.05,370.2 667.10,365.5 667.15,365.5 667.20,365.3 667.25,356.7 667.30,359.5 667.35,365.4 667.40,365.9 667.45,366.0 667.50,370.5 667.55,372.2 667.60,365.4 667.65,364.4 667.70,363.4 667.75,361.4 667.80,364.1 667.85,365.9 667.90,366.6 667.95,364.0 668.00,362.6 668.05,365.2 668.10,364.9 668.15,364.1 668.20,365.1 668.25,367.4 668.30,365.6 668.35,363.8 668.40,364.8 668.45,365.5 668.50,366.0 668.55,366.7 668.60,368.3 668.65,365.1 668.70,359.0 668.75,362.2 668.80,365.4 668.85,368.2 668.90,366.4 668.95,365.2 669.00,367.7 669.05,366.9 669.10,365.1 669.15,362.2 669.20,363.0 669.25,361.6 669.30,367.7 669.35,368.0 669.40,365.2 669.45,364.9 669.50,366.3 669.55,365.3 669.60,364.7 669.65,366.0 669.70,363.8 669.75,364.7 669.80,366.1 669.85,369.1 669.90,366.6 669.95,365.1 670.00,364.8 670.05,365.0 670.10,364.3 670.15,360.1 670.20,362.4 670.25,365.7 670.30,367.2 670.35,364.3 670.40,363.7 670.45,365.2 670.50,362.8 670.55,365.1 670.60,368.9 670.65,367.6 670.70,365.4 670.75,366.3 670.80,365.0 670.85,364.2 670.90,365.2 670.95,366.6 671.00,367.9 671.05,365.3 671.10,365.1 671.15,362.6 671.20,364.6 671.25,369.4 671.30,366.1 671.35,363.9 671.40,365.2 671.45,362.9 671.50,357.6 671.55,362.2 671.60,365.6 671.65,368.2 671.70,367.7 671.75,365.2 671.80,364.8 671.85,363.4 671.90,365.6 671.95,372.2 672.00,370.6 672.05,362.4 672.10,360.6 672.15,364.6 672.20,365.5 672.25,367.8 672.30,365.6 672.35,362.9 672.40,361.8 672.45,366.3 672.50,369.1 672.55,367.2 672.60,365.1 672.65,365.3 672.70,365.2 672.75,363.8 672.80,358.7 672.85,361.4 672.90,366.4 672.95,368.2 673.00,365.8 673.05,368.0 673.10,367.4 673.15,365.2 673.20,364.4 673.25,360.7 673.30,359.9 673.35,365.2 673.40,370.6 673.45,366.0 673.50,365.2 673.55,365.0 673.60,364.8 673.65,366.2 673.70,365.3 673.75,363.0 673.80,366.1 673.85,369.5 673.90,364.3 673.95,363.4 674.00,364.0 674.05,365.1 674.10,365.5 674.15,363.8 674.20,364.1 674.25,365.2 674.30,366.2 674.35,364.5 674.40,365.0 674.45,364.5 674.50,365.7 674.55,368.0 674.60,366.0 674.65,363.3 674.70,366.0 674.75,374.4 674.80,372.8 674.85,365.0 674.90,355.2 674.95,359.2 675.00,364.9 675.05,365.8 675.10,369.4 675.15,365.5 675.20,364.2 675.25,365.1 675.30,362.1 675.35,360.7 675.40,370.1 675.45,373.3 675.50,364.7 675.55,357.7 675.60,361.3 675.65,365.4 675.70,366.6 675.75,368.0 675.80,368.2 675.85,365.2 675.90,360.8 675.95,363.8 676.00,368.8 676.05,369.1 676.10,364.3 676.15,361.3 676.20,359.8 676.25,363.6 676.30,367.4 676.35,367.3 676.40,367.7 676.45,365.5 676.50,366.1 676.55,365.8 676.60,365.5 676.65,365.4 676.70,364.1 676.75,364.6 676.80,359.0 676.85,361.4 676.90,366.7 676.95,367.2 677.00,366.4 677.05,365.2 677.10,365.4 677.15,364.7 677.20,363.7 677.25,367.7 677.30,371.6 677.35,367.7 677.40,364.8 677.45,362.3 677.50,362.2 677.55,369.3 677.60,367.1 677.65,358.1 677.70,356.0 677.75,362.4 677.80,365.2 677.85,369.4 677.90,366.5 677.95,365.3 678.00,365.9 678.05,365.3 678.10,367.9 678.15,365.8 678.20,366.3 678.25,366.9 678.30,365.5 678.35,361.6 678.40,359.6 678.45,363.4 678.50,364.9 678.55,367.2 678.60,369.5 678.65,368.5 678.70,364.8 678.75,362.3 678.80,365.9 678.85,364.8 678.90,363.9 678.95,364.8 679.00,364.4 679.05,367.8 679.10,365.5 679.15,362.5 679.20,365.3 679.25,365.2 679.30,359.2 679.35,361.5 679.40,369.7 679.45,370.5 679.50,367.3 679.55,365.6 679.60,366.0 679.65,366.9 679.70,364.4 679.75,357.0 679.80,355.1 679.85,364.3 679.90,368.2 679.95,373.2 680.00,375.4 680.05,367.8 680.10,364.9 680.15,361.4 680.20,362.5 680.25,362.5 680.30,362.9 680.35,364.4 680.40,364.3 680.45,366.1 680.50,369.6 680.55,365.3 680.60,366.2 680.65,366.8 680.70,364.8 680.75,363.0 680.80,364.4 680.85,364.6 680.90,364.8 680.95,365.7 681.00,365.2 681.05,365.4 681.10,366.2 681.15,365.4 681.20,365.6 681.25,369.4 681.30,365.5 681.35,361.2 681.40,365.6 681.45,367.2 681.50,360.0 681.55,360.5 681.60,368.4 681.65,375.5 681.70,365.4 681.75,350.1 681.80,355.6 681.85,364.5 681.90,368.0 681.95,369.2 682.00,372.3 682.05,368.9 682.10,364.8 682.15,361.9 682.20,364.4 682.25,365.0 682.30,359.3 682.35,365.5 682.40,366.6 682.45,366.8 682.50,366.6 682.55,367.3 682.60,367.1 682.65,365.2 682.70,364.7 682.75,370.3 682.80,366.8 682.85,353.1 682.90,349.0 682.95,363.9 683.00,366.8 683.05,368.4 683.10,365.3 683.15,364.9 683.20,366.4 683.25,367.7 683.30,365.9 683.35,365.2 683.40,365.2 683.45,367.8 683.50,366.6 683.55,359.4 683.60,363.8 683.65,366.0 683.70,371.9 683.75,367.8 683.80,359.7 683.85,352.8 683.90,364.0 683.95,368.6 684.00,365.4 684.05,364.9 684.10,365.4 684.15,363.3 684.20,360.6 684.25,362.1 684.30,366.7 684.35,374.6 684.40,372.4 684.45,367.5 684.50,365.3 684.55,365.2 684.60,361.4 684.65,364.4 684.70,364.3 684.75,364.9 684.80,362.6 684.85,363.9 684.90,366.0 684.95,368.2 685.00,369.3 685.05,368.5 685.10,365.2 685.15,365.3 685.20,366.3 685.25,362.5 685.30,360.8 685.35,364.5 685.40,363.0 685.45,357.5 685.50,363.9 685.55,368.1 685.60,368.4 685.65,370.1 685.70,373.1 685.75,367.5 685.80,362.2 685.85,359.4 685.90,364.4 685.95,365.2 686.00,363.2 686.05,365.2 686.10,365.0 686.15,367.0 686.20,366.0 686.25,360.0 686.30,361.4 686.35,366.3 686.40,369.7 686.45,374.2 686.50,368.2 686.55,364.7 686.60,361.7 686.65,361.1 686.70,364.5 686.75,367.1 686.80,365.1 686.85,364.0 686.90,365.3 686.95,365.1 687.00,364.9 687.05,365.3 687.10,366.7 687.15,367.5 687.20,364.2 687.25,364.8 687.30,365.3 687.35,365.4 687.40,364.5 687.45,363.4 687.50,369.7 687.55,370.4 687.60,363.1 687.65,364.0 687.70,364.9 687.75,360.0 687.80,361.0 687.85,367.9 687.90,366.2 687.95,364.6 688.00,361.4 688.05,363.5 688.10,373.5 688.15,374.9 688.20,368.0 688.25,366.6 688.30,364.5 688.35,364.4 688.40,366.2 688.45,362.0 688.50,355.6 688.55,361.1 688.60,363.0 688.65,365.4 688.70,370.1 688.75,371.2 688.80,365.5 688.85,365.0 688.90,365.7 688.95,365.0 689.00,364.2 689.05,365.4 689.10,364.8 689.15,365.9 689.20,367.0 689.25,362.2 689.30,363.3 689.35,365.4 689.40,366.4 689.45,366.8 689.50,367.6 689.55,365.1 689.60,361.8 689.65,354.3 689.70,358.6 689.75,366.6 689.80,369.2 689.85,366.8 689.90,367.0 689.95,370.3 690.00,370.3 690.05,365.9 690.10,365.6 690.15,363.9 690.20,360.1 690.25,359.9 690.30,363.8 690.35,365.6 690.40,366.0 690.45,365.2 690.50,366.0 690.55,363.9 690.60,359.8 690.65,364.4 690.70,370.4 690.75,376.3 690.80,370.4 690.85,362.7 690.90,361.3 690.95,364.5 691.00,365.0 691.05,360.8 691.10,360.6 691.15,367.5 691.20,369.2 691.25,367.0 691.30,368.3 691.35,363.0 691.40,361.4 691.45,365.4 691.50,371.5 691.55,366.0 691.60,360.8 691.65,359.6 691.70,361.0 691.75,371.8 691.80,367.6 691.85,366.5 691.90,369.6 691.95,368.5 692.00,364.4 692.05,361.1 692.10,359.8 692.15,363.2 692.20,365.7 692.25,367.4 692.30,365.3 692.35,363.7 692.40,366.4 692.45,365.6 692.50,364.0 692.55,364.9 692.60,363.9 692.65,362.9 692.70,366.1 692.75,366.0 692.80,365.2 692.85,367.3 692.90,367.6 692.95,367.4 693.00,364.8 693.05,358.6 693.10,359.3 693.15,367.2 693.20,372.4 693.25,365.6 693.30,365.8 693.35,365.2 693.40,365.1 693.45,361.5 693.50,362.8 693.55,364.2 693.60,368.1 693.65,368.1 693.70,368.6 693.75,365.4 693.80,363.7 693.85,364.2 693.90,363.1 693.95,364.3 694.00,363.4 694.05,361.1 694.10,365.1 694.15,377.2 694.20,374.4 694.25,364.8 694.30,363.0 694.35,363.2 694.40,363.1 694.45,362.2 694.50,364.4 694.55,365.1 694.60,366.5 694.65,365.5 694.70,367.5 694.75,369.3 694.80,364.9 694.85,366.2 694.90,366.5 694.95,361.7 695.00,361.7 695.05,367.6 695.10,366.6 695.15,364.1 695.20,364.4 695.25,365.6 695.30,365.6 695.35,361.4 695.40,360.1 695.45,364.9 695.50,365.3 695.55,368.8 695.60,371.7 695.65,368.8 695.70,364.7 695.75,359.5 695.80,366.2 695.85,368.3 695.90,364.5 695.95,364.1 696.00,365.4 696.05,365.4 696.10,365.1 696.15,360.6 696.20,356.6 696.25,363.7 696.30,370.6 696.35,366.6 696.40,367.4 696.45,364.4 696.50,365.2 696.55,366.3 696.60,364.7 696.65,364.8 696.70,367.2 696.75,366.7 696.80,365.6 696.85,361.8 696.90,357.7 696.95,365.4 697.00,382.1 697.05,371.0 697.10,363.2 697.15,356.8 697.20,359.9 697.25,365.3 697.30,371.9 697.35,365.9 697.40,361.1 697.45,364.9 697.50,367.7 697.55,365.7 697.60,364.2 697.65,363.0 697.70,365.3 697.75,369.4 697.80,367.3 697.85,364.8 697.90,364.8 697.95,363.7 698.00,363.0 698.05,366.6 698.10,366.0 698.15,362.2 698.20,359.2 698.25,367.2 698.30,377.3 698.35,365.3 698.40,358.6 698.45,358.3 698.50,365.5 698.55,371.1 698.60,367.7 698.65,366.5 698.70,364.2 698.75,365.0 698.80,363.2 698.85,357.8 698.90,364.6 698.95,368.1 699.00,368.9 699.05,366.7 699.10,367.0 699.15,367.0 699.20,361.7 699.25,366.2 699.30,367.9 699.35,366.9 699.40,365.0 699.45,355.8 699.50,359.1 699.55,362.3 699.60,365.0 699.65,370.3 699.70,371.2 699.75,362.3 699.80,359.8 699.85,366.2 699.90,367.6 699.95,366.3 700.00,365.4 700.05,364.5 700.10,364.5 700.15,365.5 700.20,365.3 700.25,363.4 700.30,359.7 700.35,366.2 700.40,373.7 700.45,378.0 700.50,365.3 700.55,365.0 700.60,367.3 700.65,366.0 700.70,359.6 700.75,356.6 700.80,361.3 700.85,369.1 700.90,368.2 700.95,361.6 701.00,357.4 701.05,362.8 701.10,363.8 701.15,365.7 701.20,369.6 701.25,371.3 701.30,369.7 701.35,365.5 701.40,362.7 701.45,363.8 701.50,365.6 701.55,365.6 701.60,366.1 701.65,361.5 701.70,363.4 701.75,365.2 701.80,365.2 701.85,364.9 701.90,364.7 701.95,368.4 702.00,369.7 702.05,362.6 702.10,359.3 702.15,364.5 702.20,363.6 702.25,367.6 702.30,371.3 702.35,367.1 702.40,367.7 702.45,366.5 702.50,368.9 702.55,363.0 702.60,353.1 702.65,358.4 702.70,363.0 702.75,367.4 702.80,368.1 702.85,366.3 702.90,366.3 702.95,368.2 703.00,365.0 703.05,364.3 703.10,368.1 703.15,367.3 703.20,364.2 703.25,365.2 703.30,366.0 703.35,365.1 703.40,364.4 703.45,359.5 703.50,364.6 703.55,368.8 703.60,365.2 703.65,362.6 703.70,359.9 703.75,360.7 703.80,365.4 703.85,367.7 703.90,368.7 703.95,367.9 704.00,365.3 704.05,365.9 704.10,370.4 704.15,365.4 704.20,360.3 704.25,359.7 704.30,361.4 704.35,366.1 704.40,366.0 704.45,366.3 704.50,366.5 704.55,365.2 704.60,363.8 704.65,363.3 704.70,365.7 704.75,373.0 704.80,367.4 704.85,362.8 704.90,360.7 704.95,359.7 705.00,364.6 705.05,367.6 705.10,367.7 705.15,371.0 705.20,367.5 705.25,364.6 705.30,364.9 705.35,365.9 705.40,364.8 705.45,361.4 705.50,363.5 705.55,364.9 705.60,365.1 705.65,363.4 705.70,363.8 705.75,367.4 705.80,371.3 705.85,365.7 705.90,364.6 705.95,366.1 706.00,364.3 706.05,363.2 706.10,368.1 706.15,366.7 706.20,364.0 706.25,363.6 706.30,365.8 706.35,364.8 706.40,365.0 706.45,364.7 706.50,363.2 706.55,364.8 706.60,368.1 706.65,367.4 706.70,363.2 706.75,364.5 706.80,365.4 706.85,368.1 706.90,364.9 706.95,364.9 707.00,366.5 707.05,364.1 707.10,364.4 707.15,365.4 707.20,365.0 707.25,364.7 707.30,364.1 707.35,367.6 707.40,366.8 707.45,363.1 707.50,365.1 707.55,367.7 707.60,366.1 707.65,364.2 707.70,365.1 707.75,365.6 707.80,364.7 707.85,365.4 707.90,365.3 707.95,362.9 708.00,366.4 708.05,369.5 708.10,365.8 708.15,362.7 708.20,364.1 708.25,366.0 708.30,365.2 708.35,360.2 708.40,361.9 708.45,367.0 708.50,367.1 708.55,365.2 708.60,365.3 708.65,363.3 708.70,358.4 708.75,363.3 708.80,367.7 708.85,376.1 708.90,367.6 708.95,365.0 709.00,363.5 709.05,366.0 709.10,364.9 709.15,364.9 709.20,365.0 709.25,364.0 709.30,362.4 709.35,369.8 709.40,371.3 709.45,363.4 709.50,361.9 709.55,364.9 709.60,365.0 709.65,367.6 709.70,368.7 709.75,369.4 709.80,365.4 709.85,358.3 709.90,358.9 709.95,366.1 710.00,366.2 710.05,365.8 710.10,368.9 710.15,365.3 710.20,355.8 710.25,356.4 710.30,365.2 710.35,367.0 710.40,370.6 710.45,367.8 710.50,364.4 710.55,364.7 710.60,364.0 710.65,365.3 710.70,365.8 710.75,367.5 710.80,365.6 710.85,365.1 710.90,363.4 710.95,362.4 711.00,367.0 711.05,372.0 711.10,368.4 711.15,365.5 711.20,359.9 711.25,357.1 711.30,366.8 711.35,370.1 711.40,365.0 711.45,361.6 711.50,360.4 711.55,365.3 711.60,369.9 711.65,367.9 711.70,365.4 711.75,364.0 711.80,361.3 711.85,363.5 711.90,364.4 711.95,367.1 712.00,368.6 712.05,369.5 712.10,366.7 712.15,356.9 712.20,360.7 712.25,367.1 712.30,366.2 712.35,362.9 712.40,365.4 712.45,371.8 712.50,367.3 712.55,365.0 712.60,364.6 712.65,365.3 712.70,365.2 712.75,362.0 712.80,363.2 712.85,364.8 712.90,365.1 712.95,365.2 713.00,370.9 713.05,369.4 713.10,364.7 713.15,361.1 713.20,364.4 713.25,366.4 713.30,366.1 713.35,364.0 713.40,361.7 713.45,365.3 713.50,365.8 713.55,361.9 713.60,365.1 713.65,366.0 713.70,367.8 713.75,365.5 713.80,362.2 713.85,364.3 713.90,370.8 713.95,368.3 714.00,364.9 714.05,362.4 714.10,364.6 714.15,365.2 714.20,365.2 714.25,372.6 714.30,372.3 714.35,364.9 714.40,355.7 714.45,359.3 714.50,364.0 714.55,359.2 714.60,362.2 714.65,365.4 714.70,370.8 714.75,375.5 714.80,370.5 714.85,365.4 714.90,364.9 714.95,361.8 715.00,361.3 715.05,364.0 715.10,365.2 715.15,366.3 715.20,370.1 715.25,367.0 715.30,360.9 715.35,359.9 715.40,364.8 715.45,367.7 715.50,365.5 715.55,365.1 715.60,366.1 715.65,364.8 715.70,362.4 715.75,365.8 715.80,365.5 715.85,369.3 715.90,369.6 715.95,367.6 716.00,369.5 716.05,366.3 716.10,360.8 716.15,356.2 716.20,354.0 716.25,362.3 716.30,368.2 716.35,367.9 716.40,365.2 716.45,364.8 716.50,365.0 716.55,366.0 716.60,366.8 716.65,366.4 716.70,363.5 716.75,362.8 716.80,366.6 716.85,366.1 716.90,361.3 716.95,357.6 717.00,359.3 717.05,368.2 717.10,377.0 717.15,370.8 717.20,365.7 717.25,366.1 717.30,366.2 717.35,364.4 717.40,360.2 717.45,364.7 717.50,362.5 717.55,363.2 717.60,369.0 717.65,368.5 717.70,364.7 717.75,369.3 717.80,367.9 717.85,360.4 717.90,357.7 717.95,361.7 718.00,363.8 718.05,371.1 718.10,371.8 718.15,367.8 718.20,364.8 718.25,364.1 718.30,365.2 718.35,365.9 718.40,364.2 718.45,361.0 718.50,365.1 718.55,367.0 718.60,364.9 718.65,363.6 718.70,365.3 718.75,367.4 718.80,366.5 718.85,367.7 718.90,364.9 718.95,361.2 719.00,363.7 719.05,365.7 719.10,366.0 719.15,366.2 719.20,366.7 719.25,364.5 719.30,363.2 719.35,365.7 719.40,365.4 719.45,365.2 719.50,364.0 719.55,364.9 719.60,365.0 719.65,365.8 719.70,366.1 719.75,366.3 719.80,365.2 719.85,364.5 719.90,365.3 719.95,366.6 720.00,365.6 720.05,360.4 720.10,362.4 720.15,366.4 720.20,364.6 720.25,359.3 720.30,365.3 720.35,369.9 720.40,368.0 720.45,365.7 720.50,365.8 720.55,363.1 720.60,365.5 720.65,368.2 720.70,365.0 720.75,360.3 720.80,356.5 720.85,363.3 720.90,365.6 720.95,369.8 721.00,371.0 721.05,367.4 721.10,365.5 721.15,364.8 721.20,364.9 721.25,364.9 721.30,365.8 721.35,365.6 721.40,365.3 721.45,366.5 721.50,364.8 721.55,356.3 721.60,352.7 721.65,361.3 721.70,365.2 721.75,375.1 721.80,383.7 721.85,374.8 721.90,366.1 721.95,363.1 722.00,365.2 722.05,366.0 722.10,365.2 722.15,358.7 722.20,356.9 722.25,363.2 722.30,367.5 722.35,367.7 722.40,366.3 722.45,363.8 722.50,362.0 722.55,361.5 722.60,357.6 722.65,364.6 722.70,366.8 722.75,369.5 722.80,377.2 722.85,380.2 722.90,366.5 722.95,360.2 723.00,356.1 723.05,358.6 723.10,363.2 723.15,364.5 723.20,364.1 723.25,364.9 723.30,369.4 723.35,369.3 723.40,367.5 723.45,369.7 723.50,366.1 723.55,363.9 723.60,365.2 723.65,368.1 723.70,362.3 723.75,352.8 723.80,362.4 723.85,366.9 723.90,365.1 723.95,364.1 724.00,366.6 724.05,373.3 724.10,367.8 724.15,366.9 724.20,366.7 724.25,358.9 724.30,352.9 724.35,358.5 724.40,365.5 724.45,374.1 724.50,365.8 724.55,365.3 724.60,369.3 724.65,368.3 724.70,364.9 724.75,360.7 724.80,365.2 724.85,363.9 724.90,364.3 724.95,365.1 725.00,365.4 725.05,363.8 725.10,363.6 725.15,368.4 725.20,369.0 725.25,365.7 725.30,362.8 725.35,365.5 725.40,365.7 725.45,366.0 725.50,365.3 725.55,364.6 725.60,364.6 725.65,361.1 725.70,362.2 725.75,365.8 725.80,368.3 725.85,370.7 725.90,368.1 725.95,366.3 726.00,364.5 726.05,361.2 726.10,364.0 726.15,363.0 726.20,361.4 726.25,366.6 726.30,375.5 726.35,369.1 726.40,363.2 726.45,360.4 726.50,364.8 726.55,366.8 726.60,365.5 726.65,361.8 726.70,363.0 726.75,370.2 726.80,370.1 726.85,365.4 726.90,357.6 726.95,360.1 727.00,368.9 727.05,368.1 727.10,363.9 727.15,360.0 727.20,359.0 727.25,365.6 727.30,376.0 727.35,368.6 727.40,365.2 727.45,363.9 727.50,364.9 727.55,365.2 727.60,366.3 727.65,365.1 727.70,359.5 727.75,364.0 727.80,365.5 727.85,369.1 727.90,369.0 727.95,366.7 728.00,363.7 728.05,358.4 728.10,362.4 728.15,371.1 728.20,369.7 728.25,365.1 728.30,364.4 728.35,364.3 728.40,364.5 728.45,365.3 728.50,366.9 728.55,364.8 728.60,360.5 728.65,364.9 728.70,365.5 728.75,365.5 728.80,367.9 728.85,366.0 728.90,366.9 728.95,365.8 729.00,368.0 729.05,364.6 729.10,357.0 729.15,368.6 729.20,367.2 729.25,359.3 729.30,357.7 729.35,363.3 729.40,364.3 729.45,365.6 729.50,368.3 729.55,368.3 729.60,370.5 729.65,365.4 729.70,365.5 729.75,363.9 729.80,364.5 729.85,365.2 729.90,365.0 729.95,365.7 730.00,364.9 730.05,366.0 730.10,367.5 730.15,364.3 730.20,359.0 730.25,364.0 730.30,365.1 730.35,368.7 730.40,370.1 730.45,365.5 730.50,365.0 730.55,360.3 730.60,362.9 730.65,367.4 730.70,365.4 730.75,366.4 730.80,365.7 730.85,365.4 730.90,355.1 730.95,359.7 731.00,367.3 731.05,370.2 731.10,368.9 731.15,365.7 731.20,362.3 731.25,365.0 731.30,370.0 731.35,369.7 731.40,364.5 731.45,362.5 731.50,364.5 731.55,365.4 731.60,366.8 731.65,365.0 731.70,361.8 731.75,357.3 731.80,362.6 731.85,368.5 731.90,365.6 731.95,366.7 732.00,368.0 732.05,360.0 732.10,363.4 732.15,369.6 732.20,367.9 732.25,364.9 732.30,364.6 732.35,363.2 732.40,362.0 732.45,365.2 732.50,371.4 732.55,371.1 732.60,364.6 732.65,364.9 732.70,365.3 732.75,364.7 732.80,364.1 732.85,364.6 732.90,364.2 732.95,366.7 733.00,369.3 733.05,364.4 733.10,361.4 733.15,363.7 733.20,365.3 733.25,365.8 733.30,364.5 733.35,365.8 733.40,365.1 733.45,364.0 733.50,367.2 733.55,364.9 733.60,362.0 733.65,365.1 733.70,367.4 733.75,371.3 733.80,369.6 733.85,369.4 733.90,366.2 733.95,362.6 734.00,363.8 734.05,363.8 734.10,357.1 734.15,361.1 734.20,363.4 734.25,361.9 734.30,365.5 734.35,368.1 734.40,366.1 734.45,367.5 734.50,366.3 734.55,365.3 734.60,365.4 734.65,365.5 734.70,365.7 734.75,370.1 734.80,367.0 734.85,365.1 734.90,363.6 734.95,362.0 735.00,360.9 735.05,364.8 735.10,367.5 735.15,368.7 735.20,359.4 735.25,362.5 735.30,372.9 735.35,366.8 735.40,364.5 735.45,363.0 735.50,363.5 735.55,365.7 735.60,366.6 735.65,365.9 735.70,363.6 735.75,364.2 735.80,369.0 735.85,371.6 735.90,364.6 735.95,361.4 736.00,365.3 736.05,363.8 736.10,365.3 736.15,375.0 736.20,366.7 736.25,357.4 736.30,361.8 736.35,366.4 736.40,359.5 736.45,352.0 736.50,364.6 736.55,377.3 736.60,373.1 736.65,367.3 736.70,365.6 736.75,364.1 736.80,356.1 736.85,364.1 736.90,365.9 736.95,365.3 737.00,373.0 737.05,373.7 737.10,362.5 737.15,361.7 737.20,364.2 737.25,362.9 737.30,366.5 737.35,365.7 737.40,361.8 737.45,364.4 737.50,367.1 737.55,366.2 737.60,359.6 737.65,359.2 737.70,366.5 737.75,365.2 737.80,366.2 737.85,369.8 737.90,368.2 737.95,365.4 738.00,366.8 738.05,365.5 738.10,364.2 738.15,365.2 738.20,365.2 738.25,361.0 738.30,362.7 738.35,367.4 738.40,365.8 738.45,363.2 738.50,368.2 738.55,370.6 738.60,367.7 738.65,365.2 738.70,364.1 738.75,362.3 738.80,360.0 738.85,363.5 738.90,371.9 738.95,368.7 739.00,361.7 739.05,366.2 739.10,364.6 739.15,361.1 739.20,365.2 739.25,365.0 739.30,365.1 739.35,365.0 739.40,363.5 739.45,371.1 739.50,371.6 739.55,355.4 739.60,362.4 739.65,373.9 739.70,369.9 739.75,360.1 739.80,360.2 739.85,367.3 739.90,365.4 739.95,368.1 740.00,369.2 740.05,364.1 740.10,361.6 740.15,362.0 740.20,361.0 740.25,365.2 740.30,367.3 740.35,367.1 740.40,367.9 740.45,367.4 740.50,362.5 740.55,359.7 740.60,366.2 740.65,368.4 740.70,360.6 740.75,364.7 740.80,368.1 740.85,367.9 740.90,367.1 740.95,364.2 741.00,359.7 741.05,359.6 741.10,365.2 741.15,372.6 741.20,373.0 741.25,375.7 741.30,366.0 741.35,351.3 741.40,355.1 741.45,365.5 741.50,365.7 741.55,363.0 741.60,363.6 741.65,363.8 741.70,366.1 741.75,365.5 741.80,365.4 741.85,373.2 741.90,366.3 741.95,361.7 742.00,363.0 742.05,364.0 742.10,362.7 742.15,369.9 742.20,370.8 742.25,367.1 742.30,368.0 742.35,364.4 742.40,365.2 742.45,364.9 742.50,361.1 742.55,363.1 742.60,363.3 742.65,367.1 742.70,362.7 742.75,364.6 742.80,374.1 742.85,367.6 742.90,358.2 742.95,364.0 743.00,366.5 743.05,365.5 743.10,364.3 743.15,364.8 743.20,370.4 743.25,370.6 743.30,366.2 743.35,364.0 743.40,353.7 743.45,358.2 743.50,365.6 743.55,368.2 743.60,368.4 743.65,369.0 743.70,368.2 743.75,362.5 743.80,360.7 743.85,363.6 743.90,364.7 743.95,362.6 744.00,364.6 744.05,367.6 744.10,367.2 744.15,367.9 744.20,373.5 744.25,364.9 744.30,358.8 744.35,358.8 744.40,361.8 744.45,369.1 744.50,372.2 744.55,375.1 744.60,370.0 744.65,362.1 744.70,360.0 744.75,356.0 744.80,362.8 744.85,362.6 744.90,360.3 744.95,363.7 745.00,364.9 745.05,367.2 745.10,377.2 745.15,372.7 745.20,366.7 745.25,364.8 745.30,361.1 745.35,361.7 745.40,364.8 745.45,366.5 745.50,365.2 745.55,363.9 745.60,370.8 745.65,373.2 745.70,373.2 745.75,364.9 745.80,356.0 745.85,355.6 745.90,355.7 745.95,364.4 746.00,368.1 746.05,372.1 746.10,377.6 746.15,372.0 746.20,368.4 746.25,364.0 746.30,354.6 746.35,353.7 746.40,363.4 746.45,366.6 746.50,363.7 746.55,359.3 746.60,365.2 746.65,367.1 746.70,369.9 746.75,369.5 746.80,361.1 746.85,356.8 746.90,362.6 746.95,365.3 747.00,372.3 747.05,378.1 747.10,369.0 747.15,362.5 747.20,364.1 747.25,365.0 747.30,364.3 747.35,365.9 747.40,364.5 747.45,360.3 747.50,365.0 747.55,369.1 747.60,370.9 747.65,365.9 747.70,357.1 747.75,353.0 747.80,359.8 747.85,364.7 747.90,365.0 747.95,367.1 748.00,384.2 748.05,377.2 748.10,364.9 748.15,357.8 748.20,356.4 748.25,366.0 748.30,371.8 748.35,372.6 748.40,365.6 748.45,363.8 748.50,365.2 748.55,364.4 748.60,362.3 748.65,364.8 748.70,365.2 748.75,366.4 748.80,363.5 748.85,364.3 748.90,365.3 748.95,362.8 749.00,361.4 749.05,364.4 749.10,369.6 749.15,371.5 749.20,365.3 749.25,360.6 749.30,365.3 749.35,370.8 749.40,373.5 749.45,371.4 749.50,366.3 749.55,354.4 749.60,341.3 749.65,360.6 749.70,370.6 749.75,363.7 749.80,362.7 749.85,365.2 749.90,368.5 749.95,372.5 750.00,370.3 750.05,366.1 750.10,366.7 750.15,365.6 750.20,357.7 750.25,361.5 750.30,366.4 750.35,365.5 750.40,364.7 750.45,365.1 750.50,365.3 750.55,370.0 750.60,366.3 750.65,363.3 750.70,361.2 750.75,364.1 750.80,364.6 750.85,361.4 750.90,359.8 750.95,366.7 751.00,376.0 751.05,380.2 751.10,368.2 751.15,354.0 751.20,356.4 751.25,365.0 751.30,372.7 751.35,374.9 751.40,366.5 751.45,363.2 751.50,359.7 751.55,356.2 751.60,360.2 751.65,365.6 751.70,365.1 751.75,366.5 751.80,368.1 751.85,366.4 751.90,366.9 751.95,365.2 752.00,365.8 752.05,365.1 752.10,358.2 752.15,361.7 752.20,368.7 752.25,371.4 752.30,367.4 752.35,366.3 752.40,362.7 752.45,365.3 752.50,368.0 752.55,366.8 752.60,365.0 752.65,362.7 752.70,366.0 752.75,365.2 752.80,357.4 752.85,358.7 752.90,363.1 752.95,365.1 753.00,370.2 753.05,368.0 753.10,366.8 753.15,366.3 753.20,363.6 753.25,362.0 753.30,365.0 753.35,364.9 753.40,368.4 753.45,365.3 753.50,362.2 753.55,364.2 753.60,367.5 753.65,372.1 753.70,365.6 753.75,355.1 753.80,354.4 753.85,366.6 753.90,369.5 753.95,365.4 754.00,366.4 754.05,367.0 754.10,363.4 754.15,366.1 754.20,375.5 754.25,373.8 754.30,368.0 754.35,361.8 754.40,354.1 754.45,358.0 754.50,362.8 754.55,367.0 754.60,365.7 754.65,364.5 754.70,365.4 754.75,364.1 754.80,365.4 754.85,373.7 754.90,370.7 754.95,362.5 755.00,355.7 755.05,363.2 755.10,365.7 755.15,366.0 755.20,366.6 755.25,365.5 755.30,364.3 755.35,365.2 755.40,362.7 755.45,365.9 755.50,365.8 755.55,363.9 755.60,357.9 755.65,359.1 755.70,366.9 755.75,375.8 755.80,374.3 755.85,370.1 755.90,365.7 755.95,366.5 756.00,364.0 756.05,361.5 756.10,362.9 756.15,359.4 756.20,352.7 756.25,357.9 756.30,365.9 756.35,375.1 756.40,381.3 756.45,375.2 756.50,365.3 756.55,364.8 756.60,363.6 756.65,362.3 756.70,364.4 756.75,359.0 756.80,364.1 756.85,366.1 756.90,365.4 756.95,365.6 757.00,368.2 757.05,367.1 757.10,364.7 757.15,365.0 757.20,366.5 757.25,365.5 757.30,362.9 757.35,360.2 757.40,364.5 757.45,368.6 757.50,367.5 757.55,364.6 757.60,361.1 757.65,365.3 757.70,367.0 757.75,370.2 757.80,371.5 757.85,360.9 757.90,355.0 757.95,360.3 758.00,361.5 758.05,366.8 758.10,369.3 758.15,371.4 758.20,370.3 758.25,362.3 758.30,362.7 758.35,364.9 758.40,366.4 758.45,367.0 758.50,365.7 758.55,364.9 758.60,361.6 758.65,363.4 758.70,364.6 758.75,365.2 758.80,369.9 758.85,370.0 758.90,365.7 758.95,365.9 759.00,364.9 759.05,364.1 759.10,362.5 759.15,360.8 759.20,362.1 759.25,364.7 759.30,368.6 759.35,366.8 759.40,362.9 759.45,364.7 759.50,373.0 759.55,368.1 759.60,365.2 759.65,363.9 759.70,367.0 759.75,365.2 759.80,361.0 759.85,364.4 759.90,365.3 759.95,361.7 760.00,363.6 760.05,369.6 760.10,366.4 760.15,365.8 760.20,366.9 760.25,364.5 760.30,359.0 760.35,363.7 760.40,366.7 760.45,369.8 760.50,366.2 760.55,364.0 760.60,362.9 760.65,365.0 760.70,363.6 760.75,365.5 760.80,368.8 760.85,368.2 760.90,367.6 760.95,363.2 761.00,357.4 761.05,360.4 761.10,366.8 761.15,369.2 761.20,370.0 761.25,366.2 761.30,365.6 761.35,365.1 761.40,360.3 761.45,358.8 761.50,362.0 761.55,365.0 761.60,369.2 761.65,369.2 761.70,366.1 761.75,365.1 761.80,365.1 761.85,365.7 761.90,367.1 761.95,365.4 762.00,362.8 762.05,365.3 762.10,370.2 762.15,364.5 762.20,357.2 762.25,362.5 762.30,365.2 762.35,365.2 762.40,364.9 762.45,365.8 762.50,368.8 762.55,368.3 762.60,364.6 762.65,361.6 762.70,364.8 762.75,367.3 762.80,366.2 762.85,365.5 762.90,365.2 762.95,366.3 763.00,367.0 763.05,364.1 763.10,365.1 763.15,365.2 763.20,360.4 763.25,353.2 763.30,361.4 763.35,367.7 763.40,369.6 763.45,372.9 763.50,370.2 763.55,366.0 763.60,365.7 763.65,368.0 763.70,358.8 763.75,355.0 763.80,368.2 763.85,374.5 763.90,364.1 763.95,352.9 764.00,363.8 764.05,366.9 764.10,365.8 764.15,360.2 764.20,364.4 764.25,368.9 764.30,369.9 764.35,364.9 764.40,361.9 764.45,364.1 764.50,365.5 764.55,366.6 764.60,365.8 764.65,365.8 764.70,365.9 764.75,366.5 764.80,365.7 764.85,359.5 764.90,364.2 764.95,370.4 765.00,364.8 765.05,363.6 765.10,365.6 765.15,364.9 765.20,366.0 765.25,365.3 765.30,365.3 765.35,367.1 765.40,362.7 765.45,354.0 765.50,359.9 765.55,368.8 765.60,374.7 765.65,370.2 765.70,370.5 765.75,365.0 765.80,356.0 765.85,365.1 765.90,369.2 765.95,365.6 766.00,363.3 766.05,364.9 766.10,366.2 766.15,365.2 766.20,362.1 766.25,359.0 766.30,363.0 766.35,366.9 766.40,367.0 766.45,367.4 766.50,370.2 766.55,365.6 766.60,363.8 766.65,362.1 766.70,362.7 766.75,365.0 766.80,367.8 766.85,370.2 766.90,367.1 766.95,364.5 767.00,363.1 767.05,367.2 767.10,365.9 767.15,358.1 767.20,361.3 767.25,364.7 767.30,365.4 767.35,364.9 767.40,365.5 767.45,364.4 767.50,364.9 767.55,371.3 767.60,373.6 767.65,365.2 767.70,364.4 767.75,366.0 767.80,361.5 767.85,365.0 767.90,365.9 767.95,364.3 768.00,364.8 768.05,364.7 768.10,364.9 768.15,362.9 768.20,364.1 768.25,365.1 768.30,368.5 768.35,366.0 768.40,364.5 768.45,364.5 768.50,366.9 768.55,367.7 768.60,365.7 768.65,364.9 768.70,365.7 768.75,366.2 768.80,364.3 768.85,363.5 768.90,366.7 768.95,365.4 769.00,359.2 769.05,363.7 769.10,366.1 769.15,365.5 769.20,364.0 769.25,364.5 769.30,368.2 769.35,371.5 769.40,365.1 769.45,362.7 769.50,359.6 769.55,362.7 769.60,366.8 769.65,378.2 769.70,373.2 769.75,365.1 769.80,360.0 769.85,364.0 769.90,365.6 769.95,364.7 770.00,364.9 770.05,362.5 770.10,358.5 770.15,361.7 770.20,367.7 770.25,372.4 770.30,365.0 770.35,362.9 770.40,366.6 770.45,366.6 770.50,365.1 770.55,367.6 770.60,369.8 770.65,365.5 770.70,357.8 770.75,360.8 770.80,368.0 770.85,364.9 770.90,366.2 770.95,368.1 771.00,364.2 771.05,363.0 771.10,364.3 771.15,364.7 771.20,360.6 771.25,363.3 771.30,364.8 771.35,364.4 771.40,364.3 771.45,368.7 771.50,370.8 771.55,368.8 771.60,370.5 771.65,366.9 771.70,364.4 771.75,367.6 771.80,368.3 771.85,362.4 771.90,363.7 771.95,364.5 772.00,362.1 772.05,356.1 772.10,359.2 772.15,369.9 772.20,373.5 772.25,368.0 772.30,364.6 772.35,364.8 772.40,364.1 772.45,365.2 772.50,365.7 772.55,364.9 772.60,365.3 772.65,366.0 772.70,364.8 772.75,365.1 772.80,364.8 772.85,365.2 772.90,368.4 772.95,366.4 773.00,363.0 773.05,360.7 773.10,365.3 773.15,366.4 773.20,364.3 773.25,364.6 773.30,365.2 773.35,363.3 773.40,367.1 773.45,368.7 773.50,363.7 773.55,363.2 773.60,365.6 773.65,365.5 773.70,369.2 773.75,366.2 773.80,365.2 773.85,363.9 773.90,363.1 773.95,364.3 774.00,363.9 774.05,365.1 774.10,364.2 774.15,364.8 774.20,365.1 774.25,367.1 774.30,369.8 774.35,367.8 774.40,365.3 774.45,366.0 774.50,365.3 774.55,364.2 774.60,365.5 774.65,363.7 774.70,363.3 774.75,362.9 774.80,362.9 774.85,365.0 774.90,368.4 774.95,368.5 775.00,367.0 775.05,367.9 775.10,367.1 775.15,363.0 775.20,362.7 775.25,364.9 775.30,363.2 775.35,364.9 775.40,367.0 775.45,363.8 775.50,360.3 775.55,365.2 775.60,364.4 775.65,364.4 775.70,371.2 775.75,371.4 775.80,367.2 775.85,365.2 775.90,365.1 775.95,362.1 776.00,363.6 776.05,365.2 776.10,364.4 776.15,364.8 776.20,366.5 776.25,367.9 776.30,367.3 776.35,367.4 776.40,366.2 776.45,365.2 776.50,363.9 776.55,360.9 776.60,360.6 776.65,361.7 776.70,365.1 776.75,365.1 776.80,367.5 776.85,367.3 776.90,366.5 776.95,367.7 777.00,367.3 777.05,366.0 777.10,362.4 777.15,357.7 777.20,366.2 777.25,365.3 777.30,362.3 777.35,365.7 777.40,367.4 777.45,366.2 777.50,364.2 777.55,361.3 777.60,361.5 777.65,365.2 777.70,368.0 777.75,372.8 777.80,368.5 777.85,364.9 777.90,361.5 777.95,365.6 778.00,372.4 778.05,365.3 778.10,355.3 778.15,362.3 778.20,365.5 778.25,364.5 778.30,363.5 778.35,365.3 778.40,365.5 778.45,367.0 778.50,367.7 778.55,367.2 778.60,368.0 778.65,367.4 778.70,361.5 778.75,359.0 778.80,364.7 778.85,364.9 778.90,362.7 778.95,363.5 779.00,365.3 779.05,364.3 779.10,364.9 779.15,366.6 779.20,370.7 779.25,371.7 779.30,369.4 779.35,365.4 779.40,362.7 779.45,364.4 779.50,363.9 779.55,362.0 779.60,364.5 779.65,365.5 779.70,359.4 779.75,360.4 779.80,369.9 779.85,376.6 779.90,374.4 779.95,364.0 780.00,353.3 780.05,359.3 780.10,365.1 780.15,370.6 780.20,368.8 780.25,366.7 780.30,367.3 780.35,365.5 780.40,364.7 780.45,364.8 780.50,363.0 780.55,364.7 780.60,362.3 780.65,362.2 780.70,363.4 780.75,365.5 780.80,365.4 780.85,368.5 780.90,369.6 780.95,364.3 781.00,367.2 781.05,370.0 781.10,362.3 781.15,361.6 781.20,363.3 781.25,364.6 781.30,365.2 781.35,367.6 781.40,366.1 781.45,364.5 781.50,365.7 781.55,368.7 781.60,365.8 781.65,364.7 781.70,365.2 781.75,364.5 781.80,363.9 781.85,362.3 781.90,361.4 781.95,365.7 782.00,365.3 782.05,364.8 782.10,361.8 782.15,362.8 782.20,370.6 782.25,374.3 782.30,369.7 782.35,364.8 782.40,361.6 782.45,365.5 782.50,372.4 782.55,368.6 782.60,361.2 782.65,360.2 782.70,361.0 782.75,362.7 782.80,363.7 782.85,368.7 782.90,366.3 782.95,365.6 783.00,367.3 783.05,366.0 783.10,365.1 783.15,364.1 783.20,363.0 783.25,360.6 783.30,365.0 783.35,371.1 783.40,374.4 783.45,376.7 783.50,368.6 783.55,363.7 783.60,359.3 783.65,357.6 783.70,348.5 783.75,358.4 783.80,366.0 783.85,366.8 783.90,366.1 783.95,374.8 784.00,372.3 784.05,364.5 784.10,363.4 784.15,365.2 784.20,365.1 784.25,363.6 784.30,365.2 784.35,370.4 784.40,367.7 784.45,358.9 784.50,362.1 784.55,362.7 784.60,366.0 784.65,365.9 784.70,366.6 784.75,362.8 784.80,363.5 784.85,366.6 784.90,367.7 784.95,366.1 785.00,365.2 785.05,362.8 785.10,365.2 785.15,369.6 785.20,364.6 785.25,360.9 785.30,365.2 785.35,366.2 785.40,364.7 785.45,365.8 785.50,363.7 785.55,361.1 785.60,365.2 785.65,369.5 785.70,367.5 785.75,365.0 785.80,369.7 785.85,373.4 785.90,367.9 785.95,364.6 786.00,362.5 786.05,359.9 786.10,356.7 786.15,361.9 786.20,365.1 786.25,365.1 786.30,365.4 786.35,372.3 786.40,371.9 786.45,360.0 786.50,361.1 786.55,364.6 786.60,365.5 786.65,370.1 786.70,369.4 786.75,362.7 786.80,362.3 786.85,364.7 786.90,365.2 786.95,364.3 787.00,363.4 787.05,367.2 787.10,373.9 787.15,364.7 787.20,361.7 787.25,365.8 787.30,367.7 787.35,368.0 787.40,365.7 787.45,366.8 787.50,365.0 787.55,361.4 787.60,363.9 787.65,361.1 787.70,356.1 787.75,364.4 787.80,367.9 787.85,368.6 787.90,366.4 787.95,368.3 788.00,368.5 788.05,366.9 788.10,364.0 788.15,364.5 788.20,361.4 788.25,358.7 788.30,365.8 788.35,369.8 788.40,368.4 788.45,363.0 788.50,359.4 788.55,365.3 788.60,364.1 788.65,364.1 788.70,366.5 788.75,369.7 788.80,368.3 788.85,365.1 788.90,361.6 788.95,358.5 789.00,366.6" fill="none" stroke="#ffa500" stroke-width="0.6"/>
<polyline points="520.1,365.2 520.45,345 520.80,379 521.15,357.1 521.5,365.2" fill="none" stroke="#ffa500" stroke-width="0.6"/>
<polyline points="525.0,365.2 525.35,352 525.70,387.5 526.05,359.9 526.4,365.2" fill="none" stroke="#ffa500" stroke-width="0.6"/>
<polyline points="586.8,365.2 587.15,348.2 587.50,381 587.85,358.4 588.2,365.2" fill="none" stroke="#ffa500" stroke-width="0.6"/>
<polyline points="594.2,365.2 594.55,349 594.90,376 595.25,358.7 595.6,365.2" fill="none" stroke="#ffa500" stroke-width="0.6"/>
<polyline points="604.1,365.2 604.45,349 604.80,377 605.15,358.7 605.5,365.2" fill="none" stroke="#ffa500" stroke-width="0.6"/>
<polyline points="626.4,365.2 626.75,349.5 627.10,378.7 627.45,358.9 627.8,365.2" fill="none" stroke="#ffa500" stroke-width="0.6"/>
<polyline points="633.8,365.2 634.15,346.5 634.50,376 634.85,357.7 635.2,365.2" fill="none" stroke="#ffa500" stroke-width="0.6"/>
<polyline points="510.5,365.2 510.85,350 511.20,384 511.55,359.1 511.9,365.2" fill="none" stroke="#ffa500" stroke-width="0.6"/>
<polyline points="662.5,365.2 662.85,347 663.20,380 663.55,357.9 663.9,365.2" fill="none" stroke="#ffa500" stroke-width="0.6"/>
<polyline points="689.5,365.2 689.85,344 690.20,388 690.55,356.7 690.9,365.2" fill="none" stroke="#ffa500" stroke-width="0.6"/>
<polyline points="704.5,365.2 704.85,346 705.20,386 705.55,357.5 705.9,365.2" fill="none" stroke="#ffa500" stroke-width="0.6"/>
<polyline points="739.5,365.2 739.85,349 740.20,382 740.55,358.7 740.9,365.2" fill="none" stroke="#ffa500" stroke-width="0.6"/>
<polyline points="756.5,365.2 756.85,347 757.20,381 757.55,357.9 757.9,365.2" fill="none" stroke="#ffa500" stroke-width="0.6"/>
<polyline points="770.5,365.2 770.85,348 771.20,384 771.55,358.3 771.9,365.2" fill="none" stroke="#ffa500" stroke-width="0.6"/>
<polyline points="782.5,365.2 782.85,350 783.20,382 783.55,359.1 783.9,365.2" fill="none" stroke="#ffa500" stroke-width="0.6"/>
<rect x="506.7" y="338.3" width="283.3" height="54.0" fill="none" stroke="#000" stroke-width="1.9"/>
<g stroke="#111" stroke-width="0.9">
<line x1="515.0" y1="20.1" x2="515.0" y2="15.3"/>
<line x1="515.0" y1="75.5" x2="515.0" y2="80.1"/>
<line x1="538.6" y1="20.1" x2="538.6" y2="15.3"/>
<line x1="538.6" y1="75.5" x2="538.6" y2="80.1"/>
<line x1="562.2" y1="20.1" x2="562.2" y2="15.3"/>
<line x1="562.2" y1="75.5" x2="562.2" y2="80.1"/>
<line x1="585.9" y1="20.1" x2="585.9" y2="15.3"/>
<line x1="585.9" y1="75.5" x2="585.9" y2="80.1"/>
<line x1="609.5" y1="20.1" x2="609.5" y2="15.3"/>
<line x1="609.5" y1="75.5" x2="609.5" y2="80.1"/>
<line x1="633.1" y1="20.1" x2="633.1" y2="15.3"/>
<line x1="633.1" y1="75.5" x2="633.1" y2="80.1"/>
<line x1="656.7" y1="20.1" x2="656.7" y2="15.3"/>
<line x1="656.7" y1="75.5" x2="656.7" y2="80.1"/>
<line x1="680.3" y1="20.1" x2="680.3" y2="15.3"/>
<line x1="680.3" y1="75.5" x2="680.3" y2="80.1"/>
<line x1="704.0" y1="20.1" x2="704.0" y2="15.3"/>
<line x1="704.0" y1="75.5" x2="704.0" y2="80.1"/>
<line x1="727.6" y1="20.1" x2="727.6" y2="15.3"/>
<line x1="727.6" y1="75.5" x2="727.6" y2="80.1"/>
<line x1="751.2" y1="20.1" x2="751.2" y2="15.3"/>
<line x1="751.2" y1="75.5" x2="751.2" y2="80.1"/>
<line x1="774.8" y1="20.1" x2="774.8" y2="15.3"/>
<line x1="774.8" y1="75.5" x2="774.8" y2="80.1"/>
<line x1="513.6" y1="99.7" x2="513.6" y2="94.9"/>
<line x1="513.6" y1="154.7" x2="513.6" y2="159.3"/>
<line x1="537.2" y1="99.7" x2="537.2" y2="94.9"/>
<line x1="537.2" y1="154.7" x2="537.2" y2="159.3"/>
<line x1="560.8" y1="99.7" x2="560.8" y2="94.9"/>
<line x1="560.8" y1="154.7" x2="560.8" y2="159.3"/>
<line x1="584.5" y1="99.7" x2="584.5" y2="94.9"/>
<line x1="584.5" y1="154.7" x2="584.5" y2="159.3"/>
<line x1="608.1" y1="99.7" x2="608.1" y2="94.9"/>
<line x1="608.1" y1="154.7" x2="608.1" y2="159.3"/>
<line x1="631.7" y1="99.7" x2="631.7" y2="94.9"/>
<line x1="631.7" y1="154.7" x2="631.7" y2="159.3"/>
<line x1="655.3" y1="99.7" x2="655.3" y2="94.9"/>
<line x1="655.3" y1="154.7" x2="655.3" y2="159.3"/>
<line x1="678.9" y1="99.7" x2="678.9" y2="94.9"/>
<line x1="678.9" y1="154.7" x2="678.9" y2="159.3"/>
<line x1="702.6" y1="99.7" x2="702.6" y2="94.9"/>
<line x1="702.6" y1="154.7" x2="702.6" y2="159.3"/>
<line x1="726.2" y1="99.7" x2="726.2" y2="94.9"/>
<line x1="726.2" y1="154.7" x2="726.2" y2="159.3"/>
<line x1="749.8" y1="99.7" x2="749.8" y2="94.9"/>
<line x1="749.8" y1="154.7" x2="749.8" y2="159.3"/>
<line x1="773.4" y1="99.7" x2="773.4" y2="94.9"/>
<line x1="773.4" y1="154.7" x2="773.4" y2="159.3"/>
<line x1="515.4" y1="178.9" x2="515.4" y2="174.1"/>
<line x1="515.4" y1="234.2" x2="515.4" y2="238.8"/>
<line x1="539.0" y1="178.9" x2="539.0" y2="174.1"/>
<line x1="539.0" y1="234.2" x2="539.0" y2="238.8"/>
<line x1="562.6" y1="178.9" x2="562.6" y2="174.1"/>
<line x1="562.6" y1="234.2" x2="562.6" y2="238.8"/>
<line x1="586.3" y1="178.9" x2="586.3" y2="174.1"/>
<line x1="586.3" y1="234.2" x2="586.3" y2="238.8"/>
<line x1="609.9" y1="178.9" x2="609.9" y2="174.1"/>
<line x1="609.9" y1="234.2" x2="609.9" y2="238.8"/>
<line x1="633.5" y1="178.9" x2="633.5" y2="174.1"/>
<line x1="633.5" y1="234.2" x2="633.5" y2="238.8"/>
<line x1="657.1" y1="178.9" x2="657.1" y2="174.1"/>
<line x1="657.1" y1="234.2" x2="657.1" y2="238.8"/>
<line x1="680.7" y1="178.9" x2="680.7" y2="174.1"/>
<line x1="680.7" y1="234.2" x2="680.7" y2="238.8"/>
<line x1="704.4" y1="178.9" x2="704.4" y2="174.1"/>
<line x1="704.4" y1="234.2" x2="704.4" y2="238.8"/>
<line x1="728.0" y1="178.9" x2="728.0" y2="174.1"/>
<line x1="728.0" y1="234.2" x2="728.0" y2="238.8"/>
<line x1="751.6" y1="178.9" x2="751.6" y2="174.1"/>
<line x1="751.6" y1="234.2" x2="751.6" y2="238.8"/>
<line x1="775.2" y1="178.9" x2="775.2" y2="174.1"/>
<line x1="775.2" y1="234.2" x2="775.2" y2="238.8"/>
<line x1="517.6" y1="258.1" x2="517.6" y2="253.3"/>
<line x1="517.6" y1="313.9" x2="517.6" y2="318.5"/>
<line x1="541.2" y1="258.1" x2="541.2" y2="253.3"/>
<line x1="541.2" y1="313.9" x2="541.2" y2="318.5"/>
<line x1="564.8" y1="258.1" x2="564.8" y2="253.3"/>
<line x1="564.8" y1="313.9" x2="564.8" y2="318.5"/>
<line x1="588.5" y1="258.1" x2="588.5" y2="253.3"/>
<line x1="588.5" y1="313.9" x2="588.5" y2="318.5"/>
<line x1="612.1" y1="258.1" x2="612.1" y2="253.3"/>
<line x1="612.1" y1="313.9" x2="612.1" y2="318.5"/>
<line x1="635.7" y1="258.1" x2="635.7" y2="253.3"/>
<line x1="635.7" y1="313.9" x2="635.7" y2="318.5"/>
<line x1="659.3" y1="258.1" x2="659.3" y2="253.3"/>
<line x1="659.3" y1="313.9" x2="659.3" y2="318.5"/>
<line x1="682.9" y1="258.1" x2="682.9" y2="253.3"/>
<line x1="682.9" y1="313.9" x2="682.9" y2="318.5"/>
<line x1="706.6" y1="258.1" x2="706.6" y2="253.3"/>
<line x1="706.6" y1="313.9" x2="706.6" y2="318.5"/>
<line x1="730.2" y1="258.1" x2="730.2" y2="253.3"/>
<line x1="730.2" y1="313.9" x2="730.2" y2="318.5"/>
<line x1="753.8" y1="258.1" x2="753.8" y2="253.3"/>
<line x1="753.8" y1="313.9" x2="753.8" y2="318.5"/>
<line x1="777.4" y1="258.1" x2="777.4" y2="253.3"/>
<line x1="777.4" y1="313.9" x2="777.4" y2="318.5"/>
<line x1="522.6" y1="337.6" x2="522.6" y2="332.8"/>
<line x1="522.6" y1="393.0" x2="522.6" y2="397.6"/>
<line x1="546.2" y1="337.6" x2="546.2" y2="332.8"/>
<line x1="546.2" y1="393.0" x2="546.2" y2="397.6"/>
<line x1="569.8" y1="337.6" x2="569.8" y2="332.8"/>
<line x1="569.8" y1="393.0" x2="569.8" y2="397.6"/>
<line x1="593.5" y1="337.6" x2="593.5" y2="332.8"/>
<line x1="593.5" y1="393.0" x2="593.5" y2="397.6"/>
<line x1="617.1" y1="337.6" x2="617.1" y2="332.8"/>
<line x1="617.1" y1="393.0" x2="617.1" y2="397.6"/>
<line x1="640.7" y1="337.6" x2="640.7" y2="332.8"/>
<line x1="640.7" y1="393.0" x2="640.7" y2="397.6"/>
<line x1="664.3" y1="337.6" x2="664.3" y2="332.8"/>
<line x1="664.3" y1="393.0" x2="664.3" y2="397.6"/>
<line x1="687.9" y1="337.6" x2="687.9" y2="332.8"/>
<line x1="687.9" y1="393.0" x2="687.9" y2="397.6"/>
<line x1="711.6" y1="337.6" x2="711.6" y2="332.8"/>
<line x1="711.6" y1="393.0" x2="711.6" y2="397.6"/>
<line x1="735.2" y1="337.6" x2="735.2" y2="332.8"/>
<line x1="735.2" y1="393.0" x2="735.2" y2="397.6"/>
<line x1="758.8" y1="337.6" x2="758.8" y2="332.8"/>
<line x1="758.8" y1="393.0" x2="758.8" y2="397.6"/>
<line x1="782.4" y1="337.6" x2="782.4" y2="332.8"/>
<line x1="782.4" y1="393.0" x2="782.4" y2="397.6"/>
</g>
<g font-family="Liberation Sans, sans-serif" font-size="10" fill="#222" text-anchor="middle">
<text x="515.0" y="91.8">50</text>
<text x="538.6" y="91.8">55</text>
<text x="562.2" y="91.8">00</text>
<text x="585.9" y="91.8">05</text>
<text x="609.5" y="91.8">10</text>
<text x="633.1" y="91.8">15</text>
<text x="656.7" y="91.8">20</text>
<text x="680.3" y="91.8">25</text>
<text x="704.0" y="91.8">30</text>
<text x="727.6" y="91.8">35</text>
<text x="751.2" y="91.8">40</text>
<text x="774.8" y="91.8">45</text>
<text x="513.6" y="171.1">50</text>
<text x="537.2" y="171.1">55</text>
<text x="560.8" y="171.1">00</text>
<text x="584.5" y="171.1">05</text>
<text x="608.1" y="171.1">10</text>
<text x="631.7" y="171.1">15</text>
<text x="655.3" y="171.1">20</text>
<text x="678.9" y="171.1">25</text>
<text x="702.6" y="171.1">30</text>
<text x="726.2" y="171.1">35</text>
<text x="749.8" y="171.1">40</text>
<text x="773.4" y="171.1">45</text>
<text x="515.4" y="251.6">50</text>
<text x="539.0" y="251.6">55</text>
<text x="562.6" y="251.6">00</text>
<text x="586.3" y="251.6">05</text>
<text x="609.9" y="251.6">10</text>
<text x="633.5" y="251.6">15</text>
<text x="657.1" y="251.6">20</text>
<text x="680.7" y="251.6">25</text>
<text x="704.4" y="251.6">30</text>
<text x="728.0" y="251.6">35</text>
<text x="751.6" y="251.6">40</text>
<text x="775.2" y="251.6">45</text>
<text x="517.6" y="329.9">50</text>
<text x="541.2" y="329.9">55</text>
<text x="564.8" y="329.9">00</text>
<text x="588.5" y="329.9">05</text>
<text x="612.1" y="329.9">10</text>
<text x="635.7" y="329.9">15</text>
<text x="659.3" y="329.9">20</text>
<text x="682.9" y="329.9">25</text>
<text x="706.6" y="329.9">30</text>
<text x="730.2" y="329.9">35</text>
<text x="753.8" y="329.9">40</text>
<text x="777.4" y="329.9">45</text>
<text x="522.6" y="408.7">50</text>
<text x="546.2" y="408.7">55</text>
<text x="569.8" y="408.7">00</text>
<text x="593.5" y="408.7">05</text>
<text x="617.1" y="408.7">10</text>
<text x="640.7" y="408.7">15</text>
<text x="664.3" y="408.7">20</text>
<text x="687.9" y="408.7">25</text>
<text x="711.6" y="408.7">30</text>
<text x="735.2" y="408.7">35</text>
<text x="758.8" y="408.7">40</text>
<text x="782.4" y="408.7">45</text>
</g>
<text x="619.7" y="425.1" font-family="Liberation Sans, sans-serif" font-size="12" fill="#111">Tiempo (s)</text>
<text x="799.5" y="33.2" font-family="Liberation Sans, sans-serif" font-weight="bold" font-size="9.9" fill="#0000ff">La Cruz</text>
<text x="799.5" y="57.25" font-family="Liberation Sans, sans-serif" font-size="10" fill="#222">Acel. Max. 0.5</text>
<text x="799.5" y="74.2" font-family="Liberation Sans, sans-serif" font-size="10" fill="#222">Int JMA: 1</text>
<text x="799.5" y="112.1" font-family="Liberation Sans, sans-serif" font-weight="bold" font-size="9.9" fill="#0000ff">Santa Cruz UCR</text>
<text x="799.5" y="135.05" font-family="Liberation Sans, sans-serif" font-size="10" fill="#222">Acel. Max. 0.5</text>
<text x="799.5" y="153.5" font-family="Liberation Sans, sans-serif" font-size="10" fill="#222">Int JMA: 1</text>
<text x="799.5" y="191.3" font-family="Liberation Sans, sans-serif" font-weight="bold" font-size="9.9" fill="#0000ff">Parque Santa Rosa</text>
<text x="799.5" y="214.35" font-family="Liberation Sans, sans-serif" font-size="10" fill="#222">Acel. Max. 0.5</text>
<text x="799.5" y="232.5" font-family="Liberation Sans, sans-serif" font-size="10" fill="#222">Int JMA: 1</text>
<text x="799.5" y="267.0" font-family="Liberation Sans, sans-serif" font-weight="bold" font-size="9.9" fill="#0000ff">Nosara</text>
<text x="799.5" y="289.9" font-family="Liberation Sans, sans-serif" font-size="10" fill="#222">Acel. Max. 0.0</text>
<text x="799.5" y="308.2" font-family="Liberation Sans, sans-serif" font-size="10" fill="#222">Int JMA: 0</text>
<text x="799.5" y="346.0" font-family="Liberation Sans, sans-serif" font-weight="bold" font-size="9.9" fill="#0000ff">La Sabana</text>
<text x="799.5" y="369.6" font-family="Liberation Sans, sans-serif" font-size="10" fill="#222">Acel. Max. 0.0</text>
<text x="799.5" y="386.5" font-family="Liberation Sans, sans-serif" font-size="10" fill="#222">Int JMA: 0</text>
<text transform="translate(71,34.8) scale(1,1.13)" font-family="Liberation Mono, monospace" font-weight="bold" font-size="11.667" fill="#000" stroke="#000" stroke-width="0.25">Intensidad calculada el 2026/03/26_11:16:49_AM</text>
<text transform="translate(44.5,83.0) scale(1,1.13)" text-anchor="end" font-family="Liberation Mono, monospace" font-weight="bold" font-size="11.667" fill="#000" stroke="#000" stroke-width="0.25">11</text>
<text transform="translate(44.5,139.0) scale(1,1.13)" text-anchor="end" font-family="Liberation Mono, monospace" font-weight="bold" font-size="11.667" fill="#000" stroke="#000" stroke-width="0.25">10.5</text>
<text transform="translate(44.5,194.0) scale(1,1.13)" text-anchor="end" font-family="Liberation Mono, monospace" font-weight="bold" font-size="11.667" fill="#000" stroke="#000" stroke-width="0.25">10</text>
<text transform="translate(44.5,250.0) scale(1,1.13)" text-anchor="end" font-family="Liberation Mono, monospace" font-weight="bold" font-size="11.667" fill="#000" stroke="#000" stroke-width="0.25">9.5</text>
<text transform="translate(44.5,306.0) scale(1,1.13)" text-anchor="end" font-family="Liberation Mono, monospace" font-weight="bold" font-size="11.667" fill="#000" stroke="#000" stroke-width="0.25">9</text>
<text transform="translate(44.5,361.0) scale(1,1.13)" text-anchor="end" font-family="Liberation Mono, monospace" font-weight="bold" font-size="11.667" fill="#000" stroke="#000" stroke-width="0.25">8.5</text>
<text transform="translate(44.5,417.0) scale(1,1.13)" text-anchor="end" font-family="Liberation Mono, monospace" font-weight="bold" font-size="11.667" fill="#000" stroke="#000" stroke-width="0.25">8</text>
<text transform="translate(52.5,429.8) scale(1,1.13)" text-anchor="middle" font-family="Liberation Mono, monospace" font-weight="bold" font-size="11.667" fill="#000" stroke="#000" stroke-width="0.25">-86</text>
<text transform="translate(104.8,429.8) scale(1,1.13)" text-anchor="middle" font-family="Liberation Mono, monospace" font-weight="bold" font-size="11.667" fill="#000" stroke="#000" stroke-width="0.25">-85.5</text>
<text transform="translate(157.2,429.8) scale(1,1.13)" text-anchor="middle" font-family="Liberation Mono, monospace" font-weight="bold" font-size="11.667" fill="#000" stroke="#000" stroke-width="0.25">-85</text>
<text transform="translate(209.6,429.8) scale(1,1.13)" text-anchor="middle" font-family="Liberation Mono, monospace" font-weight="bold" font-size="11.667" fill="#000" stroke="#000" stroke-width="0.25">-84.5</text>
<text transform="translate(261.9,429.8) scale(1,1.13)" text-anchor="middle" font-family="Liberation Mono, monospace" font-weight="bold" font-size="11.667" fill="#000" stroke="#000" stroke-width="0.25">-84</text>
<text transform="translate(314.2,429.8) scale(1,1.13)" text-anchor="middle" font-family="Liberation Mono, monospace" font-weight="bold" font-size="11.667" fill="#000" stroke="#000" stroke-width="0.25">-83.5</text>
<text transform="translate(366.6,429.8) scale(1,1.13)" text-anchor="middle" font-family="Liberation Mono, monospace" font-weight="bold" font-size="11.667" fill="#000" stroke="#000" stroke-width="0.25">-83</text>
<text transform="translate(453.5,417.2) scale(1,1.13)" font-family="Liberation Mono, monospace" font-weight="bold" font-size="11.667" fill="#000" stroke="#000" stroke-width="0.25">0</text>
<text transform="translate(453.5,365.5) scale(1,1.13)" font-family="Liberation Mono, monospace" font-weight="bold" font-size="11.667" fill="#000" stroke="#000" stroke-width="0.25">1</text>
<text transform="translate(453.5,313.8) scale(1,1.13)" font-family="Liberation Mono, monospace" font-weight="bold" font-size="11.667" fill="#000" stroke="#000" stroke-width="0.25">2</text>
<text transform="translate(453.5,262.1) scale(1,1.13)" font-family="Liberation Mono, monospace" font-weight="bold" font-size="11.667" fill="#000" stroke="#000" stroke-width="0.25">3</text>
<text transform="translate(453.5,210.4) scale(1,1.13)" font-family="Liberation Mono, monospace" font-weight="bold" font-size="11.667" fill="#000" stroke="#000" stroke-width="0.25">4</text>
<text transform="translate(453.5,158.7) scale(1,1.13)" font-family="Liberation Mono, monospace" font-weight="bold" font-size="11.667" fill="#000" stroke="#000" stroke-width="0.25">5</text>
<text transform="translate(453.5,107.0) scale(1,1.13)" font-family="Liberation Mono, monospace" font-weight="bold" font-size="11.667" fill="#000" stroke="#000" stroke-width="0.25">6</text>
<text transform="translate(453.5,55.3) scale(1,1.13)" font-family="Liberation Mono, monospace" font-weight="bold" font-size="11.667" fill="#000" stroke="#000" stroke-width="0.25">7</text>
<text transform="translate(475.6,412.5) rotate(-90) scale(1,1.13)" font-family="Liberation Mono, monospace" font-weight="bold" font-size="11.667" fill="#000" stroke="#000" stroke-width="0.25">No sentido</text>
<text transform="translate(475.6,322.5) rotate(-90) scale(1,1.13)" font-family="Liberation Mono, monospace" font-weight="bold" font-size="11.667" fill="#000" stroke="#000" stroke-width="0.25">Debil</text>
<text transform="translate(475.6,261) rotate(-90) scale(1,1.13)" font-family="Liberation Mono, monospace" font-weight="bold" font-size="11.667" fill="#000" stroke="#000" stroke-width="0.25">Moderado</text>
<text transform="translate(475.6,174.5) rotate(-90) scale(1,1.13)" font-family="Liberation Mono, monospace" font-weight="bold" font-size="11.667" fill="#000" stroke="#000" stroke-width="0.25">Fuerte</text>
<text transform="translate(475.6,109) rotate(-90) scale(1,1.13)" font-family="Liberation Mono, monospace" font-weight="bold" font-size="11.667" fill="#000" stroke="#000" stroke-width="0.25">Muy Fuerte</text>
<text x="4" y="447.3" font-family="Liberation Sans, sans-serif" font-size="9.5" fill="#000" textLength="102" lengthAdjust="spacingAndGlyphs">LISUCR 20260326171651</text>
<text x="88.3" y="304" font-family="Liberation Sans, sans-serif" font-size="15" fill="#fff" textLength="151.3" lengthAdjust="spacingAndGlyphs">INTENSIDAD JMA [0 a 7]</text>
<text x="60.1" y="325.1" font-family="Liberation Sans, sans-serif" font-size="11.2" fill="#000">[</text><text x="68.4" y="325.1" font-family="Liberation Sans, sans-serif" font-size="11.2" fill="#000" textLength="5.8" lengthAdjust="spacingAndGlyphs">1</text><text x="77.2" y="325.1" font-family="Liberation Sans, sans-serif" font-size="11.2" fill="#000">]</text>
<text x="86.2" y="325.1" font-family="Liberation Sans, sans-serif" font-size="11.2" fill="#000" textLength="91.9" lengthAdjust="spacingAndGlyphs" xml:space="preserve">La Cruz (1.4 cm/s<tspan dy="-4.6" font-size="8">2</tspan><tspan dy="4.6">)</tspan></text>
<text x="60.1" y="339.7" font-family="Liberation Sans, sans-serif" font-size="11.2" fill="#000">[</text><text x="68.4" y="339.7" font-family="Liberation Sans, sans-serif" font-size="11.2" fill="#000" textLength="5.8" lengthAdjust="spacingAndGlyphs">1</text><text x="77.2" y="339.7" font-family="Liberation Sans, sans-serif" font-size="11.2" fill="#000">]</text>
<text x="86.2" y="339.7" font-family="Liberation Sans, sans-serif" font-size="11.2" fill="#000" textLength="133.6" lengthAdjust="spacingAndGlyphs" xml:space="preserve">Santa Cruz UCR (1.8 cm/s<tspan dy="-4.6" font-size="8">2</tspan><tspan dy="4.6">)</tspan></text>
<text x="60.1" y="354.2" font-family="Liberation Sans, sans-serif" font-size="11.2" fill="#000">[</text><text x="68.4" y="354.2" font-family="Liberation Sans, sans-serif" font-size="11.2" fill="#000" textLength="5.8" lengthAdjust="spacingAndGlyphs">1</text><text x="77.2" y="354.2" font-family="Liberation Sans, sans-serif" font-size="11.2" fill="#000">]</text>
<text x="86.2" y="354.2" font-family="Liberation Sans, sans-serif" font-size="11.2" fill="#000" textLength="146.6" lengthAdjust="spacingAndGlyphs" xml:space="preserve">Parque Santa Rosa (1.1 cm/s<tspan dy="-4.6" font-size="8">2</tspan><tspan dy="4.6">)</tspan></text>
<text x="60.1" y="368.8" font-family="Liberation Sans, sans-serif" font-size="11.2" fill="#000">[</text><text x="68.4" y="368.8" font-family="Liberation Sans, sans-serif" font-size="11.2" fill="#000" textLength="5.8" lengthAdjust="spacingAndGlyphs">0</text><text x="77.2" y="368.8" font-family="Liberation Sans, sans-serif" font-size="11.2" fill="#000">]</text>
<text x="86.2" y="368.8" font-family="Liberation Sans, sans-serif" font-size="11.2" fill="#000" textLength="88.8" lengthAdjust="spacingAndGlyphs" xml:space="preserve">Nosara (1.6 cm/s<tspan dy="-4.6" font-size="8">2</tspan><tspan dy="4.6">)</tspan></text>
<text x="60.1" y="383.3" font-family="Liberation Sans, sans-serif" font-size="11.2" fill="#000">[</text><text x="68.4" y="383.3" font-family="Liberation Sans, sans-serif" font-size="11.2" fill="#000" textLength="5.8" lengthAdjust="spacingAndGlyphs">0</text><text x="77.2" y="383.3" font-family="Liberation Sans, sans-serif" font-size="11.2" fill="#000">]</text>
<text x="86.2" y="383.3" font-family="Liberation Sans, sans-serif" font-size="11.2" fill="#000" textLength="117.7" lengthAdjust="spacingAndGlyphs" xml:space="preserve">Hosp. Nicoya (0.7 cm/s<tspan dy="-4.6" font-size="8">2</tspan><tspan dy="4.6">)</tspan></text>
<text x="60.1" y="397.9" font-family="Liberation Sans, sans-serif" font-size="11.2" fill="#000">[</text><text x="68.4" y="397.9" font-family="Liberation Sans, sans-serif" font-size="11.2" fill="#000" textLength="5.8" lengthAdjust="spacingAndGlyphs">0</text><text x="77.2" y="397.9" font-family="Liberation Sans, sans-serif" font-size="11.2" fill="#000">]</text>
<text x="86.2" y="397.9" font-family="Liberation Sans, sans-serif" font-size="11.2" fill="#000" textLength="104.7" lengthAdjust="spacingAndGlyphs" xml:space="preserve">Los Chiles (0.6 cm/s<tspan dy="-4.6" font-size="8">2</tspan><tspan dy="4.6">)</tspan></text>
</svg>
</body></html>
